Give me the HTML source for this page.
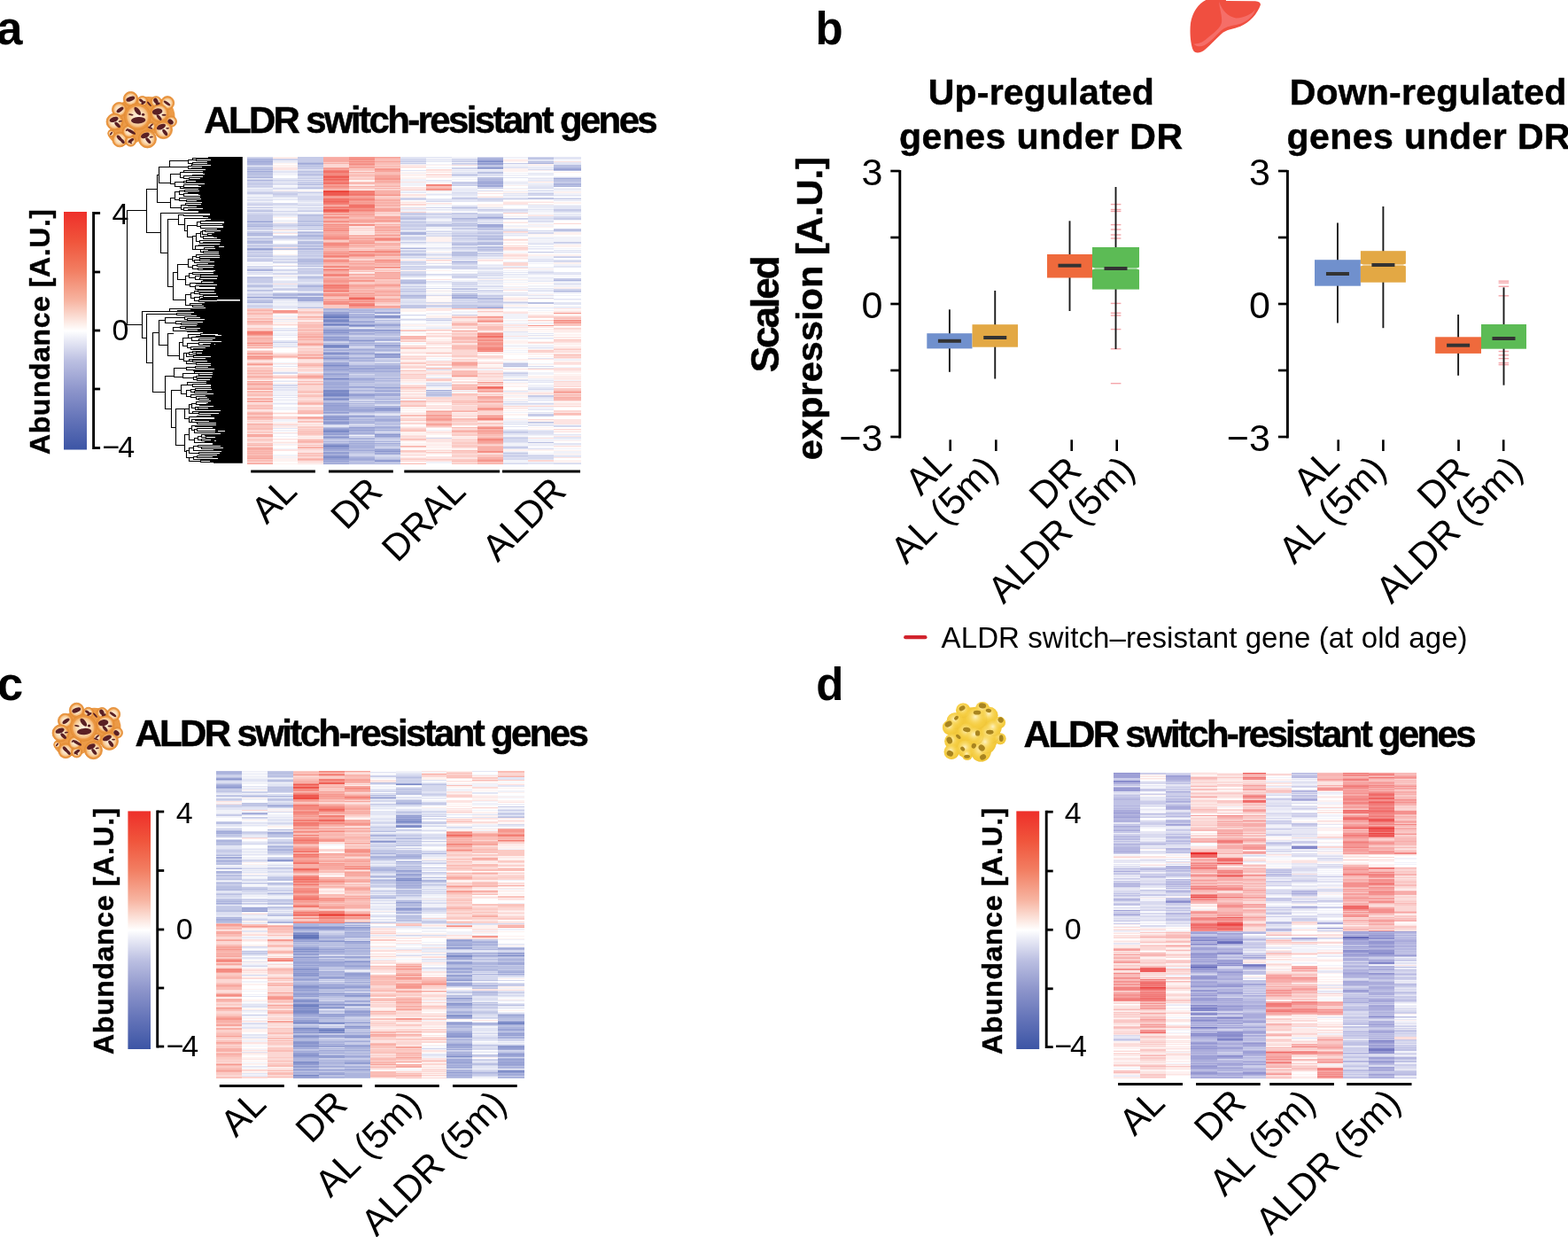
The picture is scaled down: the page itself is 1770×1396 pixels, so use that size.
<!DOCTYPE html>
<html lang="en">
<head>
<meta charset="utf-8">
<title>ALDR switch-resistant genes</title>
<style>
html,body{margin:0;padding:0;background:#fff;}
body{width:1770px;height:1396px;overflow:hidden;}
main,figure{display:block;margin:0;padding:0;width:1770px;height:1396px;}
svg{display:block;font-family:"Liberation Sans",sans-serif;fill:#000;}
</style>
</head>
<body>
<main>
<figure aria-label="ALDR switch-resistant genes across tissues">
<svg width="1770" height="1396" viewBox="0 0 1770 1396" role="img">
<defs>
<linearGradient id="cbg" x1="0" y1="0" x2="0" y2="1">
<stop offset="0" stop-color="#ee2f2a"/>
<stop offset="0.125" stop-color="#f0553c"/>
<stop offset="0.25" stop-color="#f27f63"/>
<stop offset="0.375" stop-color="#f7b5a2"/>
<stop offset="0.47" stop-color="#fdeee9"/>
<stop offset="0.5" stop-color="#ffffff"/>
<stop offset="0.53" stop-color="#eeeff8"/>
<stop offset="0.625" stop-color="#bcc0e2"/>
<stop offset="0.75" stop-color="#8d95cb"/>
<stop offset="0.875" stop-color="#6373b8"/>
<stop offset="1" stop-color="#3c55a5"/>
</linearGradient>
<radialGradient id="bg" cx="0.5" cy="0.5" r="0.5">
<stop offset="0" stop-color="#fdf1e0"/>
<stop offset="0.55" stop-color="#fbe0bc"/>
<stop offset="0.85" stop-color="#f6c48a"/>
<stop offset="1" stop-color="#f0a85e"/>
</radialGradient>
<radialGradient id="wg" cx="0.45" cy="0.4" r="0.6">
<stop offset="0" stop-color="#fff6d0" stop-opacity="0.9"/>
<stop offset="0.4" stop-color="#fbe07a" stop-opacity="0.6"/>
<stop offset="0.8" stop-color="#f6cf42" stop-opacity="0.15"/>
<stop offset="1" stop-color="#e9bd35" stop-opacity="0.55"/>
</radialGradient>
</defs>
<g id="panel-a" aria-label="Panel a: brown adipose tissue heatmap with dendrogram">
<g class="heatmap">
<g shape-rendering="crispEdges">
<path fill="#d4d8ee" d="M279.1 177h28.8v1h-28.8zM279.1 202h28.8v1h-28.8zM279.1 205h28.8v1h-28.8zM279.1 209h28.8v1h-28.8zM279.1 211h28.8v1h-28.8zM279.1 216h28.8v1h-28.8zM279.1 225h28.8v1h-28.8zM279.1 229h28.8v2h-28.8zM279.1 236h28.8v1h-28.8zM279.1 240h28.8v2h-28.8zM279.1 251h28.8v1h-28.8zM279.1 257h28.8v1h-28.8zM279.1 266h28.8v1h-28.8zM279.1 268h28.8v1h-28.8zM279.1 270h28.8v1h-28.8zM279.1 279h28.8v1h-28.8zM279.1 283h28.8v1h-28.8zM279.1 286h28.8v1h-28.8zM279.1 291h28.8v1h-28.8zM279.1 300h28.8v2h-28.8zM279.1 307h28.8v1h-28.8zM279.1 319h28.8v1h-28.8zM279.1 324h28.8v1h-28.8zM279.1 331h28.8v1h-28.8zM279.1 333h28.8v2h-28.8zM279.1 337h28.8v1h-28.8zM279.1 344h28.8v1h-28.8zM279.1 346h28.8v2h-28.8zM307.9 179h28.2v1h-28.2zM307.9 203h28.2v2h-28.2zM307.9 206h28.2v1h-28.2zM307.9 208h28.2v1h-28.2zM307.9 212h28.2v1h-28.2zM307.9 216h28.2v2h-28.2zM307.9 220h28.2v2h-28.2zM307.9 229h28.2v3h-28.2zM307.9 238h28.2v1h-28.2zM307.9 241h28.2v1h-28.2zM307.9 252h28.2v2h-28.2zM307.9 255h28.2v2h-28.2zM307.9 258h28.2v1h-28.2zM307.9 269h28.2v1h-28.2zM307.9 276h28.2v1h-28.2zM307.9 278h28.2v1h-28.2zM307.9 289h28.2v1h-28.2zM307.9 292h28.2v2h-28.2zM307.9 296h28.2v1h-28.2zM307.9 300h28.2v1h-28.2zM307.9 304h28.2v2h-28.2zM307.9 308h28.2v2h-28.2zM307.9 325h28.2v1h-28.2zM307.9 327h28.2v1h-28.2zM307.9 330h28.2v1h-28.2zM307.9 334h28.2v1h-28.2zM307.9 339h28.2v1h-28.2zM307.9 420h28.2v2h-28.2zM307.9 434h28.2v2h-28.2zM307.9 437h28.2v1h-28.2zM336.1 192h28.9v1h-28.9zM336.1 198h28.9v3h-28.9zM336.1 204h28.9v2h-28.9zM336.1 207h28.9v1h-28.9zM336.1 210h28.9v1h-28.9zM336.1 221h28.9v5h-28.9zM336.1 231h28.9v1h-28.9zM336.1 234h28.9v1h-28.9zM336.1 237h28.9v1h-28.9zM336.1 251h28.9v1h-28.9zM336.1 255h28.9v1h-28.9zM336.1 270h28.9v1h-28.9zM336.1 279h28.9v1h-28.9zM336.1 282h28.9v1h-28.9zM336.1 284h28.9v1h-28.9zM336.1 286h28.9v1h-28.9zM336.1 290h28.9v1h-28.9zM336.1 299h28.9v1h-28.9zM336.1 304h28.9v1h-28.9zM336.1 309h28.9v1h-28.9zM336.1 311h28.9v1h-28.9zM336.1 315h28.9v3h-28.9zM336.1 320h28.9v1h-28.9zM336.1 328h28.9v1h-28.9zM336.1 330h28.9v1h-28.9zM336.1 340h28.9v2h-28.9zM336.1 346h28.9v1h-28.9zM365 386h29v1h-29zM365 467h29v1h-29zM365 479h29v1h-29zM394 353h29.2v1h-29.2zM394 369h29.2v1h-29.2zM394 379h29.2v1h-29.2zM394 391h29.2v2h-29.2zM394 409h29.2v1h-29.2zM394 422h29.2v1h-29.2zM394 454h29.2v1h-29.2zM394 493h29.2v1h-29.2zM394 512h29.2v1h-29.2zM394 514h29.2v1h-29.2zM423.2 355h28.9v1h-28.9zM423.2 363h28.9v1h-28.9zM423.2 379h28.9v1h-28.9zM423.2 404h28.9v1h-28.9zM423.2 406h28.9v1h-28.9zM423.2 409h28.9v1h-28.9zM423.2 451h28.9v1h-28.9zM423.2 456h28.9v1h-28.9zM423.2 466h28.9v1h-28.9zM423.2 496h28.9v1h-28.9zM423.2 499h28.9v1h-28.9zM423.2 504h28.9v1h-28.9zM423.2 513h28.9v3h-28.9zM423.2 522h28.9v1h-28.9zM452.1 179h28.5v3h-28.5zM452.1 223h28.5v1h-28.5zM452.1 225h28.5v1h-28.5zM452.1 249h28.5v1h-28.5zM452.1 252h28.5v1h-28.5zM452.1 256h28.5v2h-28.5zM452.1 259h28.5v1h-28.5zM452.1 261h28.5v1h-28.5zM452.1 268h28.5v1h-28.5zM452.1 270h28.5v1h-28.5zM452.1 279h28.5v1h-28.5zM452.1 282h28.5v1h-28.5zM452.1 284h28.5v1h-28.5zM452.1 290h28.5v1h-28.5zM452.1 296h28.5v3h-28.5zM452.1 300h28.5v1h-28.5zM452.1 306h28.5v3h-28.5zM452.1 311h28.5v1h-28.5zM452.1 315h28.5v1h-28.5zM452.1 320h28.5v1h-28.5zM452.1 325h28.5v1h-28.5zM452.1 327h28.5v1h-28.5zM452.1 331h28.5v2h-28.5zM452.1 337h28.5v1h-28.5zM452.1 339h28.5v1h-28.5zM452.1 341h28.5v1h-28.5zM452.1 355h28.5v1h-28.5zM452.1 360h28.5v1h-28.5zM480.6 227h29.4v1h-29.4zM480.6 234h29.4v1h-29.4zM480.6 242h29.4v1h-29.4zM480.6 244h29.4v2h-29.4zM480.6 250h29.4v1h-29.4zM480.6 252h29.4v1h-29.4zM480.6 261h29.4v1h-29.4zM480.6 263h29.4v1h-29.4zM480.6 266h29.4v1h-29.4zM480.6 287h29.4v1h-29.4zM480.6 291h29.4v1h-29.4zM480.6 300h29.4v3h-29.4zM480.6 309h29.4v1h-29.4zM480.6 325h29.4v1h-29.4zM480.6 333h29.4v1h-29.4zM480.6 341h29.4v1h-29.4zM480.6 345h29.4v1h-29.4zM480.6 359h29.4v1h-29.4zM480.6 417h29.4v1h-29.4zM480.6 432h29.4v1h-29.4zM480.6 434h29.4v2h-29.4zM480.6 441h29.4v1h-29.4zM480.6 447h29.4v1h-29.4zM480.6 494h29.4v1h-29.4zM510 179h29.2v3h-29.2zM510 185h29.2v1h-29.2zM510 190h29.2v1h-29.2zM510 196h29.2v1h-29.2zM510 198h29.2v1h-29.2zM510 208h29.2v1h-29.2zM510 217h29.2v1h-29.2zM510 233h29.2v1h-29.2zM510 235h29.2v1h-29.2zM510 242h29.2v4h-29.2zM510 250h29.2v2h-29.2zM510 261h29.2v2h-29.2zM510 264h29.2v1h-29.2zM510 267h29.2v2h-29.2zM510 270h29.2v2h-29.2zM510 277h29.2v1h-29.2zM510 280h29.2v2h-29.2zM510 289h29.2v2h-29.2zM510 292h29.2v1h-29.2zM510 294h29.2v1h-29.2zM510 298h29.2v1h-29.2zM510 300h29.2v1h-29.2zM510 302h29.2v1h-29.2zM510 309h29.2v3h-29.2zM510 313h29.2v1h-29.2zM510 318h29.2v4h-29.2zM510 323h29.2v1h-29.2zM510 328h29.2v2h-29.2zM510 342h29.2v2h-29.2zM539.2 177h28.9v1h-28.9zM539.2 197h28.9v1h-28.9zM539.2 211h28.9v1h-28.9zM539.2 225h28.9v2h-28.9zM539.2 237h28.9v2h-28.9zM539.2 243h28.9v1h-28.9zM539.2 247h28.9v2h-28.9zM539.2 250h28.9v1h-28.9zM539.2 264h28.9v1h-28.9zM539.2 271h28.9v2h-28.9zM539.2 283h28.9v2h-28.9zM539.2 303h28.9v1h-28.9zM539.2 308h28.9v1h-28.9zM539.2 310h28.9v1h-28.9zM539.2 323h28.9v1h-28.9zM539.2 327h28.9v2h-28.9zM539.2 335h28.9v1h-28.9zM539.2 338h28.9v1h-28.9zM539.2 342h28.9v2h-28.9zM568.1 236h28.2v2h-28.2zM568.1 247h28.2v1h-28.2zM568.1 260h28.2v1h-28.2zM568.1 420h28.2v1h-28.2zM568.1 423h28.2v1h-28.2zM568.1 429h28.2v1h-28.2zM568.1 455h28.2v1h-28.2zM568.1 486h28.2v1h-28.2zM568.1 493h28.2v1h-28.2zM568.1 495h28.2v4h-28.2zM568.1 514h28.2v1h-28.2zM568.1 517h28.2v2h-28.2zM568.1 523h28.2v1h-28.2zM596.3 177h28.5v1h-28.5zM596.3 191h28.5v1h-28.5zM596.3 212h28.5v1h-28.5zM596.3 219h28.5v2h-28.5zM596.3 246h28.5v1h-28.5zM596.3 250h28.5v1h-28.5zM596.3 260h28.5v1h-28.5zM596.3 262h28.5v2h-28.5zM596.3 307h28.5v1h-28.5zM596.3 336h28.5v1h-28.5zM596.3 413h28.5v1h-28.5zM596.3 439h28.5v1h-28.5zM596.3 455h28.5v1h-28.5zM596.3 477h28.5v1h-28.5zM596.3 486h28.5v1h-28.5zM596.3 488h28.5v1h-28.5zM596.3 506h28.5v1h-28.5zM596.3 513h28.5v5h-28.5zM624.8 200h31v1h-31zM624.8 238h31v1h-31zM624.8 244h31v2h-31zM624.8 274h31v1h-31zM624.8 289h31v1h-31zM624.8 294h31v2h-31zM624.8 320h31v1h-31zM624.8 480h31v2h-31zM624.8 523h31v1h-31z"/>
<path fill="#c6cbe8" d="M279.1 178h28.8v1h-28.8zM279.1 186h28.8v1h-28.8zM279.1 188h28.8v1h-28.8zM279.1 192h28.8v1h-28.8zM279.1 198h28.8v1h-28.8zM279.1 204h28.8v1h-28.8zM279.1 206h28.8v3h-28.8zM279.1 210h28.8v1h-28.8zM279.1 217h28.8v2h-28.8zM279.1 231h28.8v1h-28.8zM279.1 234h28.8v1h-28.8zM279.1 237h28.8v1h-28.8zM279.1 242h28.8v7h-28.8zM279.1 256h28.8v1h-28.8zM279.1 261h28.8v2h-28.8zM279.1 271h28.8v1h-28.8zM279.1 276h28.8v3h-28.8zM279.1 284h28.8v2h-28.8zM279.1 287h28.8v2h-28.8zM279.1 292h28.8v3h-28.8zM279.1 303h28.8v1h-28.8zM279.1 312h28.8v1h-28.8zM279.1 314h28.8v5h-28.8zM279.1 321h28.8v1h-28.8zM279.1 328h28.8v1h-28.8zM279.1 332h28.8v1h-28.8zM279.1 336h28.8v1h-28.8zM279.1 338h28.8v1h-28.8zM279.1 345h28.8v1h-28.8zM307.9 180h28.2v1h-28.2zM307.9 218h28.2v2h-28.2zM307.9 254h28.2v1h-28.2zM307.9 266h28.2v3h-28.2zM307.9 277h28.2v1h-28.2zM307.9 280h28.2v1h-28.2zM307.9 295h28.2v1h-28.2zM307.9 326h28.2v1h-28.2zM307.9 386h28.2v1h-28.2zM336.1 177h28.9v6h-28.9zM336.1 186h28.9v1h-28.9zM336.1 188h28.9v3h-28.9zM336.1 194h28.9v3h-28.9zM336.1 201h28.9v1h-28.9zM336.1 203h28.9v1h-28.9zM336.1 211h28.9v1h-28.9zM336.1 217h28.9v1h-28.9zM336.1 238h28.9v1h-28.9zM336.1 244h28.9v5h-28.9zM336.1 253h28.9v1h-28.9zM336.1 256h28.9v1h-28.9zM336.1 261h28.9v1h-28.9zM336.1 263h28.9v2h-28.9zM336.1 268h28.9v1h-28.9zM336.1 275h28.9v2h-28.9zM336.1 287h28.9v3h-28.9zM336.1 291h28.9v1h-28.9zM336.1 296h28.9v1h-28.9zM336.1 298h28.9v1h-28.9zM336.1 305h28.9v4h-28.9zM336.1 314h28.9v1h-28.9zM336.1 321h28.9v1h-28.9zM336.1 324h28.9v4h-28.9zM365 368h29v1h-29zM365 385h29v1h-29zM365 393h29v1h-29zM365 396h29v1h-29zM365 408h29v1h-29zM365 496h29v2h-29zM365 499h29v1h-29zM394 348h29.2v1h-29.2zM394 361h29.2v1h-29.2zM394 378h29.2v1h-29.2zM394 390h29.2v1h-29.2zM394 401h29.2v2h-29.2zM394 408h29.2v1h-29.2zM394 410h29.2v2h-29.2zM394 423h29.2v1h-29.2zM394 425h29.2v1h-29.2zM394 432h29.2v1h-29.2zM394 434h29.2v1h-29.2zM394 438h29.2v2h-29.2zM394 442h29.2v2h-29.2zM394 452h29.2v1h-29.2zM394 456h29.2v1h-29.2zM394 466h29.2v1h-29.2zM394 471h29.2v1h-29.2zM394 478h29.2v1h-29.2zM394 480h29.2v2h-29.2zM394 490h29.2v1h-29.2zM394 492h29.2v1h-29.2zM394 496h29.2v1h-29.2zM394 513h29.2v1h-29.2zM394 520h29.2v1h-29.2zM394 522h29.2v1h-29.2zM423.2 350h28.9v2h-28.9zM423.2 359h28.9v1h-28.9zM423.2 362h28.9v1h-28.9zM423.2 370h28.9v2h-28.9zM423.2 386h28.9v1h-28.9zM423.2 393h28.9v1h-28.9zM423.2 398h28.9v1h-28.9zM423.2 405h28.9v1h-28.9zM423.2 425h28.9v1h-28.9zM423.2 428h28.9v1h-28.9zM423.2 431h28.9v2h-28.9zM423.2 442h28.9v1h-28.9zM423.2 447h28.9v1h-28.9zM423.2 449h28.9v1h-28.9zM423.2 477h28.9v1h-28.9zM423.2 479h28.9v2h-28.9zM423.2 488h28.9v1h-28.9zM423.2 494h28.9v2h-28.9zM423.2 497h28.9v1h-28.9zM423.2 505h28.9v1h-28.9zM423.2 516h28.9v2h-28.9zM452.1 182h28.5v1h-28.5zM452.1 184h28.5v1h-28.5zM452.1 224h28.5v1h-28.5zM452.1 240h28.5v3h-28.5zM452.1 244h28.5v2h-28.5zM452.1 250h28.5v2h-28.5zM452.1 253h28.5v3h-28.5zM452.1 258h28.5v1h-28.5zM452.1 267h28.5v1h-28.5zM452.1 269h28.5v1h-28.5zM452.1 273h28.5v1h-28.5zM452.1 283h28.5v1h-28.5zM452.1 288h28.5v1h-28.5zM452.1 295h28.5v1h-28.5zM452.1 301h28.5v1h-28.5zM452.1 303h28.5v1h-28.5zM452.1 309h28.5v2h-28.5zM452.1 323h28.5v1h-28.5zM452.1 326h28.5v1h-28.5zM452.1 328h28.5v2h-28.5zM452.1 336h28.5v1h-28.5zM452.1 344h28.5v1h-28.5zM452.1 346h28.5v1h-28.5zM480.6 241h29.4v1h-29.4zM480.6 255h29.4v1h-29.4zM480.6 344h29.4v1h-29.4zM480.6 346h29.4v1h-29.4zM480.6 361h29.4v1h-29.4zM480.6 443h29.4v1h-29.4zM510 182h29.2v1h-29.2zM510 184h29.2v1h-29.2zM510 189h29.2v1h-29.2zM510 205h29.2v3h-29.2zM510 209h29.2v1h-29.2zM510 223h29.2v2h-29.2zM510 240h29.2v2h-29.2zM510 248h29.2v2h-29.2zM510 253h29.2v1h-29.2zM510 255h29.2v1h-29.2zM510 257h29.2v2h-29.2zM510 263h29.2v1h-29.2zM510 265h29.2v1h-29.2zM510 269h29.2v1h-29.2zM510 273h29.2v2h-29.2zM510 276h29.2v1h-29.2zM510 296h29.2v2h-29.2zM510 301h29.2v1h-29.2zM510 303h29.2v1h-29.2zM510 312h29.2v1h-29.2zM510 325h29.2v1h-29.2zM510 332h29.2v1h-29.2zM510 337h29.2v1h-29.2zM510 339h29.2v1h-29.2zM510 341h29.2v1h-29.2zM510 345h29.2v1h-29.2zM510 347h29.2v1h-29.2zM510 355h29.2v1h-29.2zM539.2 186h28.9v1h-28.9zM539.2 212h28.9v1h-28.9zM539.2 224h28.9v1h-28.9zM539.2 236h28.9v1h-28.9zM539.2 257h28.9v1h-28.9zM539.2 259h28.9v1h-28.9zM539.2 261h28.9v2h-28.9zM539.2 265h28.9v1h-28.9zM539.2 268h28.9v1h-28.9zM539.2 280h28.9v1h-28.9zM539.2 288h28.9v1h-28.9zM539.2 333h28.9v2h-28.9zM539.2 339h28.9v3h-28.9zM539.2 344h28.9v2h-28.9zM568.1 184h28.2v1h-28.2zM568.1 224h28.2v1h-28.2zM568.1 246h28.2v1h-28.2zM568.1 341h28.2v1h-28.2zM568.1 411h28.2v2h-28.2zM568.1 421h28.2v1h-28.2zM568.1 487h28.2v2h-28.2zM568.1 494h28.2v1h-28.2zM568.1 504h28.2v2h-28.2zM568.1 513h28.2v1h-28.2zM568.1 515h28.2v1h-28.2zM596.3 179h28.5v1h-28.5zM596.3 183h28.5v1h-28.5zM596.3 218h28.5v1h-28.5zM596.3 224h28.5v1h-28.5zM596.3 284h28.5v1h-28.5zM596.3 446h28.5v2h-28.5zM596.3 467h28.5v3h-28.5zM624.8 205h31v2h-31zM624.8 224h31v1h-31zM624.8 236h31v2h-31zM624.8 246h31v2h-31zM624.8 258h31v1h-31zM624.8 273h31v1h-31zM624.8 290h31v1h-31zM624.8 314h31v2h-31zM624.8 326h31v1h-31z"/>
<path fill="#acb4dd" d="M279.1 179h28.8v3h-28.8zM279.1 183h28.8v3h-28.8zM279.1 191h28.8v1h-28.8zM279.1 200h28.8v1h-28.8zM279.1 203h28.8v1h-28.8zM279.1 255h28.8v1h-28.8zM279.1 263h28.8v1h-28.8zM279.1 265h28.8v1h-28.8zM279.1 272h28.8v1h-28.8zM279.1 274h28.8v1h-28.8zM279.1 304h28.8v2h-28.8zM279.1 341h28.8v1h-28.8zM307.9 332h28.2v2h-28.2zM336.1 185h28.9v1h-28.9zM336.1 197h28.9v1h-28.9zM336.1 208h28.9v1h-28.9zM336.1 254h28.9v1h-28.9zM336.1 262h28.9v1h-28.9zM336.1 265h28.9v2h-28.9zM336.1 274h28.9v1h-28.9zM336.1 280h28.9v2h-28.9zM336.1 293h28.9v1h-28.9zM336.1 295h28.9v1h-28.9zM336.1 322h28.9v2h-28.9zM336.1 331h28.9v1h-28.9zM336.1 333h28.9v1h-28.9zM365 348h29v2h-29zM365 370h29v2h-29zM365 379h29v1h-29zM365 387h29v1h-29zM365 394h29v1h-29zM365 400h29v1h-29zM365 418h29v2h-29zM365 423h29v1h-29zM365 429h29v2h-29zM365 435h29v1h-29zM365 438h29v2h-29zM365 448h29v1h-29zM365 454h29v1h-29zM365 464h29v1h-29zM365 474h29v1h-29zM365 498h29v1h-29zM365 500h29v1h-29zM365 513h29v1h-29zM394 349h29.2v2h-29.2zM394 354h29.2v3h-29.2zM394 364h29.2v1h-29.2zM394 371h29.2v1h-29.2zM394 374h29.2v1h-29.2zM394 377h29.2v1h-29.2zM394 383h29.2v1h-29.2zM394 385h29.2v1h-29.2zM394 389h29.2v1h-29.2zM394 395h29.2v1h-29.2zM394 403h29.2v1h-29.2zM394 406h29.2v2h-29.2zM394 412h29.2v1h-29.2zM394 418h29.2v1h-29.2zM394 426h29.2v1h-29.2zM394 429h29.2v1h-29.2zM394 431h29.2v1h-29.2zM394 440h29.2v1h-29.2zM394 447h29.2v2h-29.2zM394 455h29.2v1h-29.2zM394 459h29.2v1h-29.2zM394 461h29.2v1h-29.2zM394 473h29.2v1h-29.2zM394 475h29.2v3h-29.2zM394 484h29.2v1h-29.2zM394 486h29.2v3h-29.2zM394 494h29.2v2h-29.2zM394 501h29.2v2h-29.2zM394 504h29.2v1h-29.2zM394 507h29.2v1h-29.2zM394 515h29.2v2h-29.2zM394 521h29.2v1h-29.2zM394 523h29.2v1h-29.2zM423.2 382h28.9v1h-28.9zM423.2 384h28.9v1h-28.9zM423.2 387h28.9v1h-28.9zM423.2 394h28.9v2h-28.9zM423.2 407h28.9v1h-28.9zM423.2 412h28.9v1h-28.9zM423.2 414h28.9v1h-28.9zM423.2 416h28.9v3h-28.9zM423.2 427h28.9v1h-28.9zM423.2 429h28.9v1h-28.9zM423.2 438h28.9v1h-28.9zM423.2 440h28.9v1h-28.9zM423.2 453h28.9v1h-28.9zM423.2 458h28.9v2h-28.9zM423.2 470h28.9v1h-28.9zM423.2 472h28.9v1h-28.9zM423.2 475h28.9v1h-28.9zM423.2 478h28.9v1h-28.9zM423.2 481h28.9v1h-28.9zM423.2 483h28.9v1h-28.9zM423.2 485h28.9v1h-28.9zM423.2 493h28.9v1h-28.9zM423.2 498h28.9v1h-28.9zM423.2 510h28.9v1h-28.9zM423.2 521h28.9v1h-28.9zM423.2 523h28.9v1h-28.9zM452.1 262h28.5v3h-28.5zM452.1 280h28.5v1h-28.5zM452.1 319h28.5v1h-28.5zM452.1 333h28.5v1h-28.5zM510 246h29.2v1h-29.2zM510 275h29.2v1h-29.2zM510 295h29.2v1h-29.2zM510 336h29.2v1h-29.2zM539.2 178h28.9v2h-28.9zM539.2 183h28.9v1h-28.9zM539.2 190h28.9v1h-28.9zM539.2 202h28.9v1h-28.9zM539.2 205h28.9v1h-28.9zM539.2 207h28.9v2h-28.9zM539.2 246h28.9v1h-28.9zM539.2 256h28.9v1h-28.9zM539.2 269h28.9v1h-28.9zM539.2 274h28.9v1h-28.9zM539.2 278h28.9v1h-28.9zM539.2 286h28.9v1h-28.9zM539.2 337h28.9v1h-28.9zM539.2 346h28.9v1h-28.9zM596.3 184h28.5v1h-28.5zM624.8 189h31v1h-31zM624.8 207h31v2h-31zM624.8 210h31v1h-31zM624.8 316h31v1h-31z"/>
<path fill="#a0a9d8" d="M279.1 182h28.8v1h-28.8zM279.1 193h28.8v1h-28.8zM279.1 280h28.8v1h-28.8zM336.1 184h28.9v1h-28.9zM336.1 332h28.9v1h-28.9zM336.1 335h28.9v5h-28.9zM365 353h29v1h-29zM365 359h29v1h-29zM365 364h29v1h-29zM365 376h29v2h-29zM365 382h29v1h-29zM365 384h29v1h-29zM365 395h29v1h-29zM365 397h29v1h-29zM365 402h29v2h-29zM365 405h29v1h-29zM365 410h29v1h-29zM365 414h29v3h-29zM365 421h29v1h-29zM365 424h29v1h-29zM365 426h29v1h-29zM365 431h29v4h-29zM365 436h29v2h-29zM365 456h29v1h-29zM365 459h29v1h-29zM365 461h29v1h-29zM365 463h29v1h-29zM365 466h29v1h-29zM365 469h29v1h-29zM365 475h29v1h-29zM365 483h29v1h-29zM365 488h29v1h-29zM365 492h29v1h-29zM365 494h29v1h-29zM365 507h29v2h-29zM365 512h29v1h-29zM365 519h29v3h-29zM394 352h29.2v1h-29.2zM394 357h29.2v2h-29.2zM394 362h29.2v2h-29.2zM394 368h29.2v1h-29.2zM394 376h29.2v1h-29.2zM394 387h29.2v1h-29.2zM394 394h29.2v1h-29.2zM394 398h29.2v2h-29.2zM394 404h29.2v1h-29.2zM394 413h29.2v1h-29.2zM394 416h29.2v2h-29.2zM394 419h29.2v1h-29.2zM394 427h29.2v2h-29.2zM394 436h29.2v2h-29.2zM394 444h29.2v1h-29.2zM394 460h29.2v1h-29.2zM394 463h29.2v2h-29.2zM394 469h29.2v1h-29.2zM394 483h29.2v1h-29.2zM394 489h29.2v1h-29.2zM394 498h29.2v1h-29.2zM394 500h29.2v1h-29.2zM394 503h29.2v1h-29.2zM394 505h29.2v1h-29.2zM394 508h29.2v1h-29.2zM394 517h29.2v3h-29.2zM423.2 352h28.9v1h-28.9zM423.2 367h28.9v1h-28.9zM423.2 375h28.9v1h-28.9zM423.2 383h28.9v1h-28.9zM423.2 389h28.9v1h-28.9zM423.2 392h28.9v1h-28.9zM423.2 401h28.9v1h-28.9zM423.2 413h28.9v1h-28.9zM423.2 419h28.9v1h-28.9zM423.2 444h28.9v3h-28.9zM423.2 450h28.9v1h-28.9zM423.2 473h28.9v2h-28.9zM423.2 482h28.9v1h-28.9zM423.2 491h28.9v1h-28.9zM423.2 500h28.9v1h-28.9zM423.2 508h28.9v1h-28.9zM423.2 511h28.9v2h-28.9zM480.6 440h29.4v1h-29.4zM510 333h29.2v1h-29.2zM510 335h29.2v1h-29.2zM539.2 180h28.9v1h-28.9zM539.2 204h28.9v1h-28.9zM539.2 209h28.9v2h-28.9zM539.2 245h28.9v1h-28.9zM539.2 253h28.9v3h-28.9zM539.2 347h28.9v1h-28.9zM624.8 190h31v1h-31zM624.8 201h31v1h-31zM624.8 328h31v1h-31z"/>
<path fill="#e2e5f4" d="M279.1 187h28.8v1h-28.8zM279.1 201h28.8v1h-28.8zM279.1 213h28.8v3h-28.8zM279.1 219h28.8v1h-28.8zM279.1 222h28.8v2h-28.8zM279.1 226h28.8v1h-28.8zM279.1 228h28.8v1h-28.8zM279.1 233h28.8v1h-28.8zM279.1 239h28.8v1h-28.8zM279.1 259h28.8v2h-28.8zM279.1 267h28.8v1h-28.8zM279.1 275h28.8v1h-28.8zM279.1 290h28.8v1h-28.8zM279.1 295h28.8v1h-28.8zM279.1 302h28.8v1h-28.8zM279.1 308h28.8v2h-28.8zM279.1 320h28.8v1h-28.8zM279.1 325h28.8v2h-28.8zM279.1 329h28.8v2h-28.8zM279.1 342h28.8v2h-28.8zM307.9 182h28.2v1h-28.2zM307.9 193h28.2v2h-28.2zM307.9 201h28.2v2h-28.2zM307.9 207h28.2v1h-28.2zM307.9 213h28.2v1h-28.2zM307.9 222h28.2v1h-28.2zM307.9 225h28.2v1h-28.2zM307.9 233h28.2v2h-28.2zM307.9 239h28.2v1h-28.2zM307.9 242h28.2v2h-28.2zM307.9 262h28.2v1h-28.2zM307.9 270h28.2v1h-28.2zM307.9 275h28.2v1h-28.2zM307.9 288h28.2v1h-28.2zM307.9 290h28.2v2h-28.2zM307.9 312h28.2v1h-28.2zM307.9 317h28.2v3h-28.2zM307.9 321h28.2v3h-28.2zM307.9 341h28.2v1h-28.2zM307.9 345h28.2v3h-28.2zM307.9 360h28.2v1h-28.2zM307.9 370h28.2v1h-28.2zM307.9 372h28.2v2h-28.2zM307.9 378h28.2v1h-28.2zM307.9 384h28.2v2h-28.2zM307.9 388h28.2v1h-28.2zM307.9 390h28.2v2h-28.2zM307.9 413h28.2v1h-28.2zM307.9 430h28.2v1h-28.2zM307.9 439h28.2v2h-28.2zM307.9 446h28.2v1h-28.2zM307.9 448h28.2v1h-28.2zM307.9 455h28.2v1h-28.2zM307.9 483h28.2v1h-28.2zM336.1 191h28.9v1h-28.9zM336.1 202h28.9v1h-28.9zM336.1 209h28.9v1h-28.9zM336.1 213h28.9v1h-28.9zM336.1 216h28.9v1h-28.9zM336.1 218h28.9v3h-28.9zM336.1 226h28.9v2h-28.9zM336.1 229h28.9v2h-28.9zM336.1 232h28.9v1h-28.9zM336.1 235h28.9v2h-28.9zM336.1 241h28.9v1h-28.9zM336.1 257h28.9v1h-28.9zM336.1 259h28.9v1h-28.9zM336.1 271h28.9v1h-28.9zM336.1 301h28.9v2h-28.9zM336.1 318h28.9v2h-28.9zM336.1 334h28.9v1h-28.9zM336.1 342h28.9v4h-28.9zM365 480h29v2h-29zM394 451h29.2v1h-29.2zM394 467h29.2v1h-29.2zM394 479h29.2v1h-29.2zM423.2 354h28.9v1h-28.9zM423.2 360h28.9v1h-28.9zM423.2 397h28.9v1h-28.9zM423.2 408h28.9v1h-28.9zM423.2 457h28.9v1h-28.9zM423.2 467h28.9v2h-28.9zM423.2 487h28.9v1h-28.9zM452.1 177h28.5v2h-28.5zM452.1 183h28.5v1h-28.5zM452.1 192h28.5v1h-28.5zM452.1 217h28.5v1h-28.5zM452.1 234h28.5v1h-28.5zM452.1 236h28.5v1h-28.5zM452.1 243h28.5v1h-28.5zM452.1 248h28.5v1h-28.5zM452.1 265h28.5v1h-28.5zM452.1 271h28.5v1h-28.5zM452.1 274h28.5v2h-28.5zM452.1 285h28.5v1h-28.5zM452.1 289h28.5v1h-28.5zM452.1 291h28.5v1h-28.5zM452.1 302h28.5v1h-28.5zM452.1 304h28.5v1h-28.5zM452.1 312h28.5v1h-28.5zM452.1 321h28.5v2h-28.5zM452.1 324h28.5v1h-28.5zM452.1 330h28.5v1h-28.5zM452.1 340h28.5v1h-28.5zM452.1 342h28.5v2h-28.5zM452.1 361h28.5v1h-28.5zM480.6 177h29.4v1h-29.4zM480.6 180h29.4v1h-29.4zM480.6 182h29.4v1h-29.4zM480.6 203h29.4v1h-29.4zM480.6 219h29.4v1h-29.4zM480.6 224h29.4v3h-29.4zM480.6 236h29.4v1h-29.4zM480.6 240h29.4v1h-29.4zM480.6 243h29.4v1h-29.4zM480.6 246h29.4v1h-29.4zM480.6 251h29.4v1h-29.4zM480.6 260h29.4v1h-29.4zM480.6 264h29.4v2h-29.4zM480.6 273h29.4v1h-29.4zM480.6 279h29.4v2h-29.4zM480.6 286h29.4v1h-29.4zM480.6 288h29.4v1h-29.4zM480.6 297h29.4v1h-29.4zM480.6 310h29.4v1h-29.4zM480.6 317h29.4v2h-29.4zM480.6 342h29.4v1h-29.4zM480.6 360h29.4v1h-29.4zM480.6 370h29.4v1h-29.4zM480.6 426h29.4v1h-29.4zM480.6 433h29.4v1h-29.4zM510 192h29.2v1h-29.2zM510 194h29.2v2h-29.2zM510 213h29.2v1h-29.2zM510 215h29.2v1h-29.2zM510 218h29.2v3h-29.2zM510 222h29.2v1h-29.2zM510 225h29.2v3h-29.2zM510 232h29.2v1h-29.2zM510 236h29.2v2h-29.2zM510 256h29.2v1h-29.2zM510 259h29.2v2h-29.2zM510 272h29.2v1h-29.2zM510 278h29.2v1h-29.2zM510 282h29.2v2h-29.2zM510 291h29.2v1h-29.2zM510 299h29.2v1h-29.2zM510 322h29.2v1h-29.2zM510 327h29.2v1h-29.2zM510 338h29.2v1h-29.2zM510 340h29.2v1h-29.2zM539.2 192h28.9v2h-28.9zM539.2 196h28.9v1h-28.9zM539.2 198h28.9v1h-28.9zM539.2 215h28.9v1h-28.9zM539.2 223h28.9v1h-28.9zM539.2 227h28.9v1h-28.9zM539.2 234h28.9v1h-28.9zM539.2 240h28.9v2h-28.9zM539.2 251h28.9v2h-28.9zM539.2 260h28.9v1h-28.9zM539.2 289h28.9v1h-28.9zM539.2 291h28.9v1h-28.9zM539.2 299h28.9v1h-28.9zM539.2 301h28.9v2h-28.9zM539.2 306h28.9v2h-28.9zM539.2 309h28.9v1h-28.9zM539.2 311h28.9v1h-28.9zM539.2 313h28.9v2h-28.9zM539.2 316h28.9v2h-28.9zM539.2 319h28.9v1h-28.9zM539.2 322h28.9v1h-28.9zM539.2 325h28.9v1h-28.9zM539.2 329h28.9v2h-28.9zM539.2 332h28.9v1h-28.9zM568.1 188h28.2v2h-28.2zM568.1 200h28.2v1h-28.2zM568.1 206h28.2v1h-28.2zM568.1 218h28.2v1h-28.2zM568.1 220h28.2v1h-28.2zM568.1 223h28.2v1h-28.2zM568.1 238h28.2v2h-28.2zM568.1 258h28.2v2h-28.2zM568.1 263h28.2v1h-28.2zM568.1 265h28.2v1h-28.2zM568.1 301h28.2v1h-28.2zM568.1 307h28.2v1h-28.2zM568.1 309h28.2v1h-28.2zM568.1 330h28.2v1h-28.2zM568.1 332h28.2v2h-28.2zM568.1 340h28.2v1h-28.2zM568.1 342h28.2v1h-28.2zM568.1 347h28.2v1h-28.2zM568.1 374h28.2v1h-28.2zM568.1 409h28.2v1h-28.2zM568.1 422h28.2v1h-28.2zM568.1 425h28.2v1h-28.2zM568.1 428h28.2v1h-28.2zM568.1 441h28.2v1h-28.2zM568.1 453h28.2v1h-28.2zM568.1 456h28.2v1h-28.2zM568.1 476h28.2v1h-28.2zM568.1 478h28.2v1h-28.2zM568.1 481h28.2v1h-28.2zM568.1 485h28.2v1h-28.2zM568.1 489h28.2v2h-28.2zM568.1 499h28.2v1h-28.2zM568.1 503h28.2v1h-28.2zM568.1 506h28.2v1h-28.2zM568.1 510h28.2v1h-28.2zM568.1 512h28.2v1h-28.2zM568.1 516h28.2v1h-28.2zM568.1 522h28.2v1h-28.2zM596.3 180h28.5v2h-28.5zM596.3 189h28.5v1h-28.5zM596.3 195h28.5v1h-28.5zM596.3 197h28.5v1h-28.5zM596.3 201h28.5v1h-28.5zM596.3 203h28.5v1h-28.5zM596.3 207h28.5v1h-28.5zM596.3 209h28.5v3h-28.5zM596.3 214h28.5v2h-28.5zM596.3 217h28.5v1h-28.5zM596.3 231h28.5v1h-28.5zM596.3 233h28.5v1h-28.5zM596.3 236h28.5v1h-28.5zM596.3 244h28.5v2h-28.5zM596.3 247h28.5v3h-28.5zM596.3 268h28.5v1h-28.5zM596.3 274h28.5v2h-28.5zM596.3 278h28.5v1h-28.5zM596.3 280h28.5v1h-28.5zM596.3 292h28.5v4h-28.5zM596.3 306h28.5v1h-28.5zM596.3 308h28.5v2h-28.5zM596.3 313h28.5v1h-28.5zM596.3 317h28.5v1h-28.5zM596.3 325h28.5v1h-28.5zM596.3 327h28.5v2h-28.5zM596.3 333h28.5v1h-28.5zM596.3 347h28.5v1h-28.5zM596.3 376h28.5v1h-28.5zM596.3 378h28.5v1h-28.5zM596.3 381h28.5v1h-28.5zM596.3 392h28.5v1h-28.5zM596.3 404h28.5v1h-28.5zM596.3 415h28.5v1h-28.5zM596.3 429h28.5v1h-28.5zM596.3 431h28.5v1h-28.5zM596.3 437h28.5v2h-28.5zM596.3 448h28.5v2h-28.5zM596.3 451h28.5v1h-28.5zM596.3 456h28.5v1h-28.5zM596.3 462h28.5v1h-28.5zM596.3 465h28.5v1h-28.5zM596.3 479h28.5v2h-28.5zM596.3 487h28.5v1h-28.5zM596.3 489h28.5v2h-28.5zM596.3 502h28.5v1h-28.5zM596.3 518h28.5v1h-28.5zM596.3 522h28.5v2h-28.5zM624.8 177h31v3h-31zM624.8 183h31v3h-31zM624.8 213h31v1h-31zM624.8 220h31v1h-31zM624.8 223h31v1h-31zM624.8 226h31v1h-31zM624.8 232h31v4h-31zM624.8 239h31v1h-31zM624.8 242h31v1h-31zM624.8 261h31v1h-31zM624.8 282h31v1h-31zM624.8 284h31v1h-31zM624.8 293h31v1h-31zM624.8 300h31v2h-31zM624.8 307h31v3h-31zM624.8 317h31v1h-31zM624.8 327h31v1h-31zM624.8 329h31v2h-31zM624.8 337h31v1h-31zM624.8 341h31v3h-31zM624.8 346h31v1h-31zM624.8 490h31v1h-31zM624.8 493h31v2h-31zM624.8 500h31v2h-31zM624.8 514h31v2h-31zM624.8 522h31v1h-31z"/>
<path fill="#b9c0e2" d="M279.1 189h28.8v2h-28.8zM279.1 194h28.8v4h-28.8zM279.1 199h28.8v1h-28.8zM279.1 238h28.8v1h-28.8zM279.1 249h28.8v1h-28.8zM279.1 252h28.8v3h-28.8zM279.1 258h28.8v1h-28.8zM279.1 264h28.8v1h-28.8zM279.1 269h28.8v1h-28.8zM279.1 273h28.8v1h-28.8zM279.1 282h28.8v1h-28.8zM279.1 289h28.8v1h-28.8zM279.1 313h28.8v1h-28.8zM279.1 322h28.8v2h-28.8zM279.1 327h28.8v1h-28.8zM279.1 339h28.8v2h-28.8zM307.9 281h28.2v1h-28.2zM307.9 331h28.2v1h-28.2zM307.9 336h28.2v2h-28.2zM336.1 183h28.9v1h-28.9zM336.1 187h28.9v1h-28.9zM336.1 193h28.9v1h-28.9zM336.1 206h28.9v1h-28.9zM336.1 212h28.9v1h-28.9zM336.1 242h28.9v2h-28.9zM336.1 249h28.9v2h-28.9zM336.1 252h28.9v1h-28.9zM336.1 258h28.9v1h-28.9zM336.1 267h28.9v1h-28.9zM336.1 269h28.9v1h-28.9zM336.1 272h28.9v2h-28.9zM336.1 277h28.9v2h-28.9zM336.1 283h28.9v1h-28.9zM336.1 285h28.9v1h-28.9zM336.1 292h28.9v1h-28.9zM336.1 294h28.9v1h-28.9zM336.1 297h28.9v1h-28.9zM336.1 300h28.9v1h-28.9zM336.1 303h28.9v1h-28.9zM336.1 312h28.9v2h-28.9zM336.1 347h28.9v1h-28.9zM365 350h29v2h-29zM365 369h29v1h-29zM365 378h29v1h-29zM365 388h29v1h-29zM365 401h29v1h-29zM365 406h29v2h-29zM365 420h29v1h-29zM365 425h29v1h-29zM365 452h29v2h-29zM365 468h29v1h-29zM365 482h29v1h-29zM365 491h29v1h-29zM365 495h29v1h-29zM365 509h29v1h-29zM365 522h29v1h-29zM394 351h29.2v1h-29.2zM394 359h29.2v2h-29.2zM394 365h29.2v1h-29.2zM394 375h29.2v1h-29.2zM394 380h29.2v3h-29.2zM394 386h29.2v1h-29.2zM394 388h29.2v1h-29.2zM394 393h29.2v1h-29.2zM394 396h29.2v2h-29.2zM394 400h29.2v1h-29.2zM394 405h29.2v1h-29.2zM394 414h29.2v1h-29.2zM394 420h29.2v2h-29.2zM394 424h29.2v1h-29.2zM394 430h29.2v1h-29.2zM394 433h29.2v1h-29.2zM394 435h29.2v1h-29.2zM394 441h29.2v1h-29.2zM394 449h29.2v2h-29.2zM394 453h29.2v1h-29.2zM394 457h29.2v2h-29.2zM394 465h29.2v1h-29.2zM394 468h29.2v1h-29.2zM394 472h29.2v1h-29.2zM394 474h29.2v1h-29.2zM394 497h29.2v1h-29.2zM394 499h29.2v1h-29.2zM394 506h29.2v1h-29.2zM394 509h29.2v3h-29.2zM423.2 348h28.9v2h-28.9zM423.2 361h28.9v1h-28.9zM423.2 364h28.9v2h-28.9zM423.2 368h28.9v2h-28.9zM423.2 374h28.9v1h-28.9zM423.2 376h28.9v3h-28.9zM423.2 380h28.9v2h-28.9zM423.2 388h28.9v1h-28.9zM423.2 391h28.9v1h-28.9zM423.2 396h28.9v1h-28.9zM423.2 410h28.9v2h-28.9zM423.2 420h28.9v5h-28.9zM423.2 426h28.9v1h-28.9zM423.2 430h28.9v1h-28.9zM423.2 433h28.9v4h-28.9zM423.2 439h28.9v1h-28.9zM423.2 443h28.9v1h-28.9zM423.2 448h28.9v1h-28.9zM423.2 452h28.9v1h-28.9zM423.2 454h28.9v2h-28.9zM423.2 464h28.9v2h-28.9zM423.2 469h28.9v1h-28.9zM423.2 471h28.9v1h-28.9zM423.2 476h28.9v1h-28.9zM423.2 484h28.9v1h-28.9zM423.2 486h28.9v1h-28.9zM423.2 489h28.9v1h-28.9zM423.2 501h28.9v3h-28.9zM423.2 506h28.9v1h-28.9zM423.2 518h28.9v1h-28.9zM452.1 246h28.5v2h-28.5zM452.1 286h28.5v2h-28.5zM452.1 316h28.5v3h-28.5zM452.1 334h28.5v2h-28.5zM452.1 345h28.5v1h-28.5zM452.1 347h28.5v1h-28.5zM480.6 253h29.4v2h-29.4zM480.6 442h29.4v1h-29.4zM480.6 444h29.4v3h-29.4zM510 197h29.2v1h-29.2zM510 234h29.2v1h-29.2zM510 247h29.2v1h-29.2zM510 252h29.2v1h-29.2zM510 254h29.2v1h-29.2zM510 266h29.2v1h-29.2zM510 279h29.2v1h-29.2zM510 284h29.2v5h-29.2zM510 326h29.2v1h-29.2zM510 331h29.2v1h-29.2zM510 334h29.2v1h-29.2zM510 344h29.2v1h-29.2zM510 346h29.2v1h-29.2zM539.2 187h28.9v2h-28.9zM539.2 194h28.9v2h-28.9zM539.2 200h28.9v2h-28.9zM539.2 203h28.9v1h-28.9zM539.2 242h28.9v1h-28.9zM539.2 244h28.9v1h-28.9zM539.2 258h28.9v1h-28.9zM539.2 263h28.9v1h-28.9zM539.2 266h28.9v2h-28.9zM539.2 270h28.9v1h-28.9zM539.2 273h28.9v1h-28.9zM539.2 275h28.9v2h-28.9zM539.2 279h28.9v1h-28.9zM539.2 281h28.9v2h-28.9zM539.2 336h28.9v1h-28.9zM568.1 410h28.2v1h-28.2zM568.1 413h28.2v1h-28.2zM568.1 511h28.2v1h-28.2zM596.3 178h28.5v1h-28.5zM596.3 182h28.5v1h-28.5zM596.3 223h28.5v1h-28.5zM596.3 341h28.5v2h-28.5zM596.3 476h28.5v1h-28.5zM596.3 499h28.5v1h-28.5zM624.8 186h31v3h-31zM624.8 192h31v1h-31zM624.8 202h31v3h-31zM624.8 209h31v1h-31zM624.8 259h31v2h-31z"/>
<path fill="#f1f2f9" d="M279.1 212h28.8v1h-28.8zM279.1 220h28.8v2h-28.8zM279.1 224h28.8v1h-28.8zM279.1 227h28.8v1h-28.8zM279.1 232h28.8v1h-28.8zM279.1 235h28.8v1h-28.8zM279.1 297h28.8v2h-28.8zM279.1 306h28.8v1h-28.8zM279.1 310h28.8v1h-28.8zM307.9 181h28.2v1h-28.2zM307.9 183h28.2v1h-28.2zM307.9 192h28.2v1h-28.2zM307.9 195h28.2v3h-28.2zM307.9 205h28.2v1h-28.2zM307.9 210h28.2v2h-28.2zM307.9 214h28.2v1h-28.2zM307.9 223h28.2v2h-28.2zM307.9 232h28.2v1h-28.2zM307.9 235h28.2v3h-28.2zM307.9 240h28.2v1h-28.2zM307.9 244h28.2v1h-28.2zM307.9 248h28.2v3h-28.2zM307.9 257h28.2v1h-28.2zM307.9 261h28.2v1h-28.2zM307.9 265h28.2v1h-28.2zM307.9 271h28.2v1h-28.2zM307.9 294h28.2v1h-28.2zM307.9 297h28.2v1h-28.2zM307.9 303h28.2v1h-28.2zM307.9 306h28.2v2h-28.2zM307.9 310h28.2v1h-28.2zM307.9 313h28.2v2h-28.2zM307.9 316h28.2v1h-28.2zM307.9 324h28.2v1h-28.2zM307.9 328h28.2v1h-28.2zM307.9 342h28.2v3h-28.2zM307.9 348h28.2v1h-28.2zM307.9 356h28.2v2h-28.2zM307.9 362h28.2v1h-28.2zM307.9 371h28.2v1h-28.2zM307.9 375h28.2v3h-28.2zM307.9 380h28.2v1h-28.2zM307.9 387h28.2v1h-28.2zM307.9 389h28.2v1h-28.2zM307.9 409h28.2v1h-28.2zM307.9 411h28.2v1h-28.2zM307.9 419h28.2v1h-28.2zM307.9 429h28.2v1h-28.2zM307.9 433h28.2v1h-28.2zM307.9 436h28.2v1h-28.2zM307.9 438h28.2v1h-28.2zM307.9 441h28.2v5h-28.2zM307.9 450h28.2v3h-28.2zM307.9 454h28.2v1h-28.2zM307.9 456h28.2v1h-28.2zM307.9 459h28.2v4h-28.2zM307.9 473h28.2v3h-28.2zM307.9 480h28.2v1h-28.2zM307.9 485h28.2v2h-28.2zM307.9 489h28.2v1h-28.2zM307.9 492h28.2v1h-28.2zM307.9 501h28.2v1h-28.2zM307.9 506h28.2v1h-28.2zM307.9 513h28.2v2h-28.2zM307.9 516h28.2v1h-28.2zM336.1 228h28.9v1h-28.9zM336.1 233h28.9v1h-28.9zM336.1 239h28.9v2h-28.9zM336.1 260h28.9v1h-28.9zM336.1 310h28.9v1h-28.9zM336.1 329h28.9v1h-28.9zM336.1 420h28.9v1h-28.9zM394 370h29.2v1h-29.2zM394 491h29.2v1h-29.2zM423.2 385h28.9v1h-28.9zM452.1 185h28.5v1h-28.5zM452.1 195h28.5v1h-28.5zM452.1 202h28.5v3h-28.5zM452.1 206h28.5v4h-28.5zM452.1 215h28.5v2h-28.5zM452.1 237h28.5v2h-28.5zM452.1 260h28.5v1h-28.5zM452.1 266h28.5v1h-28.5zM452.1 272h28.5v1h-28.5zM452.1 277h28.5v1h-28.5zM452.1 281h28.5v1h-28.5zM452.1 294h28.5v1h-28.5zM452.1 299h28.5v1h-28.5zM452.1 313h28.5v1h-28.5zM452.1 338h28.5v1h-28.5zM452.1 356h28.5v1h-28.5zM452.1 359h28.5v1h-28.5zM452.1 365h28.5v1h-28.5zM452.1 368h28.5v1h-28.5zM452.1 370h28.5v1h-28.5zM452.1 374h28.5v1h-28.5zM452.1 387h28.5v1h-28.5zM452.1 432h28.5v1h-28.5zM452.1 451h28.5v1h-28.5zM480.6 178h29.4v2h-29.4zM480.6 181h29.4v1h-29.4zM480.6 185h29.4v1h-29.4zM480.6 189h29.4v1h-29.4zM480.6 204h29.4v2h-29.4zM480.6 215h29.4v1h-29.4zM480.6 218h29.4v1h-29.4zM480.6 220h29.4v1h-29.4zM480.6 231h29.4v1h-29.4zM480.6 233h29.4v1h-29.4zM480.6 237h29.4v1h-29.4zM480.6 247h29.4v3h-29.4zM480.6 256h29.4v3h-29.4zM480.6 262h29.4v1h-29.4zM480.6 274h29.4v2h-29.4zM480.6 277h29.4v1h-29.4zM480.6 281h29.4v2h-29.4zM480.6 285h29.4v1h-29.4zM480.6 289h29.4v1h-29.4zM480.6 292h29.4v1h-29.4zM480.6 299h29.4v1h-29.4zM480.6 303h29.4v1h-29.4zM480.6 311h29.4v1h-29.4zM480.6 319h29.4v2h-29.4zM480.6 323h29.4v1h-29.4zM480.6 328h29.4v1h-29.4zM480.6 331h29.4v2h-29.4zM480.6 353h29.4v2h-29.4zM480.6 362h29.4v4h-29.4zM480.6 368h29.4v2h-29.4zM480.6 404h29.4v1h-29.4zM480.6 406h29.4v1h-29.4zM480.6 414h29.4v1h-29.4zM480.6 423h29.4v1h-29.4zM480.6 431h29.4v1h-29.4zM480.6 436h29.4v2h-29.4zM480.6 485h29.4v1h-29.4zM480.6 521h29.4v2h-29.4zM510 177h29.2v2h-29.2zM510 183h29.2v1h-29.2zM510 187h29.2v1h-29.2zM510 191h29.2v1h-29.2zM510 193h29.2v1h-29.2zM510 199h29.2v2h-29.2zM510 202h29.2v1h-29.2zM510 211h29.2v2h-29.2zM510 214h29.2v1h-29.2zM510 216h29.2v1h-29.2zM510 221h29.2v1h-29.2zM510 231h29.2v1h-29.2zM510 238h29.2v1h-29.2zM510 293h29.2v1h-29.2zM510 306h29.2v1h-29.2zM510 308h29.2v1h-29.2zM510 314h29.2v1h-29.2zM510 316h29.2v2h-29.2zM510 324h29.2v1h-29.2zM510 330h29.2v1h-29.2zM510 351h29.2v3h-29.2zM510 440h29.2v1h-29.2zM510 442h29.2v1h-29.2zM539.2 191h28.9v1h-28.9zM539.2 199h28.9v1h-28.9zM539.2 214h28.9v1h-28.9zM539.2 235h28.9v1h-28.9zM539.2 249h28.9v1h-28.9zM539.2 285h28.9v1h-28.9zM539.2 287h28.9v1h-28.9zM539.2 290h28.9v1h-28.9zM539.2 298h28.9v1h-28.9zM539.2 300h28.9v1h-28.9zM539.2 304h28.9v2h-28.9zM539.2 312h28.9v1h-28.9zM539.2 318h28.9v1h-28.9zM539.2 320h28.9v2h-28.9zM539.2 324h28.9v1h-28.9zM539.2 331h28.9v1h-28.9zM539.2 416h28.9v2h-28.9zM568.1 177h28.2v2h-28.2zM568.1 185h28.2v3h-28.2zM568.1 195h28.2v1h-28.2zM568.1 197h28.2v2h-28.2zM568.1 204h28.2v2h-28.2zM568.1 207h28.2v2h-28.2zM568.1 212h28.2v1h-28.2zM568.1 215h28.2v1h-28.2zM568.1 219h28.2v1h-28.2zM568.1 221h28.2v2h-28.2zM568.1 225h28.2v1h-28.2zM568.1 231h28.2v1h-28.2zM568.1 235h28.2v1h-28.2zM568.1 244h28.2v1h-28.2zM568.1 254h28.2v2h-28.2zM568.1 264h28.2v1h-28.2zM568.1 266h28.2v1h-28.2zM568.1 284h28.2v1h-28.2zM568.1 295h28.2v1h-28.2zM568.1 300h28.2v1h-28.2zM568.1 305h28.2v1h-28.2zM568.1 310h28.2v4h-28.2zM568.1 316h28.2v1h-28.2zM568.1 318h28.2v1h-28.2zM568.1 323h28.2v1h-28.2zM568.1 325h28.2v2h-28.2zM568.1 331h28.2v1h-28.2zM568.1 343h28.2v1h-28.2zM568.1 346h28.2v1h-28.2zM568.1 354h28.2v6h-28.2zM568.1 362h28.2v1h-28.2zM568.1 364h28.2v2h-28.2zM568.1 368h28.2v1h-28.2zM568.1 375h28.2v4h-28.2zM568.1 380h28.2v3h-28.2zM568.1 389h28.2v3h-28.2zM568.1 395h28.2v1h-28.2zM568.1 397h28.2v1h-28.2zM568.1 408h28.2v1h-28.2zM568.1 414h28.2v1h-28.2zM568.1 419h28.2v1h-28.2zM568.1 424h28.2v1h-28.2zM568.1 431h28.2v1h-28.2zM568.1 442h28.2v1h-28.2zM568.1 446h28.2v1h-28.2zM568.1 450h28.2v1h-28.2zM568.1 452h28.2v1h-28.2zM568.1 454h28.2v1h-28.2zM568.1 457h28.2v1h-28.2zM568.1 465h28.2v1h-28.2zM568.1 472h28.2v1h-28.2zM568.1 474h28.2v2h-28.2zM568.1 477h28.2v1h-28.2zM568.1 479h28.2v1h-28.2zM568.1 484h28.2v1h-28.2zM568.1 491h28.2v2h-28.2zM568.1 500h28.2v3h-28.2zM568.1 509h28.2v1h-28.2zM568.1 519h28.2v3h-28.2zM596.3 187h28.5v2h-28.5zM596.3 190h28.5v1h-28.5zM596.3 196h28.5v1h-28.5zM596.3 200h28.5v1h-28.5zM596.3 202h28.5v1h-28.5zM596.3 204h28.5v1h-28.5zM596.3 208h28.5v1h-28.5zM596.3 216h28.5v1h-28.5zM596.3 221h28.5v1h-28.5zM596.3 225h28.5v1h-28.5zM596.3 232h28.5v1h-28.5zM596.3 234h28.5v2h-28.5zM596.3 237h28.5v3h-28.5zM596.3 241h28.5v1h-28.5zM596.3 252h28.5v1h-28.5zM596.3 254h28.5v2h-28.5zM596.3 261h28.5v1h-28.5zM596.3 269h28.5v5h-28.5zM596.3 276h28.5v1h-28.5zM596.3 281h28.5v1h-28.5zM596.3 285h28.5v1h-28.5zM596.3 289h28.5v3h-28.5zM596.3 297h28.5v1h-28.5zM596.3 301h28.5v2h-28.5zM596.3 304h28.5v2h-28.5zM596.3 311h28.5v1h-28.5zM596.3 314h28.5v3h-28.5zM596.3 322h28.5v2h-28.5zM596.3 326h28.5v1h-28.5zM596.3 329h28.5v1h-28.5zM596.3 331h28.5v1h-28.5zM596.3 334h28.5v1h-28.5zM596.3 350h28.5v1h-28.5zM596.3 364h28.5v2h-28.5zM596.3 382h28.5v1h-28.5zM596.3 389h28.5v3h-28.5zM596.3 393h28.5v1h-28.5zM596.3 410h28.5v1h-28.5zM596.3 420h28.5v3h-28.5zM596.3 427h28.5v2h-28.5zM596.3 430h28.5v1h-28.5zM596.3 434h28.5v3h-28.5zM596.3 440h28.5v2h-28.5zM596.3 450h28.5v1h-28.5zM596.3 452h28.5v1h-28.5zM596.3 454h28.5v1h-28.5zM596.3 459h28.5v3h-28.5zM596.3 466h28.5v1h-28.5zM596.3 478h28.5v1h-28.5zM596.3 485h28.5v1h-28.5zM596.3 491h28.5v1h-28.5zM596.3 493h28.5v1h-28.5zM596.3 495h28.5v4h-28.5zM596.3 500h28.5v2h-28.5zM596.3 504h28.5v1h-28.5zM596.3 511h28.5v1h-28.5zM596.3 521h28.5v1h-28.5zM624.8 181h31v1h-31zM624.8 199h31v1h-31zM624.8 212h31v1h-31zM624.8 214h31v2h-31zM624.8 218h31v2h-31zM624.8 221h31v1h-31zM624.8 225h31v1h-31zM624.8 231h31v1h-31zM624.8 240h31v2h-31zM624.8 243h31v1h-31zM624.8 248h31v1h-31zM624.8 267h31v6h-31zM624.8 275h31v1h-31zM624.8 280h31v1h-31zM624.8 283h31v1h-31zM624.8 285h31v1h-31zM624.8 298h31v2h-31zM624.8 310h31v1h-31zM624.8 312h31v1h-31zM624.8 318h31v2h-31zM624.8 321h31v3h-31zM624.8 333h31v1h-31zM624.8 338h31v1h-31zM624.8 347h31v1h-31zM624.8 405h31v2h-31zM624.8 414h31v1h-31zM624.8 429h31v1h-31zM624.8 479h31v1h-31zM624.8 491h31v1h-31zM624.8 495h31v2h-31zM624.8 502h31v1h-31zM624.8 506h31v1h-31zM624.8 509h31v3h-31zM624.8 513h31v1h-31z"/>
<path fill="#939ed2" d="M279.1 250h28.8v1h-28.8zM279.1 281h28.8v1h-28.8zM279.1 335h28.8v1h-28.8zM307.9 335h28.2v1h-28.2zM365 352h29v1h-29zM365 363h29v1h-29zM365 365h29v1h-29zM365 367h29v1h-29zM365 373h29v2h-29zM365 380h29v2h-29zM365 392h29v1h-29zM365 409h29v1h-29zM365 411h29v1h-29zM365 413h29v1h-29zM365 417h29v1h-29zM365 422h29v1h-29zM365 428h29v1h-29zM365 447h29v1h-29zM365 449h29v1h-29zM365 451h29v1h-29zM365 455h29v1h-29zM365 457h29v2h-29zM365 460h29v1h-29zM365 462h29v1h-29zM365 465h29v1h-29zM365 471h29v2h-29zM365 477h29v2h-29zM365 484h29v1h-29zM365 489h29v2h-29zM365 501h29v1h-29zM365 505h29v2h-29zM365 510h29v2h-29zM365 517h29v2h-29zM365 523h29v1h-29zM394 366h29.2v1h-29.2zM394 372h29.2v2h-29.2zM394 415h29.2v1h-29.2zM394 445h29.2v2h-29.2zM394 462h29.2v1h-29.2zM394 470h29.2v1h-29.2zM394 482h29.2v1h-29.2zM394 485h29.2v1h-29.2zM423.2 353h28.9v1h-28.9zM423.2 366h28.9v1h-28.9zM423.2 372h28.9v2h-28.9zM423.2 399h28.9v1h-28.9zM423.2 402h28.9v2h-28.9zM423.2 415h28.9v1h-28.9zM423.2 437h28.9v1h-28.9zM423.2 441h28.9v1h-28.9zM423.2 460h28.9v1h-28.9zM423.2 462h28.9v2h-28.9zM423.2 492h28.9v1h-28.9zM423.2 507h28.9v1h-28.9zM423.2 519h28.9v2h-28.9zM539.2 181h28.9v1h-28.9zM539.2 184h28.9v2h-28.9zM539.2 206h28.9v1h-28.9zM624.8 191h31v1h-31z"/>
<path fill="#fbcac4" d="M279.1 348h28.8v1h-28.8zM279.1 351h28.8v2h-28.8zM279.1 356h28.8v1h-28.8zM279.1 366h28.8v1h-28.8zM279.1 370h28.8v2h-28.8zM279.1 380h28.8v1h-28.8zM279.1 391h28.8v1h-28.8zM279.1 397h28.8v1h-28.8zM279.1 409h28.8v1h-28.8zM279.1 412h28.8v1h-28.8zM279.1 420h28.8v1h-28.8zM279.1 422h28.8v2h-28.8zM279.1 426h28.8v2h-28.8zM279.1 436h28.8v1h-28.8zM279.1 443h28.8v2h-28.8zM279.1 459h28.8v1h-28.8zM279.1 468h28.8v2h-28.8zM279.1 475h28.8v1h-28.8zM279.1 477h28.8v2h-28.8zM279.1 482h28.8v1h-28.8zM279.1 487h28.8v2h-28.8zM279.1 501h28.8v1h-28.8zM279.1 504h28.8v1h-28.8zM279.1 518h28.8v1h-28.8zM307.9 400h28.2v2h-28.2zM307.9 403h28.2v1h-28.2zM307.9 425h28.2v2h-28.2zM307.9 479h28.2v1h-28.2zM336.1 351h28.9v1h-28.9zM336.1 353h28.9v1h-28.9zM336.1 360h28.9v1h-28.9zM336.1 363h28.9v3h-28.9zM336.1 370h28.9v2h-28.9zM336.1 373h28.9v2h-28.9zM336.1 384h28.9v3h-28.9zM336.1 393h28.9v1h-28.9zM336.1 396h28.9v4h-28.9zM336.1 402h28.9v1h-28.9zM336.1 413h28.9v2h-28.9zM336.1 422h28.9v1h-28.9zM336.1 427h28.9v1h-28.9zM336.1 434h28.9v1h-28.9zM336.1 442h28.9v1h-28.9zM336.1 446h28.9v1h-28.9zM336.1 453h28.9v1h-28.9zM336.1 476h28.9v1h-28.9zM336.1 481h28.9v2h-28.9zM336.1 484h28.9v3h-28.9zM336.1 488h28.9v1h-28.9zM336.1 490h28.9v1h-28.9zM336.1 512h28.9v2h-28.9zM365 183h29v1h-29zM365 243h29v1h-29zM365 271h29v2h-29zM365 291h29v1h-29zM365 336h29v1h-29zM365 344h29v4h-29zM394 190h29.2v1h-29.2zM394 192h29.2v1h-29.2zM394 195h29.2v2h-29.2zM394 199h29.2v1h-29.2zM394 201h29.2v2h-29.2zM394 205h29.2v1h-29.2zM394 211h29.2v2h-29.2zM394 318h29.2v3h-29.2zM394 329h29.2v1h-29.2zM423.2 186h28.9v1h-28.9zM423.2 189h28.9v1h-28.9zM423.2 208h28.9v1h-28.9zM423.2 214h28.9v1h-28.9zM423.2 221h28.9v1h-28.9zM423.2 224h28.9v1h-28.9zM423.2 233h28.9v1h-28.9zM423.2 240h28.9v1h-28.9zM423.2 254h28.9v1h-28.9zM423.2 261h28.9v1h-28.9zM423.2 263h28.9v1h-28.9zM423.2 272h28.9v1h-28.9zM423.2 278h28.9v1h-28.9zM423.2 280h28.9v1h-28.9zM423.2 289h28.9v1h-28.9zM423.2 291h28.9v1h-28.9zM423.2 300h28.9v1h-28.9zM423.2 304h28.9v2h-28.9zM423.2 315h28.9v2h-28.9zM423.2 318h28.9v1h-28.9zM423.2 325h28.9v1h-28.9zM423.2 334h28.9v3h-28.9zM423.2 341h28.9v2h-28.9zM452.1 372h28.5v2h-28.5zM452.1 385h28.5v1h-28.5zM452.1 393h28.5v1h-28.5zM452.1 409h28.5v2h-28.5zM452.1 418h28.5v1h-28.5zM452.1 422h28.5v1h-28.5zM452.1 449h28.5v1h-28.5zM452.1 457h28.5v1h-28.5zM452.1 474h28.5v1h-28.5zM452.1 484h28.5v2h-28.5zM452.1 495h28.5v1h-28.5zM452.1 508h28.5v2h-28.5zM452.1 518h28.5v1h-28.5zM480.6 372h29.4v1h-29.4zM480.6 398h29.4v1h-29.4zM480.6 411h29.4v1h-29.4zM480.6 428h29.4v2h-29.4zM480.6 463h29.4v1h-29.4zM480.6 476h29.4v1h-29.4zM480.6 481h29.4v1h-29.4zM480.6 510h29.4v1h-29.4zM480.6 518h29.4v1h-29.4zM510 357h29.2v1h-29.2zM510 367h29.2v1h-29.2zM510 376h29.2v2h-29.2zM510 379h29.2v1h-29.2zM510 389h29.2v1h-29.2zM510 394h29.2v1h-29.2zM510 401h29.2v2h-29.2zM510 413h29.2v2h-29.2zM510 425h29.2v1h-29.2zM510 435h29.2v1h-29.2zM510 445h29.2v2h-29.2zM510 453h29.2v1h-29.2zM510 456h29.2v1h-29.2zM510 474h29.2v2h-29.2zM510 478h29.2v1h-29.2zM510 485h29.2v1h-29.2zM510 488h29.2v1h-29.2zM510 490h29.2v2h-29.2zM510 499h29.2v2h-29.2zM510 502h29.2v3h-29.2zM510 509h29.2v3h-29.2zM510 513h29.2v1h-29.2zM510 515h29.2v1h-29.2zM510 518h29.2v2h-29.2zM510 523h29.2v1h-29.2zM539.2 348h28.9v1h-28.9zM539.2 351h28.9v1h-28.9zM539.2 359h28.9v1h-28.9zM539.2 366h28.9v1h-28.9zM539.2 372h28.9v1h-28.9zM539.2 421h28.9v1h-28.9zM539.2 432h28.9v1h-28.9zM539.2 445h28.9v1h-28.9zM539.2 451h28.9v1h-28.9zM539.2 456h28.9v2h-28.9zM539.2 459h28.9v1h-28.9zM539.2 463h28.9v1h-28.9zM539.2 468h28.9v1h-28.9zM539.2 492h28.9v1h-28.9zM539.2 501h28.9v1h-28.9zM539.2 514h28.9v1h-28.9zM568.1 279h28.2v1h-28.2zM596.3 361h28.5v1h-28.5zM596.3 395h28.5v1h-28.5zM596.3 397h28.5v1h-28.5zM624.8 357h31v2h-31zM624.8 365h31v1h-31zM624.8 367h31v1h-31zM624.8 383h31v1h-31zM624.8 394h31v1h-31zM624.8 400h31v2h-31zM624.8 403h31v1h-31zM624.8 438h31v3h-31zM624.8 446h31v2h-31zM624.8 468h31v1h-31z"/>
<path fill="#fabdb6" d="M279.1 349h28.8v1h-28.8zM279.1 353h28.8v1h-28.8zM279.1 359h28.8v2h-28.8zM279.1 364h28.8v2h-28.8zM279.1 379h28.8v1h-28.8zM279.1 382h28.8v1h-28.8zM279.1 384h28.8v2h-28.8zM279.1 388h28.8v1h-28.8zM279.1 390h28.8v1h-28.8zM279.1 396h28.8v1h-28.8zM279.1 400h28.8v2h-28.8zM279.1 415h28.8v1h-28.8zM279.1 417h28.8v3h-28.8zM279.1 424h28.8v1h-28.8zM279.1 431h28.8v2h-28.8zM279.1 434h28.8v2h-28.8zM279.1 437h28.8v1h-28.8zM279.1 442h28.8v1h-28.8zM279.1 445h28.8v2h-28.8zM279.1 449h28.8v1h-28.8zM279.1 457h28.8v2h-28.8zM279.1 460h28.8v2h-28.8zM279.1 465h28.8v1h-28.8zM279.1 472h28.8v2h-28.8zM279.1 481h28.8v1h-28.8zM279.1 483h28.8v2h-28.8zM279.1 496h28.8v1h-28.8zM279.1 500h28.8v1h-28.8zM279.1 508h28.8v1h-28.8zM279.1 510h28.8v1h-28.8zM279.1 512h28.8v2h-28.8zM279.1 519h28.8v2h-28.8zM279.1 522h28.8v1h-28.8zM307.9 353h28.2v1h-28.2zM336.1 352h28.9v1h-28.9zM336.1 358h28.9v1h-28.9zM336.1 366h28.9v4h-28.9zM336.1 375h28.9v2h-28.9zM336.1 378h28.9v1h-28.9zM336.1 381h28.9v2h-28.9zM336.1 401h28.9v1h-28.9zM336.1 410h28.9v2h-28.9zM336.1 423h28.9v1h-28.9zM336.1 430h28.9v1h-28.9zM336.1 441h28.9v1h-28.9zM336.1 443h28.9v1h-28.9zM336.1 445h28.9v1h-28.9zM336.1 447h28.9v1h-28.9zM336.1 454h28.9v1h-28.9zM336.1 456h28.9v1h-28.9zM336.1 463h28.9v3h-28.9zM336.1 475h28.9v1h-28.9zM336.1 487h28.9v1h-28.9zM336.1 489h28.9v1h-28.9zM336.1 496h28.9v2h-28.9zM336.1 499h28.9v1h-28.9zM336.1 502h28.9v1h-28.9zM336.1 511h28.9v1h-28.9zM336.1 514h28.9v1h-28.9zM336.1 517h28.9v1h-28.9zM336.1 519h28.9v1h-28.9zM365 214h29v1h-29zM365 248h29v1h-29zM365 252h29v1h-29zM365 280h29v1h-29zM365 282h29v1h-29zM365 298h29v2h-29zM365 302h29v1h-29zM365 312h29v1h-29zM365 330h29v1h-29zM365 335h29v1h-29zM394 191h29.2v1h-29.2zM394 197h29.2v2h-29.2zM394 207h29.2v1h-29.2zM394 245h29.2v2h-29.2zM394 251h29.2v1h-29.2zM394 267h29.2v1h-29.2zM394 270h29.2v1h-29.2zM394 276h29.2v1h-29.2zM394 278h29.2v2h-29.2zM394 281h29.2v1h-29.2zM394 290h29.2v2h-29.2zM394 296h29.2v1h-29.2zM394 299h29.2v1h-29.2zM394 306h29.2v1h-29.2zM394 315h29.2v1h-29.2zM394 326h29.2v2h-29.2zM423.2 179h28.9v3h-28.9zM423.2 183h28.9v3h-28.9zM423.2 187h28.9v2h-28.9zM423.2 194h28.9v3h-28.9zM423.2 206h28.9v2h-28.9zM423.2 209h28.9v1h-28.9zM423.2 223h28.9v1h-28.9zM423.2 227h28.9v1h-28.9zM423.2 230h28.9v1h-28.9zM423.2 234h28.9v1h-28.9zM423.2 264h28.9v1h-28.9zM423.2 266h28.9v2h-28.9zM423.2 277h28.9v1h-28.9zM423.2 279h28.9v1h-28.9zM423.2 290h28.9v1h-28.9zM423.2 292h28.9v1h-28.9zM423.2 297h28.9v1h-28.9zM423.2 317h28.9v1h-28.9zM423.2 319h28.9v2h-28.9zM423.2 324h28.9v1h-28.9zM423.2 326h28.9v2h-28.9zM423.2 331h28.9v1h-28.9zM452.1 380h28.5v1h-28.5zM452.1 382h28.5v1h-28.5zM452.1 392h28.5v1h-28.5zM452.1 437h28.5v1h-28.5zM452.1 452h28.5v2h-28.5zM452.1 458h28.5v1h-28.5zM452.1 468h28.5v2h-28.5zM452.1 486h28.5v1h-28.5zM452.1 496h28.5v1h-28.5zM452.1 503h28.5v2h-28.5zM452.1 523h28.5v1h-28.5zM480.6 210h29.4v2h-29.4zM480.6 415h29.4v1h-29.4zM480.6 465h29.4v3h-29.4zM480.6 470h29.4v1h-29.4zM480.6 475h29.4v1h-29.4zM480.6 477h29.4v1h-29.4zM480.6 480h29.4v1h-29.4zM510 348h29.2v1h-29.2zM510 358h29.2v1h-29.2zM510 364h29.2v2h-29.2zM510 380h29.2v1h-29.2zM510 382h29.2v2h-29.2zM510 385h29.2v2h-29.2zM510 390h29.2v4h-29.2zM510 408h29.2v1h-29.2zM510 418h29.2v5h-29.2zM510 436h29.2v3h-29.2zM510 444h29.2v1h-29.2zM510 452h29.2v1h-29.2zM510 454h29.2v1h-29.2zM510 463h29.2v1h-29.2zM510 472h29.2v2h-29.2zM510 482h29.2v1h-29.2zM510 487h29.2v1h-29.2zM510 508h29.2v1h-29.2zM510 520h29.2v1h-29.2zM539.2 360h28.9v1h-28.9zM539.2 368h28.9v4h-28.9zM539.2 433h28.9v1h-28.9zM539.2 440h28.9v1h-28.9zM539.2 442h28.9v1h-28.9zM539.2 454h28.9v1h-28.9zM539.2 458h28.9v1h-28.9zM539.2 470h28.9v1h-28.9zM539.2 474h28.9v1h-28.9zM539.2 477h28.9v1h-28.9zM539.2 490h28.9v2h-28.9zM539.2 493h28.9v1h-28.9zM539.2 503h28.9v1h-28.9zM539.2 513h28.9v1h-28.9zM539.2 515h28.9v1h-28.9zM539.2 521h28.9v2h-28.9zM624.8 359h31v1h-31zM624.8 366h31v1h-31zM624.8 450h31v1h-31zM624.8 466h31v2h-31z"/>
<path fill="#f8b0a8" d="M279.1 350h28.8v1h-28.8zM279.1 354h28.8v1h-28.8zM279.1 362h28.8v2h-28.8zM279.1 373h28.8v1h-28.8zM279.1 383h28.8v1h-28.8zM279.1 386h28.8v1h-28.8zM279.1 392h28.8v1h-28.8zM279.1 405h28.8v1h-28.8zM279.1 410h28.8v1h-28.8zM279.1 421h28.8v1h-28.8zM279.1 438h28.8v1h-28.8zM279.1 441h28.8v1h-28.8zM279.1 452h28.8v1h-28.8zM279.1 466h28.8v2h-28.8zM279.1 470h28.8v2h-28.8zM279.1 491h28.8v1h-28.8zM279.1 502h28.8v1h-28.8zM279.1 505h28.8v1h-28.8zM279.1 507h28.8v1h-28.8zM279.1 509h28.8v1h-28.8zM279.1 511h28.8v1h-28.8zM279.1 514h28.8v3h-28.8zM307.9 402h28.2v1h-28.2zM336.1 357h28.9v1h-28.9zM336.1 372h28.9v1h-28.9zM336.1 377h28.9v1h-28.9zM336.1 379h28.9v1h-28.9zM336.1 383h28.9v1h-28.9zM336.1 387h28.9v1h-28.9zM336.1 412h28.9v1h-28.9zM336.1 426h28.9v1h-28.9zM336.1 433h28.9v1h-28.9zM336.1 455h28.9v1h-28.9zM336.1 466h28.9v1h-28.9zM336.1 470h28.9v1h-28.9zM336.1 472h28.9v1h-28.9zM336.1 498h28.9v1h-28.9zM336.1 504h28.9v2h-28.9zM336.1 518h28.9v1h-28.9zM365 177h29v2h-29zM365 180h29v1h-29zM365 182h29v1h-29zM365 184h29v1h-29zM365 213h29v1h-29zM365 231h29v1h-29zM365 240h29v1h-29zM365 247h29v1h-29zM365 251h29v1h-29zM365 261h29v1h-29zM365 263h29v1h-29zM365 273h29v1h-29zM365 281h29v1h-29zM365 292h29v1h-29zM365 296h29v2h-29zM365 303h29v1h-29zM365 307h29v2h-29zM365 313h29v1h-29zM365 319h29v1h-29zM365 334h29v1h-29zM365 337h29v1h-29zM365 339h29v1h-29zM394 187h29.2v1h-29.2zM394 194h29.2v1h-29.2zM394 206h29.2v1h-29.2zM394 210h29.2v1h-29.2zM394 240h29.2v1h-29.2zM394 243h29.2v2h-29.2zM394 247h29.2v1h-29.2zM394 265h29.2v2h-29.2zM394 268h29.2v1h-29.2zM394 275h29.2v1h-29.2zM394 294h29.2v2h-29.2zM394 298h29.2v1h-29.2zM394 300h29.2v1h-29.2zM394 304h29.2v1h-29.2zM394 309h29.2v2h-29.2zM394 312h29.2v3h-29.2zM394 324h29.2v2h-29.2zM394 332h29.2v1h-29.2zM394 334h29.2v1h-29.2zM394 341h29.2v1h-29.2zM394 346h29.2v1h-29.2zM423.2 178h28.9v1h-28.9zM423.2 197h28.9v1h-28.9zM423.2 203h28.9v2h-28.9zM423.2 210h28.9v1h-28.9zM423.2 212h28.9v1h-28.9zM423.2 215h28.9v4h-28.9zM423.2 226h28.9v1h-28.9zM423.2 228h28.9v2h-28.9zM423.2 231h28.9v2h-28.9zM423.2 247h28.9v1h-28.9zM423.2 250h28.9v1h-28.9zM423.2 253h28.9v1h-28.9zM423.2 255h28.9v1h-28.9zM423.2 257h28.9v3h-28.9zM423.2 262h28.9v1h-28.9zM423.2 274h28.9v3h-28.9zM423.2 281h28.9v2h-28.9zM423.2 286h28.9v1h-28.9zM423.2 298h28.9v2h-28.9zM423.2 308h28.9v6h-28.9zM423.2 323h28.9v1h-28.9zM423.2 329h28.9v2h-28.9zM423.2 332h28.9v1h-28.9zM423.2 338h28.9v3h-28.9zM423.2 347h28.9v1h-28.9zM452.1 379h28.5v1h-28.5zM452.1 381h28.5v1h-28.5zM480.6 212h29.4v1h-29.4zM510 366h29.2v1h-29.2zM510 381h29.2v1h-29.2zM510 412h29.2v1h-29.2zM510 423h29.2v1h-29.2zM510 434h29.2v1h-29.2zM510 439h29.2v1h-29.2zM510 464h29.2v1h-29.2zM539.2 361h28.9v1h-28.9zM539.2 363h28.9v1h-28.9zM539.2 375h28.9v1h-28.9zM539.2 385h28.9v1h-28.9zM539.2 439h28.9v1h-28.9zM539.2 449h28.9v2h-28.9zM539.2 452h28.9v1h-28.9zM539.2 481h28.9v1h-28.9zM539.2 484h28.9v2h-28.9zM539.2 487h28.9v1h-28.9zM539.2 489h28.9v1h-28.9zM539.2 494h28.9v1h-28.9zM539.2 500h28.9v1h-28.9zM539.2 504h28.9v5h-28.9zM539.2 516h28.9v2h-28.9zM539.2 523h28.9v1h-28.9zM624.8 441h31v1h-31zM624.8 445h31v1h-31zM624.8 448h31v2h-31zM624.8 451h31v1h-31z"/>
<path fill="#fcd7d3" d="M279.1 355h28.8v1h-28.8zM279.1 357h28.8v2h-28.8zM279.1 361h28.8v1h-28.8zM279.1 372h28.8v1h-28.8zM279.1 406h28.8v1h-28.8zM279.1 414h28.8v1h-28.8zM279.1 416h28.8v1h-28.8zM279.1 428h28.8v1h-28.8zM279.1 447h28.8v1h-28.8zM279.1 451h28.8v1h-28.8zM279.1 455h28.8v2h-28.8zM279.1 464h28.8v1h-28.8zM279.1 480h28.8v1h-28.8zM279.1 485h28.8v2h-28.8zM279.1 493h28.8v3h-28.8zM279.1 497h28.8v2h-28.8zM279.1 503h28.8v1h-28.8zM279.1 521h28.8v1h-28.8zM307.9 366h28.2v1h-28.2zM307.9 424h28.2v1h-28.2zM307.9 466h28.2v1h-28.2zM307.9 470h28.2v3h-28.2zM336.1 349h28.9v1h-28.9zM336.1 354h28.9v1h-28.9zM336.1 356h28.9v1h-28.9zM336.1 359h28.9v1h-28.9zM336.1 390h28.9v2h-28.9zM336.1 394h28.9v2h-28.9zM336.1 405h28.9v1h-28.9zM336.1 409h28.9v1h-28.9zM336.1 416h28.9v3h-28.9zM336.1 421h28.9v1h-28.9zM336.1 431h28.9v2h-28.9zM336.1 435h28.9v6h-28.9zM336.1 448h28.9v2h-28.9zM336.1 451h28.9v2h-28.9zM336.1 459h28.9v4h-28.9zM336.1 473h28.9v1h-28.9zM336.1 479h28.9v1h-28.9zM336.1 483h28.9v1h-28.9zM336.1 491h28.9v1h-28.9zM336.1 495h28.9v1h-28.9zM336.1 500h28.9v1h-28.9zM336.1 506h28.9v2h-28.9zM336.1 515h28.9v2h-28.9zM336.1 521h28.9v1h-28.9zM365 185h29v4h-29zM394 200h29.2v1h-29.2zM394 213h29.2v1h-29.2zM394 252h29.2v1h-29.2zM394 257h29.2v2h-29.2zM394 260h29.2v1h-29.2zM394 280h29.2v1h-29.2zM394 282h29.2v1h-29.2zM394 292h29.2v2h-29.2zM394 305h29.2v1h-29.2zM394 311h29.2v1h-29.2zM423.2 211h28.9v1h-28.9zM423.2 213h28.9v1h-28.9zM423.2 222h28.9v1h-28.9zM423.2 239h28.9v1h-28.9zM423.2 241h28.9v3h-28.9zM423.2 251h28.9v2h-28.9zM423.2 273h28.9v1h-28.9zM423.2 306h28.9v1h-28.9zM423.2 343h28.9v2h-28.9zM452.1 188h28.5v1h-28.5zM452.1 214h28.5v1h-28.5zM452.1 230h28.5v2h-28.5zM452.1 239h28.5v1h-28.5zM452.1 383h28.5v2h-28.5zM452.1 390h28.5v1h-28.5zM452.1 402h28.5v1h-28.5zM452.1 404h28.5v2h-28.5zM452.1 413h28.5v3h-28.5zM452.1 423h28.5v5h-28.5zM452.1 435h28.5v2h-28.5zM452.1 438h28.5v2h-28.5zM452.1 441h28.5v1h-28.5zM452.1 454h28.5v3h-28.5zM452.1 472h28.5v2h-28.5zM452.1 477h28.5v2h-28.5zM452.1 483h28.5v1h-28.5zM452.1 492h28.5v1h-28.5zM452.1 494h28.5v1h-28.5zM452.1 510h28.5v1h-28.5zM452.1 517h28.5v1h-28.5zM452.1 520h28.5v1h-28.5zM480.6 191h29.4v1h-29.4zM480.6 197h29.4v1h-29.4zM480.6 293h29.4v1h-29.4zM480.6 348h29.4v1h-29.4zM480.6 376h29.4v1h-29.4zM480.6 379h29.4v1h-29.4zM480.6 387h29.4v1h-29.4zM480.6 392h29.4v1h-29.4zM480.6 408h29.4v1h-29.4zM480.6 412h29.4v1h-29.4zM480.6 416h29.4v1h-29.4zM480.6 421h29.4v1h-29.4zM480.6 427h29.4v1h-29.4zM480.6 448h29.4v3h-29.4zM480.6 452h29.4v2h-29.4zM480.6 508h29.4v1h-29.4zM480.6 519h29.4v1h-29.4zM510 362h29.2v1h-29.2zM510 369h29.2v2h-29.2zM510 374h29.2v2h-29.2zM510 378h29.2v1h-29.2zM510 384h29.2v1h-29.2zM510 395h29.2v6h-29.2zM510 405h29.2v2h-29.2zM510 415h29.2v1h-29.2zM510 431h29.2v1h-29.2zM510 447h29.2v5h-29.2zM510 455h29.2v1h-29.2zM510 458h29.2v5h-29.2zM510 469h29.2v1h-29.2zM510 476h29.2v2h-29.2zM510 479h29.2v1h-29.2zM510 483h29.2v2h-29.2zM510 489h29.2v1h-29.2zM510 495h29.2v4h-29.2zM510 501h29.2v1h-29.2zM510 514h29.2v1h-29.2zM510 521h29.2v2h-29.2zM539.2 367h28.9v1h-28.9zM539.2 401h28.9v3h-28.9zM539.2 410h28.9v1h-28.9zM539.2 415h28.9v1h-28.9zM539.2 422h28.9v1h-28.9zM539.2 424h28.9v2h-28.9zM539.2 429h28.9v1h-28.9zM539.2 434h28.9v2h-28.9zM539.2 455h28.9v1h-28.9zM539.2 464h28.9v4h-28.9zM539.2 478h28.9v2h-28.9zM539.2 502h28.9v1h-28.9zM539.2 511h28.9v1h-28.9zM568.1 240h28.2v1h-28.2zM568.1 261h28.2v1h-28.2zM568.1 270h28.2v1h-28.2zM568.1 277h28.2v1h-28.2zM568.1 280h28.2v2h-28.2zM568.1 288h28.2v1h-28.2zM568.1 296h28.2v4h-28.2zM568.1 302h28.2v1h-28.2zM568.1 458h28.2v1h-28.2zM596.3 356h28.5v3h-28.5zM596.3 386h28.5v1h-28.5zM596.3 396h28.5v1h-28.5zM596.3 416h28.5v1h-28.5zM596.3 458h28.5v1h-28.5zM596.3 473h28.5v1h-28.5zM596.3 519h28.5v2h-28.5zM624.8 252h31v1h-31zM624.8 360h31v1h-31zM624.8 370h31v2h-31zM624.8 384h31v2h-31zM624.8 393h31v1h-31zM624.8 397h31v1h-31zM624.8 399h31v1h-31zM624.8 402h31v1h-31zM624.8 409h31v1h-31zM624.8 416h31v1h-31zM624.8 430h31v1h-31zM624.8 436h31v1h-31zM624.8 458h31v1h-31zM624.8 463h31v2h-31zM624.8 484h31v1h-31z"/>
<path fill="#fde4e2" d="M279.1 367h28.8v3h-28.8zM279.1 393h28.8v1h-28.8zM279.1 395h28.8v1h-28.8zM279.1 407h28.8v2h-28.8zM279.1 413h28.8v1h-28.8zM279.1 448h28.8v1h-28.8zM279.1 454h28.8v1h-28.8zM279.1 462h28.8v2h-28.8zM279.1 474h28.8v1h-28.8zM279.1 489h28.8v1h-28.8zM279.1 499h28.8v1h-28.8zM307.9 178h28.2v1h-28.2zM307.9 189h28.2v3h-28.2zM307.9 259h28.2v1h-28.2zM307.9 263h28.2v1h-28.2zM307.9 279h28.2v1h-28.2zM307.9 320h28.2v1h-28.2zM307.9 398h28.2v2h-28.2zM307.9 410h28.2v1h-28.2zM307.9 423h28.2v1h-28.2zM307.9 477h28.2v1h-28.2zM307.9 481h28.2v1h-28.2zM307.9 488h28.2v1h-28.2zM307.9 495h28.2v1h-28.2zM307.9 499h28.2v1h-28.2zM307.9 507h28.2v2h-28.2zM336.1 348h28.9v1h-28.9zM336.1 350h28.9v1h-28.9zM336.1 355h28.9v1h-28.9zM336.1 361h28.9v1h-28.9zM336.1 392h28.9v1h-28.9zM336.1 406h28.9v3h-28.9zM336.1 415h28.9v1h-28.9zM336.1 419h28.9v1h-28.9zM336.1 428h28.9v2h-28.9zM336.1 450h28.9v1h-28.9zM336.1 457h28.9v1h-28.9zM336.1 467h28.9v1h-28.9zM336.1 474h28.9v1h-28.9zM336.1 477h28.9v1h-28.9zM336.1 493h28.9v1h-28.9zM336.1 501h28.9v1h-28.9zM336.1 503h28.9v1h-28.9zM336.1 508h28.9v3h-28.9zM336.1 520h28.9v1h-28.9zM336.1 523h28.9v1h-28.9zM394 193h29.2v1h-29.2zM394 208h29.2v2h-29.2zM394 255h29.2v2h-29.2zM394 259h29.2v1h-29.2zM394 262h29.2v2h-29.2zM394 308h29.2v1h-29.2zM423.2 303h28.9v1h-28.9zM452.1 186h28.5v1h-28.5zM452.1 205h28.5v1h-28.5zM452.1 211h28.5v3h-28.5zM452.1 219h28.5v2h-28.5zM452.1 228h28.5v1h-28.5zM452.1 235h28.5v1h-28.5zM452.1 293h28.5v1h-28.5zM452.1 391h28.5v1h-28.5zM452.1 397h28.5v2h-28.5zM452.1 401h28.5v1h-28.5zM452.1 403h28.5v1h-28.5zM452.1 408h28.5v1h-28.5zM452.1 412h28.5v1h-28.5zM452.1 417h28.5v1h-28.5zM452.1 419h28.5v3h-28.5zM452.1 429h28.5v1h-28.5zM452.1 434h28.5v1h-28.5zM452.1 444h28.5v2h-28.5zM452.1 447h28.5v2h-28.5zM452.1 466h28.5v1h-28.5zM452.1 471h28.5v1h-28.5zM452.1 482h28.5v1h-28.5zM452.1 491h28.5v1h-28.5zM452.1 493h28.5v1h-28.5zM452.1 512h28.5v3h-28.5zM452.1 516h28.5v1h-28.5zM452.1 519h28.5v1h-28.5zM480.6 192h29.4v1h-29.4zM480.6 194h29.4v1h-29.4zM480.6 196h29.4v1h-29.4zM480.6 199h29.4v1h-29.4zM480.6 229h29.4v1h-29.4zM480.6 294h29.4v1h-29.4zM480.6 315h29.4v1h-29.4zM480.6 350h29.4v1h-29.4zM480.6 373h29.4v1h-29.4zM480.6 378h29.4v1h-29.4zM480.6 380h29.4v1h-29.4zM480.6 385h29.4v2h-29.4zM480.6 388h29.4v1h-29.4zM480.6 397h29.4v1h-29.4zM480.6 399h29.4v1h-29.4zM480.6 401h29.4v2h-29.4zM480.6 407h29.4v1h-29.4zM480.6 409h29.4v2h-29.4zM480.6 419h29.4v2h-29.4zM480.6 422h29.4v1h-29.4zM480.6 451h29.4v1h-29.4zM480.6 457h29.4v5h-29.4zM480.6 482h29.4v1h-29.4zM480.6 487h29.4v2h-29.4zM480.6 495h29.4v4h-29.4zM480.6 502h29.4v1h-29.4zM480.6 504h29.4v1h-29.4zM480.6 511h29.4v1h-29.4zM480.6 515h29.4v3h-29.4zM480.6 520h29.4v1h-29.4zM510 186h29.2v1h-29.2zM510 356h29.2v1h-29.2zM510 359h29.2v2h-29.2zM510 363h29.2v1h-29.2zM510 368h29.2v1h-29.2zM510 387h29.2v2h-29.2zM510 403h29.2v1h-29.2zM510 407h29.2v1h-29.2zM510 416h29.2v1h-29.2zM510 427h29.2v1h-29.2zM510 430h29.2v1h-29.2zM510 433h29.2v1h-29.2zM510 441h29.2v1h-29.2zM510 457h29.2v1h-29.2zM510 466h29.2v3h-29.2zM510 470h29.2v1h-29.2zM510 493h29.2v1h-29.2zM510 505h29.2v1h-29.2zM510 512h29.2v1h-29.2zM510 516h29.2v2h-29.2zM539.2 218h28.9v1h-28.9zM539.2 222h28.9v1h-28.9zM539.2 293h28.9v2h-28.9zM539.2 352h28.9v1h-28.9zM539.2 356h28.9v1h-28.9zM539.2 364h28.9v2h-28.9zM539.2 373h28.9v1h-28.9zM539.2 397h28.9v2h-28.9zM539.2 404h28.9v1h-28.9zM539.2 408h28.9v2h-28.9zM539.2 418h28.9v3h-28.9zM539.2 423h28.9v1h-28.9zM539.2 426h28.9v3h-28.9zM539.2 443h28.9v2h-28.9zM539.2 446h28.9v1h-28.9zM539.2 475h28.9v1h-28.9zM539.2 480h28.9v1h-28.9zM539.2 512h28.9v1h-28.9zM568.1 180h28.2v1h-28.2zM568.1 228h28.2v3h-28.2zM568.1 251h28.2v1h-28.2zM568.1 262h28.2v1h-28.2zM568.1 271h28.2v1h-28.2zM568.1 282h28.2v1h-28.2zM568.1 286h28.2v2h-28.2zM568.1 289h28.2v1h-28.2zM568.1 291h28.2v1h-28.2zM568.1 327h28.2v1h-28.2zM568.1 337h28.2v1h-28.2zM568.1 352h28.2v2h-28.2zM568.1 366h28.2v2h-28.2zM568.1 369h28.2v1h-28.2zM568.1 379h28.2v1h-28.2zM568.1 416h28.2v1h-28.2zM568.1 443h28.2v1h-28.2zM568.1 460h28.2v1h-28.2zM596.3 205h28.5v1h-28.5zM596.3 228h28.5v1h-28.5zM596.3 243h28.5v1h-28.5zM596.3 369h28.5v1h-28.5zM596.3 387h28.5v1h-28.5zM596.3 399h28.5v1h-28.5zM596.3 405h28.5v1h-28.5zM596.3 443h28.5v2h-28.5zM596.3 494h28.5v1h-28.5zM624.8 182h31v1h-31zM624.8 348h31v1h-31zM624.8 351h31v2h-31zM624.8 373h31v1h-31zM624.8 380h31v1h-31zM624.8 386h31v1h-31zM624.8 391h31v1h-31zM624.8 395h31v2h-31zM624.8 404h31v1h-31zM624.8 410h31v2h-31zM624.8 415h31v1h-31zM624.8 417h31v2h-31zM624.8 425h31v1h-31zM624.8 427h31v1h-31zM624.8 431h31v5h-31zM624.8 444h31v1h-31zM624.8 452h31v1h-31zM624.8 455h31v2h-31zM624.8 465h31v1h-31zM624.8 473h31v6h-31zM624.8 487h31v1h-31zM624.8 492h31v1h-31zM624.8 503h31v1h-31zM624.8 516h31v1h-31z"/>
<path fill="#f37e74" d="M279.1 374h28.8v3h-28.8zM365 192h29v1h-29zM365 201h29v1h-29zM365 205h29v1h-29zM365 229h29v2h-29zM365 239h29v1h-29zM365 289h29v1h-29zM365 310h29v1h-29zM365 324h29v1h-29zM394 215h29.2v4h-29.2zM394 220h29.2v1h-29.2zM394 225h29.2v1h-29.2zM394 231h29.2v1h-29.2zM394 233h29.2v1h-29.2zM394 237h29.2v1h-29.2zM394 343h29.2v3h-29.2zM423.2 269h28.9v1h-28.9zM480.6 208h29.4v1h-29.4zM539.2 392h28.9v1h-28.9zM539.2 394h28.9v1h-28.9zM539.2 396h28.9v1h-28.9zM539.2 436h28.9v1h-28.9zM539.2 438h28.9v1h-28.9zM539.2 473h28.9v1h-28.9z"/>
<path fill="#f48a80" d="M279.1 377h28.8v1h-28.8zM279.1 387h28.8v1h-28.8zM279.1 402h28.8v1h-28.8zM365 195h29v3h-29zM365 204h29v1h-29zM365 210h29v1h-29zM365 233h29v1h-29zM365 245h29v1h-29zM365 249h29v1h-29zM365 253h29v1h-29zM365 260h29v1h-29zM365 268h29v2h-29zM365 274h29v3h-29zM365 288h29v1h-29zM365 294h29v1h-29zM365 300h29v2h-29zM365 309h29v1h-29zM365 311h29v1h-29zM365 321h29v1h-29zM365 323h29v1h-29zM365 325h29v1h-29zM365 333h29v1h-29zM365 340h29v1h-29zM365 342h29v1h-29zM394 179h29.2v1h-29.2zM394 182h29.2v1h-29.2zM394 185h29.2v1h-29.2zM394 224h29.2v1h-29.2zM394 230h29.2v1h-29.2zM394 236h29.2v1h-29.2zM394 253h29.2v1h-29.2zM394 283h29.2v1h-29.2zM394 287h29.2v2h-29.2zM394 335h29.2v1h-29.2zM394 342h29.2v1h-29.2zM423.2 270h28.9v1h-28.9zM423.2 283h28.9v2h-28.9zM423.2 301h28.9v1h-28.9zM480.6 209h29.4v1h-29.4zM539.2 362h28.9v1h-28.9zM539.2 376h28.9v2h-28.9zM539.2 384h28.9v1h-28.9zM539.2 388h28.9v1h-28.9zM539.2 393h28.9v1h-28.9zM539.2 469h28.9v1h-28.9zM539.2 471h28.9v2h-28.9zM539.2 483h28.9v1h-28.9zM539.2 495h28.9v2h-28.9zM539.2 509h28.9v1h-28.9zM624.8 361h31v1h-31z"/>
<path fill="#f7a49b" d="M279.1 378h28.8v1h-28.8zM279.1 381h28.8v1h-28.8zM279.1 389h28.8v1h-28.8zM279.1 398h28.8v2h-28.8zM279.1 403h28.8v1h-28.8zM279.1 425h28.8v1h-28.8zM279.1 430h28.8v1h-28.8zM279.1 439h28.8v1h-28.8zM279.1 450h28.8v1h-28.8zM279.1 453h28.8v1h-28.8zM279.1 479h28.8v1h-28.8zM279.1 490h28.8v1h-28.8zM279.1 492h28.8v1h-28.8zM279.1 506h28.8v1h-28.8zM279.1 517h28.8v1h-28.8zM279.1 523h28.8v1h-28.8zM336.1 380h28.9v1h-28.9zM336.1 388h28.9v2h-28.9zM336.1 400h28.9v1h-28.9zM336.1 403h28.9v2h-28.9zM336.1 424h28.9v2h-28.9zM336.1 471h28.9v1h-28.9zM365 179h29v1h-29zM365 181h29v1h-29zM365 189h29v1h-29zM365 191h29v1h-29zM365 208h29v1h-29zM365 212h29v1h-29zM365 222h29v1h-29zM365 232h29v1h-29zM365 241h29v1h-29zM365 246h29v1h-29zM365 254h29v1h-29zM365 256h29v1h-29zM365 262h29v1h-29zM365 264h29v2h-29zM365 270h29v1h-29zM365 278h29v2h-29zM365 283h29v2h-29zM365 287h29v1h-29zM365 305h29v2h-29zM365 314h29v2h-29zM365 320h29v1h-29zM365 329h29v1h-29zM365 338h29v1h-29zM394 181h29.2v1h-29.2zM394 183h29.2v1h-29.2zM394 186h29.2v1h-29.2zM394 188h29.2v2h-29.2zM394 221h29.2v2h-29.2zM394 227h29.2v1h-29.2zM394 229h29.2v1h-29.2zM394 239h29.2v1h-29.2zM394 241h29.2v2h-29.2zM394 248h29.2v3h-29.2zM394 269h29.2v1h-29.2zM394 271h29.2v3h-29.2zM394 277h29.2v1h-29.2zM394 285h29.2v2h-29.2zM394 289h29.2v1h-29.2zM394 297h29.2v1h-29.2zM394 301h29.2v3h-29.2zM394 321h29.2v3h-29.2zM394 328h29.2v1h-29.2zM394 330h29.2v2h-29.2zM394 333h29.2v1h-29.2zM394 338h29.2v1h-29.2zM423.2 177h28.9v1h-28.9zM423.2 182h28.9v1h-28.9zM423.2 192h28.9v2h-28.9zM423.2 198h28.9v3h-28.9zM423.2 205h28.9v1h-28.9zM423.2 219h28.9v1h-28.9zM423.2 225h28.9v1h-28.9zM423.2 235h28.9v4h-28.9zM423.2 244h28.9v3h-28.9zM423.2 248h28.9v1h-28.9zM423.2 256h28.9v1h-28.9zM423.2 260h28.9v1h-28.9zM423.2 268h28.9v1h-28.9zM423.2 285h28.9v1h-28.9zM423.2 288h28.9v1h-28.9zM423.2 295h28.9v2h-28.9zM423.2 302h28.9v1h-28.9zM423.2 307h28.9v1h-28.9zM423.2 314h28.9v1h-28.9zM423.2 322h28.9v1h-28.9zM423.2 328h28.9v1h-28.9zM423.2 333h28.9v1h-28.9zM423.2 337h28.9v1h-28.9zM423.2 345h28.9v2h-28.9zM480.6 464h29.4v1h-29.4zM480.6 468h29.4v1h-29.4zM480.6 471h29.4v2h-29.4zM480.6 474h29.4v1h-29.4zM480.6 478h29.4v2h-29.4zM510 373h29.2v1h-29.2zM510 409h29.2v3h-29.2zM510 424h29.2v1h-29.2zM510 486h29.2v1h-29.2zM539.2 358h28.9v1h-28.9zM539.2 381h28.9v2h-28.9zM539.2 389h28.9v1h-28.9zM539.2 391h28.9v1h-28.9zM539.2 447h28.9v2h-28.9zM539.2 453h28.9v1h-28.9zM539.2 488h28.9v1h-28.9zM539.2 498h28.9v2h-28.9zM539.2 518h28.9v1h-28.9zM624.8 362h31v2h-31zM624.8 442h31v2h-31z"/>
<path fill="#f6978d" d="M279.1 404h28.8v1h-28.8zM279.1 411h28.8v1h-28.8zM279.1 433h28.8v1h-28.8zM307.9 350h28.2v3h-28.2zM365 190h29v1h-29zM365 209h29v1h-29zM365 211h29v1h-29zM365 221h29v1h-29zM365 223h29v1h-29zM365 235h29v1h-29zM365 242h29v1h-29zM365 244h29v1h-29zM365 250h29v1h-29zM365 255h29v1h-29zM365 257h29v3h-29zM365 266h29v2h-29zM365 277h29v1h-29zM365 285h29v2h-29zM365 290h29v1h-29zM365 293h29v1h-29zM365 295h29v1h-29zM365 316h29v3h-29zM365 326h29v2h-29zM365 331h29v2h-29zM365 341h29v1h-29zM365 343h29v1h-29zM394 177h29.2v2h-29.2zM394 180h29.2v1h-29.2zM394 184h29.2v1h-29.2zM394 223h29.2v1h-29.2zM394 226h29.2v1h-29.2zM394 228h29.2v1h-29.2zM394 235h29.2v1h-29.2zM394 238h29.2v1h-29.2zM394 254h29.2v1h-29.2zM394 274h29.2v1h-29.2zM394 284h29.2v1h-29.2zM394 316h29.2v2h-29.2zM394 339h29.2v2h-29.2zM394 347h29.2v1h-29.2zM423.2 190h28.9v2h-28.9zM423.2 201h28.9v2h-28.9zM423.2 220h28.9v1h-28.9zM423.2 249h28.9v1h-28.9zM423.2 265h28.9v1h-28.9zM423.2 271h28.9v1h-28.9zM423.2 287h28.9v1h-28.9zM423.2 293h28.9v2h-28.9zM423.2 321h28.9v1h-28.9zM480.6 213h29.4v2h-29.4zM480.6 469h29.4v1h-29.4zM480.6 473h29.4v1h-29.4zM539.2 357h28.9v1h-28.9zM539.2 378h28.9v1h-28.9zM539.2 383h28.9v1h-28.9zM539.2 386h28.9v2h-28.9zM539.2 390h28.9v1h-28.9zM539.2 395h28.9v1h-28.9zM539.2 431h28.9v1h-28.9zM539.2 441h28.9v1h-28.9zM539.2 460h28.9v3h-28.9zM539.2 482h28.9v1h-28.9zM539.2 486h28.9v1h-28.9zM539.2 497h28.9v1h-28.9zM539.2 510h28.9v1h-28.9zM539.2 519h28.9v2h-28.9zM596.3 367h28.5v1h-28.5zM624.8 353h31v1h-31zM624.8 364h31v1h-31z"/>
<path fill="#fef2f0" d="M279.1 429h28.8v1h-28.8zM279.1 440h28.8v1h-28.8zM279.1 476h28.8v1h-28.8zM307.9 177h28.2v1h-28.2zM307.9 184h28.2v1h-28.2zM307.9 186h28.2v3h-28.2zM307.9 215h28.2v1h-28.2zM307.9 245h28.2v1h-28.2zM307.9 251h28.2v1h-28.2zM307.9 260h28.2v1h-28.2zM307.9 282h28.2v1h-28.2zM307.9 287h28.2v1h-28.2zM307.9 299h28.2v1h-28.2zM307.9 311h28.2v1h-28.2zM307.9 358h28.2v2h-28.2zM307.9 361h28.2v1h-28.2zM307.9 363h28.2v3h-28.2zM307.9 367h28.2v1h-28.2zM307.9 392h28.2v1h-28.2zM307.9 404h28.2v1h-28.2zM307.9 415h28.2v4h-28.2zM307.9 427h28.2v1h-28.2zM307.9 432h28.2v1h-28.2zM307.9 465h28.2v1h-28.2zM307.9 467h28.2v1h-28.2zM307.9 469h28.2v1h-28.2zM307.9 478h28.2v1h-28.2zM307.9 482h28.2v1h-28.2zM307.9 496h28.2v1h-28.2zM307.9 498h28.2v1h-28.2zM307.9 500h28.2v1h-28.2zM307.9 502h28.2v1h-28.2zM307.9 515h28.2v1h-28.2zM307.9 517h28.2v4h-28.2zM307.9 523h28.2v1h-28.2zM336.1 215h28.9v1h-28.9zM336.1 362h28.9v1h-28.9zM336.1 444h28.9v1h-28.9zM336.1 458h28.9v1h-28.9zM336.1 468h28.9v1h-28.9zM336.1 478h28.9v1h-28.9zM336.1 480h28.9v1h-28.9zM336.1 492h28.9v1h-28.9zM336.1 494h28.9v1h-28.9zM336.1 522h28.9v1h-28.9zM394 203h29.2v2h-29.2zM394 214h29.2v1h-29.2zM394 261h29.2v1h-29.2zM394 264h29.2v1h-29.2zM394 307h29.2v1h-29.2zM452.1 187h28.5v1h-28.5zM452.1 189h28.5v1h-28.5zM452.1 194h28.5v1h-28.5zM452.1 196h28.5v3h-28.5zM452.1 200h28.5v2h-28.5zM452.1 221h28.5v2h-28.5zM452.1 227h28.5v1h-28.5zM452.1 229h28.5v1h-28.5zM452.1 233h28.5v1h-28.5zM452.1 305h28.5v1h-28.5zM452.1 348h28.5v4h-28.5zM452.1 366h28.5v2h-28.5zM452.1 376h28.5v1h-28.5zM452.1 389h28.5v1h-28.5zM452.1 394h28.5v3h-28.5zM452.1 399h28.5v1h-28.5zM452.1 406h28.5v2h-28.5zM452.1 411h28.5v1h-28.5zM452.1 428h28.5v1h-28.5zM452.1 430h28.5v2h-28.5zM452.1 440h28.5v1h-28.5zM452.1 442h28.5v2h-28.5zM452.1 446h28.5v1h-28.5zM452.1 450h28.5v1h-28.5zM452.1 459h28.5v3h-28.5zM452.1 463h28.5v1h-28.5zM452.1 465h28.5v1h-28.5zM452.1 467h28.5v1h-28.5zM452.1 470h28.5v1h-28.5zM452.1 475h28.5v2h-28.5zM452.1 481h28.5v1h-28.5zM452.1 487h28.5v4h-28.5zM452.1 497h28.5v2h-28.5zM452.1 500h28.5v3h-28.5zM452.1 506h28.5v1h-28.5zM452.1 511h28.5v1h-28.5zM452.1 522h28.5v1h-28.5zM480.6 186h29.4v1h-29.4zM480.6 193h29.4v1h-29.4zM480.6 198h29.4v1h-29.4zM480.6 200h29.4v1h-29.4zM480.6 216h29.4v1h-29.4zM480.6 230h29.4v1h-29.4zM480.6 239h29.4v1h-29.4zM480.6 267h29.4v6h-29.4zM480.6 284h29.4v1h-29.4zM480.6 290h29.4v1h-29.4zM480.6 296h29.4v1h-29.4zM480.6 305h29.4v1h-29.4zM480.6 327h29.4v1h-29.4zM480.6 329h29.4v1h-29.4zM480.6 334h29.4v1h-29.4zM480.6 336h29.4v1h-29.4zM480.6 338h29.4v1h-29.4zM480.6 340h29.4v1h-29.4zM480.6 343h29.4v1h-29.4zM480.6 349h29.4v1h-29.4zM480.6 356h29.4v3h-29.4zM480.6 367h29.4v1h-29.4zM480.6 371h29.4v1h-29.4zM480.6 375h29.4v1h-29.4zM480.6 377h29.4v1h-29.4zM480.6 382h29.4v3h-29.4zM480.6 389h29.4v2h-29.4zM480.6 393h29.4v4h-29.4zM480.6 418h29.4v1h-29.4zM480.6 424h29.4v1h-29.4zM480.6 430h29.4v1h-29.4zM480.6 438h29.4v1h-29.4zM480.6 454h29.4v2h-29.4zM480.6 486h29.4v1h-29.4zM480.6 489h29.4v2h-29.4zM480.6 493h29.4v1h-29.4zM480.6 499h29.4v3h-29.4zM480.6 506h29.4v2h-29.4zM480.6 509h29.4v1h-29.4zM480.6 512h29.4v1h-29.4zM510 349h29.2v1h-29.2zM510 361h29.2v1h-29.2zM510 371h29.2v2h-29.2zM510 404h29.2v1h-29.2zM510 417h29.2v1h-29.2zM510 428h29.2v1h-29.2zM510 432h29.2v1h-29.2zM510 465h29.2v1h-29.2zM510 471h29.2v1h-29.2zM510 480h29.2v1h-29.2zM510 492h29.2v1h-29.2zM510 494h29.2v1h-29.2zM510 506h29.2v2h-29.2zM539.2 216h28.9v1h-28.9zM539.2 221h28.9v1h-28.9zM539.2 230h28.9v4h-28.9zM539.2 292h28.9v1h-28.9zM539.2 315h28.9v1h-28.9zM539.2 349h28.9v2h-28.9zM539.2 353h28.9v3h-28.9zM539.2 374h28.9v1h-28.9zM539.2 399h28.9v1h-28.9zM539.2 405h28.9v1h-28.9zM539.2 412h28.9v3h-28.9zM539.2 430h28.9v1h-28.9zM539.2 476h28.9v1h-28.9zM568.1 181h28.2v2h-28.2zM568.1 190h28.2v4h-28.2zM568.1 209h28.2v1h-28.2zM568.1 213h28.2v1h-28.2zM568.1 216h28.2v2h-28.2zM568.1 227h28.2v1h-28.2zM568.1 241h28.2v1h-28.2zM568.1 243h28.2v1h-28.2zM568.1 250h28.2v1h-28.2zM568.1 256h28.2v1h-28.2zM568.1 269h28.2v1h-28.2zM568.1 273h28.2v2h-28.2zM568.1 278h28.2v1h-28.2zM568.1 290h28.2v1h-28.2zM568.1 292h28.2v1h-28.2zM568.1 315h28.2v1h-28.2zM568.1 320h28.2v1h-28.2zM568.1 324h28.2v1h-28.2zM568.1 335h28.2v2h-28.2zM568.1 338h28.2v2h-28.2zM568.1 344h28.2v2h-28.2zM568.1 351h28.2v1h-28.2zM568.1 361h28.2v1h-28.2zM568.1 370h28.2v4h-28.2zM568.1 384h28.2v4h-28.2zM568.1 393h28.2v1h-28.2zM568.1 399h28.2v1h-28.2zM568.1 405h28.2v2h-28.2zM568.1 427h28.2v1h-28.2zM568.1 432h28.2v2h-28.2zM568.1 435h28.2v2h-28.2zM568.1 440h28.2v1h-28.2zM568.1 444h28.2v2h-28.2zM568.1 447h28.2v2h-28.2zM568.1 451h28.2v1h-28.2zM568.1 459h28.2v1h-28.2zM568.1 461h28.2v1h-28.2zM568.1 463h28.2v1h-28.2zM568.1 467h28.2v2h-28.2zM568.1 473h28.2v1h-28.2zM568.1 507h28.2v2h-28.2zM596.3 185h28.5v2h-28.5zM596.3 192h28.5v1h-28.5zM596.3 227h28.5v1h-28.5zM596.3 230h28.5v1h-28.5zM596.3 242h28.5v1h-28.5zM596.3 253h28.5v1h-28.5zM596.3 256h28.5v1h-28.5zM596.3 264h28.5v1h-28.5zM596.3 266h28.5v1h-28.5zM596.3 287h28.5v2h-28.5zM596.3 303h28.5v1h-28.5zM596.3 319h28.5v1h-28.5zM596.3 332h28.5v1h-28.5zM596.3 337h28.5v1h-28.5zM596.3 345h28.5v1h-28.5zM596.3 352h28.5v1h-28.5zM596.3 354h28.5v2h-28.5zM596.3 362h28.5v2h-28.5zM596.3 368h28.5v1h-28.5zM596.3 371h28.5v2h-28.5zM596.3 374h28.5v1h-28.5zM596.3 379h28.5v1h-28.5zM596.3 385h28.5v1h-28.5zM596.3 394h28.5v1h-28.5zM596.3 402h28.5v1h-28.5zM596.3 411h28.5v1h-28.5zM596.3 417h28.5v1h-28.5zM596.3 424h28.5v3h-28.5zM596.3 442h28.5v1h-28.5zM596.3 445h28.5v1h-28.5zM596.3 457h28.5v1h-28.5zM596.3 474h28.5v2h-28.5zM596.3 482h28.5v1h-28.5zM596.3 484h28.5v1h-28.5zM596.3 507h28.5v2h-28.5zM624.8 194h31v1h-31zM624.8 216h31v2h-31zM624.8 228h31v2h-31zM624.8 262h31v3h-31zM624.8 276h31v3h-31zM624.8 287h31v2h-31zM624.8 296h31v2h-31zM624.8 324h31v2h-31zM624.8 350h31v1h-31zM624.8 354h31v3h-31zM624.8 369h31v1h-31zM624.8 372h31v1h-31zM624.8 374h31v2h-31zM624.8 377h31v2h-31zM624.8 381h31v2h-31zM624.8 387h31v3h-31zM624.8 392h31v1h-31zM624.8 407h31v2h-31zM624.8 419h31v2h-31zM624.8 422h31v3h-31zM624.8 426h31v1h-31zM624.8 428h31v1h-31zM624.8 453h31v2h-31zM624.8 457h31v1h-31zM624.8 459h31v1h-31zM624.8 485h31v2h-31zM624.8 497h31v1h-31zM624.8 504h31v1h-31zM624.8 508h31v1h-31zM624.8 512h31v1h-31zM624.8 519h31v3h-31z"/>
<path fill="#f27268" d="M365 193h29v2h-29zM365 198h29v1h-29zM365 203h29v1h-29zM365 206h29v2h-29zM365 224h29v3h-29zM365 228h29v1h-29zM365 234h29v1h-29zM365 304h29v1h-29zM365 322h29v1h-29zM365 328h29v1h-29zM394 219h29.2v1h-29.2zM394 234h29.2v1h-29.2zM394 336h29.2v1h-29.2zM539.2 379h28.9v2h-28.9z"/>
<path fill="#ee5950" d="M365 199h29v1h-29zM365 217h29v3h-29zM365 237h29v1h-29zM394 337h29.2v1h-29.2z"/>
<path fill="#f0655b" d="M365 200h29v1h-29zM365 202h29v1h-29zM365 220h29v1h-29zM365 227h29v1h-29zM365 236h29v1h-29zM365 238h29v1h-29zM394 232h29.2v1h-29.2zM539.2 437h28.9v1h-28.9z"/>
<path fill="#ed4e44" d="M365 215h29v1h-29z"/>
<path fill="#ec4238" d="M365 216h29v1h-29z"/>
<path fill="#8894cc" d="M365 354h29v2h-29zM365 360h29v1h-29zM365 372h29v1h-29zM365 375h29v1h-29zM365 383h29v1h-29zM365 398h29v1h-29zM365 404h29v1h-29zM365 443h29v1h-29zM365 470h29v1h-29zM365 473h29v1h-29zM365 476h29v1h-29zM365 485h29v1h-29zM365 493h29v1h-29zM365 502h29v1h-29zM365 504h29v1h-29zM365 514h29v2h-29zM394 384h29.2v1h-29.2zM423.2 356h28.9v3h-28.9zM423.2 390h28.9v1h-28.9zM423.2 400h28.9v1h-28.9zM423.2 461h28.9v1h-28.9zM423.2 490h28.9v1h-28.9zM423.2 509h28.9v1h-28.9z"/>
<path fill="#7182c2" d="M365 356h29v2h-29zM365 362h29v1h-29zM365 391h29v1h-29zM365 444h29v1h-29zM365 446h29v1h-29zM365 503h29v1h-29z"/>
<path fill="#6678bc" d="M365 358h29v1h-29zM365 366h29v1h-29z"/>
<path fill="#7c8bc7" d="M365 361h29v1h-29zM365 389h29v2h-29zM365 399h29v1h-29zM365 412h29v1h-29zM365 427h29v1h-29zM365 440h29v3h-29zM365 445h29v1h-29zM365 450h29v1h-29zM365 486h29v2h-29zM365 516h29v1h-29zM394 367h29.2v1h-29.2zM539.2 182h28.9v1h-28.9zM539.2 189h28.9v1h-28.9z"/>
</g>
</g>
<g class="dendrogram">
<path d="M143.5 237.5V366.5M143.5 237.5H165.5M165.5 213.5V262.5M165.5 213.5H177.5M177.5 197.5V228.5M177.5 197.5H179.5M179.5 188.5V206.5M179.5 188.5H191.5M191.5 181.5V188.5M191.5 181.5H212.5M212.5 180.5V184.5M212.5 180.5H217.5M217.5 178.5V180.5M217.5 178.5H238.5M217.5 180.5H221.5M221.5 179.5V181.5M221.5 179.5H238.5M221.5 181.5H241.5M212.5 184.5H217.5M217.5 183.5V185.5M217.5 183.5H237.5M217.5 185.5H237.5M191.5 188.5H212.5M212.5 187.5V190.5M212.5 187.5H216.5M216.5 185.5V187.5M216.5 185.5H241.5M216.5 187.5H236.5M212.5 190.5H216.5M216.5 189.5V190.5M216.5 189.5H239.5M216.5 190.5H239.5M179.5 206.5H192.5M192.5 196.5V207.5M192.5 196.5H203.5M203.5 194.5V200.5M203.5 194.5H207.5M207.5 192.5V194.5M207.5 192.5H235.5M207.5 194.5H232.5M203.5 200.5H207.5M207.5 198.5V201.5M207.5 198.5H217.5M217.5 197.5V198.5M217.5 197.5H239.5M217.5 198.5H232.5M207.5 201.5H213.5M213.5 200.5V202.5M213.5 200.5H226.5M213.5 202.5H229.5M192.5 207.5H197.5M197.5 205.5V210.5M197.5 205.5H207.5M207.5 204.5V206.5M207.5 204.5H210.5M210.5 203.5V205.5M210.5 203.5H229.5M210.5 205.5H226.5M207.5 206.5H235.5M197.5 210.5H203.5M203.5 210.5V212.5M203.5 210.5H207.5M207.5 208.5V211.5M207.5 208.5H227.5M207.5 211.5H230.5M203.5 212.5H235.5M177.5 228.5H192.5M192.5 223.5V234.5M192.5 223.5H197.5M197.5 216.5V225.5M197.5 216.5H202.5M202.5 215.5V219.5M202.5 215.5H208.5M208.5 214.5V216.5M208.5 214.5H227.5M208.5 216.5H228.5M202.5 219.5H207.5M207.5 218.5V221.5M207.5 218.5H212.5M212.5 217.5V218.5M212.5 217.5H226.5M212.5 218.5H227.5M207.5 221.5H229.5M197.5 225.5H202.5M202.5 223.5V226.5M202.5 223.5H230.5M202.5 226.5H210.5M210.5 225.5V227.5M210.5 225.5H230.5M210.5 227.5H225.5M192.5 234.5H204.5M204.5 231.5V236.5M204.5 231.5H209.5M209.5 229.5V231.5M209.5 229.5H231.5M209.5 231.5H212.5M212.5 231.5V232.5M212.5 231.5H230.5M212.5 232.5H228.5M204.5 236.5H207.5M207.5 234.5V237.5M207.5 234.5H233.5M207.5 237.5H212.5M212.5 236.5V237.5M212.5 236.5H232.5M212.5 237.5H229.5M165.5 262.5H181.5M181.5 240.5V285.5M181.5 240.5H206.5M206.5 240.5H240.5M181.5 285.5H189.5M189.5 247.5V323.5M189.5 247.5H201.5M201.5 242.5V253.5M201.5 242.5H207.5M207.5 243.5H232.5M201.5 253.5H208.5M208.5 246.5V260.5M208.5 246.5H237.5M237.5 246.5H239.5M208.5 260.5H211.5M211.5 254.5V267.5M211.5 254.5H222.5M222.5 250.5V255.5M222.5 250.5H226.5M226.5 249.5V252.5M226.5 249.5H235.5M226.5 252.5H254.5M222.5 255.5H226.5M226.5 254.5V257.5M226.5 254.5H252.5M226.5 257.5H255.5M211.5 267.5H217.5M217.5 266.5V281.5M217.5 266.5H221.5M221.5 263.5V272.5M221.5 263.5H226.5M226.5 261.5V267.5M226.5 261.5H228.5M228.5 260.5V264.5M228.5 260.5H231.5M231.5 259.5V261.5M231.5 259.5H252.5M231.5 261.5H252.5M228.5 264.5H234.5M234.5 263.5V265.5M234.5 263.5H242.5M234.5 265.5H242.5M226.5 267.5H229.5M229.5 266.5V269.5M229.5 266.5H244.5M229.5 269.5H252.5M221.5 272.5H225.5M225.5 271.5V274.5M225.5 271.5H249.5M225.5 274.5H229.5M229.5 273.5V274.5M229.5 273.5H251.5M229.5 274.5H251.5M217.5 281.5H220.5M220.5 277.5V281.5M220.5 277.5H224.5M224.5 276.5V277.5M224.5 276.5H251.5M224.5 277.5H245.5M220.5 281.5H226.5M226.5 281.5V284.5M226.5 281.5H230.5M230.5 279.5V281.5M230.5 279.5H245.5M230.5 281.5H235.5M235.5 281.5V282.5M235.5 281.5H246.5M235.5 282.5H243.5M226.5 284.5H229.5M229.5 283.5V285.5M229.5 283.5H243.5M229.5 285.5H250.5M189.5 323.5H195.5M195.5 307.5V338.5M195.5 307.5H200.5M200.5 298.5V315.5M200.5 298.5H212.5M212.5 292.5V301.5M212.5 292.5H217.5M217.5 289.5V294.5M217.5 289.5H221.5M221.5 287.5V290.5M221.5 287.5H252.5M221.5 290.5H225.5M225.5 289.5V291.5M225.5 289.5H251.5M225.5 291.5H238.5M217.5 294.5H219.5M219.5 293.5V296.5M219.5 293.5H225.5M225.5 292.5V294.5M225.5 292.5H238.5M225.5 294.5H240.5M219.5 296.5H238.5M212.5 301.5H217.5M217.5 299.5V303.5M217.5 299.5H222.5M222.5 298.5V300.5M222.5 298.5H245.5M222.5 300.5H245.5M217.5 303.5H223.5M223.5 302.5V304.5M223.5 302.5H244.5M223.5 304.5H229.5M229.5 303.5V304.5M229.5 303.5H244.5M229.5 304.5H246.5M200.5 315.5H209.5M209.5 311.5V321.5M209.5 311.5H213.5M213.5 308.5V313.5M213.5 308.5H217.5M217.5 307.5V309.5M217.5 307.5H244.5M217.5 309.5H244.5M213.5 313.5H220.5M220.5 311.5V315.5M220.5 311.5H226.5M226.5 310.5V312.5M226.5 310.5H240.5M226.5 312.5H249.5M220.5 315.5H225.5M225.5 313.5V315.5M225.5 313.5H249.5M225.5 315.5H229.5M229.5 315.5V316.5M229.5 315.5H248.5M229.5 316.5H240.5M209.5 321.5H214.5M214.5 319.5V323.5M214.5 319.5H221.5M221.5 319.5V320.5M221.5 319.5H227.5M227.5 317.5V319.5M227.5 317.5H244.5M227.5 319.5H248.5M221.5 320.5H248.5M214.5 323.5H220.5M220.5 322.5V326.5M220.5 322.5H225.5M225.5 322.5V323.5M225.5 322.5H248.5M225.5 323.5H240.5M220.5 326.5H246.5M195.5 338.5H209.5M209.5 332.5V344.5M209.5 332.5H215.5M215.5 330.5V336.5M215.5 330.5H219.5M219.5 328.5V331.5M219.5 328.5H223.5M223.5 327.5V329.5M223.5 327.5H245.5M223.5 329.5H247.5M219.5 331.5H225.5M225.5 330.5V332.5M225.5 330.5H247.5M225.5 332.5H247.5M215.5 336.5H219.5M219.5 335.5V339.5M219.5 335.5H225.5M225.5 334.5V337.5M225.5 334.5H229.5M229.5 333.5V335.5M229.5 333.5H249.5M229.5 335.5H245.5M225.5 337.5H227.5M227.5 336.5V337.5M227.5 336.5H245.5M227.5 337.5H248.5M219.5 339.5H224.5M224.5 338.5V340.5M224.5 338.5H248.5M224.5 340.5H234.5M209.5 344.5H214.5M214.5 342.5V344.5M214.5 342.5H231.5M214.5 344.5H217.5M217.5 344.5V346.5M217.5 344.5H233.5M217.5 346.5H235.5M143.5 366.5H160.5M160.5 351.5V381.5M160.5 351.5H191.5M191.5 348.5V351.5M191.5 348.5H235.5M191.5 351.5H200.5M200.5 350.5V351.5M200.5 350.5H218.5M200.5 351.5H222.5M160.5 381.5H165.5M165.5 354.5V409.5M165.5 354.5H199.5M199.5 353.5V355.5M199.5 353.5H219.5M199.5 355.5H224.5M165.5 409.5H172.5M172.5 375.5V442.5M172.5 375.5H179.5M179.5 361.5V389.5M179.5 361.5H186.5M186.5 358.5V364.5M186.5 358.5H208.5M208.5 357.5V360.5M208.5 357.5H225.5M208.5 360.5H211.5M211.5 359.5V361.5M211.5 359.5H229.5M211.5 361.5H234.5M186.5 364.5H198.5M198.5 362.5V365.5M198.5 362.5H234.5M198.5 365.5H204.5M204.5 364.5V366.5M204.5 364.5H226.5M204.5 366.5H231.5M179.5 389.5H189.5M189.5 376.5V401.5M189.5 376.5H195.5M195.5 369.5V373.5M195.5 369.5H203.5M203.5 368.5V370.5M203.5 368.5H225.5M203.5 370.5H209.5M209.5 369.5V371.5M209.5 369.5H229.5M209.5 371.5H229.5M195.5 373.5H211.5M211.5 373.5V374.5M211.5 373.5H226.5M211.5 374.5H232.5M189.5 401.5H202.5M202.5 386.5V405.5M202.5 386.5H206.5M206.5 381.5V390.5M206.5 381.5H212.5M212.5 377.5V381.5M212.5 377.5H226.5M226.5 376.5V378.5M226.5 376.5H232.5M226.5 378.5H249.5M212.5 381.5H216.5M216.5 380.5V384.5M216.5 380.5H221.5M221.5 379.5V380.5M221.5 379.5H243.5M221.5 380.5H246.5M216.5 384.5H224.5M224.5 382.5V384.5M224.5 382.5H246.5M224.5 384.5H248.5M206.5 390.5H211.5M211.5 387.5V392.5M211.5 387.5H224.5M224.5 386.5V389.5M224.5 386.5H242.5M224.5 389.5H229.5M229.5 388.5V389.5M229.5 388.5H241.5M229.5 389.5H240.5M211.5 392.5H215.5M215.5 391.5V394.5M215.5 391.5H240.5M215.5 394.5H218.5M218.5 393.5V394.5M218.5 393.5H235.5M218.5 394.5H232.5M202.5 405.5H207.5M207.5 398.5V407.5M207.5 398.5H210.5M210.5 398.5V402.5M210.5 398.5H213.5M213.5 397.5V400.5M213.5 397.5H217.5M217.5 396.5V398.5M217.5 396.5H232.5M217.5 398.5H221.5M221.5 397.5V399.5M221.5 397.5H234.5M221.5 399.5H231.5M213.5 400.5H241.5M210.5 402.5H218.5M218.5 401.5V403.5M218.5 401.5H241.5M218.5 403.5H241.5M207.5 407.5H210.5M210.5 407.5V410.5M210.5 407.5H213.5M213.5 405.5V407.5M213.5 405.5H235.5M213.5 407.5H217.5M217.5 406.5V408.5M217.5 406.5H235.5M217.5 408.5H232.5M210.5 410.5H221.5M221.5 409.5V411.5M221.5 409.5H232.5M221.5 411.5H241.5M172.5 442.5H186.5M186.5 424.5V461.5M186.5 424.5H196.5M196.5 415.5V425.5M196.5 415.5H210.5M210.5 414.5V417.5M210.5 414.5H220.5M220.5 413.5V415.5M220.5 413.5H238.5M220.5 415.5H238.5M210.5 417.5H218.5M218.5 417.5V418.5M218.5 417.5H245.5M218.5 418.5H240.5M196.5 425.5H206.5M206.5 421.5V426.5M206.5 421.5H219.5M219.5 419.5V421.5M219.5 419.5H240.5M219.5 421.5H224.5M224.5 421.5V423.5M224.5 421.5H243.5M224.5 423.5H241.5M206.5 426.5H218.5M218.5 425.5V428.5M218.5 425.5H221.5M221.5 424.5V426.5M221.5 424.5H241.5M221.5 426.5H240.5M218.5 428.5H222.5M222.5 427.5V429.5M222.5 427.5H240.5M222.5 429.5H246.5M186.5 461.5H193.5M193.5 440.5V482.5M193.5 440.5H204.5M204.5 434.5V444.5M204.5 434.5H211.5M211.5 431.5V434.5M211.5 431.5H236.5M211.5 434.5H217.5M217.5 433.5V436.5M217.5 433.5H239.5M217.5 436.5H241.5M204.5 444.5H210.5M210.5 440.5V447.5M210.5 440.5H215.5M215.5 439.5V442.5M215.5 439.5H220.5M220.5 438.5V440.5M220.5 438.5H241.5M220.5 440.5H242.5M215.5 442.5H219.5M219.5 441.5V443.5M219.5 441.5H237.5M219.5 443.5H237.5M210.5 447.5H215.5M215.5 445.5V448.5M215.5 445.5H244.5M215.5 448.5H221.5M221.5 447.5V450.5M221.5 447.5H235.5M221.5 450.5H224.5M224.5 449.5V451.5M224.5 449.5H237.5M224.5 451.5H241.5M193.5 482.5H198.5M198.5 461.5V502.5M198.5 461.5H208.5M208.5 461.5V472.5M208.5 461.5H213.5M213.5 456.5V466.5M213.5 456.5H216.5M216.5 455.5V460.5M216.5 455.5H221.5M221.5 453.5V456.5M221.5 453.5H238.5M221.5 456.5H225.5M225.5 456.5V457.5M225.5 456.5H236.5M225.5 457.5H244.5M216.5 460.5H220.5M220.5 459.5V462.5M220.5 459.5H223.5M223.5 459.5V461.5M223.5 459.5H238.5M223.5 461.5H238.5M220.5 462.5H252.5M213.5 466.5H217.5M217.5 464.5V466.5M217.5 464.5H252.5M217.5 466.5H224.5M224.5 465.5V467.5M224.5 465.5H241.5M224.5 467.5H244.5M208.5 472.5H213.5M213.5 470.5V476.5M213.5 470.5H222.5M222.5 469.5V470.5M222.5 469.5H241.5M222.5 470.5H241.5M213.5 476.5H216.5M216.5 473.5V476.5M216.5 473.5H220.5M220.5 473.5V474.5M220.5 473.5H241.5M220.5 474.5H244.5M216.5 476.5H222.5M222.5 476.5V478.5M222.5 476.5H239.5M222.5 478.5H247.5M198.5 502.5H208.5M208.5 490.5V509.5M208.5 490.5H213.5M213.5 483.5V496.5M213.5 483.5H216.5M216.5 480.5V485.5M216.5 480.5H220.5M220.5 480.5V481.5M220.5 480.5H243.5M220.5 481.5H243.5M216.5 485.5H219.5M219.5 484.5V488.5M219.5 484.5H222.5M222.5 483.5V486.5M222.5 483.5H246.5M222.5 486.5H241.5M219.5 488.5H252.5M213.5 496.5H219.5M219.5 494.5V499.5M219.5 494.5H223.5M223.5 492.5V496.5M223.5 492.5H227.5M227.5 490.5V493.5M227.5 490.5H231.5M231.5 490.5V491.5M231.5 490.5H252.5M231.5 491.5H246.5M227.5 493.5H232.5M232.5 492.5V494.5M232.5 492.5H246.5M232.5 494.5H241.5M223.5 496.5H227.5M227.5 495.5V497.5M227.5 495.5H241.5M227.5 497.5H241.5M219.5 499.5H231.5M231.5 498.5V499.5M231.5 498.5H247.5M231.5 499.5H243.5M208.5 509.5H210.5M210.5 508.5V516.5M210.5 508.5H213.5M213.5 505.5V511.5M213.5 505.5H218.5M218.5 503.5V508.5M218.5 503.5H223.5M223.5 502.5V504.5M223.5 502.5H245.5M223.5 504.5H227.5M227.5 504.5V506.5M227.5 504.5H252.5M227.5 506.5H255.5M218.5 508.5H244.5M213.5 511.5H224.5M224.5 510.5V512.5M224.5 510.5H253.5M224.5 512.5H251.5M210.5 516.5H213.5M213.5 516.5V520.5M213.5 516.5H218.5M218.5 515.5V518.5M218.5 515.5H222.5M222.5 514.5V516.5M222.5 514.5H248.5M222.5 516.5H243.5M218.5 518.5H248.5M213.5 520.5H226.5M226.5 519.5V521.5M226.5 519.5H248.5M226.5 521.5H246.5" fill="none" stroke="#000" stroke-width="1.1" stroke-linecap="square"/>
<path d="M273.8 177.1H235V178.1H235V179.1H235V180.1H238V181.1H238V182.1H234V183.1H234V184.1H234V185.1H238V186.1H238V187.1H233V188.1H228V189.1H236V190.1H236V191.1H232V192.1H232V193.1H229V194.1H229V195.1H229V196.1H231V197.1H236V198.1H229V199.1H229V200.1H223V201.1H226V202.1H226V203.1H226V204.1H221V205.1H223V206.1H232V207.1H231V208.1H224V209.1H224V210.1H227V211.1H223V212.1H232V213.1H224V214.1H224V215.1H225V216.1H225V217.1H223V218.1H224V219.1H224V220.1H226V221.1H226V222.1H226V223.1H227V224.1H227V225.1H227V226.1H222V227.1H222V228.1H228V229.1H228V230.1H227V231.1H227V232.1H225V233.1H222V234.1H230V235.1H229V236.1H229V237.1H226V238.1H224V239.1H224V240.1H237V241.1H237V242.1H237V243.1H229V244.1H229V245.1H235V246.1H230V247.1H238V248.1H232V249.1H232V250.1H253V251.1H253V252.1H251V253.1H251V254.1H249V255.1H252V256.1H252V257.1H247V258.1H245V259.1H249V260.1H249V261.1H249V262.1H242V263.1H239V264.1H239V265.1H239V266.1H241V267.1H241V268.1H245V269.1H249V270.1H249V271.1H246V272.1H249V273.1H248V274.1H248V275.1H248V276.1H241V277.1H242V278.1H242V279.1H242V280.1H243V281.1H243V282.1H240V283.1H240V284.1H247V285.1H247V286.1H247V287.1H249V288.1H248V289.1H248V290.1H248V291.1H235V292.1H235V293.1H237V294.1H237V295.1H242V296.1H235V297.1H235V298.1H242V299.1H242V300.1H242V301.1H241V302.1H241V303.1H241V304.1H243V305.1H243V306.1H241V307.1H241V308.1H241V309.1H241V310.1H237V311.1H246V312.1H246V313.1H246V314.1H245V315.1H245V316.1H237V317.1H241V318.1H241V319.1H245V320.1H245V321.1H245V322.1H237V323.1H237V324.1H243V325.1H243V326.1H244V327.1H242V328.1H242V329.1H244V330.1H244V331.1H244V332.1H244V333.1H246V334.1H246V335.1H242V336.1H242V337.1H245V338.1H245V339.1H245V340.1H231V341.1H231V342.1H228V343.1H228V344.1H230V345.1H230V346.1H232V347.1H232V348.1H232V349.1H215V350.1H215V351.1H219V352.1H219V353.1H216V354.1H216V355.1H221V356.1H222V357.1H222V358.1H226V359.1H226V360.1H231V361.1H231V362.1H231V363.1H229V364.1H223V365.1H223V366.1H228V367.1H222V368.1H222V369.1H226V370.1H226V371.1H226V372.1H223V373.1H223V374.1H229V375.1H229V376.1H229V377.1H246V378.1H246V379.1H240V380.1H243V381.1H243V382.1H243V383.1H240V384.1H245V385.1H250V386.1H239V387.1H238V388.1H243V389.1H237V390.1H237V391.1H237V392.1H232V393.1H232V394.1H229V395.1H229V396.1H229V397.1H231V398.1H228V399.1H228V400.1H238V401.1H238V402.1H238V403.1H238V404.1H232V405.1H232V406.1H232V407.1H234V408.1H229V409.1H229V410.1H238V411.1H238V412.1H238V413.1H235V414.1H235V415.1H235V416.1H242V417.1H242V418.1H237V419.1H237V420.1H240V421.1H240V422.1H240V423.1H238V424.1H238V425.1H239V426.1H237V427.1H237V428.1H237V429.1H243V430.1H233V431.1H233V432.1H233V433.1H236V434.1H238V435.1H238V436.1H238V437.1H238V438.1H238V439.1H239V440.1H239V441.1H234V442.1H234V443.1H234V444.1H241V445.1H241V446.1H232V447.1H232V448.1H234V449.1H234V450.1H236V451.1H238V452.1H238V453.1H235V454.1H235V455.1H233V456.1H233V457.1H241V458.1H241V459.1H235V460.1H235V461.1H235V462.1H249V463.1H249V464.1H249V465.1H238V466.1H247V467.1H241V468.1H238V469.1H238V470.1H238V471.1H242V472.1H242V473.1H238V474.1H241V475.1H236V476.1H236V477.1H244V478.1H244V479.1H244V480.1H240V481.1H240V482.1H240V483.1H243V484.1H243V485.1H243V486.1H238V487.1H243V488.1H249V489.1H249V490.1H249V491.1H243V492.1H243V493.1H243V494.1H238V495.1H238V496.1H238V497.1H244V498.1H244V499.1H240V500.1H240V501.1H240V502.1H242V503.1H249V504.1H249V505.1H252V506.1H241V507.1H241V508.1H241V509.1H250V510.1H250V511.1H248V512.1H248V513.1H245V514.1H245V515.1H240V516.1H240V517.1H246V518.1H245V519.1H245V520.1H237V521.1H243V522.1H241V522.8H273.8Z" fill="#000"/>
<rect x="245" y="338" width="26" height="1.6" fill="#fff"/>
<rect x="247" y="278" width="6" height="1" fill="#fff"/>
<rect x="243" y="378" width="7" height="1" fill="#fff"/>
<rect x="246" y="486" width="8" height="1" fill="#fff"/>
</g>
<g class="icon">
<g>
<ellipse cx="153.55" cy="135.11" rx="27" ry="24" fill="#ec9a46"/>
<ellipse cx="180.49" cy="131.68" rx="17" ry="20" fill="#ec9a46"/>
<ellipse cx="142.09" cy="151.16" rx="20" ry="12" fill="#ec9a46"/>
<ellipse cx="167.31" cy="119.07" rx="18" ry="10" fill="#ec9a46"/>
<circle cx="134.64" cy="123.65" r="8.2" fill="#eb9640" stroke="#e08a34" stroke-width="0.8"/>
<circle cx="134.64" cy="123.65" r="6.6" fill="url(#bg)"/>
<circle cx="147.54" cy="111.62" r="8.2" fill="#eb9640" stroke="#e08a34" stroke-width="0.8"/>
<circle cx="147.54" cy="111.62" r="6.6" fill="url(#bg)"/>
<circle cx="189.08" cy="116.2" r="7.6" fill="#eb9640" stroke="#e08a34" stroke-width="0.8"/>
<circle cx="189.08" cy="116.2" r="6" fill="url(#bg)"/>
<circle cx="129.48" cy="137.41" r="9.4" fill="#eb9640" stroke="#e08a34" stroke-width="0.8"/>
<circle cx="129.48" cy="137.41" r="7.8" fill="url(#bg)"/>
<circle cx="125.47" cy="150.59" r="3.8" fill="#eb9640" stroke="#e08a34" stroke-width="0.8"/>
<circle cx="125.47" cy="150.59" r="2.8" fill="url(#bg)"/>
<circle cx="135.21" cy="157.46" r="8.4" fill="#eb9640" stroke="#e08a34" stroke-width="0.8"/>
<circle cx="135.21" cy="157.46" r="6.8" fill="url(#bg)"/>
<circle cx="147.54" cy="159.18" r="6" fill="#eb9640" stroke="#e08a34" stroke-width="0.8"/>
<circle cx="147.54" cy="159.18" r="4.6" fill="url(#bg)"/>
<circle cx="145.53" cy="148.3" r="7.2" fill="#eb9640" stroke="#e08a34" stroke-width="0.8"/>
<circle cx="145.53" cy="148.3" r="5.8" fill="url(#bg)"/>
<circle cx="170.74" cy="142.56" r="4.8" fill="#eb9640" stroke="#e08a34" stroke-width="0.8"/>
<circle cx="170.74" cy="142.56" r="3.6" fill="url(#bg)"/>
<circle cx="160.72" cy="114.48" r="6" fill="#eb9640" stroke="#e08a34" stroke-width="0.8"/>
<circle cx="160.72" cy="114.48" r="4.7" fill="url(#bg)"/>
<circle cx="176.19" cy="114.77" r="6.1" fill="#eb9640" stroke="#e08a34" stroke-width="0.8"/>
<circle cx="176.19" cy="114.77" r="4.8" fill="url(#bg)"/>
<circle cx="193.38" cy="137.12" r="6.1" fill="#eb9640" stroke="#e08a34" stroke-width="0.8"/>
<circle cx="193.38" cy="137.12" r="4.8" fill="url(#bg)"/>
<circle cx="179.91" cy="127.66" r="10.1" fill="#eb9640" stroke="#e08a34" stroke-width="0.8"/>
<circle cx="179.91" cy="127.66" r="8.3" fill="url(#bg)"/>
<circle cx="184.5" cy="146.58" r="10" fill="#eb9640" stroke="#e08a34" stroke-width="0.8"/>
<circle cx="184.5" cy="146.58" r="8.2" fill="url(#bg)"/>
<circle cx="166.45" cy="156.89" r="10" fill="#eb9640" stroke="#e08a34" stroke-width="0.8"/>
<circle cx="166.45" cy="156.89" r="8.2" fill="url(#bg)"/>
<circle cx="155.27" cy="131.68" r="14.9" fill="#eb9640" stroke="#e08a34" stroke-width="0.8"/>
<circle cx="155.27" cy="131.68" r="12.3" fill="url(#bg)"/>
<ellipse cx="156.13" cy="135.8" rx="8.2" ry="3.7" fill="#5a2024" transform="rotate(-4 156.13 135.8)"/>
<ellipse cx="155.27" cy="125.37" rx="5.4" ry="2.5" fill="#5a2024" transform="rotate(52 155.27 125.37)"/>
<ellipse cx="147.82" cy="129.38" rx="2.8" ry="0.9" fill="#5a2024" transform="rotate(10 147.82 129.38)"/>
<ellipse cx="161.58" cy="129.27" rx="1.7" ry="1.5" fill="#5a2024" transform="rotate(0 161.58 129.27)"/>
<ellipse cx="147.25" cy="111.62" rx="5.2" ry="2.5" fill="#5a2024" transform="rotate(-22 147.25 111.62)"/>
<ellipse cx="135.5" cy="123.94" rx="4.6" ry="2.1" fill="#5a2024" transform="rotate(-35 135.5 123.94)"/>
<ellipse cx="159.86" cy="113.91" rx="3.2" ry="1.5" fill="#5a2024" transform="rotate(35 159.86 113.91)"/>
<ellipse cx="161.86" cy="116.09" rx="3" ry="1.3" fill="#5a2024" transform="rotate(-30 161.86 116.09)"/>
<ellipse cx="175.9" cy="113.91" rx="3.4" ry="2.4" fill="#5a2024" transform="rotate(60 175.9 113.91)"/>
<ellipse cx="178.19" cy="117.06" rx="2.6" ry="1.3" fill="#5a2024" transform="rotate(-20 178.19 117.06)"/>
<ellipse cx="188.51" cy="116.49" rx="4.4" ry="1.5" fill="#5a2024" transform="rotate(35 188.51 116.49)"/>
<ellipse cx="177.62" cy="125.95" rx="5.8" ry="3.6" fill="#5a2024" transform="rotate(-10 177.62 125.95)"/>
<ellipse cx="179.63" cy="132.54" rx="4" ry="1.7" fill="#5a2024" transform="rotate(50 179.63 132.54)"/>
<ellipse cx="185.07" cy="129.67" rx="2.6" ry="1" fill="#5a2024" transform="rotate(0 185.07 129.67)"/>
<ellipse cx="128.62" cy="134.83" rx="5.2" ry="2.8" fill="#5a2024" transform="rotate(-20 128.62 134.83)"/>
<ellipse cx="132.64" cy="140.85" rx="4.2" ry="1.9" fill="#5a2024" transform="rotate(45 132.64 140.85)"/>
<ellipse cx="135.79" cy="136.83" rx="2.2" ry="0.8" fill="#5a2024" transform="rotate(-10 135.79 136.83)"/>
<ellipse cx="181.92" cy="143.14" rx="5.4" ry="2.8" fill="#5a2024" transform="rotate(-25 181.92 143.14)"/>
<ellipse cx="186.22" cy="149.44" rx="4.2" ry="2" fill="#5a2024" transform="rotate(55 186.22 149.44)"/>
<ellipse cx="189.08" cy="144.86" rx="2" ry="0.8" fill="#5a2024" transform="rotate(0 189.08 144.86)"/>
<ellipse cx="163.87" cy="152.88" rx="5.2" ry="2.9" fill="#5a2024" transform="rotate(-25 163.87 152.88)"/>
<ellipse cx="167.31" cy="158.61" rx="4" ry="1.9" fill="#5a2024" transform="rotate(50 167.31 158.61)"/>
<ellipse cx="170.74" cy="154.6" rx="2.2" ry="0.8" fill="#5a2024" transform="rotate(-10 170.74 154.6)"/>
<ellipse cx="134.64" cy="155.74" rx="3.8" ry="1.9" fill="#5a2024" transform="rotate(50 134.64 155.74)"/>
<ellipse cx="138.08" cy="159.18" rx="3.4" ry="1.7" fill="#5a2024" transform="rotate(50 138.08 159.18)"/>
<ellipse cx="147.82" cy="158.61" rx="3.8" ry="1.7" fill="#5a2024" transform="rotate(-35 147.82 158.61)"/>
<ellipse cx="147.25" cy="160.33" rx="2.4" ry="1.1" fill="#5a2024" transform="rotate(55 147.25 160.33)"/>
<ellipse cx="148.11" cy="148.58" rx="5.6" ry="1.7" fill="#5a2024" transform="rotate(30 148.11 148.58)"/>
<ellipse cx="143.24" cy="146.58" rx="1.8" ry="0.9" fill="#5a2024" transform="rotate(-45 143.24 146.58)"/>
<ellipse cx="192.52" cy="137.41" rx="3.5" ry="2.6" fill="#5a2024" transform="rotate(40 192.52 137.41)"/>
<ellipse cx="170.74" cy="141.42" rx="2.8" ry="1" fill="#5a2024" transform="rotate(-40 170.74 141.42)"/>
<ellipse cx="169.6" cy="144.28" rx="2.8" ry="1" fill="#5a2024" transform="rotate(20 169.6 144.28)"/>
<ellipse cx="168.45" cy="117.35" rx="3.4" ry="1" fill="#5a2024" transform="rotate(50 168.45 117.35)"/>
<ellipse cx="125.47" cy="150.59" rx="2.2" ry="0.9" fill="#5a2024" transform="rotate(-50 125.47 150.59)"/>
</g>
</g>
<g class="colorbar">
<rect x="72" y="239" width="26" height="268.5" fill="url(#cbg)"/>
<line x1="105.6" y1="239.1" x2="105.6" y2="506.9" stroke="#000" stroke-width="2.9"/>
<line x1="105.6" y1="240.5" x2="113.1" y2="240.5" stroke="#000" stroke-width="2.8"/>
<line x1="105.6" y1="307" x2="113.1" y2="307" stroke="#000" stroke-width="2.8"/>
<line x1="105.6" y1="373" x2="113.1" y2="373" stroke="#000" stroke-width="2.8"/>
<line x1="105.6" y1="439" x2="113.1" y2="439" stroke="#000" stroke-width="2.8"/>
<line x1="105.6" y1="505.5" x2="113.1" y2="505.5" stroke="#000" stroke-width="2.8"/>
<text x="126.6" y="253.1" font-size="34">4</text>
<text x="126.6" y="384" font-size="34">0</text>
<text x="115.6" y="516.1" font-size="34" textLength="36.5" lengthAdjust="spacing">−4</text>
<text x="56.2" y="513" font-size="32" font-weight="bold" transform="rotate(-90 56.2 513)" textLength="277" lengthAdjust="spacing" stroke="#000" stroke-width="0.4">Abundance [A.U.]</text>
</g>
<g class="groups">
<line x1="283.2" y1="532" x2="355.9" y2="532" stroke="#000" stroke-width="3"/>
<line x1="371" y1="532" x2="443.8" y2="532" stroke="#000" stroke-width="3"/>
<line x1="456.3" y1="532" x2="564" y2="532" stroke="#000" stroke-width="3"/>
<line x1="567" y1="532" x2="655" y2="532" stroke="#000" stroke-width="3"/>
<text x="337.3" y="556.5" font-size="42" text-anchor="end" transform="rotate(-45 337.3 556.5)">AL</text>
<text x="433.8" y="556.5" font-size="42" text-anchor="end" transform="rotate(-45 433.8 556.5)">DR</text>
<text x="527.7" y="556.8" font-size="42" text-anchor="end" transform="rotate(-45 527.7 556.8)">DRAL</text>
<text x="641.1" y="556.3" font-size="42" text-anchor="end" transform="rotate(-45 641.1 556.3)">ALDR</text>
</g>
<g class="title">
<text x="230.2" y="150" font-size="42" font-weight="bold" textLength="512.5" lengthAdjust="spacing" stroke="#000" stroke-width="0.5">ALDR switch-resistant genes</text>
</g>
<g class="panel-label">
<text x="-4" y="50.3" font-size="53" font-weight="bold">a</text>
</g>
</g>
<g id="panel-b" aria-label="Panel b: liver boxplots">
<g class="icon">
<path d="M1364.8 -1.24C1354.86 1.24 1346.16 12.43 1343.98 26.1C1342.74 37.29 1343.98 49.72 1346.78 56.56C1348.65 60.6 1354.86 60.91 1361.08 55.31C1367.29 49.72 1373.51 42.88 1378.48 38.53C1384.69 32.94 1392.15 32.94 1400.23 29.83C1410.8 25.48 1419.5 15.54 1422.91 5.59C1423.23 3.11 1421.36 1.86 1417.01 1.24L1384.07 0.93L1383.45 -1.24Z" fill="#f04f40"/>
<path d="M1375.99 1.86C1379.72 12.43 1385.94 18.65 1395.26 20.51C1404.58 20.51 1413.9 15.54 1417.01 10.57C1415.77 17.4 1407.69 24.86 1398.37 27.35C1390.91 29.21 1384.69 29.83 1379.72 33.56C1373.51 38.53 1367.29 47.23 1359.83 50.96C1354.86 53.45 1349.89 52.21 1347.4 49.72C1351.75 49.72 1357.97 47.86 1362.32 43.51C1370.4 37.29 1378.48 31.08 1379.1 24.86C1379.72 17.4 1376.61 9.32 1375.99 1.86Z" fill="#f56e68"/>
</g>
<g class="boxplots">
<g id="plot-up"><line x1="1015.8" y1="192.1" x2="1015.8" y2="494.4" stroke="#000" stroke-width="2.9"/>
<line x1="1005.3" y1="193" x2="1015.8" y2="193" stroke="#000" stroke-width="2.7"/>
<line x1="1005.3" y1="268" x2="1015.8" y2="268" stroke="#000" stroke-width="2.7"/>
<line x1="1005.3" y1="343" x2="1015.8" y2="343" stroke="#000" stroke-width="2.7"/>
<line x1="1005.3" y1="418" x2="1015.8" y2="418" stroke="#000" stroke-width="2.7"/>
<line x1="1005.3" y1="493" x2="1015.8" y2="493" stroke="#000" stroke-width="2.7"/>
<text x="996.3" y="209.1" font-size="43" text-anchor="end">3</text>
<text x="996.3" y="358.6" font-size="43" text-anchor="end">0</text>
<text x="996.3" y="508.6" font-size="43" text-anchor="end">−3</text>
<line x1="1072.7" y1="496.3" x2="1072.7" y2="509" stroke="#000" stroke-width="2.6"/>
<line x1="1124.3" y1="496.3" x2="1124.3" y2="509" stroke="#000" stroke-width="2.6"/>
<line x1="1209.7" y1="496.3" x2="1209.7" y2="509" stroke="#000" stroke-width="2.6"/>
<line x1="1260.7" y1="496.3" x2="1260.7" y2="509" stroke="#000" stroke-width="2.6"/>
<line x1="1253.8" y1="230.6" x2="1265.4" y2="230.6" stroke="#f4a6ab" stroke-width="1.4"/>
<line x1="1253.8" y1="236.5" x2="1265.4" y2="236.5" stroke="#f4a6ab" stroke-width="1.4"/>
<line x1="1253.8" y1="238.5" x2="1265.4" y2="238.5" stroke="#f4a6ab" stroke-width="1.4"/>
<line x1="1253.8" y1="253.6" x2="1265.4" y2="253.6" stroke="#f4a6ab" stroke-width="1.4"/>
<line x1="1253.8" y1="259" x2="1265.4" y2="259" stroke="#f4a6ab" stroke-width="1.4"/>
<line x1="1253.8" y1="265" x2="1265.4" y2="265" stroke="#f4a6ab" stroke-width="1.4"/>
<line x1="1253.8" y1="269" x2="1265.4" y2="269" stroke="#f4a6ab" stroke-width="1.4"/>
<line x1="1253.8" y1="342.4" x2="1265.4" y2="342.4" stroke="#f4a6ab" stroke-width="1.4"/>
<line x1="1253.8" y1="353.3" x2="1265.4" y2="353.3" stroke="#f4a6ab" stroke-width="1.4"/>
<line x1="1253.8" y1="356" x2="1265.4" y2="356" stroke="#f4a6ab" stroke-width="1.4"/>
<line x1="1253.8" y1="371.6" x2="1265.4" y2="371.6" stroke="#f4a6ab" stroke-width="1.4"/>
<line x1="1253.8" y1="393.7" x2="1265.4" y2="393.7" stroke="#f4a6ab" stroke-width="1.4"/>
<line x1="1253.8" y1="432.7" x2="1265.4" y2="432.7" stroke="#f4a6ab" stroke-width="1.4"/>
<line x1="1071.9" y1="349.3" x2="1071.9" y2="419.8" stroke="#1a1a1a" stroke-width="1.9"/>
<rect x="1046.3" y="376.2" width="51.2" height="17.2" fill="#7090cd"/>
<line x1="1058.9" y1="384.8" x2="1084.9" y2="384.8" stroke="#333333" stroke-width="4"/>
<line x1="1123.25" y1="328" x2="1123.25" y2="427.5" stroke="#1a1a1a" stroke-width="1.9"/>
<rect x="1097.5" y="366.2" width="51.5" height="25.5" fill="#e3a844"/>
<line x1="1110.25" y1="381" x2="1136.25" y2="381" stroke="#333333" stroke-width="4"/>
<line x1="1207.5" y1="249.3" x2="1207.5" y2="351" stroke="#1a1a1a" stroke-width="1.9"/>
<rect x="1182" y="287" width="51" height="26.5" fill="#ef6a3c"/>
<line x1="1194.5" y1="299.7" x2="1220.5" y2="299.7" stroke="#333333" stroke-width="4"/>
<line x1="1259.5" y1="211" x2="1259.5" y2="394" stroke="#1a1a1a" stroke-width="1.9"/>
<rect x="1233" y="279" width="53" height="47.6" fill="#5cbb55"/>
<line x1="1233" y1="303" x2="1286" y2="303" stroke="#ffffff" stroke-width="0.9" stroke-opacity="0.9"/>
<path d="M1233 301.5L1236.2 303L1233 304.5Z" fill="#fff"/>
<path d="M1286 301.5L1282.8 303L1286 304.5Z" fill="#fff"/>
<line x1="1246.5" y1="303" x2="1272.5" y2="303" stroke="#333333" stroke-width="4"/>
<text x="1076.2" y="524" font-size="42.5" text-anchor="end" transform="rotate(-45 1076.2 524)">AL</text>
<text x="1128.8" y="532.2" font-size="42.5" text-anchor="end" transform="rotate(-45 1128.8 532.2)">AL (5m)</text>
<text x="1223" y="533.3" font-size="42.5" text-anchor="end" transform="rotate(-45 1223 533.3)">DR</text>
<text x="1283" y="532.4" font-size="42.5" text-anchor="end" transform="rotate(-45 1283 532.4)">ALDR (5m)</text></g>
<g id="plot-down"><line x1="1453.4" y1="192.1" x2="1453.4" y2="494.4" stroke="#000" stroke-width="2.9"/>
<line x1="1442.9" y1="193" x2="1453.4" y2="193" stroke="#000" stroke-width="2.7"/>
<line x1="1442.9" y1="268" x2="1453.4" y2="268" stroke="#000" stroke-width="2.7"/>
<line x1="1442.9" y1="343" x2="1453.4" y2="343" stroke="#000" stroke-width="2.7"/>
<line x1="1442.9" y1="418" x2="1453.4" y2="418" stroke="#000" stroke-width="2.7"/>
<line x1="1442.9" y1="493" x2="1453.4" y2="493" stroke="#000" stroke-width="2.7"/>
<text x="1433.9" y="209.1" font-size="43" text-anchor="end">3</text>
<text x="1433.9" y="358.6" font-size="43" text-anchor="end">0</text>
<text x="1433.9" y="508.6" font-size="43" text-anchor="end">−3</text>
<line x1="1510.7" y1="496.3" x2="1510.7" y2="509" stroke="#000" stroke-width="2.6"/>
<line x1="1561.4" y1="496.3" x2="1561.4" y2="509" stroke="#000" stroke-width="2.6"/>
<line x1="1646.5" y1="496.3" x2="1646.5" y2="509" stroke="#000" stroke-width="2.6"/>
<line x1="1697.2" y1="496.3" x2="1697.2" y2="509" stroke="#000" stroke-width="2.6"/>
<line x1="1691.6" y1="317.2" x2="1703.2" y2="317.2" stroke="#f4a6ab" stroke-width="1.4"/>
<line x1="1691.6" y1="319.2" x2="1703.2" y2="319.2" stroke="#f4a6ab" stroke-width="1.4"/>
<line x1="1691.6" y1="323.3" x2="1703.2" y2="323.3" stroke="#f4a6ab" stroke-width="1.4"/>
<line x1="1691.6" y1="333.8" x2="1703.2" y2="333.8" stroke="#f4a6ab" stroke-width="1.4"/>
<line x1="1691.6" y1="396.5" x2="1703.2" y2="396.5" stroke="#f4a6ab" stroke-width="1.4"/>
<line x1="1691.6" y1="400.8" x2="1703.2" y2="400.8" stroke="#f4a6ab" stroke-width="1.4"/>
<line x1="1691.6" y1="404.6" x2="1703.2" y2="404.6" stroke="#f4a6ab" stroke-width="1.4"/>
<line x1="1691.6" y1="409.6" x2="1703.2" y2="409.6" stroke="#f4a6ab" stroke-width="1.4"/>
<line x1="1691.6" y1="411.6" x2="1703.2" y2="411.6" stroke="#f4a6ab" stroke-width="1.4"/>
<line x1="1509.95" y1="251.4" x2="1509.95" y2="364.5" stroke="#1a1a1a" stroke-width="1.9"/>
<rect x="1484" y="293.2" width="51.9" height="29.5" fill="#7090cd"/>
<line x1="1496.95" y1="309" x2="1522.95" y2="309" stroke="#333333" stroke-width="4"/>
<line x1="1561.4" y1="233" x2="1561.4" y2="370.2" stroke="#1a1a1a" stroke-width="1.9"/>
<rect x="1535.9" y="283.2" width="51" height="35.5" fill="#e3a844"/>
<line x1="1535.9" y1="299" x2="1586.9" y2="299" stroke="#ffffff" stroke-width="0.9" stroke-opacity="0.9"/>
<path d="M1535.9 297.5L1539.1 299L1535.9 300.5Z" fill="#fff"/>
<path d="M1586.9 297.5L1583.7 299L1586.9 300.5Z" fill="#fff"/>
<line x1="1548.4" y1="299" x2="1574.4" y2="299" stroke="#333333" stroke-width="4"/>
<line x1="1646.1" y1="355" x2="1646.1" y2="423.8" stroke="#1a1a1a" stroke-width="1.9"/>
<rect x="1620.2" y="380.3" width="51.8" height="18.6" fill="#ef6a3c"/>
<line x1="1633.1" y1="389.7" x2="1659.1" y2="389.7" stroke="#333333" stroke-width="4"/>
<line x1="1697.5" y1="324.4" x2="1697.5" y2="434.7" stroke="#1a1a1a" stroke-width="1.9"/>
<rect x="1672" y="366" width="51" height="27.7" fill="#5cbb55"/>
<line x1="1684.5" y1="382" x2="1710.5" y2="382" stroke="#333333" stroke-width="4"/>
<text x="1514.2" y="524" font-size="42.5" text-anchor="end" transform="rotate(-45 1514.2 524)">AL</text>
<text x="1566.8" y="532.2" font-size="42.5" text-anchor="end" transform="rotate(-45 1566.8 532.2)">AL (5m)</text>
<text x="1661" y="533.3" font-size="42.5" text-anchor="end" transform="rotate(-45 1661 533.3)">DR</text>
<text x="1721" y="532.4" font-size="42.5" text-anchor="end" transform="rotate(-45 1721 532.4)">ALDR (5m)</text></g>
</g>
<g class="title">
<text x="1047.7" y="117.8" font-size="41" font-weight="bold" textLength="255.2" lengthAdjust="spacing" stroke="#000" stroke-width="0.5">Up-regulated</text>
<text x="1015" y="167.6" font-size="41" font-weight="bold" textLength="320" lengthAdjust="spacing" stroke="#000" stroke-width="0.5">genes under DR</text>
<text x="1455.7" y="117.8" font-size="41" font-weight="bold" textLength="312.5" lengthAdjust="spacing" stroke="#000" stroke-width="0.5">Down-regulated</text>
<text x="1452.6" y="167.6" font-size="41" font-weight="bold" textLength="320" lengthAdjust="spacing" stroke="#000" stroke-width="0.5">genes under DR</text>
</g>
<g class="y-label">
<text x="879" y="420.3" font-size="44" font-weight="bold" transform="rotate(-90 879 420.3)" textLength="132" lengthAdjust="spacing" stroke="#000" stroke-width="0.5">Scaled</text>
<text x="928.4" y="519.2" font-size="41.5" font-weight="bold" transform="rotate(-90 928.4 519.2)" textLength="342" lengthAdjust="spacing" stroke="#000" stroke-width="0.5">expression [A.U.]</text>
</g>
<g class="legend">
<line x1="1022.2" y1="719.2" x2="1044.4" y2="719.2" stroke="#d1232d" stroke-width="4.2" stroke-linecap="round"/>
<text x="1062.6" y="731" font-size="33" textLength="594" lengthAdjust="spacing">ALDR switch–resistant gene (at old age)</text>
</g>
<g class="panel-label">
<text x="920.4" y="50.2" font-size="51" font-weight="bold">b</text>
</g>
</g>
<g id="panel-c" aria-label="Panel c: brown adipose tissue heatmap">
<g class="heatmap">
<g shape-rendering="crispEdges">
<path fill="#b9c0e2" d="M244 870h29v1h-29zM244 872h29v1h-29zM244 877h29v1h-29zM244 880h29v1h-29zM244 890h29v1h-29zM244 892h29v1h-29zM244 898h29v1h-29zM244 928h29v2h-29zM244 937h29v1h-29zM244 942h29v1h-29zM244 950h29v4h-29zM244 970h29v1h-29zM244 974h29v2h-29zM244 985h29v1h-29zM244 992h29v1h-29zM244 1000h29v4h-29zM244 1009h29v1h-29zM244 1015h29v2h-29zM244 1025h29v1h-29zM244 1027h29v2h-29zM244 1036h29v1h-29zM244 1040h29v2h-29zM273 906h29.3v1h-29.3zM273 908h29.3v1h-29.3zM273 1003h29.3v1h-29.3zM273 1076h29.3v1h-29.3zM302.3 871h28.9v3h-28.9zM302.3 875h28.9v2h-28.9zM302.3 880h28.9v2h-28.9zM302.3 888h28.9v1h-28.9zM302.3 890h28.9v1h-28.9zM302.3 892h28.9v1h-28.9zM302.3 902h28.9v1h-28.9zM302.3 936h28.9v1h-28.9zM302.3 941h28.9v2h-28.9zM302.3 944h28.9v1h-28.9zM302.3 950h28.9v1h-28.9zM302.3 954h28.9v1h-28.9zM302.3 956h28.9v1h-28.9zM302.3 960h28.9v1h-28.9zM302.3 962h28.9v1h-28.9zM302.3 990h28.9v1h-28.9zM302.3 992h28.9v2h-28.9zM302.3 996h28.9v2h-28.9zM302.3 1015h28.9v1h-28.9zM302.3 1019h28.9v2h-28.9zM302.3 1024h28.9v1h-28.9zM302.3 1032h28.9v2h-28.9zM331.2 1050h28.8v2h-28.8zM331.2 1063h28.8v1h-28.8zM331.2 1065h28.8v2h-28.8zM331.2 1078h28.8v1h-28.8zM331.2 1109h28.8v1h-28.8zM331.2 1125h28.8v1h-28.8zM331.2 1148h28.8v1h-28.8zM331.2 1157h28.8v2h-28.8zM331.2 1166h28.8v2h-28.8zM331.2 1173h28.8v1h-28.8zM331.2 1185h28.8v1h-28.8zM331.2 1205h28.8v1h-28.8zM331.2 1209h28.8v1h-28.8zM360 1043h29.1v2h-29.1zM360 1055h29.1v1h-29.1zM360 1059h29.1v2h-29.1zM360 1063h29.1v5h-29.1zM360 1083h29.1v1h-29.1zM360 1092h29.1v1h-29.1zM360 1094h29.1v1h-29.1zM360 1101h29.1v1h-29.1zM360 1106h29.1v1h-29.1zM360 1108h29.1v1h-29.1zM360 1116h29.1v5h-29.1zM360 1124h29.1v2h-29.1zM360 1141h29.1v1h-29.1zM360 1148h29.1v1h-29.1zM360 1150h29.1v3h-29.1zM360 1174h29.1v1h-29.1zM360 1177h29.1v1h-29.1zM360 1187h29.1v1h-29.1zM360 1190h29.1v1h-29.1zM360 1197h29.1v1h-29.1zM360 1201h29.1v2h-29.1zM360 1206h29.1v1h-29.1zM360 1213h29.1v2h-29.1zM389.1 1050h29v2h-29zM389.1 1066h29v1h-29zM389.1 1068h29v1h-29zM389.1 1071h29v1h-29zM389.1 1075h29v1h-29zM389.1 1077h29v1h-29zM389.1 1081h29v2h-29zM389.1 1093h29v1h-29zM389.1 1097h29v1h-29zM389.1 1105h29v1h-29zM389.1 1109h29v2h-29zM389.1 1118h29v1h-29zM389.1 1125h29v1h-29zM389.1 1147h29v1h-29zM389.1 1151h29v1h-29zM389.1 1156h29v2h-29zM389.1 1162h29v1h-29zM389.1 1164h29v1h-29zM389.1 1166h29v2h-29zM389.1 1174h29v1h-29zM389.1 1184h29v1h-29zM389.1 1186h29v3h-29zM389.1 1209h29v2h-29zM389.1 1216h29v1h-29zM418.1 883h28.9v1h-28.9zM418.1 897h28.9v1h-28.9zM418.1 933h28.9v1h-28.9zM418.1 938h28.9v1h-28.9zM418.1 960h28.9v1h-28.9zM418.1 962h28.9v1h-28.9zM418.1 970h28.9v1h-28.9zM418.1 978h28.9v2h-28.9zM418.1 988h28.9v1h-28.9zM418.1 994h28.9v1h-28.9zM418.1 996h28.9v1h-28.9zM418.1 1012h28.9v2h-28.9zM447 877h29v1h-29zM447 891h29v1h-29zM447 893h29v1h-29zM447 895h29v2h-29zM447 903h29v3h-29zM447 907h29v1h-29zM447 916h29v1h-29zM447 949h29v1h-29zM447 954h29v1h-29zM447 961h29v1h-29zM447 974h29v1h-29zM447 977h29v2h-29zM447 980h29v1h-29zM447 989h29v1h-29zM447 1004h29v5h-29zM447 1010h29v1h-29zM447 1016h29v2h-29zM447 1020h29v1h-29zM447 1022h29v1h-29zM447 1029h29v1h-29zM447 1033h29v4h-29zM447 1038h29v2h-29zM476 885h28v1h-28zM476 963h28v1h-28zM476 990h28v1h-28zM476 998h28v1h-28zM504 1068h29.3v1h-29.3zM504 1089h29.3v3h-29.3zM504 1095h29.3v1h-29.3zM504 1102h29.3v1h-29.3zM504 1120h29.3v1h-29.3zM504 1123h29.3v2h-29.3zM504 1128h29.3v1h-29.3zM504 1131h29.3v1h-29.3zM504 1157h29.3v1h-29.3zM504 1161h29.3v1h-29.3zM504 1171h29.3v1h-29.3zM504 1175h29.3v2h-29.3zM504 1183h29.3v1h-29.3zM504 1193h29.3v1h-29.3zM504 1216h29.3v1h-29.3zM533.3 1064h29v1h-29zM533.3 1067h29v1h-29zM533.3 1069h29v1h-29zM533.3 1076h29v2h-29zM533.3 1082h29v1h-29zM533.3 1091h29v3h-29zM533.3 1095h29v1h-29zM533.3 1106h29v1h-29zM533.3 1115h29v1h-29zM533.3 1119h29v1h-29zM533.3 1122h29v1h-29zM533.3 1131h29v1h-29zM533.3 1133h29v2h-29zM533.3 1143h29v1h-29zM533.3 1190h29v1h-29zM533.3 1200h29v2h-29zM533.3 1211h29v1h-29zM562.3 918h29.5v1h-29.5zM562.3 922h29.5v1h-29.5zM562.3 1069h29.5v1h-29.5zM562.3 1081h29.5v1h-29.5zM562.3 1084h29.5v2h-29.5zM562.3 1090h29.5v4h-29.5zM562.3 1134h29.5v1h-29.5zM562.3 1146h29.5v1h-29.5zM562.3 1148h29.5v3h-29.5zM562.3 1157h29.5v2h-29.5zM562.3 1163h29.5v2h-29.5zM562.3 1169h29.5v1h-29.5zM562.3 1203h29.5v1h-29.5zM562.3 1207h29.5v1h-29.5z"/>
<path fill="#a0a9d8" d="M244 871h29v1h-29zM244 873h29v1h-29zM244 878h29v1h-29zM244 886h29v2h-29zM244 938h29v1h-29zM244 940h29v1h-29zM244 967h29v2h-29zM244 980h29v1h-29zM244 1019h29v1h-29zM244 1037h29v1h-29zM273 918h29.3v1h-29.3zM273 1024h29.3v3h-29.3zM302.3 908h28.9v1h-28.9zM302.3 939h28.9v2h-28.9zM331.2 1045h28.8v1h-28.8zM331.2 1048h28.8v2h-28.8zM331.2 1061h28.8v1h-28.8zM331.2 1072h28.8v1h-28.8zM331.2 1082h28.8v1h-28.8zM331.2 1084h28.8v2h-28.8zM331.2 1087h28.8v1h-28.8zM331.2 1091h28.8v2h-28.8zM331.2 1095h28.8v1h-28.8zM331.2 1097h28.8v1h-28.8zM331.2 1104h28.8v1h-28.8zM331.2 1106h28.8v1h-28.8zM331.2 1110h28.8v1h-28.8zM331.2 1116h28.8v1h-28.8zM331.2 1118h28.8v1h-28.8zM331.2 1120h28.8v1h-28.8zM331.2 1123h28.8v1h-28.8zM331.2 1127h28.8v1h-28.8zM331.2 1131h28.8v2h-28.8zM331.2 1145h28.8v2h-28.8zM331.2 1149h28.8v1h-28.8zM331.2 1155h28.8v1h-28.8zM331.2 1164h28.8v1h-28.8zM331.2 1183h28.8v1h-28.8zM331.2 1186h28.8v1h-28.8zM331.2 1193h28.8v1h-28.8zM331.2 1206h28.8v1h-28.8zM331.2 1210h28.8v1h-28.8zM331.2 1215h28.8v1h-28.8zM360 1045h29.1v1h-29.1zM360 1049h29.1v1h-29.1zM360 1058h29.1v1h-29.1zM360 1061h29.1v1h-29.1zM360 1073h29.1v2h-29.1zM360 1079h29.1v2h-29.1zM360 1085h29.1v1h-29.1zM360 1087h29.1v4h-29.1zM360 1096h29.1v1h-29.1zM360 1104h29.1v1h-29.1zM360 1111h29.1v3h-29.1zM360 1123h29.1v1h-29.1zM360 1134h29.1v1h-29.1zM360 1136h29.1v1h-29.1zM360 1145h29.1v1h-29.1zM360 1147h29.1v1h-29.1zM360 1169h29.1v1h-29.1zM360 1178h29.1v1h-29.1zM360 1181h29.1v1h-29.1zM360 1185h29.1v1h-29.1zM360 1188h29.1v1h-29.1zM360 1203h29.1v1h-29.1zM360 1207h29.1v1h-29.1zM360 1210h29.1v2h-29.1zM389.1 1044h29v1h-29zM389.1 1049h29v1h-29zM389.1 1052h29v1h-29zM389.1 1057h29v1h-29zM389.1 1063h29v2h-29zM389.1 1070h29v1h-29zM389.1 1079h29v1h-29zM389.1 1086h29v1h-29zM389.1 1089h29v1h-29zM389.1 1101h29v2h-29zM389.1 1104h29v1h-29zM389.1 1108h29v1h-29zM389.1 1112h29v1h-29zM389.1 1129h29v2h-29zM389.1 1140h29v1h-29zM389.1 1143h29v2h-29zM389.1 1159h29v1h-29zM389.1 1175h29v1h-29zM389.1 1179h29v1h-29zM389.1 1181h29v1h-29zM389.1 1185h29v1h-29zM389.1 1191h29v2h-29zM389.1 1198h29v1h-29zM389.1 1204h29v1h-29zM389.1 1206h29v2h-29zM418.1 950h28.9v1h-28.9zM447 906h29v1h-29zM447 921h29v1h-29zM447 923h29v1h-29zM447 966h29v1h-29zM447 972h29v1h-29zM447 983h29v1h-29zM447 987h29v2h-29zM447 994h29v1h-29zM447 996h29v1h-29zM447 999h29v1h-29zM447 1027h29v1h-29zM447 1030h29v1h-29zM504 1060h29.3v1h-29.3zM504 1062h29.3v1h-29.3zM504 1064h29.3v1h-29.3zM504 1076h29.3v1h-29.3zM504 1080h29.3v3h-29.3zM504 1085h29.3v1h-29.3zM504 1092h29.3v1h-29.3zM504 1096h29.3v2h-29.3zM504 1100h29.3v1h-29.3zM504 1105h29.3v1h-29.3zM504 1109h29.3v1h-29.3zM504 1111h29.3v2h-29.3zM504 1127h29.3v1h-29.3zM504 1143h29.3v1h-29.3zM504 1148h29.3v1h-29.3zM504 1156h29.3v1h-29.3zM504 1165h29.3v1h-29.3zM504 1173h29.3v1h-29.3zM504 1178h29.3v1h-29.3zM504 1184h29.3v1h-29.3zM504 1190h29.3v2h-29.3zM504 1195h29.3v4h-29.3zM504 1202h29.3v1h-29.3zM504 1204h29.3v1h-29.3zM504 1213h29.3v1h-29.3zM533.3 1063h29v1h-29zM533.3 1075h29v1h-29zM533.3 1078h29v1h-29zM533.3 1112h29v1h-29zM562.3 1070h29.5v1h-29.5zM562.3 1076h29.5v1h-29.5zM562.3 1086h29.5v3h-29.5zM562.3 1097h29.5v1h-29.5zM562.3 1099h29.5v1h-29.5zM562.3 1147h29.5v1h-29.5zM562.3 1152h29.5v1h-29.5zM562.3 1156h29.5v1h-29.5zM562.3 1161h29.5v1h-29.5zM562.3 1167h29.5v1h-29.5zM562.3 1171h29.5v1h-29.5zM562.3 1184h29.5v1h-29.5zM562.3 1188h29.5v2h-29.5zM562.3 1191h29.5v2h-29.5zM562.3 1196h29.5v3h-29.5zM562.3 1200h29.5v1h-29.5zM562.3 1202h29.5v1h-29.5zM562.3 1212h29.5v2h-29.5z"/>
<path fill="#d4d8ee" d="M244 874h29v1h-29zM244 876h29v1h-29zM244 881h29v1h-29zM244 883h29v1h-29zM244 891h29v1h-29zM244 894h29v1h-29zM244 903h29v1h-29zM244 909h29v1h-29zM244 935h29v2h-29zM244 947h29v1h-29zM244 958h29v1h-29zM244 962h29v2h-29zM244 969h29v1h-29zM244 979h29v1h-29zM244 986h29v1h-29zM244 989h29v1h-29zM244 995h29v1h-29zM244 1010h29v3h-29zM244 1021h29v1h-29zM244 1024h29v1h-29zM244 1029h29v1h-29zM244 1031h29v1h-29zM273 893h29.3v1h-29.3zM273 897h29.3v1h-29.3zM273 899h29.3v1h-29.3zM273 910h29.3v1h-29.3zM273 919h29.3v1h-29.3zM273 923h29.3v1h-29.3zM273 938h29.3v1h-29.3zM273 942h29.3v1h-29.3zM273 944h29.3v1h-29.3zM273 952h29.3v1h-29.3zM273 970h29.3v2h-29.3zM273 980h29.3v1h-29.3zM273 988h29.3v1h-29.3zM273 992h29.3v2h-29.3zM273 997h29.3v1h-29.3zM273 1005h29.3v2h-29.3zM273 1008h29.3v1h-29.3zM273 1014h29.3v1h-29.3zM273 1016h29.3v1h-29.3zM273 1020h29.3v1h-29.3zM273 1037h29.3v2h-29.3zM273 1068h29.3v1h-29.3zM273 1075h29.3v1h-29.3zM273 1090h29.3v1h-29.3zM273 1100h29.3v1h-29.3zM273 1136h29.3v1h-29.3zM273 1145h29.3v1h-29.3zM273 1155h29.3v1h-29.3zM302.3 877h28.9v1h-28.9zM302.3 879h28.9v1h-28.9zM302.3 882h28.9v1h-28.9zM302.3 887h28.9v1h-28.9zM302.3 894h28.9v1h-28.9zM302.3 896h28.9v1h-28.9zM302.3 899h28.9v1h-28.9zM302.3 911h28.9v1h-28.9zM302.3 916h28.9v1h-28.9zM302.3 928h28.9v2h-28.9zM302.3 938h28.9v1h-28.9zM302.3 947h28.9v3h-28.9zM302.3 963h28.9v2h-28.9zM302.3 967h28.9v1h-28.9zM302.3 972h28.9v1h-28.9zM302.3 976h28.9v1h-28.9zM302.3 983h28.9v2h-28.9zM302.3 988h28.9v2h-28.9zM302.3 1002h28.9v1h-28.9zM302.3 1005h28.9v1h-28.9zM302.3 1007h28.9v1h-28.9zM302.3 1009h28.9v1h-28.9zM302.3 1018h28.9v1h-28.9zM302.3 1025h28.9v2h-28.9zM302.3 1028h28.9v1h-28.9zM302.3 1030h28.9v2h-28.9zM302.3 1038h28.9v2h-28.9zM331.2 1156h28.8v1h-28.8zM360 1051h29.1v2h-29.1zM360 1081h29.1v1h-29.1zM360 1095h29.1v1h-29.1zM360 1105h29.1v1h-29.1zM360 1129h29.1v1h-29.1zM360 1143h29.1v1h-29.1zM360 1157h29.1v1h-29.1zM360 1159h29.1v1h-29.1zM360 1171h29.1v1h-29.1zM360 1182h29.1v1h-29.1zM360 1205h29.1v1h-29.1zM389.1 1042h29v1h-29zM389.1 1059h29v1h-29zM389.1 1061h29v1h-29zM389.1 1078h29v1h-29zM389.1 1083h29v1h-29zM389.1 1094h29v1h-29zM389.1 1119h29v1h-29zM389.1 1136h29v2h-29zM389.1 1148h29v1h-29zM389.1 1172h29v1h-29zM418.1 875h28.9v1h-28.9zM418.1 892h28.9v2h-28.9zM418.1 895h28.9v1h-28.9zM418.1 901h28.9v1h-28.9zM418.1 903h28.9v2h-28.9zM418.1 908h28.9v1h-28.9zM418.1 927h28.9v3h-28.9zM418.1 941h28.9v1h-28.9zM418.1 944h28.9v2h-28.9zM418.1 951h28.9v1h-28.9zM418.1 954h28.9v1h-28.9zM418.1 957h28.9v2h-28.9zM418.1 964h28.9v2h-28.9zM418.1 974h28.9v1h-28.9zM418.1 985h28.9v1h-28.9zM418.1 997h28.9v2h-28.9zM418.1 1001h28.9v1h-28.9zM418.1 1006h28.9v1h-28.9zM418.1 1008h28.9v1h-28.9zM418.1 1014h28.9v1h-28.9zM418.1 1016h28.9v1h-28.9zM418.1 1019h28.9v1h-28.9zM418.1 1034h28.9v1h-28.9zM418.1 1040h28.9v1h-28.9zM447 874h29v2h-29zM447 879h29v1h-29zM447 881h29v1h-29zM447 883h29v1h-29zM447 892h29v1h-29zM447 902h29v1h-29zM447 915h29v1h-29zM447 918h29v1h-29zM447 930h29v1h-29zM447 936h29v1h-29zM447 941h29v1h-29zM447 944h29v1h-29zM447 947h29v2h-29zM447 950h29v1h-29zM447 952h29v1h-29zM447 976h29v1h-29zM447 1009h29v1h-29zM447 1013h29v1h-29zM447 1015h29v1h-29zM447 1032h29v1h-29zM447 1041h29v1h-29zM447 1055h29v1h-29zM447 1078h29v1h-29zM476 884h28v1h-28zM476 886h28v7h-28zM476 895h28v1h-28zM476 897h28v2h-28zM476 905h28v1h-28zM476 908h28v1h-28zM476 915h28v2h-28zM476 919h28v1h-28zM476 924h28v1h-28zM476 927h28v1h-28zM476 932h28v1h-28zM476 937h28v1h-28zM476 942h28v1h-28zM476 944h28v3h-28zM476 953h28v1h-28zM476 971h28v1h-28zM476 973h28v1h-28zM476 985h28v2h-28zM476 996h28v1h-28zM476 999h28v1h-28zM476 1003h28v1h-28zM476 1006h28v1h-28zM476 1008h28v1h-28zM476 1019h28v1h-28zM476 1024h28v1h-28zM476 1027h28v2h-28zM476 1055h28v1h-28zM476 1077h28v1h-28zM476 1082h28v1h-28zM476 1092h28v1h-28zM476 1183h28v1h-28zM504 933h29.3v1h-29.3zM504 1042h29.3v1h-29.3zM504 1084h29.3v1h-29.3zM504 1107h29.3v1h-29.3zM504 1113h29.3v1h-29.3zM504 1118h29.3v2h-29.3zM504 1144h29.3v1h-29.3zM504 1185h29.3v1h-29.3zM533.3 1042h29v1h-29zM533.3 1081h29v1h-29zM533.3 1084h29v1h-29zM533.3 1096h29v1h-29zM533.3 1100h29v6h-29zM533.3 1127h29v1h-29zM533.3 1132h29v1h-29zM533.3 1135h29v1h-29zM533.3 1138h29v1h-29zM533.3 1140h29v1h-29zM533.3 1147h29v3h-29zM533.3 1157h29v1h-29zM533.3 1166h29v1h-29zM533.3 1170h29v3h-29zM533.3 1182h29v3h-29zM533.3 1195h29v1h-29zM533.3 1199h29v1h-29zM533.3 1202h29v1h-29zM533.3 1207h29v2h-29zM533.3 1214h29v1h-29zM562.3 917h29.5v1h-29.5zM562.3 919h29.5v1h-29.5zM562.3 930h29.5v1h-29.5zM562.3 1042h29.5v1h-29.5zM562.3 1072h29.5v3h-29.5zM562.3 1101h29.5v1h-29.5zM562.3 1106h29.5v1h-29.5zM562.3 1119h29.5v1h-29.5zM562.3 1123h29.5v1h-29.5zM562.3 1133h29.5v1h-29.5zM562.3 1143h29.5v2h-29.5zM562.3 1172h29.5v1h-29.5zM562.3 1174h29.5v1h-29.5zM562.3 1185h29.5v1h-29.5zM562.3 1193h29.5v1h-29.5z"/>
<path fill="#c6cbe8" d="M244 875h29v1h-29zM244 884h29v1h-29zM244 893h29v1h-29zM244 897h29v1h-29zM244 901h29v2h-29zM244 908h29v1h-29zM244 910h29v1h-29zM244 919h29v2h-29zM244 927h29v1h-29zM244 941h29v1h-29zM244 943h29v2h-29zM244 959h29v3h-29zM244 964h29v1h-29zM244 973h29v1h-29zM244 987h29v1h-29zM244 990h29v2h-29zM244 997h29v3h-29zM244 1008h29v1h-29zM244 1014h29v1h-29zM244 1018h29v1h-29zM244 1020h29v1h-29zM244 1026h29v1h-29zM273 894h29.3v1h-29.3zM273 907h29.3v1h-29.3zM273 909h29.3v1h-29.3zM273 922h29.3v1h-29.3zM273 939h29.3v2h-29.3zM273 996h29.3v1h-29.3zM273 1001h29.3v2h-29.3zM273 1004h29.3v1h-29.3zM273 1015h29.3v1h-29.3zM273 1017h29.3v1h-29.3zM273 1019h29.3v1h-29.3zM273 1073h29.3v2h-29.3zM302.3 870h28.9v1h-28.9zM302.3 874h28.9v1h-28.9zM302.3 889h28.9v1h-28.9zM302.3 891h28.9v1h-28.9zM302.3 893h28.9v1h-28.9zM302.3 901h28.9v1h-28.9zM302.3 903h28.9v1h-28.9zM302.3 906h28.9v1h-28.9zM302.3 943h28.9v1h-28.9zM302.3 951h28.9v2h-28.9zM302.3 957h28.9v1h-28.9zM302.3 961h28.9v1h-28.9zM302.3 968h28.9v2h-28.9zM302.3 979h28.9v2h-28.9zM302.3 991h28.9v1h-28.9zM302.3 998h28.9v1h-28.9zM302.3 1004h28.9v1h-28.9zM302.3 1016h28.9v2h-28.9zM302.3 1023h28.9v1h-28.9zM331.2 1107h28.8v1h-28.8zM331.2 1126h28.8v1h-28.8zM331.2 1184h28.8v1h-28.8zM360 1050h29.1v1h-29.1zM360 1053h29.1v2h-29.1zM360 1068h29.1v1h-29.1zM360 1077h29.1v1h-29.1zM360 1091h29.1v1h-29.1zM360 1093h29.1v1h-29.1zM360 1109h29.1v1h-29.1zM360 1126h29.1v3h-29.1zM360 1138h29.1v1h-29.1zM360 1140h29.1v1h-29.1zM360 1142h29.1v1h-29.1zM360 1158h29.1v1h-29.1zM360 1166h29.1v2h-29.1zM360 1172h29.1v2h-29.1zM360 1184h29.1v1h-29.1zM360 1189h29.1v1h-29.1zM360 1194h29.1v2h-29.1zM360 1209h29.1v1h-29.1zM389.1 1043h29v1h-29zM389.1 1045h29v1h-29zM389.1 1058h29v1h-29zM389.1 1060h29v1h-29zM389.1 1107h29v1h-29zM389.1 1116h29v1h-29zM389.1 1120h29v1h-29zM389.1 1126h29v3h-29zM389.1 1131h29v2h-29zM389.1 1135h29v1h-29zM389.1 1139h29v1h-29zM389.1 1149h29v2h-29zM389.1 1152h29v1h-29zM389.1 1155h29v1h-29zM389.1 1161h29v1h-29zM389.1 1163h29v1h-29zM389.1 1173h29v1h-29zM389.1 1176h29v3h-29zM389.1 1190h29v1h-29zM389.1 1194h29v2h-29zM389.1 1201h29v2h-29zM389.1 1205h29v1h-29zM418.1 876h28.9v1h-28.9zM418.1 884h28.9v1h-28.9zM418.1 898h28.9v2h-28.9zM418.1 907h28.9v1h-28.9zM418.1 935h28.9v1h-28.9zM418.1 937h28.9v1h-28.9zM418.1 946h28.9v1h-28.9zM418.1 948h28.9v1h-28.9zM418.1 953h28.9v1h-28.9zM418.1 955h28.9v1h-28.9zM418.1 959h28.9v1h-28.9zM418.1 961h28.9v1h-28.9zM418.1 969h28.9v1h-28.9zM418.1 983h28.9v2h-28.9zM418.1 990h28.9v1h-28.9zM418.1 992h28.9v1h-28.9zM418.1 995h28.9v1h-28.9zM418.1 999h28.9v2h-28.9zM418.1 1005h28.9v1h-28.9zM418.1 1010h28.9v2h-28.9zM418.1 1041h28.9v1h-28.9zM447 876h29v1h-29zM447 878h29v1h-29zM447 880h29v1h-29zM447 882h29v1h-29zM447 889h29v2h-29zM447 894h29v1h-29zM447 908h29v1h-29zM447 917h29v1h-29zM447 919h29v1h-29zM447 937h29v1h-29zM447 942h29v2h-29zM447 945h29v1h-29zM447 951h29v1h-29zM447 953h29v1h-29zM447 957h29v1h-29zM447 959h29v2h-29zM447 962h29v2h-29zM447 969h29v1h-29zM447 973h29v1h-29zM447 975h29v1h-29zM447 979h29v1h-29zM447 981h29v1h-29zM447 985h29v1h-29zM447 1011h29v1h-29zM447 1023h29v1h-29zM447 1028h29v1h-29zM447 1037h29v1h-29zM476 896h28v1h-28zM476 906h28v2h-28zM476 921h28v1h-28zM476 928h28v2h-28zM476 949h28v1h-28zM476 960h28v1h-28zM476 962h28v1h-28zM476 974h28v1h-28zM476 979h28v1h-28zM476 984h28v1h-28zM476 995h28v1h-28zM476 1025h28v2h-28zM476 1039h28v3h-28zM504 1071h29.3v1h-29.3zM504 1083h29.3v1h-29.3zM504 1098h29.3v2h-29.3zM504 1108h29.3v1h-29.3zM504 1125h29.3v1h-29.3zM504 1130h29.3v1h-29.3zM504 1138h29.3v3h-29.3zM504 1160h29.3v1h-29.3zM504 1162h29.3v1h-29.3zM504 1172h29.3v1h-29.3zM504 1174h29.3v1h-29.3zM504 1186h29.3v1h-29.3zM504 1194h29.3v1h-29.3zM533.3 1060h29v2h-29zM533.3 1068h29v1h-29zM533.3 1070h29v1h-29zM533.3 1080h29v1h-29zM533.3 1083h29v1h-29zM533.3 1085h29v1h-29zM533.3 1089h29v1h-29zM533.3 1097h29v1h-29zM533.3 1109h29v3h-29zM533.3 1113h29v2h-29zM533.3 1118h29v1h-29zM533.3 1121h29v1h-29zM533.3 1123h29v1h-29zM533.3 1136h29v2h-29zM533.3 1141h29v2h-29zM533.3 1145h29v1h-29zM533.3 1179h29v2h-29zM533.3 1191h29v2h-29zM533.3 1196h29v1h-29zM533.3 1209h29v1h-29zM533.3 1212h29v2h-29zM562.3 910h29.5v1h-29.5zM562.3 914h29.5v1h-29.5zM562.3 921h29.5v1h-29.5zM562.3 1080h29.5v1h-29.5zM562.3 1089h29.5v1h-29.5zM562.3 1094h29.5v1h-29.5zM562.3 1098h29.5v1h-29.5zM562.3 1100h29.5v1h-29.5zM562.3 1110h29.5v3h-29.5zM562.3 1120h29.5v1h-29.5zM562.3 1151h29.5v1h-29.5zM562.3 1173h29.5v1h-29.5zM562.3 1179h29.5v1h-29.5zM562.3 1186h29.5v2h-29.5zM562.3 1214h29.5v1h-29.5z"/>
<path fill="#8894cc" d="M244 879h29v1h-29zM244 888h29v1h-29zM273 1028h29.3v1h-29.3zM302.3 971h28.9v1h-28.9zM331.2 1046h28.8v1h-28.8zM331.2 1054h28.8v1h-28.8zM331.2 1073h28.8v1h-28.8zM331.2 1080h28.8v1h-28.8zM331.2 1093h28.8v2h-28.8zM331.2 1098h28.8v1h-28.8zM331.2 1100h28.8v1h-28.8zM331.2 1112h28.8v3h-28.8zM331.2 1130h28.8v1h-28.8zM331.2 1143h28.8v1h-28.8zM331.2 1153h28.8v1h-28.8zM331.2 1161h28.8v1h-28.8zM331.2 1165h28.8v1h-28.8zM331.2 1169h28.8v2h-28.8zM331.2 1176h28.8v2h-28.8zM331.2 1180h28.8v1h-28.8zM331.2 1190h28.8v2h-28.8zM331.2 1199h28.8v2h-28.8zM331.2 1214h28.8v1h-28.8zM360 1046h29.1v2h-29.1zM360 1062h29.1v1h-29.1zM360 1121h29.1v1h-29.1zM360 1133h29.1v1h-29.1zM389.1 1041h29v1h-29zM389.1 1062h29v1h-29zM389.1 1123h29v1h-29zM389.1 1158h29v1h-29zM389.1 1170h29v1h-29zM418.1 900h28.9v1h-28.9zM418.1 949h28.9v1h-28.9zM447 925h29v1h-29zM447 931h29v2h-29zM447 991h29v1h-29zM447 1025h29v1h-29zM504 1101h29.3v1h-29.3zM504 1106h29.3v1h-29.3zM504 1132h29.3v1h-29.3zM504 1147h29.3v1h-29.3zM504 1169h29.3v1h-29.3zM504 1179h29.3v1h-29.3zM562.3 1145h29.5v1h-29.5zM562.3 1153h29.5v1h-29.5zM562.3 1181h29.5v1h-29.5zM562.3 1190h29.5v1h-29.5zM562.3 1208h29.5v1h-29.5z"/>
<path fill="#e2e5f4" d="M244 882h29v1h-29zM244 895h29v1h-29zM244 899h29v1h-29zM244 911h29v3h-29zM244 918h29v1h-29zM244 930h29v3h-29zM244 934h29v1h-29zM244 954h29v4h-29zM244 966h29v1h-29zM244 978h29v1h-29zM244 993h29v1h-29zM244 1005h29v3h-29zM244 1013h29v1h-29zM244 1022h29v1h-29zM244 1030h29v1h-29zM244 1032h29v3h-29zM273 873h29.3v1h-29.3zM273 879h29.3v3h-29.3zM273 887h29.3v1h-29.3zM273 890h29.3v1h-29.3zM273 896h29.3v1h-29.3zM273 911h29.3v3h-29.3zM273 928h29.3v2h-29.3zM273 931h29.3v1h-29.3zM273 941h29.3v1h-29.3zM273 950h29.3v2h-29.3zM273 958h29.3v1h-29.3zM273 961h29.3v1h-29.3zM273 964h29.3v1h-29.3zM273 972h29.3v1h-29.3zM273 979h29.3v1h-29.3zM273 982h29.3v1h-29.3zM273 984h29.3v1h-29.3zM273 994h29.3v1h-29.3zM273 1007h29.3v1h-29.3zM273 1009h29.3v1h-29.3zM273 1023h29.3v1h-29.3zM273 1032h29.3v1h-29.3zM273 1036h29.3v1h-29.3zM273 1041h29.3v1h-29.3zM273 1050h29.3v2h-29.3zM273 1057h29.3v1h-29.3zM273 1069h29.3v1h-29.3zM273 1077h29.3v2h-29.3zM273 1080h29.3v2h-29.3zM273 1085h29.3v1h-29.3zM273 1089h29.3v1h-29.3zM273 1124h29.3v1h-29.3zM273 1133h29.3v3h-29.3zM273 1140h29.3v1h-29.3zM273 1146h29.3v1h-29.3zM273 1154h29.3v1h-29.3zM273 1159h29.3v2h-29.3zM273 1167h29.3v2h-29.3zM273 1170h29.3v2h-29.3zM273 1187h29.3v1h-29.3zM273 1203h29.3v1h-29.3zM273 1211h29.3v1h-29.3zM273 1214h29.3v1h-29.3zM302.3 884h28.9v3h-28.9zM302.3 897h28.9v1h-28.9zM302.3 900h28.9v1h-28.9zM302.3 904h28.9v2h-28.9zM302.3 907h28.9v1h-28.9zM302.3 922h28.9v1h-28.9zM302.3 924h28.9v3h-28.9zM302.3 930h28.9v1h-28.9zM302.3 937h28.9v1h-28.9zM302.3 978h28.9v1h-28.9zM302.3 981h28.9v2h-28.9zM302.3 986h28.9v1h-28.9zM302.3 999h28.9v1h-28.9zM302.3 1001h28.9v1h-28.9zM302.3 1003h28.9v1h-28.9zM302.3 1006h28.9v1h-28.9zM302.3 1010h28.9v1h-28.9zM302.3 1014h28.9v1h-28.9zM302.3 1037h28.9v1h-28.9zM360 1078h29.1v1h-29.1zM360 1107h29.1v1h-29.1zM360 1139h29.1v1h-29.1zM360 1156h29.1v1h-29.1zM389.1 1096h29v1h-29zM418.1 871h28.9v1h-28.9zM418.1 885h28.9v1h-28.9zM418.1 890h28.9v2h-28.9zM418.1 896h28.9v1h-28.9zM418.1 902h28.9v1h-28.9zM418.1 909h28.9v2h-28.9zM418.1 912h28.9v1h-28.9zM418.1 915h28.9v5h-28.9zM418.1 923h28.9v3h-28.9zM418.1 931h28.9v2h-28.9zM418.1 934h28.9v1h-28.9zM418.1 936h28.9v1h-28.9zM418.1 940h28.9v1h-28.9zM418.1 947h28.9v1h-28.9zM418.1 952h28.9v1h-28.9zM418.1 956h28.9v1h-28.9zM418.1 971h28.9v3h-28.9zM418.1 976h28.9v2h-28.9zM418.1 986h28.9v2h-28.9zM418.1 1004h28.9v1h-28.9zM418.1 1007h28.9v1h-28.9zM418.1 1023h28.9v1h-28.9zM418.1 1025h28.9v2h-28.9zM418.1 1029h28.9v1h-28.9zM418.1 1032h28.9v2h-28.9zM418.1 1037h28.9v1h-28.9zM418.1 1045h28.9v2h-28.9zM418.1 1055h28.9v1h-28.9zM447 872h29v2h-29zM447 888h29v1h-29zM447 899h29v2h-29zM447 909h29v2h-29zM447 913h29v2h-29zM447 935h29v1h-29zM447 940h29v1h-29zM447 971h29v1h-29zM447 1003h29v1h-29zM447 1012h29v1h-29zM447 1031h29v1h-29zM447 1040h29v1h-29zM447 1045h29v2h-29zM447 1056h29v1h-29zM447 1071h29v1h-29zM476 880h28v1h-28zM476 883h28v1h-28zM476 893h28v2h-28zM476 900h28v1h-28zM476 917h28v2h-28zM476 920h28v1h-28zM476 923h28v1h-28zM476 931h28v1h-28zM476 941h28v1h-28zM476 943h28v1h-28zM476 947h28v1h-28zM476 954h28v1h-28zM476 961h28v1h-28zM476 964h28v3h-28zM476 981h28v2h-28zM476 992h28v1h-28zM476 997h28v1h-28zM476 1000h28v2h-28zM476 1004h28v2h-28zM476 1007h28v1h-28zM476 1013h28v1h-28zM476 1015h28v2h-28zM476 1018h28v1h-28zM476 1029h28v2h-28zM476 1037h28v2h-28zM476 1042h28v1h-28zM476 1047h28v1h-28zM476 1066h28v1h-28zM476 1070h28v2h-28zM476 1073h28v1h-28zM476 1084h28v1h-28zM476 1093h28v1h-28zM476 1189h28v3h-28zM504 919h29.3v1h-29.3zM504 922h29.3v1h-29.3zM504 934h29.3v1h-29.3zM504 1043h29.3v1h-29.3zM504 1072h29.3v3h-29.3zM504 1114h29.3v1h-29.3zM504 1122h29.3v1h-29.3zM504 1206h29.3v1h-29.3zM533.3 870h29v1h-29zM533.3 894h29v2h-29zM533.3 919h29v1h-29zM533.3 922h29v1h-29zM533.3 932h29v1h-29zM533.3 1043h29v1h-29zM533.3 1072h29v3h-29zM533.3 1098h29v1h-29zM533.3 1124h29v3h-29zM533.3 1128h29v2h-29zM533.3 1139h29v1h-29zM533.3 1144h29v1h-29zM533.3 1160h29v4h-29zM533.3 1165h29v1h-29zM533.3 1168h29v2h-29zM533.3 1173h29v2h-29zM533.3 1178h29v1h-29zM533.3 1181h29v1h-29zM533.3 1187h29v1h-29zM533.3 1197h29v2h-29zM533.3 1203h29v3h-29zM562.3 877h29.5v3h-29.5zM562.3 886h29.5v2h-29.5zM562.3 913h29.5v1h-29.5zM562.3 915h29.5v2h-29.5zM562.3 920h29.5v1h-29.5zM562.3 931h29.5v2h-29.5zM562.3 1065h29.5v1h-29.5zM562.3 1102h29.5v1h-29.5zM562.3 1109h29.5v1h-29.5zM562.3 1118h29.5v1h-29.5zM562.3 1121h29.5v2h-29.5zM562.3 1124h29.5v1h-29.5zM562.3 1129h29.5v1h-29.5zM562.3 1132h29.5v1h-29.5zM562.3 1135h29.5v1h-29.5zM562.3 1137h29.5v1h-29.5zM562.3 1176h29.5v1h-29.5zM562.3 1178h29.5v1h-29.5z"/>
<path fill="#acb4dd" d="M244 885h29v1h-29zM244 889h29v1h-29zM244 939h29v1h-29zM244 948h29v2h-29zM244 965h29v1h-29zM244 971h29v2h-29zM244 983h29v2h-29zM244 988h29v1h-29zM244 996h29v1h-29zM244 1004h29v1h-29zM244 1017h29v1h-29zM244 1023h29v1h-29zM244 1035h29v1h-29zM244 1038h29v2h-29zM273 898h29.3v1h-29.3zM273 917h29.3v1h-29.3zM273 1027h29.3v1h-29.3zM302.3 898h28.9v1h-28.9zM302.3 909h28.9v2h-28.9zM302.3 955h28.9v1h-28.9zM302.3 958h28.9v2h-28.9zM302.3 1008h28.9v1h-28.9zM302.3 1040h28.9v2h-28.9zM331.2 1042h28.8v3h-28.8zM331.2 1064h28.8v1h-28.8zM331.2 1067h28.8v2h-28.8zM331.2 1075h28.8v1h-28.8zM331.2 1079h28.8v1h-28.8zM331.2 1081h28.8v1h-28.8zM331.2 1083h28.8v1h-28.8zM331.2 1088h28.8v1h-28.8zM331.2 1090h28.8v1h-28.8zM331.2 1102h28.8v2h-28.8zM331.2 1108h28.8v1h-28.8zM331.2 1111h28.8v1h-28.8zM331.2 1119h28.8v1h-28.8zM331.2 1147h28.8v1h-28.8zM331.2 1150h28.8v1h-28.8zM331.2 1159h28.8v1h-28.8zM331.2 1171h28.8v2h-28.8zM331.2 1174h28.8v1h-28.8zM331.2 1182h28.8v1h-28.8zM331.2 1187h28.8v1h-28.8zM331.2 1194h28.8v4h-28.8zM331.2 1202h28.8v1h-28.8zM331.2 1208h28.8v1h-28.8zM331.2 1211h28.8v2h-28.8zM360 1042h29.1v1h-29.1zM360 1056h29.1v2h-29.1zM360 1069h29.1v2h-29.1zM360 1072h29.1v1h-29.1zM360 1075h29.1v2h-29.1zM360 1082h29.1v1h-29.1zM360 1084h29.1v1h-29.1zM360 1097h29.1v4h-29.1zM360 1110h29.1v1h-29.1zM360 1122h29.1v1h-29.1zM360 1130h29.1v3h-29.1zM360 1135h29.1v1h-29.1zM360 1149h29.1v1h-29.1zM360 1153h29.1v1h-29.1zM360 1175h29.1v2h-29.1zM360 1179h29.1v1h-29.1zM360 1183h29.1v1h-29.1zM360 1186h29.1v1h-29.1zM360 1196h29.1v1h-29.1zM360 1198h29.1v3h-29.1zM360 1204h29.1v1h-29.1zM360 1208h29.1v1h-29.1zM360 1215h29.1v2h-29.1zM389.1 1048h29v1h-29zM389.1 1053h29v4h-29zM389.1 1065h29v1h-29zM389.1 1067h29v1h-29zM389.1 1069h29v1h-29zM389.1 1072h29v3h-29zM389.1 1076h29v1h-29zM389.1 1087h29v2h-29zM389.1 1091h29v2h-29zM389.1 1103h29v1h-29zM389.1 1106h29v1h-29zM389.1 1111h29v1h-29zM389.1 1115h29v1h-29zM389.1 1117h29v1h-29zM389.1 1122h29v1h-29zM389.1 1138h29v1h-29zM389.1 1146h29v1h-29zM389.1 1153h29v1h-29zM389.1 1165h29v1h-29zM389.1 1171h29v1h-29zM389.1 1182h29v2h-29zM389.1 1189h29v1h-29zM389.1 1193h29v1h-29zM389.1 1196h29v2h-29zM389.1 1203h29v1h-29zM389.1 1208h29v1h-29zM389.1 1211h29v5h-29zM418.1 942h28.9v2h-28.9zM418.1 963h28.9v1h-28.9zM418.1 966h28.9v3h-28.9zM418.1 980h28.9v3h-28.9zM418.1 989h28.9v1h-28.9zM418.1 993h28.9v1h-28.9zM447 929h29v1h-29zM447 946h29v1h-29zM447 964h29v2h-29zM447 967h29v2h-29zM447 984h29v1h-29zM447 990h29v1h-29zM447 995h29v1h-29zM447 997h29v2h-29zM447 1000h29v3h-29zM447 1019h29v1h-29zM447 1021h29v1h-29zM447 1024h29v1h-29zM476 993h28v2h-28zM504 1063h29.3v1h-29.3zM504 1065h29.3v1h-29.3zM504 1067h29.3v1h-29.3zM504 1075h29.3v1h-29.3zM504 1077h29.3v1h-29.3zM504 1088h29.3v1h-29.3zM504 1094h29.3v1h-29.3zM504 1103h29.3v2h-29.3zM504 1129h29.3v1h-29.3zM504 1135h29.3v3h-29.3zM504 1141h29.3v2h-29.3zM504 1149h29.3v1h-29.3zM504 1153h29.3v1h-29.3zM504 1158h29.3v2h-29.3zM504 1163h29.3v2h-29.3zM504 1177h29.3v1h-29.3zM504 1180h29.3v1h-29.3zM504 1182h29.3v1h-29.3zM504 1187h29.3v3h-29.3zM504 1200h29.3v2h-29.3zM504 1203h29.3v1h-29.3zM504 1205h29.3v1h-29.3zM504 1207h29.3v3h-29.3zM504 1211h29.3v2h-29.3zM504 1214h29.3v2h-29.3zM533.3 1062h29v1h-29zM533.3 1065h29v2h-29zM533.3 1071h29v1h-29zM533.3 1079h29v1h-29zM533.3 1086h29v3h-29zM533.3 1090h29v1h-29zM533.3 1094h29v1h-29zM533.3 1099h29v1h-29zM533.3 1120h29v1h-29zM533.3 1154h29v3h-29zM533.3 1210h29v1h-29zM562.3 1071h29.5v1h-29.5zM562.3 1077h29.5v1h-29.5zM562.3 1079h29.5v1h-29.5zM562.3 1082h29.5v2h-29.5zM562.3 1095h29.5v2h-29.5zM562.3 1159h29.5v2h-29.5zM562.3 1165h29.5v1h-29.5zM562.3 1170h29.5v1h-29.5zM562.3 1194h29.5v1h-29.5zM562.3 1204h29.5v2h-29.5zM562.3 1211h29.5v1h-29.5zM562.3 1215h29.5v2h-29.5z"/>
<path fill="#f1f2f9" d="M244 896h29v1h-29zM244 900h29v1h-29zM244 906h29v1h-29zM244 914h29v4h-29zM244 921h29v2h-29zM244 945h29v1h-29zM244 976h29v2h-29zM244 982h29v1h-29zM244 994h29v1h-29zM273 870h29.3v2h-29.3zM273 875h29.3v4h-29.3zM273 882h29.3v3h-29.3zM273 888h29.3v2h-29.3zM273 892h29.3v1h-29.3zM273 895h29.3v1h-29.3zM273 901h29.3v2h-29.3zM273 915h29.3v2h-29.3zM273 920h29.3v1h-29.3zM273 924h29.3v1h-29.3zM273 927h29.3v1h-29.3zM273 930h29.3v1h-29.3zM273 932h29.3v1h-29.3zM273 949h29.3v1h-29.3zM273 953h29.3v1h-29.3zM273 957h29.3v1h-29.3zM273 959h29.3v2h-29.3zM273 962h29.3v2h-29.3zM273 965h29.3v1h-29.3zM273 967h29.3v3h-29.3zM273 976h29.3v3h-29.3zM273 981h29.3v1h-29.3zM273 983h29.3v1h-29.3zM273 985h29.3v1h-29.3zM273 987h29.3v1h-29.3zM273 990h29.3v2h-29.3zM273 995h29.3v1h-29.3zM273 999h29.3v2h-29.3zM273 1010h29.3v3h-29.3zM273 1018h29.3v1h-29.3zM273 1021h29.3v1h-29.3zM273 1033h29.3v3h-29.3zM273 1042h29.3v1h-29.3zM273 1058h29.3v2h-29.3zM273 1070h29.3v1h-29.3zM273 1072h29.3v1h-29.3zM273 1082h29.3v1h-29.3zM273 1087h29.3v2h-29.3zM273 1091h29.3v1h-29.3zM273 1101h29.3v1h-29.3zM273 1107h29.3v2h-29.3zM273 1118h29.3v1h-29.3zM273 1122h29.3v1h-29.3zM273 1130h29.3v1h-29.3zM273 1132h29.3v1h-29.3zM273 1141h29.3v2h-29.3zM273 1144h29.3v1h-29.3zM273 1148h29.3v1h-29.3zM273 1151h29.3v1h-29.3zM273 1156h29.3v3h-29.3zM273 1169h29.3v1h-29.3zM273 1174h29.3v2h-29.3zM273 1180h29.3v1h-29.3zM273 1184h29.3v1h-29.3zM273 1199h29.3v1h-29.3zM273 1204h29.3v2h-29.3zM273 1212h29.3v2h-29.3zM302.3 878h28.9v1h-28.9zM302.3 883h28.9v1h-28.9zM302.3 912h28.9v1h-28.9zM302.3 914h28.9v1h-28.9zM302.3 919h28.9v3h-28.9zM302.3 923h28.9v1h-28.9zM302.3 927h28.9v1h-28.9zM302.3 931h28.9v1h-28.9zM302.3 935h28.9v1h-28.9zM302.3 945h28.9v2h-28.9zM302.3 953h28.9v1h-28.9zM302.3 965h28.9v1h-28.9zM302.3 974h28.9v2h-28.9zM302.3 977h28.9v1h-28.9zM302.3 985h28.9v1h-28.9zM302.3 987h28.9v1h-28.9zM302.3 995h28.9v1h-28.9zM302.3 1000h28.9v1h-28.9zM302.3 1011h28.9v3h-28.9zM302.3 1021h28.9v2h-28.9zM302.3 1027h28.9v1h-28.9zM302.3 1029h28.9v1h-28.9zM302.3 1034h28.9v3h-28.9zM302.3 1058h28.9v1h-28.9zM302.3 1087h28.9v1h-28.9zM360 953h29.1v1h-29.1zM389.1 1095h29v1h-29zM418.1 872h28.9v1h-28.9zM418.1 874h28.9v1h-28.9zM418.1 877h28.9v2h-28.9zM418.1 887h28.9v2h-28.9zM418.1 905h28.9v2h-28.9zM418.1 911h28.9v1h-28.9zM418.1 913h28.9v1h-28.9zM418.1 920h28.9v3h-28.9zM418.1 926h28.9v1h-28.9zM418.1 930h28.9v1h-28.9zM418.1 939h28.9v1h-28.9zM418.1 975h28.9v1h-28.9zM418.1 991h28.9v1h-28.9zM418.1 1002h28.9v2h-28.9zM418.1 1009h28.9v1h-28.9zM418.1 1015h28.9v1h-28.9zM418.1 1017h28.9v2h-28.9zM418.1 1020h28.9v3h-28.9zM418.1 1024h28.9v1h-28.9zM418.1 1027h28.9v1h-28.9zM418.1 1035h28.9v1h-28.9zM418.1 1038h28.9v2h-28.9zM418.1 1056h28.9v1h-28.9zM418.1 1069h28.9v2h-28.9zM418.1 1082h28.9v2h-28.9zM447 870h29v2h-29zM447 886h29v1h-29zM447 897h29v1h-29zM447 901h29v1h-29zM447 912h29v1h-29zM447 938h29v2h-29zM447 955h29v2h-29zM447 958h29v1h-29zM447 970h29v1h-29zM447 1014h29v1h-29zM447 1047h29v2h-29zM447 1052h29v1h-29zM447 1065h29v2h-29zM447 1069h29v2h-29zM447 1076h29v2h-29zM447 1082h29v1h-29zM447 1207h29v1h-29zM476 871h28v1h-28zM476 881h28v1h-28zM476 901h28v1h-28zM476 903h28v2h-28zM476 912h28v3h-28zM476 926h28v1h-28zM476 930h28v1h-28zM476 933h28v1h-28zM476 935h28v2h-28zM476 938h28v1h-28zM476 940h28v1h-28zM476 950h28v3h-28zM476 955h28v1h-28zM476 958h28v1h-28zM476 967h28v2h-28zM476 972h28v1h-28zM476 975h28v2h-28zM476 978h28v1h-28zM476 980h28v1h-28zM476 987h28v3h-28zM476 991h28v1h-28zM476 1002h28v1h-28zM476 1009h28v3h-28zM476 1017h28v1h-28zM476 1020h28v4h-28zM476 1031h28v1h-28zM476 1033h28v1h-28zM476 1035h28v1h-28zM476 1046h28v1h-28zM476 1048h28v1h-28zM476 1050h28v2h-28zM476 1056h28v1h-28zM476 1063h28v1h-28zM476 1067h28v2h-28zM476 1072h28v1h-28zM476 1074h28v1h-28zM476 1083h28v1h-28zM476 1085h28v1h-28zM476 1089h28v1h-28zM476 1091h28v1h-28zM476 1094h28v2h-28zM476 1129h28v1h-28zM476 1151h28v1h-28zM476 1180h28v1h-28zM476 1182h28v1h-28zM476 1184h28v1h-28zM476 1192h28v2h-28zM504 885h29.3v1h-29.3zM504 890h29.3v3h-29.3zM504 932h29.3v1h-29.3zM504 935h29.3v1h-29.3zM504 1051h29.3v4h-29.3zM504 1117h29.3v1h-29.3zM504 1121h29.3v1h-29.3zM533.3 874h29v1h-29zM533.3 884h29v4h-29zM533.3 904h29v1h-29zM533.3 906h29v3h-29zM533.3 914h29v1h-29zM533.3 918h29v1h-29zM533.3 930h29v2h-29zM533.3 934h29v1h-29zM533.3 937h29v1h-29zM533.3 1050h29v1h-29zM533.3 1053h29v1h-29zM533.3 1055h29v1h-29zM533.3 1107h29v2h-29zM533.3 1130h29v1h-29zM533.3 1146h29v1h-29zM533.3 1153h29v1h-29zM533.3 1158h29v2h-29zM533.3 1164h29v1h-29zM533.3 1167h29v1h-29zM533.3 1176h29v2h-29zM533.3 1186h29v1h-29zM533.3 1206h29v1h-29zM533.3 1215h29v2h-29zM562.3 882h29.5v1h-29.5zM562.3 892h29.5v2h-29.5zM562.3 898h29.5v1h-29.5zM562.3 900h29.5v1h-29.5zM562.3 907h29.5v2h-29.5zM562.3 911h29.5v2h-29.5zM562.3 934h29.5v1h-29.5zM562.3 958h29.5v1h-29.5zM562.3 993h29.5v1h-29.5zM562.3 1003h29.5v1h-29.5zM562.3 1019h29.5v1h-29.5zM562.3 1048h29.5v2h-29.5zM562.3 1060h29.5v1h-29.5zM562.3 1066h29.5v1h-29.5zM562.3 1068h29.5v1h-29.5zM562.3 1103h29.5v1h-29.5zM562.3 1115h29.5v1h-29.5zM562.3 1125h29.5v1h-29.5zM562.3 1127h29.5v1h-29.5zM562.3 1136h29.5v1h-29.5zM562.3 1138h29.5v1h-29.5zM562.3 1142h29.5v1h-29.5zM562.3 1175h29.5v1h-29.5zM562.3 1177h29.5v1h-29.5zM562.3 1206h29.5v1h-29.5z"/>
<path fill="#fde4e2" d="M244 904h29v1h-29zM244 907h29v1h-29zM244 1050h29v1h-29zM244 1090h29v1h-29zM244 1118h29v1h-29zM244 1125h29v1h-29zM244 1135h29v1h-29zM244 1159h29v1h-29zM244 1173h29v1h-29zM273 945h29.3v2h-29.3zM273 1031h29.3v1h-29.3zM273 1047h29.3v1h-29.3zM273 1054h29.3v1h-29.3zM273 1060h29.3v2h-29.3zM273 1093h29.3v2h-29.3zM273 1097h29.3v1h-29.3zM273 1103h29.3v1h-29.3zM273 1152h29.3v1h-29.3zM273 1176h29.3v2h-29.3zM273 1185h29.3v1h-29.3zM273 1188h29.3v1h-29.3zM273 1195h29.3v1h-29.3zM273 1208h29.3v1h-29.3zM302.3 1054h28.9v1h-28.9zM302.3 1056h28.9v2h-28.9zM302.3 1059h28.9v1h-28.9zM302.3 1065h28.9v1h-28.9zM302.3 1069h28.9v3h-28.9zM302.3 1091h28.9v1h-28.9zM302.3 1102h28.9v1h-28.9zM302.3 1107h28.9v2h-28.9zM302.3 1113h28.9v1h-28.9zM302.3 1132h28.9v1h-28.9zM302.3 1139h28.9v1h-28.9zM302.3 1146h28.9v2h-28.9zM302.3 1156h28.9v1h-28.9zM302.3 1158h28.9v2h-28.9zM302.3 1168h28.9v1h-28.9zM302.3 1170h28.9v1h-28.9zM302.3 1180h28.9v2h-28.9zM302.3 1205h28.9v2h-28.9zM302.3 1209h28.9v1h-28.9zM302.3 1216h28.9v1h-28.9zM360 950h29.1v1h-29.1zM360 985h29.1v3h-29.1zM360 989h29.1v1h-29.1zM360 1005h29.1v2h-29.1zM389.1 872h29v1h-29zM389.1 884h29v1h-29zM389.1 906h29v1h-29zM389.1 922h29v1h-29zM389.1 933h29v1h-29zM389.1 953h29v1h-29zM389.1 982h29v1h-29zM389.1 1026h29v2h-29zM418.1 880h28.9v3h-28.9zM418.1 1042h28.9v1h-28.9zM418.1 1047h28.9v3h-28.9zM418.1 1052h28.9v1h-28.9zM418.1 1057h28.9v1h-28.9zM418.1 1068h28.9v1h-28.9zM418.1 1072h28.9v1h-28.9zM418.1 1076h28.9v1h-28.9zM418.1 1087h28.9v1h-28.9zM418.1 1095h28.9v3h-28.9zM418.1 1120h28.9v1h-28.9zM418.1 1130h28.9v1h-28.9zM418.1 1132h28.9v1h-28.9zM418.1 1140h28.9v1h-28.9zM418.1 1145h28.9v1h-28.9zM418.1 1153h28.9v1h-28.9zM418.1 1158h28.9v2h-28.9zM418.1 1161h28.9v2h-28.9zM418.1 1174h28.9v3h-28.9zM418.1 1190h28.9v1h-28.9zM418.1 1192h28.9v1h-28.9zM418.1 1206h28.9v1h-28.9zM418.1 1216h28.9v1h-28.9zM447 1058h29v1h-29zM447 1061h29v1h-29zM447 1064h29v1h-29zM447 1074h29v1h-29zM447 1086h29v1h-29zM447 1124h29v1h-29zM447 1141h29v1h-29zM447 1145h29v1h-29zM447 1147h29v1h-29zM447 1153h29v1h-29zM447 1155h29v1h-29zM447 1158h29v2h-29zM447 1166h29v1h-29zM447 1170h29v2h-29zM447 1174h29v1h-29zM447 1179h29v2h-29zM447 1199h29v1h-29zM447 1210h29v1h-29zM447 1215h29v1h-29zM476 870h28v1h-28zM476 1044h28v1h-28zM476 1069h28v1h-28zM476 1075h28v1h-28zM476 1079h28v1h-28zM476 1086h28v1h-28zM476 1096h28v2h-28zM476 1100h28v1h-28zM476 1102h28v1h-28zM476 1116h28v1h-28zM476 1121h28v2h-28zM476 1125h28v1h-28zM476 1127h28v2h-28zM476 1134h28v1h-28zM476 1147h28v1h-28zM476 1153h28v4h-28zM476 1159h28v1h-28zM476 1163h28v1h-28zM476 1165h28v1h-28zM476 1168h28v1h-28zM476 1185h28v2h-28zM476 1194h28v2h-28zM476 1198h28v1h-28zM476 1204h28v1h-28zM476 1206h28v1h-28zM476 1208h28v1h-28zM476 1214h28v1h-28zM504 878h29.3v1h-29.3zM504 881h29.3v1h-29.3zM504 893h29.3v2h-29.3zM504 896h29.3v1h-29.3zM504 903h29.3v3h-29.3zM504 912h29.3v1h-29.3zM504 914h29.3v2h-29.3zM504 917h29.3v1h-29.3zM504 928h29.3v2h-29.3zM504 967h29.3v1h-29.3zM504 971h29.3v1h-29.3zM504 984h29.3v1h-29.3zM504 1012h29.3v1h-29.3zM504 1032h29.3v1h-29.3zM504 1046h29.3v2h-29.3zM504 1055h29.3v2h-29.3zM504 1058h29.3v2h-29.3zM533.3 875h29v1h-29zM533.3 879h29v1h-29zM533.3 889h29v1h-29zM533.3 899h29v1h-29zM533.3 903h29v1h-29zM533.3 923h29v2h-29zM533.3 927h29v1h-29zM533.3 966h29v1h-29zM533.3 973h29v1h-29zM533.3 987h29v1h-29zM533.3 994h29v1h-29zM533.3 1001h29v2h-29zM533.3 1004h29v1h-29zM533.3 1012h29v2h-29zM533.3 1022h29v1h-29zM533.3 1031h29v1h-29zM533.3 1038h29v2h-29zM533.3 1048h29v2h-29zM533.3 1051h29v1h-29zM533.3 1059h29v1h-29zM533.3 1116h29v2h-29zM533.3 1151h29v1h-29zM562.3 885h29.5v1h-29.5zM562.3 905h29.5v1h-29.5zM562.3 923h29.5v1h-29.5zM562.3 925h29.5v3h-29.5zM562.3 953h29.5v1h-29.5zM562.3 967h29.5v1h-29.5zM562.3 975h29.5v1h-29.5zM562.3 984h29.5v1h-29.5zM562.3 986h29.5v2h-29.5zM562.3 997h29.5v2h-29.5zM562.3 1000h29.5v1h-29.5zM562.3 1002h29.5v1h-29.5zM562.3 1013h29.5v3h-29.5zM562.3 1027h29.5v1h-29.5zM562.3 1029h29.5v1h-29.5zM562.3 1031h29.5v1h-29.5zM562.3 1033h29.5v1h-29.5zM562.3 1040h29.5v2h-29.5zM562.3 1117h29.5v1h-29.5z"/>
<path fill="#fef2f0" d="M244 905h29v1h-29zM244 1126h29v1h-29zM273 891h29.3v1h-29.3zM273 900h29.3v1h-29.3zM273 925h29.3v1h-29.3zM273 973h29.3v1h-29.3zM273 975h29.3v1h-29.3zM273 986h29.3v1h-29.3zM273 1030h29.3v1h-29.3zM273 1039h29.3v2h-29.3zM273 1048h29.3v2h-29.3zM273 1052h29.3v2h-29.3zM273 1062h29.3v1h-29.3zM273 1066h29.3v2h-29.3zM273 1084h29.3v1h-29.3zM273 1086h29.3v1h-29.3zM273 1096h29.3v1h-29.3zM273 1098h29.3v2h-29.3zM273 1102h29.3v1h-29.3zM273 1110h29.3v2h-29.3zM273 1116h29.3v1h-29.3zM273 1128h29.3v2h-29.3zM273 1138h29.3v2h-29.3zM273 1149h29.3v1h-29.3zM273 1153h29.3v1h-29.3zM273 1161h29.3v4h-29.3zM273 1172h29.3v2h-29.3zM273 1178h29.3v1h-29.3zM273 1183h29.3v1h-29.3zM273 1186h29.3v1h-29.3zM273 1189h29.3v2h-29.3zM273 1193h29.3v2h-29.3zM273 1197h29.3v1h-29.3zM273 1200h29.3v2h-29.3zM273 1209h29.3v2h-29.3zM302.3 913h28.9v1h-28.9zM302.3 915h28.9v1h-28.9zM302.3 932h28.9v2h-28.9zM302.3 1043h28.9v1h-28.9zM302.3 1077h28.9v2h-28.9zM302.3 1080h28.9v1h-28.9zM302.3 1085h28.9v2h-28.9zM302.3 1089h28.9v2h-28.9zM302.3 1100h28.9v1h-28.9zM302.3 1151h28.9v1h-28.9zM302.3 1204h28.9v1h-28.9zM360 952h29.1v1h-29.1zM360 962h29.1v1h-29.1zM360 1003h29.1v2h-29.1zM360 1007h29.1v2h-29.1zM389.1 886h29v1h-29zM389.1 923h29v2h-29zM418.1 1028h28.9v1h-28.9zM418.1 1050h28.9v1h-28.9zM418.1 1054h28.9v1h-28.9zM418.1 1058h28.9v2h-28.9zM418.1 1063h28.9v2h-28.9zM418.1 1067h28.9v1h-28.9zM418.1 1071h28.9v1h-28.9zM418.1 1077h28.9v2h-28.9zM418.1 1080h28.9v2h-28.9zM418.1 1085h28.9v1h-28.9zM418.1 1089h28.9v1h-28.9zM418.1 1099h28.9v1h-28.9zM418.1 1137h28.9v3h-28.9zM418.1 1147h28.9v2h-28.9zM418.1 1151h28.9v1h-28.9zM418.1 1160h28.9v1h-28.9zM418.1 1207h28.9v1h-28.9zM447 1053h29v2h-29zM447 1059h29v1h-29zM447 1062h29v1h-29zM447 1073h29v1h-29zM447 1079h29v2h-29zM447 1084h29v1h-29zM447 1148h29v1h-29zM447 1154h29v1h-29zM447 1160h29v1h-29zM447 1208h29v1h-29zM476 872h28v1h-28zM476 877h28v3h-28zM476 911h28v1h-28zM476 969h28v2h-28zM476 1014h28v1h-28zM476 1043h28v1h-28zM476 1045h28v1h-28zM476 1053h28v2h-28zM476 1065h28v1h-28zM476 1087h28v2h-28zM476 1098h28v1h-28zM476 1117h28v1h-28zM476 1126h28v1h-28zM476 1130h28v1h-28zM476 1132h28v2h-28zM476 1139h28v3h-28zM476 1143h28v1h-28zM476 1145h28v1h-28zM476 1148h28v1h-28zM476 1152h28v1h-28zM476 1157h28v2h-28zM476 1174h28v1h-28zM476 1179h28v1h-28zM476 1187h28v1h-28zM476 1199h28v1h-28zM476 1202h28v2h-28zM476 1205h28v1h-28zM476 1210h28v1h-28zM476 1212h28v1h-28zM504 870h29.3v1h-29.3zM504 882h29.3v1h-29.3zM504 884h29.3v1h-29.3zM504 887h29.3v2h-29.3zM504 895h29.3v1h-29.3zM504 907h29.3v1h-29.3zM504 909h29.3v2h-29.3zM504 913h29.3v1h-29.3zM504 923h29.3v1h-29.3zM504 931h29.3v1h-29.3zM504 936h29.3v2h-29.3zM504 993h29.3v3h-29.3zM504 1116h29.3v1h-29.3zM504 1150h29.3v1h-29.3zM533.3 876h29v1h-29zM533.3 883h29v1h-29zM533.3 890h29v1h-29zM533.3 892h29v1h-29zM533.3 897h29v2h-29zM533.3 900h29v3h-29zM533.3 912h29v1h-29zM533.3 916h29v2h-29zM533.3 920h29v2h-29zM533.3 926h29v1h-29zM533.3 929h29v1h-29zM533.3 935h29v2h-29zM533.3 963h29v1h-29zM533.3 972h29v1h-29zM533.3 974h29v1h-29zM533.3 993h29v1h-29zM533.3 1003h29v1h-29zM533.3 1011h29v1h-29zM533.3 1044h29v4h-29zM533.3 1052h29v1h-29zM533.3 1193h29v1h-29zM562.3 884h29.5v1h-29.5zM562.3 889h29.5v1h-29.5zM562.3 894h29.5v1h-29.5zM562.3 899h29.5v1h-29.5zM562.3 903h29.5v2h-29.5zM562.3 929h29.5v1h-29.5zM562.3 952h29.5v1h-29.5zM562.3 954h29.5v4h-29.5zM562.3 966h29.5v1h-29.5zM562.3 968h29.5v3h-29.5zM562.3 974h29.5v1h-29.5zM562.3 1004h29.5v3h-29.5zM562.3 1008h29.5v2h-29.5zM562.3 1028h29.5v1h-29.5zM562.3 1032h29.5v1h-29.5zM562.3 1039h29.5v1h-29.5zM562.3 1047h29.5v1h-29.5zM562.3 1051h29.5v1h-29.5zM562.3 1056h29.5v1h-29.5zM562.3 1059h29.5v1h-29.5zM562.3 1067h29.5v1h-29.5zM562.3 1104h29.5v1h-29.5zM562.3 1113h29.5v2h-29.5zM562.3 1116h29.5v1h-29.5zM562.3 1128h29.5v1h-29.5zM562.3 1140h29.5v1h-29.5z"/>
<path fill="#fabdb6" d="M244 1042h29v1h-29zM244 1054h29v3h-29zM244 1066h29v2h-29zM244 1074h29v1h-29zM244 1101h29v2h-29zM244 1104h29v1h-29zM244 1110h29v1h-29zM244 1114h29v3h-29zM244 1130h29v1h-29zM244 1139h29v2h-29zM244 1146h29v1h-29zM244 1154h29v2h-29zM244 1166h29v3h-29zM244 1170h29v1h-29zM244 1174h29v1h-29zM244 1178h29v1h-29zM244 1188h29v1h-29zM244 1191h29v2h-29zM244 1200h29v1h-29zM244 1202h29v1h-29zM244 1205h29v2h-29zM244 1216h29v1h-29zM273 1043h29.3v2h-29.3zM302.3 1044h28.9v1h-28.9zM302.3 1046h28.9v4h-28.9zM302.3 1051h28.9v1h-28.9zM302.3 1055h28.9v1h-28.9zM302.3 1066h28.9v3h-28.9zM302.3 1073h28.9v1h-28.9zM302.3 1075h28.9v1h-28.9zM302.3 1094h28.9v2h-28.9zM302.3 1103h28.9v2h-28.9zM302.3 1109h28.9v3h-28.9zM302.3 1128h28.9v1h-28.9zM302.3 1130h28.9v1h-28.9zM302.3 1135h28.9v1h-28.9zM302.3 1137h28.9v1h-28.9zM302.3 1140h28.9v2h-28.9zM302.3 1165h28.9v2h-28.9zM302.3 1174h28.9v1h-28.9zM302.3 1185h28.9v2h-28.9zM302.3 1197h28.9v1h-28.9zM302.3 1202h28.9v2h-28.9zM302.3 1208h28.9v1h-28.9zM302.3 1210h28.9v3h-28.9zM302.3 1215h28.9v1h-28.9zM331.2 871h28.8v3h-28.8zM331.2 879h28.8v2h-28.8zM331.2 906h28.8v1h-28.8zM331.2 936h28.8v1h-28.8zM331.2 940h28.8v2h-28.8zM331.2 944h28.8v1h-28.8zM331.2 954h28.8v1h-28.8zM331.2 962h28.8v1h-28.8zM331.2 985h28.8v1h-28.8zM331.2 1024h28.8v1h-28.8zM331.2 1039h28.8v1h-28.8zM360 872h29.1v1h-29.1zM360 885h29.1v3h-29.1zM360 902h29.1v2h-29.1zM360 907h29.1v1h-29.1zM360 936h29.1v1h-29.1zM360 939h29.1v2h-29.1zM360 942h29.1v1h-29.1zM360 966h29.1v1h-29.1zM360 968h29.1v1h-29.1zM360 983h29.1v2h-29.1zM360 991h29.1v1h-29.1zM360 998h29.1v1h-29.1zM360 1001h29.1v1h-29.1zM360 1009h29.1v3h-29.1zM360 1021h29.1v1h-29.1zM389.1 874h29v1h-29zM389.1 876h29v3h-29zM389.1 896h29v1h-29zM389.1 908h29v2h-29zM389.1 914h29v1h-29zM389.1 941h29v1h-29zM389.1 943h29v2h-29zM389.1 946h29v2h-29zM389.1 949h29v1h-29zM389.1 954h29v1h-29zM389.1 963h29v1h-29zM389.1 966h29v1h-29zM389.1 973h29v1h-29zM389.1 976h29v1h-29zM389.1 981h29v1h-29zM389.1 983h29v1h-29zM389.1 989h29v1h-29zM389.1 998h29v1h-29zM389.1 1000h29v1h-29zM389.1 1005h29v1h-29zM389.1 1007h29v1h-29zM389.1 1013h29v1h-29zM389.1 1018h29v3h-29zM389.1 1030h29v1h-29zM389.1 1037h29v1h-29zM389.1 1040h29v1h-29zM418.1 1090h28.9v1h-28.9zM418.1 1101h28.9v1h-28.9zM418.1 1103h28.9v3h-28.9zM418.1 1107h28.9v5h-28.9zM418.1 1117h28.9v2h-28.9zM418.1 1123h28.9v2h-28.9zM418.1 1144h28.9v1h-28.9zM418.1 1150h28.9v1h-28.9zM418.1 1164h28.9v1h-28.9zM418.1 1177h28.9v1h-28.9zM418.1 1181h28.9v1h-28.9zM418.1 1187h28.9v1h-28.9zM418.1 1194h28.9v3h-28.9zM418.1 1199h28.9v2h-28.9zM418.1 1204h28.9v1h-28.9zM418.1 1209h28.9v5h-28.9zM447 1044h29v1h-29zM447 1091h29v1h-29zM447 1096h29v1h-29zM447 1107h29v1h-29zM447 1126h29v1h-29zM447 1129h29v1h-29zM447 1132h29v2h-29zM447 1168h29v1h-29zM447 1184h29v1h-29zM447 1189h29v3h-29zM447 1194h29v2h-29zM447 1202h29v1h-29zM447 1211h29v1h-29zM447 1213h29v1h-29zM447 1216h29v1h-29zM476 1103h28v1h-28zM476 1105h28v2h-28zM476 1197h28v1h-28zM504 875h29.3v1h-29.3zM504 877h29.3v1h-29.3zM504 886h29.3v1h-29.3zM504 927h29.3v1h-29.3zM504 946h29.3v1h-29.3zM504 948h29.3v1h-29.3zM504 956h29.3v2h-29.3zM504 972h29.3v1h-29.3zM504 976h29.3v2h-29.3zM504 979h29.3v1h-29.3zM504 985h29.3v1h-29.3zM504 988h29.3v2h-29.3zM504 992h29.3v1h-29.3zM504 999h29.3v1h-29.3zM504 1001h29.3v1h-29.3zM504 1007h29.3v2h-29.3zM504 1015h29.3v1h-29.3zM504 1023h29.3v2h-29.3zM504 1041h29.3v1h-29.3zM533.3 880h29v1h-29zM533.3 940h29v1h-29zM533.3 944h29v4h-29zM533.3 949h29v1h-29zM533.3 958h29v2h-29zM533.3 961h29v1h-29zM533.3 970h29v1h-29zM533.3 975h29v3h-29zM533.3 981h29v2h-29zM533.3 986h29v1h-29zM533.3 998h29v2h-29zM533.3 1009h29v1h-29zM533.3 1021h29v1h-29zM533.3 1032h29v2h-29zM562.3 870h29.5v2h-29.5zM562.3 947h29.5v1h-29.5zM562.3 980h29.5v3h-29.5zM562.3 1012h29.5v1h-29.5zM562.3 1021h29.5v1h-29.5zM562.3 1045h29.5v1h-29.5z"/>
<path fill="#f6978d" d="M244 1043h29v1h-29zM244 1071h29v1h-29zM244 1082h29v2h-29zM244 1122h29v1h-29zM244 1149h29v2h-29zM244 1201h29v1h-29zM273 1045h29.3v1h-29.3zM302.3 1061h28.9v1h-28.9zM302.3 1082h28.9v2h-28.9zM302.3 1125h28.9v3h-28.9zM331.2 874h28.8v1h-28.8zM331.2 902h28.8v2h-28.8zM331.2 915h28.8v1h-28.8zM331.2 919h28.8v1h-28.8zM331.2 921h28.8v1h-28.8zM331.2 932h28.8v1h-28.8zM331.2 934h28.8v2h-28.8zM331.2 939h28.8v1h-28.8zM331.2 943h28.8v1h-28.8zM331.2 946h28.8v1h-28.8zM331.2 957h28.8v1h-28.8zM331.2 959h28.8v1h-28.8zM331.2 963h28.8v1h-28.8zM331.2 971h28.8v2h-28.8zM331.2 983h28.8v1h-28.8zM331.2 996h28.8v2h-28.8zM331.2 1002h28.8v1h-28.8zM331.2 1004h28.8v1h-28.8zM331.2 1010h28.8v1h-28.8zM331.2 1017h28.8v1h-28.8zM331.2 1021h28.8v1h-28.8zM360 871h29.1v1h-29.1zM360 873h29.1v1h-29.1zM360 882h29.1v1h-29.1zM360 896h29.1v1h-29.1zM360 898h29.1v1h-29.1zM360 922h29.1v1h-29.1zM360 947h29.1v3h-29.1zM360 974h29.1v1h-29.1zM360 995h29.1v1h-29.1zM360 1013h29.1v4h-29.1zM360 1024h29.1v1h-29.1zM360 1034h29.1v1h-29.1zM360 1038h29.1v1h-29.1zM389.1 890h29v1h-29zM389.1 898h29v1h-29zM389.1 929h29v2h-29zM389.1 958h29v2h-29zM389.1 961h29v1h-29zM389.1 977h29v2h-29zM389.1 1014h29v1h-29zM389.1 1035h29v2h-29zM447 1090h29v1h-29zM447 1100h29v1h-29zM447 1110h29v1h-29zM447 1112h29v3h-29zM447 1149h29v2h-29zM476 1110h28v1h-28zM504 940h29.3v2h-29.3zM504 944h29.3v1h-29.3zM504 1000h29.3v1h-29.3zM504 1006h29.3v1h-29.3zM533.3 1056h29v2h-29zM562.3 936h29.5v3h-29.5zM562.3 941h29.5v1h-29.5z"/>
<path fill="#f7a49b" d="M244 1044h29v1h-29zM244 1051h29v1h-29zM244 1053h29v1h-29zM244 1061h29v1h-29zM244 1068h29v2h-29zM244 1079h29v1h-29zM244 1085h29v1h-29zM244 1088h29v1h-29zM244 1097h29v1h-29zM244 1112h29v1h-29zM244 1124h29v1h-29zM244 1137h29v2h-29zM244 1148h29v1h-29zM244 1156h29v2h-29zM244 1169h29v1h-29zM244 1176h29v1h-29zM244 1208h29v1h-29zM302.3 1045h28.9v1h-28.9zM302.3 1060h28.9v1h-28.9zM302.3 1081h28.9v1h-28.9zM302.3 1120h28.9v1h-28.9zM302.3 1124h28.9v1h-28.9zM302.3 1134h28.9v1h-28.9zM302.3 1152h28.9v2h-28.9zM331.2 890h28.8v1h-28.8zM331.2 892h28.8v1h-28.8zM331.2 894h28.8v1h-28.8zM331.2 904h28.8v1h-28.8zM331.2 914h28.8v1h-28.8zM331.2 920h28.8v1h-28.8zM331.2 923h28.8v2h-28.8zM331.2 927h28.8v1h-28.8zM331.2 952h28.8v1h-28.8zM331.2 956h28.8v1h-28.8zM331.2 968h28.8v3h-28.8zM331.2 979h28.8v1h-28.8zM331.2 984h28.8v1h-28.8zM331.2 999h28.8v2h-28.8zM331.2 1008h28.8v1h-28.8zM331.2 1016h28.8v1h-28.8zM331.2 1018h28.8v1h-28.8zM331.2 1020h28.8v1h-28.8zM331.2 1028h28.8v1h-28.8zM360 893h29.1v1h-29.1zM360 897h29.1v1h-29.1zM360 899h29.1v3h-29.1zM360 908h29.1v2h-29.1zM360 916h29.1v2h-29.1zM360 923h29.1v1h-29.1zM360 927h29.1v1h-29.1zM360 930h29.1v1h-29.1zM360 937h29.1v1h-29.1zM360 963h29.1v1h-29.1zM360 972h29.1v1h-29.1zM360 975h29.1v3h-29.1zM360 979h29.1v1h-29.1zM360 992h29.1v2h-29.1zM360 1022h29.1v2h-29.1zM360 1037h29.1v1h-29.1zM360 1039h29.1v1h-29.1zM389.1 870h29v1h-29zM389.1 879h29v3h-29zM389.1 887h29v2h-29zM389.1 891h29v2h-29zM389.1 901h29v1h-29zM389.1 904h29v1h-29zM389.1 912h29v2h-29zM389.1 926h29v1h-29zM389.1 928h29v1h-29zM389.1 931h29v1h-29zM389.1 962h29v1h-29zM389.1 964h29v2h-29zM389.1 971h29v2h-29zM389.1 979h29v1h-29zM389.1 984h29v2h-29zM389.1 987h29v1h-29zM389.1 994h29v1h-29zM389.1 1002h29v2h-29zM418.1 1167h28.9v1h-28.9zM418.1 1201h28.9v1h-28.9zM447 1093h29v2h-29zM447 1104h29v2h-29zM447 1111h29v1h-29zM447 1115h29v1h-29zM447 1118h29v1h-29zM447 1131h29v1h-29zM447 1139h29v1h-29zM447 1181h29v2h-29zM447 1193h29v1h-29zM447 1201h29v1h-29zM447 1203h29v1h-29zM476 1109h28v1h-28zM476 1111h28v1h-28zM504 955h29.3v1h-29.3zM504 990h29.3v1h-29.3zM504 1005h29.3v1h-29.3zM533.3 941h29v3h-29zM533.3 952h29v2h-29zM533.3 969h29v1h-29zM533.3 1034h29v1h-29zM562.3 939h29.5v1h-29.5zM562.3 949h29.5v1h-29.5zM562.3 1046h29.5v1h-29.5z"/>
<path fill="#f8b0a8" d="M244 1045h29v1h-29zM244 1047h29v1h-29zM244 1052h29v1h-29zM244 1060h29v1h-29zM244 1070h29v1h-29zM244 1072h29v2h-29zM244 1075h29v4h-29zM244 1087h29v1h-29zM244 1103h29v1h-29zM244 1111h29v1h-29zM244 1113h29v1h-29zM244 1121h29v1h-29zM244 1127h29v3h-29zM244 1147h29v1h-29zM244 1151h29v3h-29zM244 1160h29v2h-29zM244 1177h29v1h-29zM244 1183h29v4h-29zM244 1189h29v2h-29zM244 1207h29v1h-29zM244 1209h29v1h-29zM273 1046h29.3v1h-29.3zM302.3 1074h28.9v1h-28.9zM302.3 1093h28.9v1h-28.9zM302.3 1112h28.9v1h-28.9zM302.3 1142h28.9v2h-28.9zM302.3 1171h28.9v1h-28.9zM331.2 881h28.8v3h-28.8zM331.2 893h28.8v1h-28.8zM331.2 907h28.8v1h-28.8zM331.2 922h28.8v1h-28.8zM331.2 933h28.8v1h-28.8zM331.2 937h28.8v1h-28.8zM331.2 955h28.8v1h-28.8zM331.2 975h28.8v4h-28.8zM331.2 1001h28.8v1h-28.8zM331.2 1009h28.8v1h-28.8zM331.2 1019h28.8v1h-28.8zM331.2 1027h28.8v1h-28.8zM331.2 1035h28.8v1h-28.8zM360 875h29.1v1h-29.1zM360 888h29.1v1h-29.1zM360 894h29.1v2h-29.1zM360 904h29.1v1h-29.1zM360 918h29.1v1h-29.1zM360 931h29.1v2h-29.1zM360 934h29.1v2h-29.1zM360 941h29.1v1h-29.1zM360 943h29.1v1h-29.1zM360 945h29.1v2h-29.1zM360 964h29.1v2h-29.1zM360 967h29.1v1h-29.1zM360 970h29.1v2h-29.1zM360 978h29.1v1h-29.1zM360 980h29.1v2h-29.1zM360 990h29.1v1h-29.1zM360 996h29.1v2h-29.1zM360 1000h29.1v1h-29.1zM360 1017h29.1v2h-29.1zM360 1020h29.1v1h-29.1zM360 1025h29.1v1h-29.1zM389.1 875h29v1h-29zM389.1 882h29v2h-29zM389.1 893h29v1h-29zM389.1 897h29v1h-29zM389.1 902h29v1h-29zM389.1 910h29v2h-29zM389.1 915h29v4h-29zM389.1 925h29v1h-29zM389.1 927h29v1h-29zM389.1 934h29v2h-29zM389.1 937h29v2h-29zM389.1 945h29v1h-29zM389.1 951h29v2h-29zM389.1 969h29v2h-29zM389.1 974h29v2h-29zM389.1 986h29v1h-29zM389.1 988h29v1h-29zM389.1 992h29v2h-29zM389.1 995h29v1h-29zM389.1 1001h29v1h-29zM389.1 1004h29v1h-29zM389.1 1011h29v2h-29zM389.1 1016h29v1h-29zM389.1 1021h29v4h-29zM389.1 1029h29v1h-29zM389.1 1034h29v1h-29zM418.1 1102h28.9v1h-28.9zM418.1 1128h28.9v1h-28.9zM418.1 1141h28.9v1h-28.9zM418.1 1165h28.9v1h-28.9zM418.1 1168h28.9v2h-28.9zM418.1 1178h28.9v2h-28.9zM418.1 1198h28.9v1h-28.9zM418.1 1214h28.9v1h-28.9zM447 1088h29v1h-29zM447 1092h29v1h-29zM447 1098h29v2h-29zM447 1101h29v1h-29zM447 1119h29v1h-29zM447 1127h29v2h-29zM447 1130h29v1h-29zM447 1135h29v2h-29zM447 1138h29v1h-29zM447 1164h29v1h-29zM447 1167h29v1h-29zM447 1188h29v1h-29zM447 1198h29v1h-29zM447 1204h29v1h-29zM447 1214h29v1h-29zM476 873h28v1h-28zM476 1107h28v2h-28zM476 1118h28v1h-28zM504 938h29.3v1h-29.3zM504 945h29.3v1h-29.3zM504 947h29.3v1h-29.3zM504 949h29.3v3h-29.3zM504 954h29.3v1h-29.3zM504 958h29.3v1h-29.3zM504 960h29.3v1h-29.3zM504 991h29.3v1h-29.3zM504 1025h29.3v1h-29.3zM504 1044h29.3v1h-29.3zM533.3 950h29v2h-29zM533.3 968h29v1h-29zM533.3 985h29v1h-29zM533.3 996h29v1h-29zM533.3 1000h29v1h-29zM533.3 1005h29v2h-29zM562.3 876h29.5v1h-29.5zM562.3 935h29.5v1h-29.5zM562.3 940h29.5v1h-29.5zM562.3 944h29.5v3h-29.5zM562.3 999h29.5v1h-29.5zM562.3 1044h29.5v1h-29.5z"/>
<path fill="#fbcac4" d="M244 1046h29v1h-29zM244 1048h29v1h-29zM244 1080h29v2h-29zM244 1086h29v1h-29zM244 1089h29v1h-29zM244 1098h29v3h-29zM244 1109h29v1h-29zM244 1133h29v2h-29zM244 1136h29v1h-29zM244 1144h29v2h-29zM244 1162h29v1h-29zM244 1164h29v2h-29zM244 1172h29v1h-29zM244 1175h29v1h-29zM244 1180h29v3h-29zM244 1193h29v3h-29zM244 1197h29v1h-29zM244 1203h29v2h-29zM244 1210h29v3h-29zM244 1215h29v1h-29zM273 1207h29.3v1h-29.3zM302.3 1050h28.9v1h-28.9zM302.3 1052h28.9v1h-28.9zM302.3 1062h28.9v1h-28.9zM302.3 1096h28.9v3h-28.9zM302.3 1106h28.9v1h-28.9zM302.3 1121h28.9v3h-28.9zM302.3 1129h28.9v1h-28.9zM302.3 1131h28.9v1h-28.9zM302.3 1136h28.9v1h-28.9zM302.3 1150h28.9v1h-28.9zM302.3 1160h28.9v2h-28.9zM302.3 1163h28.9v1h-28.9zM302.3 1169h28.9v1h-28.9zM302.3 1172h28.9v1h-28.9zM302.3 1176h28.9v3h-28.9zM302.3 1182h28.9v3h-28.9zM302.3 1193h28.9v1h-28.9zM302.3 1200h28.9v2h-28.9zM331.2 870h28.8v1h-28.8zM331.2 875h28.8v1h-28.8zM331.2 877h28.8v2h-28.8zM331.2 905h28.8v1h-28.8zM331.2 953h28.8v1h-28.8zM331.2 986h28.8v2h-28.8zM331.2 1025h28.8v2h-28.8zM331.2 1034h28.8v1h-28.8zM331.2 1037h28.8v2h-28.8zM360 876h29.1v3h-29.1zM360 889h29.1v4h-29.1zM360 919h29.1v1h-29.1zM360 944h29.1v1h-29.1zM360 969h29.1v1h-29.1zM360 973h29.1v1h-29.1zM360 982h29.1v1h-29.1zM360 999h29.1v1h-29.1zM360 1012h29.1v1h-29.1zM360 1019h29.1v1h-29.1zM360 1027h29.1v1h-29.1zM389.1 871h29v1h-29zM389.1 885h29v1h-29zM389.1 895h29v1h-29zM389.1 919h29v2h-29zM389.1 936h29v1h-29zM389.1 939h29v1h-29zM389.1 942h29v1h-29zM389.1 948h29v1h-29zM389.1 950h29v1h-29zM389.1 955h29v3h-29zM389.1 990h29v2h-29zM389.1 1006h29v1h-29zM389.1 1008h29v1h-29zM389.1 1010h29v1h-29zM389.1 1015h29v1h-29zM389.1 1017h29v1h-29zM389.1 1025h29v1h-29zM389.1 1028h29v1h-29zM418.1 1053h28.9v1h-28.9zM418.1 1060h28.9v2h-28.9zM418.1 1092h28.9v1h-28.9zM418.1 1100h28.9v1h-28.9zM418.1 1106h28.9v1h-28.9zM418.1 1115h28.9v2h-28.9zM418.1 1121h28.9v2h-28.9zM418.1 1126h28.9v2h-28.9zM418.1 1129h28.9v1h-28.9zM418.1 1131h28.9v1h-28.9zM418.1 1142h28.9v2h-28.9zM418.1 1149h28.9v1h-28.9zM418.1 1154h28.9v1h-28.9zM418.1 1170h28.9v1h-28.9zM418.1 1172h28.9v1h-28.9zM418.1 1180h28.9v1h-28.9zM418.1 1182h28.9v1h-28.9zM418.1 1184h28.9v3h-28.9zM418.1 1188h28.9v1h-28.9zM418.1 1191h28.9v1h-28.9zM418.1 1193h28.9v1h-28.9zM418.1 1203h28.9v1h-28.9zM418.1 1215h28.9v1h-28.9zM447 1042h29v2h-29zM447 1089h29v1h-29zM447 1095h29v1h-29zM447 1097h29v1h-29zM447 1102h29v1h-29zM447 1106h29v1h-29zM447 1108h29v2h-29zM447 1120h29v1h-29zM447 1122h29v2h-29zM447 1125h29v1h-29zM447 1134h29v1h-29zM447 1137h29v1h-29zM447 1140h29v1h-29zM447 1152h29v1h-29zM447 1156h29v2h-29zM447 1169h29v1h-29zM447 1172h29v2h-29zM447 1185h29v3h-29zM447 1192h29v1h-29zM447 1197h29v1h-29zM447 1212h29v1h-29zM476 874h28v1h-28zM476 1104h28v1h-28zM476 1113h28v1h-28zM476 1119h28v1h-28zM476 1135h28v2h-28zM476 1146h28v1h-28zM476 1150h28v1h-28zM476 1164h28v1h-28zM476 1172h28v2h-28zM504 872h29.3v2h-29.3zM504 876h29.3v1h-29.3zM504 897h29.3v1h-29.3zM504 899h29.3v1h-29.3zM504 961h29.3v1h-29.3zM504 964h29.3v2h-29.3zM504 969h29.3v2h-29.3zM504 980h29.3v2h-29.3zM504 986h29.3v1h-29.3zM504 996h29.3v1h-29.3zM504 1002h29.3v1h-29.3zM504 1009h29.3v1h-29.3zM504 1011h29.3v1h-29.3zM504 1013h29.3v1h-29.3zM504 1016h29.3v1h-29.3zM504 1018h29.3v2h-29.3zM504 1026h29.3v2h-29.3zM504 1030h29.3v2h-29.3zM504 1035h29.3v3h-29.3zM504 1040h29.3v1h-29.3zM533.3 877h29v2h-29zM533.3 956h29v2h-29zM533.3 960h29v1h-29zM533.3 962h29v1h-29zM533.3 964h29v2h-29zM533.3 990h29v3h-29zM533.3 997h29v1h-29zM533.3 1020h29v1h-29zM533.3 1025h29v2h-29zM533.3 1029h29v2h-29zM533.3 1036h29v1h-29zM533.3 1040h29v1h-29zM562.3 875h29.5v1h-29.5zM562.3 880h29.5v1h-29.5zM562.3 951h29.5v1h-29.5zM562.3 959h29.5v7h-29.5zM562.3 971h29.5v2h-29.5zM562.3 977h29.5v1h-29.5zM562.3 988h29.5v1h-29.5zM562.3 990h29.5v1h-29.5zM562.3 1011h29.5v1h-29.5zM562.3 1020h29.5v1h-29.5zM562.3 1022h29.5v2h-29.5zM562.3 1036h29.5v2h-29.5z"/>
<path fill="#fcd7d3" d="M244 1049h29v1h-29zM244 1057h29v3h-29zM244 1062h29v4h-29zM244 1091h29v2h-29zM244 1105h29v4h-29zM244 1117h29v1h-29zM244 1119h29v2h-29zM244 1131h29v2h-29zM244 1141h29v3h-29zM244 1158h29v1h-29zM244 1163h29v1h-29zM244 1171h29v1h-29zM244 1179h29v1h-29zM244 1187h29v1h-29zM244 1196h29v1h-29zM244 1198h29v2h-29zM244 1213h29v2h-29zM273 914h29.3v1h-29.3zM273 1055h29.3v1h-29.3zM273 1095h29.3v1h-29.3zM273 1104h29.3v1h-29.3zM273 1215h29.3v2h-29.3zM302.3 1053h28.9v1h-28.9zM302.3 1063h28.9v2h-28.9zM302.3 1072h28.9v1h-28.9zM302.3 1076h28.9v1h-28.9zM302.3 1079h28.9v1h-28.9zM302.3 1088h28.9v1h-28.9zM302.3 1092h28.9v1h-28.9zM302.3 1099h28.9v1h-28.9zM302.3 1101h28.9v1h-28.9zM302.3 1105h28.9v1h-28.9zM302.3 1114h28.9v6h-28.9zM302.3 1133h28.9v1h-28.9zM302.3 1138h28.9v1h-28.9zM302.3 1144h28.9v2h-28.9zM302.3 1148h28.9v2h-28.9zM302.3 1154h28.9v2h-28.9zM302.3 1157h28.9v1h-28.9zM302.3 1162h28.9v1h-28.9zM302.3 1164h28.9v1h-28.9zM302.3 1167h28.9v1h-28.9zM302.3 1173h28.9v1h-28.9zM302.3 1175h28.9v1h-28.9zM302.3 1179h28.9v1h-28.9zM302.3 1187h28.9v6h-28.9zM302.3 1194h28.9v3h-28.9zM302.3 1198h28.9v2h-28.9zM302.3 1207h28.9v1h-28.9zM302.3 1213h28.9v2h-28.9zM331.2 876h28.8v1h-28.8zM360 905h29.1v2h-29.1zM360 933h29.1v1h-29.1zM360 951h29.1v1h-29.1zM360 958h29.1v3h-29.1zM360 1002h29.1v1h-29.1zM360 1026h29.1v1h-29.1zM389.1 873h29v1h-29zM389.1 894h29v1h-29zM389.1 903h29v1h-29zM389.1 905h29v1h-29zM389.1 907h29v1h-29zM389.1 921h29v1h-29zM389.1 932h29v1h-29zM389.1 940h29v1h-29zM389.1 967h29v2h-29zM389.1 996h29v2h-29zM389.1 999h29v1h-29zM389.1 1009h29v1h-29zM389.1 1038h29v2h-29zM418.1 1051h28.9v1h-28.9zM418.1 1073h28.9v1h-28.9zM418.1 1079h28.9v1h-28.9zM418.1 1084h28.9v1h-28.9zM418.1 1086h28.9v1h-28.9zM418.1 1091h28.9v1h-28.9zM418.1 1093h28.9v2h-28.9zM418.1 1112h28.9v3h-28.9zM418.1 1119h28.9v1h-28.9zM418.1 1133h28.9v4h-28.9zM418.1 1146h28.9v1h-28.9zM418.1 1152h28.9v1h-28.9zM418.1 1155h28.9v3h-28.9zM418.1 1163h28.9v1h-28.9zM418.1 1166h28.9v1h-28.9zM418.1 1171h28.9v1h-28.9zM418.1 1173h28.9v1h-28.9zM418.1 1183h28.9v1h-28.9zM418.1 1189h28.9v1h-28.9zM418.1 1197h28.9v1h-28.9zM418.1 1202h28.9v1h-28.9zM418.1 1205h28.9v1h-28.9zM447 1072h29v1h-29zM447 1087h29v1h-29zM447 1116h29v2h-29zM447 1121h29v1h-29zM447 1142h29v3h-29zM447 1146h29v1h-29zM447 1151h29v1h-29zM447 1161h29v3h-29zM447 1165h29v1h-29zM447 1175h29v4h-29zM447 1183h29v1h-29zM447 1196h29v1h-29zM447 1209h29v1h-29zM476 875h28v2h-28zM476 1036h28v1h-28zM476 1057h28v1h-28zM476 1080h28v1h-28zM476 1112h28v1h-28zM476 1114h28v2h-28zM476 1123h28v2h-28zM476 1131h28v1h-28zM476 1137h28v2h-28zM476 1144h28v1h-28zM476 1149h28v1h-28zM476 1161h28v2h-28zM476 1170h28v2h-28zM476 1175h28v2h-28zM476 1196h28v1h-28zM476 1200h28v2h-28zM476 1207h28v1h-28zM476 1209h28v1h-28zM476 1211h28v1h-28zM476 1213h28v1h-28zM476 1216h28v1h-28zM504 871h29.3v1h-29.3zM504 874h29.3v1h-29.3zM504 898h29.3v1h-29.3zM504 916h29.3v1h-29.3zM504 924h29.3v3h-29.3zM504 962h29.3v2h-29.3zM504 966h29.3v1h-29.3zM504 968h29.3v1h-29.3zM504 973h29.3v3h-29.3zM504 978h29.3v1h-29.3zM504 982h29.3v1h-29.3zM504 987h29.3v1h-29.3zM504 997h29.3v2h-29.3zM504 1003h29.3v2h-29.3zM504 1010h29.3v1h-29.3zM504 1014h29.3v1h-29.3zM504 1017h29.3v1h-29.3zM504 1020h29.3v3h-29.3zM504 1028h29.3v2h-29.3zM504 1033h29.3v2h-29.3zM504 1039h29.3v1h-29.3zM533.3 881h29v1h-29zM533.3 888h29v1h-29zM533.3 911h29v1h-29zM533.3 928h29v1h-29zM533.3 938h29v2h-29zM533.3 948h29v1h-29zM533.3 954h29v2h-29zM533.3 967h29v1h-29zM533.3 971h29v1h-29zM533.3 978h29v3h-29zM533.3 984h29v1h-29zM533.3 988h29v2h-29zM533.3 995h29v1h-29zM533.3 1007h29v2h-29zM533.3 1023h29v2h-29zM533.3 1027h29v2h-29zM533.3 1035h29v1h-29zM533.3 1037h29v1h-29zM533.3 1041h29v1h-29zM533.3 1058h29v1h-29zM562.3 872h29.5v3h-29.5zM562.3 950h29.5v1h-29.5zM562.3 973h29.5v1h-29.5zM562.3 976h29.5v1h-29.5zM562.3 979h29.5v1h-29.5zM562.3 985h29.5v1h-29.5zM562.3 989h29.5v1h-29.5zM562.3 991h29.5v2h-29.5zM562.3 996h29.5v1h-29.5zM562.3 1024h29.5v3h-29.5zM562.3 1030h29.5v1h-29.5zM562.3 1034h29.5v2h-29.5zM562.3 1043h29.5v1h-29.5z"/>
<path fill="#f27268" d="M244 1084h29v1h-29zM302.3 1084h28.9v1h-28.9zM331.2 891h28.8v1h-28.8zM331.2 928h28.8v1h-28.8zM331.2 948h28.8v1h-28.8zM331.2 961h28.8v1h-28.8zM331.2 964h28.8v1h-28.8zM331.2 974h28.8v1h-28.8zM331.2 980h28.8v1h-28.8zM331.2 990h28.8v1h-28.8zM331.2 998h28.8v1h-28.8zM331.2 1014h28.8v1h-28.8zM331.2 1022h28.8v1h-28.8zM360 874h29.1v1h-29.1zM360 914h29.1v1h-29.1zM360 925h29.1v1h-29.1z"/>
<path fill="#f48a80" d="M244 1093h29v4h-29zM244 1123h29v1h-29zM331.2 884h28.8v1h-28.8zM331.2 895h28.8v1h-28.8zM331.2 910h28.8v4h-28.8zM331.2 917h28.8v2h-28.8zM331.2 938h28.8v1h-28.8zM331.2 942h28.8v1h-28.8zM331.2 949h28.8v3h-28.8zM331.2 958h28.8v1h-28.8zM331.2 965h28.8v1h-28.8zM331.2 967h28.8v1h-28.8zM331.2 982h28.8v1h-28.8zM331.2 988h28.8v2h-28.8zM331.2 993h28.8v1h-28.8zM331.2 1003h28.8v1h-28.8zM331.2 1006h28.8v2h-28.8zM331.2 1011h28.8v1h-28.8zM331.2 1031h28.8v1h-28.8zM331.2 1036h28.8v1h-28.8zM331.2 1040h28.8v2h-28.8zM360 870h29.1v1h-29.1zM360 881h29.1v1h-29.1zM360 910h29.1v2h-29.1zM360 924h29.1v1h-29.1zM360 928h29.1v2h-29.1zM360 938h29.1v1h-29.1zM360 994h29.1v1h-29.1zM360 1028h29.1v1h-29.1zM360 1040h29.1v2h-29.1zM389.1 889h29v1h-29zM389.1 899h29v1h-29zM389.1 960h29v1h-29zM389.1 1031h29v1h-29zM447 1103h29v1h-29zM504 939h29.3v1h-29.3zM504 952h29.3v2h-29.3zM504 959h29.3v1h-29.3zM504 1045h29.3v1h-29.3z"/>
<path fill="#939ed2" d="M302.3 970h28.9v1h-28.9zM331.2 1052h28.8v1h-28.8zM331.2 1060h28.8v1h-28.8zM331.2 1062h28.8v1h-28.8zM331.2 1069h28.8v2h-28.8zM331.2 1074h28.8v1h-28.8zM331.2 1076h28.8v2h-28.8zM331.2 1086h28.8v1h-28.8zM331.2 1089h28.8v1h-28.8zM331.2 1096h28.8v1h-28.8zM331.2 1099h28.8v1h-28.8zM331.2 1101h28.8v1h-28.8zM331.2 1105h28.8v1h-28.8zM331.2 1115h28.8v1h-28.8zM331.2 1117h28.8v1h-28.8zM331.2 1121h28.8v2h-28.8zM331.2 1124h28.8v1h-28.8zM331.2 1128h28.8v1h-28.8zM331.2 1137h28.8v1h-28.8zM331.2 1139h28.8v1h-28.8zM331.2 1144h28.8v1h-28.8zM331.2 1151h28.8v2h-28.8zM331.2 1162h28.8v2h-28.8zM331.2 1168h28.8v1h-28.8zM331.2 1175h28.8v1h-28.8zM331.2 1178h28.8v2h-28.8zM331.2 1181h28.8v1h-28.8zM331.2 1188h28.8v2h-28.8zM331.2 1192h28.8v1h-28.8zM331.2 1201h28.8v1h-28.8zM331.2 1203h28.8v2h-28.8zM331.2 1207h28.8v1h-28.8zM331.2 1216h28.8v1h-28.8zM360 1048h29.1v1h-29.1zM360 1071h29.1v1h-29.1zM360 1086h29.1v1h-29.1zM360 1102h29.1v2h-29.1zM360 1114h29.1v2h-29.1zM360 1144h29.1v1h-29.1zM360 1146h29.1v1h-29.1zM360 1155h29.1v1h-29.1zM360 1160h29.1v1h-29.1zM360 1164h29.1v1h-29.1zM360 1168h29.1v1h-29.1zM360 1170h29.1v1h-29.1zM360 1180h29.1v1h-29.1zM360 1191h29.1v3h-29.1zM360 1212h29.1v1h-29.1zM389.1 1046h29v2h-29zM389.1 1080h29v1h-29zM389.1 1084h29v2h-29zM389.1 1090h29v1h-29zM389.1 1098h29v3h-29zM389.1 1113h29v2h-29zM389.1 1121h29v1h-29zM389.1 1124h29v1h-29zM389.1 1133h29v1h-29zM389.1 1141h29v2h-29zM389.1 1145h29v1h-29zM389.1 1154h29v1h-29zM389.1 1160h29v1h-29zM389.1 1168h29v2h-29zM389.1 1180h29v1h-29zM389.1 1199h29v2h-29zM447 884h29v1h-29zM447 920h29v1h-29zM447 922h29v1h-29zM447 924h29v1h-29zM447 926h29v1h-29zM447 928h29v1h-29zM447 982h29v1h-29zM447 986h29v1h-29zM447 992h29v1h-29zM447 1018h29v1h-29zM447 1026h29v1h-29zM504 1061h29.3v1h-29.3zM504 1066h29.3v1h-29.3zM504 1069h29.3v2h-29.3zM504 1086h29.3v2h-29.3zM504 1093h29.3v1h-29.3zM504 1110h29.3v1h-29.3zM504 1126h29.3v1h-29.3zM504 1133h29.3v2h-29.3zM504 1146h29.3v1h-29.3zM504 1154h29.3v2h-29.3zM504 1166h29.3v3h-29.3zM504 1170h29.3v1h-29.3zM504 1181h29.3v1h-29.3zM504 1199h29.3v1h-29.3zM504 1210h29.3v1h-29.3zM562.3 1075h29.5v1h-29.5zM562.3 1162h29.5v1h-29.5zM562.3 1166h29.5v1h-29.5zM562.3 1168h29.5v1h-29.5zM562.3 1180h29.5v1h-29.5zM562.3 1182h29.5v2h-29.5zM562.3 1195h29.5v1h-29.5zM562.3 1199h29.5v1h-29.5zM562.3 1201h29.5v1h-29.5zM562.3 1210h29.5v1h-29.5z"/>
<path fill="#ee5950" d="M331.2 885h28.8v1h-28.8zM331.2 888h28.8v1h-28.8zM331.2 897h28.8v3h-28.8zM360 883h29.1v1h-29.1zM360 926h29.1v1h-29.1zM360 1033h29.1v1h-29.1z"/>
<path fill="#f37e74" d="M331.2 886h28.8v2h-28.8zM331.2 896h28.8v1h-28.8zM331.2 908h28.8v2h-28.8zM331.2 916h28.8v1h-28.8zM331.2 925h28.8v2h-28.8zM331.2 929h28.8v3h-28.8zM331.2 945h28.8v1h-28.8zM331.2 947h28.8v1h-28.8zM331.2 960h28.8v1h-28.8zM331.2 966h28.8v1h-28.8zM331.2 973h28.8v1h-28.8zM331.2 991h28.8v1h-28.8zM331.2 994h28.8v2h-28.8zM331.2 1005h28.8v1h-28.8zM331.2 1012h28.8v2h-28.8zM331.2 1015h28.8v1h-28.8zM331.2 1023h28.8v1h-28.8zM331.2 1029h28.8v2h-28.8zM331.2 1033h28.8v1h-28.8zM360 879h29.1v2h-29.1zM360 912h29.1v1h-29.1zM360 915h29.1v1h-29.1zM360 920h29.1v2h-29.1zM360 1029h29.1v2h-29.1zM360 1035h29.1v2h-29.1zM389.1 900h29v1h-29zM389.1 980h29v1h-29zM504 943h29.3v1h-29.3zM562.3 942h29.5v2h-29.5zM562.3 948h29.5v1h-29.5z"/>
<path fill="#ed4e44" d="M331.2 889h28.8v1h-28.8zM331.2 900h28.8v2h-28.8z"/>
<path fill="#f0655b" d="M331.2 981h28.8v1h-28.8zM331.2 992h28.8v1h-28.8zM331.2 1032h28.8v1h-28.8zM360 884h29.1v1h-29.1zM360 913h29.1v1h-29.1zM360 1031h29.1v1h-29.1zM389.1 1032h29v2h-29zM504 942h29.3v1h-29.3z"/>
<path fill="#7c8bc7" d="M331.2 1047h28.8v1h-28.8zM331.2 1053h28.8v1h-28.8zM331.2 1059h28.8v1h-28.8zM331.2 1071h28.8v1h-28.8zM331.2 1129h28.8v1h-28.8zM331.2 1133h28.8v1h-28.8zM331.2 1136h28.8v1h-28.8zM331.2 1138h28.8v1h-28.8zM331.2 1140h28.8v3h-28.8zM331.2 1154h28.8v1h-28.8zM331.2 1160h28.8v1h-28.8zM331.2 1198h28.8v1h-28.8zM331.2 1213h28.8v1h-28.8zM360 1137h29.1v1h-29.1zM360 1161h29.1v1h-29.1zM389.1 1134h29v1h-29zM447 885h29v1h-29zM447 993h29v1h-29zM504 1078h29.3v2h-29.3zM504 1145h29.3v1h-29.3zM504 1192h29.3v1h-29.3zM562.3 1078h29.5v1h-29.5zM562.3 1155h29.5v1h-29.5zM562.3 1209h29.5v1h-29.5z"/>
<path fill="#6678bc" d="M331.2 1055h28.8v3h-28.8z"/>
<path fill="#5c6fb6" d="M331.2 1058h28.8v1h-28.8z"/>
<path fill="#7182c2" d="M331.2 1134h28.8v2h-28.8zM360 1154h29.1v1h-29.1zM360 1162h29.1v2h-29.1zM360 1165h29.1v1h-29.1zM447 927h29v1h-29zM447 933h29v1h-29zM562.3 1154h29.5v1h-29.5z"/>
<path fill="#ea362d" d="M360 1032h29.1v1h-29.1z"/>
</g>
</g>
<g class="icon">
<g transform="translate(-61 689.8)"><g>
<ellipse cx="153.55" cy="135.11" rx="27" ry="24" fill="#ec9a46"/>
<ellipse cx="180.49" cy="131.68" rx="17" ry="20" fill="#ec9a46"/>
<ellipse cx="142.09" cy="151.16" rx="20" ry="12" fill="#ec9a46"/>
<ellipse cx="167.31" cy="119.07" rx="18" ry="10" fill="#ec9a46"/>
<circle cx="134.64" cy="123.65" r="8.2" fill="#eb9640" stroke="#e08a34" stroke-width="0.8"/>
<circle cx="134.64" cy="123.65" r="6.6" fill="url(#bg)"/>
<circle cx="147.54" cy="111.62" r="8.2" fill="#eb9640" stroke="#e08a34" stroke-width="0.8"/>
<circle cx="147.54" cy="111.62" r="6.6" fill="url(#bg)"/>
<circle cx="189.08" cy="116.2" r="7.6" fill="#eb9640" stroke="#e08a34" stroke-width="0.8"/>
<circle cx="189.08" cy="116.2" r="6" fill="url(#bg)"/>
<circle cx="129.48" cy="137.41" r="9.4" fill="#eb9640" stroke="#e08a34" stroke-width="0.8"/>
<circle cx="129.48" cy="137.41" r="7.8" fill="url(#bg)"/>
<circle cx="125.47" cy="150.59" r="3.8" fill="#eb9640" stroke="#e08a34" stroke-width="0.8"/>
<circle cx="125.47" cy="150.59" r="2.8" fill="url(#bg)"/>
<circle cx="135.21" cy="157.46" r="8.4" fill="#eb9640" stroke="#e08a34" stroke-width="0.8"/>
<circle cx="135.21" cy="157.46" r="6.8" fill="url(#bg)"/>
<circle cx="147.54" cy="159.18" r="6" fill="#eb9640" stroke="#e08a34" stroke-width="0.8"/>
<circle cx="147.54" cy="159.18" r="4.6" fill="url(#bg)"/>
<circle cx="145.53" cy="148.3" r="7.2" fill="#eb9640" stroke="#e08a34" stroke-width="0.8"/>
<circle cx="145.53" cy="148.3" r="5.8" fill="url(#bg)"/>
<circle cx="170.74" cy="142.56" r="4.8" fill="#eb9640" stroke="#e08a34" stroke-width="0.8"/>
<circle cx="170.74" cy="142.56" r="3.6" fill="url(#bg)"/>
<circle cx="160.72" cy="114.48" r="6" fill="#eb9640" stroke="#e08a34" stroke-width="0.8"/>
<circle cx="160.72" cy="114.48" r="4.7" fill="url(#bg)"/>
<circle cx="176.19" cy="114.77" r="6.1" fill="#eb9640" stroke="#e08a34" stroke-width="0.8"/>
<circle cx="176.19" cy="114.77" r="4.8" fill="url(#bg)"/>
<circle cx="193.38" cy="137.12" r="6.1" fill="#eb9640" stroke="#e08a34" stroke-width="0.8"/>
<circle cx="193.38" cy="137.12" r="4.8" fill="url(#bg)"/>
<circle cx="179.91" cy="127.66" r="10.1" fill="#eb9640" stroke="#e08a34" stroke-width="0.8"/>
<circle cx="179.91" cy="127.66" r="8.3" fill="url(#bg)"/>
<circle cx="184.5" cy="146.58" r="10" fill="#eb9640" stroke="#e08a34" stroke-width="0.8"/>
<circle cx="184.5" cy="146.58" r="8.2" fill="url(#bg)"/>
<circle cx="166.45" cy="156.89" r="10" fill="#eb9640" stroke="#e08a34" stroke-width="0.8"/>
<circle cx="166.45" cy="156.89" r="8.2" fill="url(#bg)"/>
<circle cx="155.27" cy="131.68" r="14.9" fill="#eb9640" stroke="#e08a34" stroke-width="0.8"/>
<circle cx="155.27" cy="131.68" r="12.3" fill="url(#bg)"/>
<ellipse cx="156.13" cy="135.8" rx="8.2" ry="3.7" fill="#5a2024" transform="rotate(-4 156.13 135.8)"/>
<ellipse cx="155.27" cy="125.37" rx="5.4" ry="2.5" fill="#5a2024" transform="rotate(52 155.27 125.37)"/>
<ellipse cx="147.82" cy="129.38" rx="2.8" ry="0.9" fill="#5a2024" transform="rotate(10 147.82 129.38)"/>
<ellipse cx="161.58" cy="129.27" rx="1.7" ry="1.5" fill="#5a2024" transform="rotate(0 161.58 129.27)"/>
<ellipse cx="147.25" cy="111.62" rx="5.2" ry="2.5" fill="#5a2024" transform="rotate(-22 147.25 111.62)"/>
<ellipse cx="135.5" cy="123.94" rx="4.6" ry="2.1" fill="#5a2024" transform="rotate(-35 135.5 123.94)"/>
<ellipse cx="159.86" cy="113.91" rx="3.2" ry="1.5" fill="#5a2024" transform="rotate(35 159.86 113.91)"/>
<ellipse cx="161.86" cy="116.09" rx="3" ry="1.3" fill="#5a2024" transform="rotate(-30 161.86 116.09)"/>
<ellipse cx="175.9" cy="113.91" rx="3.4" ry="2.4" fill="#5a2024" transform="rotate(60 175.9 113.91)"/>
<ellipse cx="178.19" cy="117.06" rx="2.6" ry="1.3" fill="#5a2024" transform="rotate(-20 178.19 117.06)"/>
<ellipse cx="188.51" cy="116.49" rx="4.4" ry="1.5" fill="#5a2024" transform="rotate(35 188.51 116.49)"/>
<ellipse cx="177.62" cy="125.95" rx="5.8" ry="3.6" fill="#5a2024" transform="rotate(-10 177.62 125.95)"/>
<ellipse cx="179.63" cy="132.54" rx="4" ry="1.7" fill="#5a2024" transform="rotate(50 179.63 132.54)"/>
<ellipse cx="185.07" cy="129.67" rx="2.6" ry="1" fill="#5a2024" transform="rotate(0 185.07 129.67)"/>
<ellipse cx="128.62" cy="134.83" rx="5.2" ry="2.8" fill="#5a2024" transform="rotate(-20 128.62 134.83)"/>
<ellipse cx="132.64" cy="140.85" rx="4.2" ry="1.9" fill="#5a2024" transform="rotate(45 132.64 140.85)"/>
<ellipse cx="135.79" cy="136.83" rx="2.2" ry="0.8" fill="#5a2024" transform="rotate(-10 135.79 136.83)"/>
<ellipse cx="181.92" cy="143.14" rx="5.4" ry="2.8" fill="#5a2024" transform="rotate(-25 181.92 143.14)"/>
<ellipse cx="186.22" cy="149.44" rx="4.2" ry="2" fill="#5a2024" transform="rotate(55 186.22 149.44)"/>
<ellipse cx="189.08" cy="144.86" rx="2" ry="0.8" fill="#5a2024" transform="rotate(0 189.08 144.86)"/>
<ellipse cx="163.87" cy="152.88" rx="5.2" ry="2.9" fill="#5a2024" transform="rotate(-25 163.87 152.88)"/>
<ellipse cx="167.31" cy="158.61" rx="4" ry="1.9" fill="#5a2024" transform="rotate(50 167.31 158.61)"/>
<ellipse cx="170.74" cy="154.6" rx="2.2" ry="0.8" fill="#5a2024" transform="rotate(-10 170.74 154.6)"/>
<ellipse cx="134.64" cy="155.74" rx="3.8" ry="1.9" fill="#5a2024" transform="rotate(50 134.64 155.74)"/>
<ellipse cx="138.08" cy="159.18" rx="3.4" ry="1.7" fill="#5a2024" transform="rotate(50 138.08 159.18)"/>
<ellipse cx="147.82" cy="158.61" rx="3.8" ry="1.7" fill="#5a2024" transform="rotate(-35 147.82 158.61)"/>
<ellipse cx="147.25" cy="160.33" rx="2.4" ry="1.1" fill="#5a2024" transform="rotate(55 147.25 160.33)"/>
<ellipse cx="148.11" cy="148.58" rx="5.6" ry="1.7" fill="#5a2024" transform="rotate(30 148.11 148.58)"/>
<ellipse cx="143.24" cy="146.58" rx="1.8" ry="0.9" fill="#5a2024" transform="rotate(-45 143.24 146.58)"/>
<ellipse cx="192.52" cy="137.41" rx="3.5" ry="2.6" fill="#5a2024" transform="rotate(40 192.52 137.41)"/>
<ellipse cx="170.74" cy="141.42" rx="2.8" ry="1" fill="#5a2024" transform="rotate(-40 170.74 141.42)"/>
<ellipse cx="169.6" cy="144.28" rx="2.8" ry="1" fill="#5a2024" transform="rotate(20 169.6 144.28)"/>
<ellipse cx="168.45" cy="117.35" rx="3.4" ry="1" fill="#5a2024" transform="rotate(50 168.45 117.35)"/>
<ellipse cx="125.47" cy="150.59" rx="2.2" ry="0.9" fill="#5a2024" transform="rotate(-50 125.47 150.59)"/>
</g></g>
</g>
<g class="colorbar">
<rect x="144.4" y="915.4" width="25.6" height="268.6" fill="url(#cbg)"/>
<line x1="177.7" y1="914.6" x2="177.7" y2="1182.4" stroke="#000" stroke-width="2.9"/>
<line x1="177.7" y1="916" x2="185.2" y2="916" stroke="#000" stroke-width="2.8"/>
<line x1="177.7" y1="982.5" x2="185.2" y2="982.5" stroke="#000" stroke-width="2.8"/>
<line x1="177.7" y1="1049" x2="185.2" y2="1049" stroke="#000" stroke-width="2.8"/>
<line x1="177.7" y1="1115" x2="185.2" y2="1115" stroke="#000" stroke-width="2.8"/>
<line x1="177.7" y1="1181" x2="185.2" y2="1181" stroke="#000" stroke-width="2.8"/>
<text x="198.8" y="928.6" font-size="34">4</text>
<text x="198.8" y="1060" font-size="34">0</text>
<text x="187.7" y="1191.6" font-size="34" textLength="36.5" lengthAdjust="spacing">−4</text>
<text x="128.4" y="1190" font-size="32" font-weight="bold" transform="rotate(-90 128.4 1190)" textLength="278.5" lengthAdjust="spacing" stroke="#000" stroke-width="0.4">Abundance [A.U.]</text>
</g>
<g class="groups">
<line x1="247.8" y1="1225.5" x2="320.8" y2="1225.5" stroke="#000" stroke-width="3"/>
<line x1="336.3" y1="1225.5" x2="408.8" y2="1225.5" stroke="#000" stroke-width="3"/>
<line x1="423.2" y1="1225.5" x2="495.8" y2="1225.5" stroke="#000" stroke-width="3"/>
<line x1="511" y1="1225.5" x2="583.7" y2="1225.5" stroke="#000" stroke-width="3"/>
<text x="302.6" y="1248.3" font-size="42" text-anchor="end" transform="rotate(-45 302.6 1248.3)">AL</text>
<text x="394.2" y="1248.8" font-size="42" text-anchor="end" transform="rotate(-45 394.2 1248.8)">DR</text>
<text x="477.5" y="1248.3" font-size="42" text-anchor="end" transform="rotate(-45 477.5 1248.3)">AL (5m)</text>
<text x="573.6" y="1248.3" font-size="42" text-anchor="end" transform="rotate(-45 573.6 1248.3)">ALDR (5m)</text>
</g>
<g class="title">
<text x="152.4" y="841.7" font-size="42" font-weight="bold" textLength="512.5" lengthAdjust="spacing" stroke="#000" stroke-width="0.5">ALDR switch-resistant genes</text>
</g>
<g class="panel-label">
<text x="-3.2" y="789.7" font-size="53" font-weight="bold">c</text>
</g>
</g>
<g id="panel-d" aria-label="Panel d: white adipose tissue heatmap">
<g class="heatmap">
<g shape-rendering="crispEdges">
<path fill="#9496d1" d="M1257.12 872h29.68v1h-29.68zM1257.12 889h29.68v1h-29.68zM1257.12 891h29.68v1h-29.68zM1316.07 1018h28.01v1h-28.01zM1344.08 1057h29.89v2h-29.89zM1344.08 1060h29.89v1h-29.89zM1344.08 1065h29.89v2h-29.89zM1344.08 1076h29.89v2h-29.89zM1344.08 1080h29.89v1h-29.89zM1344.08 1093h29.89v2h-29.89zM1344.08 1102h29.89v3h-29.89zM1344.08 1113h29.89v1h-29.89zM1344.08 1123h29.89v1h-29.89zM1344.08 1127h29.89v1h-29.89zM1344.08 1135h29.89v1h-29.89zM1344.08 1145h29.89v1h-29.89zM1344.08 1148h29.89v1h-29.89zM1344.08 1152h29.89v1h-29.89zM1344.08 1160h29.89v1h-29.89zM1344.08 1167h29.89v1h-29.89zM1344.08 1177h29.89v1h-29.89zM1344.08 1183h29.89v1h-29.89zM1344.08 1203h29.89v1h-29.89zM1344.08 1210h29.89v2h-29.89zM1373.97 1060h29.06v1h-29.06zM1373.97 1075h29.06v1h-29.06zM1373.97 1097h29.06v1h-29.06zM1373.97 1112h29.06v2h-29.06zM1373.97 1135h29.06v1h-29.06zM1373.97 1149h29.06v1h-29.06zM1373.97 1154h29.06v1h-29.06zM1373.97 1166h29.06v1h-29.06zM1373.97 1192h29.06v1h-29.06zM1373.97 1205h29.06v1h-29.06zM1403.03 1153h26.13v1h-26.13zM1403.03 1177h26.13v1h-26.13zM1403.03 1210h26.13v2h-26.13zM1516.11 1060h28.85v1h-28.85zM1516.11 1073h28.85v1h-28.85zM1516.11 1118h28.85v1h-28.85zM1544.96 1051h29.26v1h-29.26zM1544.96 1055h29.26v1h-29.26zM1544.96 1058h29.26v1h-29.26zM1544.96 1062h29.26v3h-29.26zM1544.96 1068h29.26v1h-29.26zM1544.96 1072h29.26v3h-29.26zM1544.96 1098h29.26v2h-29.26zM1544.96 1147h29.26v1h-29.26zM1544.96 1175h29.26v2h-29.26zM1544.96 1186h29.26v3h-29.26zM1574.22 1078h25.08v1h-25.08z"/>
<path fill="#9ea0d6" d="M1257.12 873h29.68v5h-29.68zM1257.12 890h29.68v1h-29.68zM1257.12 892h29.68v1h-29.68zM1257.12 917h29.68v1h-29.68zM1257.12 922h29.68v1h-29.68zM1257.12 1027h29.68v1h-29.68zM1316.07 875h28.01v2h-28.01zM1316.07 930h28.01v1h-28.01zM1316.07 1016h28.01v1h-28.01zM1344.08 1052h29.89v2h-29.89zM1344.08 1059h29.89v1h-29.89zM1344.08 1070h29.89v2h-29.89zM1344.08 1075h29.89v1h-29.89zM1344.08 1078h29.89v2h-29.89zM1344.08 1085h29.89v1h-29.89zM1344.08 1088h29.89v1h-29.89zM1344.08 1096h29.89v1h-29.89zM1344.08 1101h29.89v1h-29.89zM1344.08 1108h29.89v1h-29.89zM1344.08 1112h29.89v1h-29.89zM1344.08 1117h29.89v1h-29.89zM1344.08 1126h29.89v1h-29.89zM1344.08 1128h29.89v2h-29.89zM1344.08 1136h29.89v1h-29.89zM1344.08 1150h29.89v1h-29.89zM1344.08 1169h29.89v1h-29.89zM1344.08 1176h29.89v1h-29.89zM1344.08 1178h29.89v1h-29.89zM1344.08 1180h29.89v3h-29.89zM1344.08 1191h29.89v5h-29.89zM1344.08 1197h29.89v1h-29.89zM1344.08 1202h29.89v1h-29.89zM1344.08 1204h29.89v2h-29.89zM1344.08 1212h29.89v1h-29.89zM1344.08 1216h29.89v1h-29.89zM1373.97 1053h29.06v1h-29.06zM1373.97 1059h29.06v1h-29.06zM1373.97 1061h29.06v1h-29.06zM1373.97 1083h29.06v4h-29.06zM1373.97 1096h29.06v1h-29.06zM1373.97 1110h29.06v2h-29.06zM1373.97 1119h29.06v3h-29.06zM1373.97 1136h29.06v1h-29.06zM1373.97 1138h29.06v2h-29.06zM1373.97 1152h29.06v1h-29.06zM1373.97 1159h29.06v1h-29.06zM1373.97 1164h29.06v1h-29.06zM1373.97 1170h29.06v2h-29.06zM1373.97 1174h29.06v1h-29.06zM1373.97 1182h29.06v2h-29.06zM1373.97 1193h29.06v1h-29.06zM1373.97 1197h29.06v1h-29.06zM1373.97 1199h29.06v1h-29.06zM1373.97 1201h29.06v1h-29.06zM1373.97 1207h29.06v1h-29.06zM1373.97 1211h29.06v1h-29.06zM1373.97 1216h29.06v1h-29.06zM1403.03 1080h26.13v1h-26.13zM1403.03 1092h26.13v1h-26.13zM1403.03 1110h26.13v1h-26.13zM1403.03 1159h26.13v1h-26.13zM1403.03 1164h26.13v2h-26.13zM1403.03 1178h26.13v1h-26.13zM1403.03 1180h26.13v1h-26.13zM1403.03 1186h26.13v3h-26.13zM1403.03 1201h26.13v1h-26.13zM1403.03 1212h26.13v1h-26.13zM1457.79 902h29.68v1h-29.68zM1516.11 1051h28.85v1h-28.85zM1516.11 1053h28.85v1h-28.85zM1516.11 1055h28.85v1h-28.85zM1516.11 1063h28.85v1h-28.85zM1516.11 1065h28.85v1h-28.85zM1516.11 1068h28.85v1h-28.85zM1516.11 1076h28.85v3h-28.85zM1516.11 1083h28.85v1h-28.85zM1516.11 1098h28.85v1h-28.85zM1516.11 1108h28.85v1h-28.85zM1516.11 1110h28.85v1h-28.85zM1516.11 1117h28.85v1h-28.85zM1544.96 1053h29.26v1h-29.26zM1544.96 1056h29.26v2h-29.26zM1544.96 1065h29.26v1h-29.26zM1544.96 1067h29.26v1h-29.26zM1544.96 1077h29.26v2h-29.26zM1544.96 1129h29.26v1h-29.26zM1544.96 1135h29.26v1h-29.26zM1544.96 1146h29.26v1h-29.26zM1544.96 1156h29.26v1h-29.26zM1544.96 1164h29.26v1h-29.26zM1544.96 1177h29.26v1h-29.26zM1544.96 1179h29.26v2h-29.26zM1544.96 1182h29.26v1h-29.26zM1544.96 1193h29.26v2h-29.26zM1544.96 1204h29.26v1h-29.26zM1544.96 1212h29.26v1h-29.26zM1574.22 1051h25.08v1h-25.08z"/>
<path fill="#cccdea" d="M1257.12 878h29.68v2h-29.68zM1257.12 885h29.68v1h-29.68zM1257.12 898h29.68v1h-29.68zM1257.12 931h29.68v1h-29.68zM1257.12 938h29.68v1h-29.68zM1257.12 941h29.68v1h-29.68zM1257.12 950h29.68v1h-29.68zM1257.12 963h29.68v1h-29.68zM1257.12 982h29.68v1h-29.68zM1257.12 985h29.68v1h-29.68zM1257.12 991h29.68v1h-29.68zM1257.12 994h29.68v3h-29.68zM1257.12 1011h29.68v1h-29.68zM1257.12 1019h29.68v1h-29.68zM1257.12 1039h29.68v1h-29.68zM1257.12 1042h29.68v1h-29.68zM1257.12 1172h29.68v1h-29.68zM1286.81 872h29.26v2h-29.26zM1286.81 890h29.26v1h-29.26zM1286.81 892h29.26v1h-29.26zM1286.81 896h29.26v1h-29.26zM1286.81 904h29.26v4h-29.26zM1286.81 919h29.26v1h-29.26zM1286.81 922h29.26v1h-29.26zM1286.81 928h29.26v3h-29.26zM1286.81 950h29.26v2h-29.26zM1286.81 953h29.26v1h-29.26zM1286.81 983h29.26v1h-29.26zM1286.81 986h29.26v3h-29.26zM1286.81 990h29.26v1h-29.26zM1286.81 995h29.26v1h-29.26zM1286.81 1009h29.26v1h-29.26zM1286.81 1027h29.26v1h-29.26zM1316.07 873h28.01v2h-28.01zM1316.07 882h28.01v2h-28.01zM1316.07 888h28.01v1h-28.01zM1316.07 890h28.01v2h-28.01zM1316.07 895h28.01v3h-28.01zM1316.07 907h28.01v1h-28.01zM1316.07 919h28.01v2h-28.01zM1316.07 929h28.01v1h-28.01zM1316.07 936h28.01v2h-28.01zM1316.07 942h28.01v1h-28.01zM1316.07 950h28.01v2h-28.01zM1316.07 960h28.01v1h-28.01zM1316.07 981h28.01v1h-28.01zM1316.07 985h28.01v1h-28.01zM1316.07 993h28.01v1h-28.01zM1316.07 999h28.01v1h-28.01zM1316.07 1004h28.01v1h-28.01zM1316.07 1007h28.01v1h-28.01zM1316.07 1010h28.01v1h-28.01zM1316.07 1013h28.01v1h-28.01zM1316.07 1019h28.01v3h-28.01zM1316.07 1025h28.01v1h-28.01zM1316.07 1032h28.01v3h-28.01zM1316.07 1036h28.01v1h-28.01zM1344.08 1054h29.89v1h-29.89zM1344.08 1162h29.89v1h-29.89zM1373.97 1052h29.06v1h-29.06zM1373.97 1067h29.06v1h-29.06zM1373.97 1078h29.06v1h-29.06zM1373.97 1081h29.06v2h-29.06zM1373.97 1090h29.06v1h-29.06zM1373.97 1141h29.06v1h-29.06zM1373.97 1145h29.06v2h-29.06zM1373.97 1161h29.06v1h-29.06zM1373.97 1187h29.06v2h-29.06zM1373.97 1195h29.06v2h-29.06zM1373.97 1198h29.06v1h-29.06zM1403.03 1051h26.13v1h-26.13zM1403.03 1061h26.13v1h-26.13zM1403.03 1063h26.13v2h-26.13zM1403.03 1066h26.13v3h-26.13zM1403.03 1076h26.13v2h-26.13zM1403.03 1079h26.13v1h-26.13zM1403.03 1082h26.13v1h-26.13zM1403.03 1109h26.13v1h-26.13zM1403.03 1114h26.13v1h-26.13zM1403.03 1116h26.13v2h-26.13zM1403.03 1119h26.13v2h-26.13zM1403.03 1125h26.13v1h-26.13zM1403.03 1141h26.13v1h-26.13zM1403.03 1155h26.13v2h-26.13zM1403.03 1167h26.13v1h-26.13zM1403.03 1170h26.13v1h-26.13zM1403.03 1175h26.13v1h-26.13zM1403.03 1184h26.13v1h-26.13zM1403.03 1192h26.13v1h-26.13zM1403.03 1196h26.13v1h-26.13zM1403.03 1202h26.13v3h-26.13zM1429.16 901h28.64v2h-28.64zM1429.16 917h28.64v1h-28.64zM1429.16 928h28.64v2h-28.64zM1429.16 935h28.64v1h-28.64zM1429.16 941h28.64v2h-28.64zM1429.16 950h28.64v1h-28.64zM1429.16 983h28.64v1h-28.64zM1429.16 988h28.64v2h-28.64zM1429.16 994h28.64v2h-28.64zM1429.16 999h28.64v1h-28.64zM1429.16 1008h28.64v1h-28.64zM1429.16 1014h28.64v1h-28.64zM1429.16 1016h28.64v1h-28.64zM1429.16 1024h28.64v1h-28.64zM1429.16 1026h28.64v1h-28.64zM1429.16 1031h28.64v1h-28.64zM1429.16 1034h28.64v1h-28.64zM1457.79 887h29.68v1h-29.68zM1457.79 899h29.68v2h-29.68zM1457.79 912h29.68v1h-29.68zM1457.79 918h29.68v1h-29.68zM1457.79 920h29.68v2h-29.68zM1457.79 931h29.68v2h-29.68zM1457.79 949h29.68v3h-29.68zM1457.79 954h29.68v1h-29.68zM1457.79 993h29.68v2h-29.68zM1457.79 1010h29.68v1h-29.68zM1457.79 1036h29.68v3h-29.68zM1457.79 1060h29.68v1h-29.68zM1487.47 989h28.64v1h-28.64zM1487.47 1016h28.64v2h-28.64zM1487.47 1023h28.64v2h-28.64zM1487.47 1048h28.64v1h-28.64zM1516.11 1080h28.85v1h-28.85zM1516.11 1084h28.85v2h-28.85zM1516.11 1088h28.85v1h-28.85zM1516.11 1093h28.85v1h-28.85zM1516.11 1106h28.85v1h-28.85zM1516.11 1114h28.85v1h-28.85zM1516.11 1123h28.85v1h-28.85zM1516.11 1125h28.85v1h-28.85zM1516.11 1132h28.85v2h-28.85zM1516.11 1135h28.85v1h-28.85zM1516.11 1144h28.85v1h-28.85zM1516.11 1147h28.85v1h-28.85zM1516.11 1149h28.85v1h-28.85zM1516.11 1151h28.85v3h-28.85zM1516.11 1163h28.85v1h-28.85zM1516.11 1165h28.85v1h-28.85zM1516.11 1167h28.85v1h-28.85zM1516.11 1174h28.85v2h-28.85zM1516.11 1182h28.85v5h-28.85zM1516.11 1191h28.85v2h-28.85zM1516.11 1202h28.85v1h-28.85zM1516.11 1209h28.85v2h-28.85zM1516.11 1214h28.85v2h-28.85zM1544.96 1080h29.26v2h-29.26zM1544.96 1097h29.26v1h-29.26zM1544.96 1106h29.26v1h-29.26zM1544.96 1123h29.26v1h-29.26zM1544.96 1125h29.26v1h-29.26zM1544.96 1133h29.26v1h-29.26zM1544.96 1145h29.26v1h-29.26zM1544.96 1160h29.26v2h-29.26zM1544.96 1189h29.26v1h-29.26zM1544.96 1192h29.26v1h-29.26zM1544.96 1209h29.26v1h-29.26zM1574.22 1054h25.08v1h-25.08zM1574.22 1056h25.08v1h-25.08zM1574.22 1075h25.08v1h-25.08zM1574.22 1083h25.08v2h-25.08zM1574.22 1091h25.08v1h-25.08zM1574.22 1096h25.08v1h-25.08zM1574.22 1098h25.08v1h-25.08zM1574.22 1100h25.08v1h-25.08zM1574.22 1104h25.08v2h-25.08zM1574.22 1113h25.08v1h-25.08zM1574.22 1121h25.08v1h-25.08zM1574.22 1124h25.08v1h-25.08zM1574.22 1128h25.08v1h-25.08zM1574.22 1142h25.08v2h-25.08zM1574.22 1158h25.08v1h-25.08zM1574.22 1160h25.08v1h-25.08zM1574.22 1162h25.08v1h-25.08zM1574.22 1164h25.08v1h-25.08zM1574.22 1166h25.08v1h-25.08zM1574.22 1173h25.08v2h-25.08zM1574.22 1177h25.08v1h-25.08zM1574.22 1179h25.08v3h-25.08zM1574.22 1183h25.08v1h-25.08zM1574.22 1189h25.08v1h-25.08zM1574.22 1201h25.08v2h-25.08zM1574.22 1208h25.08v1h-25.08zM1574.22 1213h25.08v1h-25.08z"/>
<path fill="#c0c2e5" d="M1257.12 880h29.68v1h-29.68zM1257.12 886h29.68v1h-29.68zM1257.12 897h29.68v1h-29.68zM1257.12 899h29.68v2h-29.68zM1257.12 903h29.68v6h-29.68zM1257.12 910h29.68v2h-29.68zM1257.12 913h29.68v1h-29.68zM1257.12 930h29.68v1h-29.68zM1257.12 934h29.68v2h-29.68zM1257.12 939h29.68v1h-29.68zM1257.12 944h29.68v3h-29.68zM1257.12 949h29.68v1h-29.68zM1257.12 953h29.68v3h-29.68zM1257.12 962h29.68v1h-29.68zM1257.12 986h29.68v1h-29.68zM1257.12 998h29.68v1h-29.68zM1257.12 1008h29.68v1h-29.68zM1257.12 1010h29.68v1h-29.68zM1257.12 1016h29.68v1h-29.68zM1257.12 1020h29.68v2h-29.68zM1257.12 1029h29.68v1h-29.68zM1257.12 1033h29.68v1h-29.68zM1257.12 1173h29.68v1h-29.68zM1286.81 891h29.26v1h-29.26zM1286.81 918h29.26v1h-29.26zM1286.81 979h29.26v2h-29.26zM1286.81 1004h29.26v1h-29.26zM1286.81 1010h29.26v1h-29.26zM1316.07 884h28.01v1h-28.01zM1316.07 894h28.01v1h-28.01zM1316.07 898h28.01v2h-28.01zM1316.07 902h28.01v2h-28.01zM1316.07 908h28.01v1h-28.01zM1316.07 917h28.01v2h-28.01zM1316.07 925h28.01v1h-28.01zM1316.07 928h28.01v1h-28.01zM1316.07 941h28.01v1h-28.01zM1316.07 945h28.01v2h-28.01zM1316.07 948h28.01v1h-28.01zM1316.07 952h28.01v1h-28.01zM1316.07 959h28.01v1h-28.01zM1316.07 961h28.01v2h-28.01zM1316.07 983h28.01v1h-28.01zM1316.07 986h28.01v3h-28.01zM1316.07 994h28.01v1h-28.01zM1316.07 996h28.01v1h-28.01zM1316.07 1015h28.01v1h-28.01zM1316.07 1024h28.01v1h-28.01zM1316.07 1027h28.01v1h-28.01zM1316.07 1037h28.01v2h-28.01zM1344.08 1055h29.89v2h-29.89zM1344.08 1074h29.89v1h-29.89zM1344.08 1098h29.89v1h-29.89zM1344.08 1100h29.89v1h-29.89zM1344.08 1106h29.89v1h-29.89zM1344.08 1115h29.89v2h-29.89zM1344.08 1119h29.89v1h-29.89zM1344.08 1133h29.89v1h-29.89zM1344.08 1142h29.89v1h-29.89zM1344.08 1147h29.89v1h-29.89zM1344.08 1158h29.89v1h-29.89zM1344.08 1173h29.89v2h-29.89zM1344.08 1198h29.89v1h-29.89zM1344.08 1207h29.89v1h-29.89zM1373.97 1066h29.06v1h-29.06zM1373.97 1069h29.06v1h-29.06zM1373.97 1077h29.06v1h-29.06zM1373.97 1079h29.06v1h-29.06zM1373.97 1093h29.06v1h-29.06zM1373.97 1106h29.06v2h-29.06zM1373.97 1114h29.06v2h-29.06zM1373.97 1118h29.06v1h-29.06zM1373.97 1122h29.06v3h-29.06zM1373.97 1153h29.06v1h-29.06zM1373.97 1156h29.06v1h-29.06zM1373.97 1158h29.06v1h-29.06zM1373.97 1175h29.06v1h-29.06zM1373.97 1180h29.06v1h-29.06zM1373.97 1189h29.06v2h-29.06zM1373.97 1203h29.06v1h-29.06zM1373.97 1206h29.06v1h-29.06zM1373.97 1208h29.06v2h-29.06zM1403.03 1059h26.13v1h-26.13zM1403.03 1065h26.13v1h-26.13zM1403.03 1069h26.13v1h-26.13zM1403.03 1093h26.13v2h-26.13zM1403.03 1097h26.13v3h-26.13zM1403.03 1106h26.13v3h-26.13zM1403.03 1112h26.13v2h-26.13zM1403.03 1115h26.13v1h-26.13zM1403.03 1118h26.13v1h-26.13zM1403.03 1126h26.13v2h-26.13zM1403.03 1129h26.13v1h-26.13zM1403.03 1133h26.13v1h-26.13zM1403.03 1139h26.13v2h-26.13zM1403.03 1142h26.13v1h-26.13zM1403.03 1150h26.13v1h-26.13zM1403.03 1154h26.13v1h-26.13zM1403.03 1157h26.13v1h-26.13zM1403.03 1160h26.13v3h-26.13zM1403.03 1172h26.13v1h-26.13zM1403.03 1174h26.13v1h-26.13zM1403.03 1181h26.13v3h-26.13zM1403.03 1194h26.13v2h-26.13zM1403.03 1208h26.13v1h-26.13zM1403.03 1214h26.13v1h-26.13zM1429.16 926h28.64v1h-28.64zM1429.16 951h28.64v2h-28.64zM1429.16 981h28.64v2h-28.64zM1429.16 986h28.64v1h-28.64zM1429.16 1013h28.64v1h-28.64zM1429.16 1015h28.64v1h-28.64zM1429.16 1030h28.64v1h-28.64zM1429.16 1040h28.64v1h-28.64zM1429.16 1042h28.64v1h-28.64zM1429.16 1049h28.64v1h-28.64zM1457.79 872h29.68v2h-29.68zM1457.79 876h29.68v1h-29.68zM1457.79 895h29.68v1h-29.68zM1457.79 897h29.68v2h-29.68zM1457.79 929h29.68v2h-29.68zM1457.79 1007h29.68v1h-29.68zM1457.79 1009h29.68v1h-29.68zM1457.79 1017h29.68v1h-29.68zM1487.47 1050h28.64v1h-28.64zM1516.11 1054h28.85v1h-28.85zM1516.11 1066h28.85v2h-28.85zM1516.11 1071h28.85v1h-28.85zM1516.11 1087h28.85v1h-28.85zM1516.11 1089h28.85v1h-28.85zM1516.11 1091h28.85v2h-28.85zM1516.11 1103h28.85v1h-28.85zM1516.11 1115h28.85v2h-28.85zM1516.11 1120h28.85v1h-28.85zM1516.11 1122h28.85v1h-28.85zM1516.11 1124h28.85v1h-28.85zM1516.11 1127h28.85v1h-28.85zM1516.11 1129h28.85v1h-28.85zM1516.11 1136h28.85v3h-28.85zM1516.11 1140h28.85v1h-28.85zM1516.11 1148h28.85v1h-28.85zM1516.11 1154h28.85v3h-28.85zM1516.11 1158h28.85v2h-28.85zM1516.11 1166h28.85v1h-28.85zM1516.11 1168h28.85v2h-28.85zM1516.11 1171h28.85v1h-28.85zM1516.11 1176h28.85v4h-28.85zM1516.11 1189h28.85v1h-28.85zM1516.11 1193h28.85v1h-28.85zM1516.11 1203h28.85v1h-28.85zM1516.11 1208h28.85v1h-28.85zM1516.11 1212h28.85v1h-28.85zM1544.96 1060h29.26v1h-29.26zM1544.96 1082h29.26v1h-29.26zM1544.96 1092h29.26v1h-29.26zM1544.96 1095h29.26v2h-29.26zM1544.96 1102h29.26v1h-29.26zM1544.96 1105h29.26v1h-29.26zM1544.96 1107h29.26v1h-29.26zM1544.96 1112h29.26v1h-29.26zM1544.96 1118h29.26v1h-29.26zM1544.96 1126h29.26v1h-29.26zM1544.96 1131h29.26v1h-29.26zM1544.96 1141h29.26v1h-29.26zM1544.96 1143h29.26v1h-29.26zM1544.96 1149h29.26v1h-29.26zM1544.96 1159h29.26v1h-29.26zM1544.96 1166h29.26v1h-29.26zM1544.96 1168h29.26v1h-29.26zM1544.96 1170h29.26v1h-29.26zM1544.96 1173h29.26v1h-29.26zM1544.96 1201h29.26v1h-29.26zM1544.96 1210h29.26v2h-29.26zM1574.22 1058h25.08v1h-25.08zM1574.22 1066h25.08v1h-25.08zM1574.22 1069h25.08v1h-25.08zM1574.22 1072h25.08v2h-25.08zM1574.22 1079h25.08v1h-25.08zM1574.22 1103h25.08v1h-25.08zM1574.22 1111h25.08v2h-25.08zM1574.22 1119h25.08v2h-25.08zM1574.22 1125h25.08v1h-25.08zM1574.22 1127h25.08v1h-25.08zM1574.22 1147h25.08v1h-25.08zM1574.22 1163h25.08v1h-25.08zM1574.22 1182h25.08v1h-25.08zM1574.22 1184h25.08v2h-25.08zM1574.22 1195h25.08v1h-25.08zM1574.22 1197h25.08v2h-25.08zM1574.22 1209h25.08v3h-25.08zM1574.22 1216h25.08v1h-25.08z"/>
<path fill="#898ccc" d="M1257.12 881h29.68v2h-29.68zM1316.07 1017h28.01v1h-28.01zM1344.08 1090h29.89v1h-29.89zM1344.08 1092h29.89v1h-29.89zM1344.08 1118h29.89v1h-29.89zM1344.08 1134h29.89v1h-29.89zM1344.08 1139h29.89v1h-29.89zM1344.08 1143h29.89v2h-29.89zM1344.08 1151h29.89v1h-29.89zM1344.08 1166h29.89v1h-29.89zM1344.08 1168h29.89v1h-29.89zM1373.97 1076h29.06v1h-29.06zM1373.97 1087h29.06v1h-29.06zM1373.97 1089h29.06v1h-29.06zM1373.97 1165h29.06v1h-29.06zM1373.97 1167h29.06v3h-29.06zM1373.97 1191h29.06v1h-29.06zM1403.03 1088h26.13v1h-26.13zM1457.79 956h29.68v1h-29.68zM1516.11 1059h28.85v1h-28.85zM1516.11 1072h28.85v1h-28.85zM1516.11 1074h28.85v1h-28.85zM1544.96 1059h29.26v1h-29.26zM1544.96 1075h29.26v2h-29.26zM1544.96 1087h29.26v1h-29.26zM1544.96 1198h29.26v1h-29.26z"/>
<path fill="#b5b6e0" d="M1257.12 883h29.68v1h-29.68zM1257.12 888h29.68v1h-29.68zM1257.12 901h29.68v2h-29.68zM1257.12 909h29.68v1h-29.68zM1257.12 912h29.68v1h-29.68zM1257.12 919h29.68v1h-29.68zM1257.12 923h29.68v3h-29.68zM1257.12 927h29.68v1h-29.68zM1257.12 933h29.68v1h-29.68zM1257.12 936h29.68v1h-29.68zM1257.12 943h29.68v1h-29.68zM1257.12 947h29.68v1h-29.68zM1257.12 956h29.68v5h-29.68zM1257.12 980h29.68v1h-29.68zM1257.12 999h29.68v2h-29.68zM1257.12 1014h29.68v2h-29.68zM1257.12 1032h29.68v1h-29.68zM1286.81 952h29.26v1h-29.26zM1286.81 981h29.26v1h-29.26zM1286.81 989h29.26v1h-29.26zM1286.81 997h29.26v1h-29.26zM1316.07 880h28.01v2h-28.01zM1316.07 901h28.01v1h-28.01zM1316.07 905h28.01v1h-28.01zM1316.07 909h28.01v1h-28.01zM1316.07 913h28.01v1h-28.01zM1316.07 921h28.01v1h-28.01zM1316.07 926h28.01v2h-28.01zM1316.07 949h28.01v1h-28.01zM1316.07 957h28.01v2h-28.01zM1316.07 977h28.01v4h-28.01zM1316.07 982h28.01v1h-28.01zM1316.07 992h28.01v1h-28.01zM1316.07 995h28.01v1h-28.01zM1316.07 997h28.01v2h-28.01zM1316.07 1000h28.01v1h-28.01zM1316.07 1002h28.01v1h-28.01zM1316.07 1005h28.01v2h-28.01zM1316.07 1014h28.01v1h-28.01zM1316.07 1030h28.01v2h-28.01zM1344.08 1051h29.89v1h-29.89zM1344.08 1062h29.89v1h-29.89zM1344.08 1068h29.89v1h-29.89zM1344.08 1072h29.89v2h-29.89zM1344.08 1081h29.89v1h-29.89zM1344.08 1086h29.89v2h-29.89zM1344.08 1097h29.89v1h-29.89zM1344.08 1114h29.89v1h-29.89zM1344.08 1124h29.89v2h-29.89zM1344.08 1130h29.89v1h-29.89zM1344.08 1132h29.89v1h-29.89zM1344.08 1153h29.89v1h-29.89zM1344.08 1155h29.89v2h-29.89zM1344.08 1163h29.89v3h-29.89zM1344.08 1171h29.89v2h-29.89zM1344.08 1175h29.89v1h-29.89zM1344.08 1179h29.89v1h-29.89zM1344.08 1187h29.89v1h-29.89zM1344.08 1189h29.89v2h-29.89zM1344.08 1196h29.89v1h-29.89zM1344.08 1201h29.89v1h-29.89zM1344.08 1208h29.89v1h-29.89zM1344.08 1213h29.89v3h-29.89zM1373.97 1051h29.06v1h-29.06zM1373.97 1055h29.06v2h-29.06zM1373.97 1070h29.06v1h-29.06zM1373.97 1072h29.06v2h-29.06zM1373.97 1080h29.06v1h-29.06zM1373.97 1094h29.06v2h-29.06zM1373.97 1101h29.06v3h-29.06zM1373.97 1108h29.06v2h-29.06zM1373.97 1116h29.06v1h-29.06zM1373.97 1130h29.06v1h-29.06zM1373.97 1132h29.06v2h-29.06zM1373.97 1147h29.06v1h-29.06zM1373.97 1150h29.06v1h-29.06zM1373.97 1155h29.06v1h-29.06zM1373.97 1160h29.06v1h-29.06zM1373.97 1163h29.06v1h-29.06zM1373.97 1176h29.06v1h-29.06zM1373.97 1179h29.06v1h-29.06zM1373.97 1184h29.06v3h-29.06zM1373.97 1204h29.06v1h-29.06zM1373.97 1210h29.06v1h-29.06zM1373.97 1214h29.06v2h-29.06zM1403.03 1052h26.13v2h-26.13zM1403.03 1060h26.13v1h-26.13zM1403.03 1081h26.13v1h-26.13zM1403.03 1096h26.13v1h-26.13zM1403.03 1121h26.13v1h-26.13zM1403.03 1124h26.13v1h-26.13zM1403.03 1128h26.13v1h-26.13zM1403.03 1131h26.13v2h-26.13zM1403.03 1137h26.13v1h-26.13zM1403.03 1143h26.13v1h-26.13zM1403.03 1149h26.13v1h-26.13zM1403.03 1158h26.13v1h-26.13zM1403.03 1171h26.13v1h-26.13zM1403.03 1173h26.13v1h-26.13zM1403.03 1185h26.13v1h-26.13zM1403.03 1191h26.13v1h-26.13zM1403.03 1193h26.13v1h-26.13zM1403.03 1199h26.13v2h-26.13zM1403.03 1205h26.13v2h-26.13zM1403.03 1213h26.13v1h-26.13zM1403.03 1216h26.13v1h-26.13zM1429.16 984h28.64v1h-28.64zM1429.16 987h28.64v1h-28.64zM1429.16 1041h28.64v1h-28.64zM1429.16 1050h28.64v1h-28.64zM1457.79 875h29.68v1h-29.68zM1457.79 877h29.68v1h-29.68zM1457.79 892h29.68v2h-29.68zM1457.79 901h29.68v1h-29.68zM1457.79 903h29.68v1h-29.68zM1457.79 1005h29.68v2h-29.68zM1457.79 1024h29.68v1h-29.68zM1516.11 1056h28.85v1h-28.85zM1516.11 1069h28.85v1h-28.85zM1516.11 1075h28.85v1h-28.85zM1516.11 1082h28.85v1h-28.85zM1516.11 1086h28.85v1h-28.85zM1516.11 1095h28.85v2h-28.85zM1516.11 1101h28.85v1h-28.85zM1516.11 1109h28.85v1h-28.85zM1516.11 1111h28.85v2h-28.85zM1516.11 1128h28.85v1h-28.85zM1516.11 1130h28.85v1h-28.85zM1516.11 1139h28.85v1h-28.85zM1516.11 1164h28.85v1h-28.85zM1516.11 1188h28.85v1h-28.85zM1516.11 1197h28.85v2h-28.85zM1516.11 1207h28.85v1h-28.85zM1516.11 1216h28.85v1h-28.85zM1544.96 1052h29.26v1h-29.26zM1544.96 1070h29.26v1h-29.26zM1544.96 1079h29.26v1h-29.26zM1544.96 1090h29.26v1h-29.26zM1544.96 1100h29.26v2h-29.26zM1544.96 1104h29.26v1h-29.26zM1544.96 1111h29.26v1h-29.26zM1544.96 1116h29.26v2h-29.26zM1544.96 1119h29.26v1h-29.26zM1544.96 1124h29.26v1h-29.26zM1544.96 1132h29.26v1h-29.26zM1544.96 1140h29.26v1h-29.26zM1544.96 1152h29.26v1h-29.26zM1544.96 1154h29.26v1h-29.26zM1544.96 1157h29.26v1h-29.26zM1544.96 1162h29.26v1h-29.26zM1544.96 1167h29.26v1h-29.26zM1544.96 1169h29.26v1h-29.26zM1544.96 1171h29.26v2h-29.26zM1544.96 1178h29.26v1h-29.26zM1544.96 1195h29.26v2h-29.26zM1544.96 1199h29.26v1h-29.26zM1544.96 1214h29.26v2h-29.26zM1574.22 1052h25.08v2h-25.08zM1574.22 1057h25.08v1h-25.08zM1574.22 1059h25.08v2h-25.08zM1574.22 1063h25.08v3h-25.08zM1574.22 1068h25.08v1h-25.08zM1574.22 1070h25.08v2h-25.08zM1574.22 1074h25.08v1h-25.08zM1574.22 1076h25.08v2h-25.08zM1574.22 1094h25.08v1h-25.08zM1574.22 1099h25.08v1h-25.08zM1574.22 1110h25.08v1h-25.08zM1574.22 1129h25.08v1h-25.08zM1574.22 1193h25.08v2h-25.08zM1574.22 1212h25.08v1h-25.08z"/>
<path fill="#aaabdb" d="M1257.12 884h29.68v1h-29.68zM1257.12 914h29.68v3h-29.68zM1257.12 918h29.68v1h-29.68zM1257.12 920h29.68v2h-29.68zM1257.12 926h29.68v1h-29.68zM1257.12 932h29.68v1h-29.68zM1257.12 937h29.68v1h-29.68zM1257.12 952h29.68v1h-29.68zM1257.12 961h29.68v1h-29.68zM1257.12 983h29.68v1h-29.68zM1257.12 997h29.68v1h-29.68zM1257.12 1031h29.68v1h-29.68zM1316.07 877h28.01v3h-28.01zM1316.07 893h28.01v1h-28.01zM1316.07 904h28.01v1h-28.01zM1316.07 910h28.01v3h-28.01zM1316.07 931h28.01v1h-28.01zM1316.07 944h28.01v1h-28.01zM1344.08 1063h29.89v2h-29.89zM1344.08 1069h29.89v1h-29.89zM1344.08 1082h29.89v3h-29.89zM1344.08 1095h29.89v1h-29.89zM1344.08 1105h29.89v1h-29.89zM1344.08 1107h29.89v1h-29.89zM1344.08 1109h29.89v3h-29.89zM1344.08 1120h29.89v3h-29.89zM1344.08 1131h29.89v1h-29.89zM1344.08 1149h29.89v1h-29.89zM1344.08 1154h29.89v1h-29.89zM1344.08 1157h29.89v1h-29.89zM1344.08 1161h29.89v1h-29.89zM1344.08 1170h29.89v1h-29.89zM1344.08 1184h29.89v3h-29.89zM1344.08 1188h29.89v1h-29.89zM1344.08 1199h29.89v2h-29.89zM1344.08 1206h29.89v1h-29.89zM1344.08 1209h29.89v1h-29.89zM1373.97 1054h29.06v1h-29.06zM1373.97 1057h29.06v2h-29.06zM1373.97 1065h29.06v1h-29.06zM1373.97 1071h29.06v1h-29.06zM1373.97 1074h29.06v1h-29.06zM1373.97 1088h29.06v1h-29.06zM1373.97 1098h29.06v3h-29.06zM1373.97 1104h29.06v2h-29.06zM1373.97 1117h29.06v1h-29.06zM1373.97 1126h29.06v4h-29.06zM1373.97 1131h29.06v1h-29.06zM1373.97 1134h29.06v1h-29.06zM1373.97 1137h29.06v1h-29.06zM1373.97 1140h29.06v1h-29.06zM1373.97 1143h29.06v2h-29.06zM1373.97 1151h29.06v1h-29.06zM1373.97 1157h29.06v1h-29.06zM1373.97 1177h29.06v2h-29.06zM1373.97 1181h29.06v1h-29.06zM1373.97 1194h29.06v1h-29.06zM1373.97 1200h29.06v1h-29.06zM1373.97 1202h29.06v1h-29.06zM1373.97 1212h29.06v2h-29.06zM1403.03 1078h26.13v1h-26.13zM1403.03 1091h26.13v1h-26.13zM1403.03 1111h26.13v1h-26.13zM1403.03 1123h26.13v1h-26.13zM1403.03 1130h26.13v1h-26.13zM1403.03 1134h26.13v3h-26.13zM1403.03 1138h26.13v1h-26.13zM1403.03 1144h26.13v5h-26.13zM1403.03 1151h26.13v2h-26.13zM1403.03 1163h26.13v1h-26.13zM1403.03 1166h26.13v1h-26.13zM1403.03 1168h26.13v2h-26.13zM1403.03 1176h26.13v1h-26.13zM1403.03 1179h26.13v1h-26.13zM1403.03 1189h26.13v2h-26.13zM1403.03 1197h26.13v2h-26.13zM1403.03 1207h26.13v1h-26.13zM1403.03 1209h26.13v1h-26.13zM1429.16 1048h28.64v1h-28.64zM1457.79 1008h29.68v1h-29.68zM1457.79 1023h29.68v1h-29.68zM1457.79 1058h29.68v2h-29.68zM1487.47 1041h28.64v2h-28.64zM1487.47 1047h28.64v1h-28.64zM1516.11 1052h28.85v1h-28.85zM1516.11 1061h28.85v2h-28.85zM1516.11 1064h28.85v1h-28.85zM1516.11 1070h28.85v1h-28.85zM1516.11 1079h28.85v1h-28.85zM1516.11 1081h28.85v1h-28.85zM1516.11 1090h28.85v1h-28.85zM1516.11 1094h28.85v1h-28.85zM1516.11 1097h28.85v1h-28.85zM1516.11 1099h28.85v2h-28.85zM1516.11 1102h28.85v1h-28.85zM1516.11 1107h28.85v1h-28.85zM1516.11 1119h28.85v1h-28.85zM1516.11 1126h28.85v1h-28.85zM1516.11 1131h28.85v1h-28.85zM1544.96 1054h29.26v1h-29.26zM1544.96 1061h29.26v1h-29.26zM1544.96 1066h29.26v1h-29.26zM1544.96 1069h29.26v1h-29.26zM1544.96 1071h29.26v1h-29.26zM1544.96 1083h29.26v3h-29.26zM1544.96 1091h29.26v1h-29.26zM1544.96 1093h29.26v2h-29.26zM1544.96 1103h29.26v1h-29.26zM1544.96 1108h29.26v3h-29.26zM1544.96 1113h29.26v3h-29.26zM1544.96 1120h29.26v3h-29.26zM1544.96 1127h29.26v2h-29.26zM1544.96 1130h29.26v1h-29.26zM1544.96 1134h29.26v1h-29.26zM1544.96 1136h29.26v4h-29.26zM1544.96 1142h29.26v1h-29.26zM1544.96 1144h29.26v1h-29.26zM1544.96 1148h29.26v1h-29.26zM1544.96 1153h29.26v1h-29.26zM1544.96 1155h29.26v1h-29.26zM1544.96 1158h29.26v1h-29.26zM1544.96 1163h29.26v1h-29.26zM1544.96 1165h29.26v1h-29.26zM1544.96 1181h29.26v1h-29.26zM1544.96 1197h29.26v1h-29.26zM1544.96 1200h29.26v1h-29.26zM1544.96 1205h29.26v4h-29.26zM1544.96 1213h29.26v1h-29.26zM1544.96 1216h29.26v1h-29.26zM1574.22 1055h25.08v1h-25.08zM1574.22 1061h25.08v2h-25.08zM1574.22 1067h25.08v1h-25.08z"/>
<path fill="#e6e6f4" d="M1257.12 887h29.68v1h-29.68zM1257.12 895h29.68v1h-29.68zM1257.12 928h29.68v2h-29.68zM1257.12 970h29.68v4h-29.68zM1257.12 975h29.68v1h-29.68zM1257.12 977h29.68v1h-29.68zM1257.12 979h29.68v1h-29.68zM1257.12 987h29.68v3h-29.68zM1257.12 1002h29.68v3h-29.68zM1257.12 1012h29.68v1h-29.68zM1257.12 1018h29.68v1h-29.68zM1257.12 1034h29.68v2h-29.68zM1257.12 1037h29.68v1h-29.68zM1257.12 1050h29.68v1h-29.68zM1257.12 1064h29.68v2h-29.68zM1257.12 1169h29.68v3h-29.68zM1257.12 1214h29.68v1h-29.68zM1286.81 886h29.26v1h-29.26zM1286.81 895h29.26v1h-29.26zM1286.81 899h29.26v4h-29.26zM1286.81 908h29.26v1h-29.26zM1286.81 910h29.26v1h-29.26zM1286.81 913h29.26v1h-29.26zM1286.81 917h29.26v1h-29.26zM1286.81 920h29.26v1h-29.26zM1286.81 931h29.26v1h-29.26zM1286.81 938h29.26v3h-29.26zM1286.81 945h29.26v1h-29.26zM1286.81 947h29.26v1h-29.26zM1286.81 949h29.26v1h-29.26zM1286.81 954h29.26v3h-29.26zM1286.81 960h29.26v1h-29.26zM1286.81 962h29.26v2h-29.26zM1286.81 971h29.26v1h-29.26zM1286.81 985h29.26v1h-29.26zM1286.81 991h29.26v2h-29.26zM1286.81 994h29.26v1h-29.26zM1286.81 1000h29.26v2h-29.26zM1286.81 1007h29.26v2h-29.26zM1286.81 1012h29.26v1h-29.26zM1286.81 1021h29.26v2h-29.26zM1286.81 1025h29.26v1h-29.26zM1286.81 1035h29.26v3h-29.26zM1286.81 1039h29.26v1h-29.26zM1316.07 885h28.01v2h-28.01zM1316.07 914h28.01v2h-28.01zM1316.07 932h28.01v2h-28.01zM1316.07 938h28.01v1h-28.01zM1316.07 953h28.01v1h-28.01zM1316.07 955h28.01v2h-28.01zM1316.07 969h28.01v1h-28.01zM1316.07 990h28.01v1h-28.01zM1316.07 1003h28.01v1h-28.01zM1316.07 1022h28.01v1h-28.01zM1316.07 1029h28.01v1h-28.01zM1316.07 1040h28.01v1h-28.01zM1316.07 1044h28.01v2h-28.01zM1316.07 1134h28.01v1h-28.01zM1344.08 1146h29.89v1h-29.89zM1403.03 966h26.13v1h-26.13zM1403.03 972h26.13v1h-26.13zM1403.03 1056h26.13v1h-26.13zM1403.03 1062h26.13v1h-26.13zM1403.03 1071h26.13v1h-26.13zM1403.03 1073h26.13v1h-26.13zM1403.03 1095h26.13v1h-26.13zM1403.03 1103h26.13v2h-26.13zM1429.16 882h28.64v1h-28.64zM1429.16 887h28.64v1h-28.64zM1429.16 895h28.64v2h-28.64zM1429.16 900h28.64v1h-28.64zM1429.16 903h28.64v3h-28.64zM1429.16 907h28.64v1h-28.64zM1429.16 912h28.64v2h-28.64zM1429.16 915h28.64v1h-28.64zM1429.16 918h28.64v1h-28.64zM1429.16 920h28.64v2h-28.64zM1429.16 924h28.64v1h-28.64zM1429.16 930h28.64v1h-28.64zM1429.16 934h28.64v1h-28.64zM1429.16 938h28.64v3h-28.64zM1429.16 943h28.64v1h-28.64zM1429.16 948h28.64v1h-28.64zM1429.16 959h28.64v1h-28.64zM1429.16 963h28.64v1h-28.64zM1429.16 992h28.64v1h-28.64zM1429.16 996h28.64v1h-28.64zM1429.16 998h28.64v1h-28.64zM1429.16 1003h28.64v1h-28.64zM1429.16 1009h28.64v1h-28.64zM1429.16 1017h28.64v2h-28.64zM1429.16 1025h28.64v1h-28.64zM1429.16 1028h28.64v1h-28.64zM1429.16 1032h28.64v1h-28.64zM1429.16 1043h28.64v1h-28.64zM1429.16 1045h28.64v3h-28.64zM1429.16 1069h28.64v2h-28.64zM1429.16 1074h28.64v1h-28.64zM1457.79 879h29.68v1h-29.68zM1457.79 883h29.68v2h-29.68zM1457.79 886h29.68v1h-29.68zM1457.79 891h29.68v1h-29.68zM1457.79 896h29.68v1h-29.68zM1457.79 909h29.68v1h-29.68zM1457.79 911h29.68v1h-29.68zM1457.79 922h29.68v1h-29.68zM1457.79 935h29.68v6h-29.68zM1457.79 942h29.68v3h-29.68zM1457.79 946h29.68v1h-29.68zM1457.79 958h29.68v1h-29.68zM1457.79 964h29.68v1h-29.68zM1457.79 974h29.68v2h-29.68zM1457.79 977h29.68v2h-29.68zM1457.79 983h29.68v1h-29.68zM1457.79 985h29.68v1h-29.68zM1457.79 990h29.68v1h-29.68zM1457.79 999h29.68v2h-29.68zM1457.79 1003h29.68v1h-29.68zM1457.79 1014h29.68v1h-29.68zM1457.79 1019h29.68v1h-29.68zM1457.79 1026h29.68v2h-29.68zM1457.79 1029h29.68v1h-29.68zM1457.79 1035h29.68v1h-29.68zM1457.79 1047h29.68v1h-29.68zM1457.79 1066h29.68v1h-29.68zM1457.79 1068h29.68v1h-29.68zM1487.47 894h28.64v1h-28.64zM1487.47 930h28.64v1h-28.64zM1487.47 946h28.64v1h-28.64zM1487.47 958h28.64v1h-28.64zM1487.47 960h28.64v1h-28.64zM1487.47 965h28.64v1h-28.64zM1487.47 970h28.64v2h-28.64zM1487.47 976h28.64v1h-28.64zM1487.47 979h28.64v1h-28.64zM1487.47 988h28.64v1h-28.64zM1487.47 992h28.64v1h-28.64zM1487.47 994h28.64v1h-28.64zM1487.47 999h28.64v1h-28.64zM1487.47 1006h28.64v1h-28.64zM1487.47 1018h28.64v1h-28.64zM1487.47 1032h28.64v3h-28.64zM1487.47 1039h28.64v1h-28.64zM1487.47 1046h28.64v1h-28.64zM1487.47 1079h28.64v1h-28.64zM1487.47 1095h28.64v3h-28.64zM1487.47 1111h28.64v2h-28.64zM1487.47 1114h28.64v1h-28.64zM1487.47 1120h28.64v1h-28.64zM1487.47 1148h28.64v1h-28.64zM1516.11 1172h28.85v2h-28.85zM1516.11 1180h28.85v2h-28.85zM1516.11 1190h28.85v1h-28.85zM1516.11 1199h28.85v1h-28.85zM1516.11 1206h28.85v1h-28.85zM1544.96 1088h29.26v1h-29.26zM1544.96 1190h29.26v1h-29.26zM1574.22 1087h25.08v1h-25.08zM1574.22 1090h25.08v1h-25.08zM1574.22 1107h25.08v3h-25.08zM1574.22 1115h25.08v1h-25.08zM1574.22 1118h25.08v1h-25.08zM1574.22 1123h25.08v1h-25.08zM1574.22 1131h25.08v1h-25.08zM1574.22 1135h25.08v1h-25.08zM1574.22 1137h25.08v1h-25.08zM1574.22 1139h25.08v1h-25.08zM1574.22 1150h25.08v1h-25.08zM1574.22 1154h25.08v2h-25.08zM1574.22 1161h25.08v1h-25.08zM1574.22 1178h25.08v1h-25.08zM1574.22 1190h25.08v1h-25.08zM1574.22 1200h25.08v1h-25.08zM1574.22 1206h25.08v2h-25.08zM1574.22 1214h25.08v1h-25.08z"/>
<path fill="#d9daef" d="M1257.12 893h29.68v2h-29.68zM1257.12 896h29.68v1h-29.68zM1257.12 942h29.68v1h-29.68zM1257.12 948h29.68v1h-29.68zM1257.12 951h29.68v1h-29.68zM1257.12 978h29.68v1h-29.68zM1257.12 981h29.68v1h-29.68zM1257.12 984h29.68v1h-29.68zM1257.12 992h29.68v1h-29.68zM1257.12 1001h29.68v1h-29.68zM1257.12 1005h29.68v3h-29.68zM1257.12 1009h29.68v1h-29.68zM1257.12 1013h29.68v1h-29.68zM1257.12 1017h29.68v1h-29.68zM1257.12 1024h29.68v1h-29.68zM1257.12 1028h29.68v1h-29.68zM1257.12 1030h29.68v1h-29.68zM1257.12 1036h29.68v1h-29.68zM1257.12 1038h29.68v1h-29.68zM1257.12 1168h29.68v1h-29.68zM1257.12 1174h29.68v1h-29.68zM1286.81 882h29.26v3h-29.26zM1286.81 903h29.26v1h-29.26zM1286.81 909h29.26v1h-29.26zM1286.81 921h29.26v1h-29.26zM1286.81 926h29.26v2h-29.26zM1286.81 932h29.26v1h-29.26zM1286.81 941h29.26v4h-29.26zM1286.81 957h29.26v1h-29.26zM1286.81 961h29.26v1h-29.26zM1286.81 970h29.26v1h-29.26zM1286.81 982h29.26v1h-29.26zM1286.81 993h29.26v1h-29.26zM1286.81 998h29.26v2h-29.26zM1286.81 1005h29.26v2h-29.26zM1286.81 1017h29.26v4h-29.26zM1286.81 1023h29.26v2h-29.26zM1286.81 1026h29.26v1h-29.26zM1286.81 1030h29.26v2h-29.26zM1286.81 1033h29.26v2h-29.26zM1286.81 1038h29.26v1h-29.26zM1286.81 1044h29.26v2h-29.26zM1316.07 872h28.01v1h-28.01zM1316.07 887h28.01v1h-28.01zM1316.07 889h28.01v1h-28.01zM1316.07 892h28.01v1h-28.01zM1316.07 900h28.01v1h-28.01zM1316.07 906h28.01v1h-28.01zM1316.07 916h28.01v1h-28.01zM1316.07 922h28.01v1h-28.01zM1316.07 935h28.01v1h-28.01zM1316.07 939h28.01v2h-28.01zM1316.07 943h28.01v1h-28.01zM1316.07 947h28.01v1h-28.01zM1316.07 954h28.01v1h-28.01zM1316.07 972h28.01v1h-28.01zM1316.07 975h28.01v1h-28.01zM1316.07 984h28.01v1h-28.01zM1316.07 989h28.01v1h-28.01zM1316.07 1001h28.01v1h-28.01zM1316.07 1008h28.01v2h-28.01zM1316.07 1023h28.01v1h-28.01zM1316.07 1026h28.01v1h-28.01zM1316.07 1028h28.01v1h-28.01zM1316.07 1035h28.01v1h-28.01zM1316.07 1039h28.01v1h-28.01zM1316.07 1041h28.01v2h-28.01zM1344.08 1067h29.89v1h-29.89zM1344.08 1099h29.89v1h-29.89zM1344.08 1141h29.89v1h-29.89zM1373.97 1068h29.06v1h-29.06zM1373.97 1091h29.06v2h-29.06zM1373.97 1125h29.06v1h-29.06zM1373.97 1142h29.06v1h-29.06zM1373.97 1162h29.06v1h-29.06zM1403.03 965h26.13v1h-26.13zM1403.03 1057h26.13v2h-26.13zM1403.03 1070h26.13v1h-26.13zM1403.03 1072h26.13v1h-26.13zM1403.03 1075h26.13v1h-26.13zM1403.03 1122h26.13v1h-26.13zM1403.03 1215h26.13v1h-26.13zM1429.16 897h28.64v1h-28.64zM1429.16 906h28.64v1h-28.64zM1429.16 908h28.64v3h-28.64zM1429.16 919h28.64v1h-28.64zM1429.16 923h28.64v1h-28.64zM1429.16 927h28.64v1h-28.64zM1429.16 936h28.64v1h-28.64zM1429.16 953h28.64v2h-28.64zM1429.16 958h28.64v1h-28.64zM1429.16 960h28.64v2h-28.64zM1429.16 980h28.64v1h-28.64zM1429.16 985h28.64v1h-28.64zM1429.16 991h28.64v1h-28.64zM1429.16 997h28.64v1h-28.64zM1429.16 1004h28.64v4h-28.64zM1429.16 1023h28.64v1h-28.64zM1429.16 1027h28.64v1h-28.64zM1429.16 1029h28.64v1h-28.64zM1429.16 1044h28.64v1h-28.64zM1429.16 1058h28.64v2h-28.64zM1457.79 874h29.68v1h-29.68zM1457.79 882h29.68v1h-29.68zM1457.79 888h29.68v1h-29.68zM1457.79 894h29.68v1h-29.68zM1457.79 906h29.68v1h-29.68zM1457.79 910h29.68v1h-29.68zM1457.79 913h29.68v1h-29.68zM1457.79 917h29.68v1h-29.68zM1457.79 919h29.68v1h-29.68zM1457.79 934h29.68v1h-29.68zM1457.79 941h29.68v1h-29.68zM1457.79 960h29.68v1h-29.68zM1457.79 963h29.68v1h-29.68zM1457.79 965h29.68v2h-29.68zM1457.79 979h29.68v4h-29.68zM1457.79 987h29.68v3h-29.68zM1457.79 991h29.68v2h-29.68zM1457.79 995h29.68v1h-29.68zM1457.79 1004h29.68v1h-29.68zM1457.79 1011h29.68v1h-29.68zM1457.79 1013h29.68v1h-29.68zM1457.79 1015h29.68v1h-29.68zM1457.79 1018h29.68v1h-29.68zM1457.79 1022h29.68v1h-29.68zM1457.79 1025h29.68v1h-29.68zM1457.79 1033h29.68v2h-29.68zM1457.79 1039h29.68v1h-29.68zM1457.79 1061h29.68v1h-29.68zM1457.79 1171h29.68v1h-29.68zM1487.47 966h28.64v1h-28.64zM1487.47 968h28.64v2h-28.64zM1487.47 975h28.64v1h-28.64zM1487.47 977h28.64v2h-28.64zM1487.47 995h28.64v1h-28.64zM1487.47 1003h28.64v3h-28.64zM1487.47 1013h28.64v1h-28.64zM1487.47 1015h28.64v1h-28.64zM1487.47 1031h28.64v1h-28.64zM1487.47 1040h28.64v1h-28.64zM1487.47 1058h28.64v2h-28.64zM1487.47 1118h28.64v1h-28.64zM1516.11 1104h28.85v2h-28.85zM1516.11 1113h28.85v1h-28.85zM1516.11 1121h28.85v1h-28.85zM1516.11 1134h28.85v1h-28.85zM1516.11 1141h28.85v3h-28.85zM1516.11 1145h28.85v2h-28.85zM1516.11 1150h28.85v1h-28.85zM1516.11 1160h28.85v3h-28.85zM1516.11 1170h28.85v1h-28.85zM1516.11 1187h28.85v1h-28.85zM1516.11 1194h28.85v3h-28.85zM1516.11 1200h28.85v2h-28.85zM1516.11 1204h28.85v2h-28.85zM1516.11 1211h28.85v1h-28.85zM1516.11 1213h28.85v1h-28.85zM1544.96 1150h29.26v2h-29.26zM1544.96 1191h29.26v1h-29.26zM1544.96 1202h29.26v2h-29.26zM1574.22 1081h25.08v2h-25.08zM1574.22 1086h25.08v1h-25.08zM1574.22 1092h25.08v1h-25.08zM1574.22 1095h25.08v1h-25.08zM1574.22 1097h25.08v1h-25.08zM1574.22 1101h25.08v2h-25.08zM1574.22 1114h25.08v1h-25.08zM1574.22 1116h25.08v2h-25.08zM1574.22 1122h25.08v1h-25.08zM1574.22 1126h25.08v1h-25.08zM1574.22 1130h25.08v1h-25.08zM1574.22 1138h25.08v1h-25.08zM1574.22 1140h25.08v2h-25.08zM1574.22 1148h25.08v1h-25.08zM1574.22 1157h25.08v1h-25.08zM1574.22 1165h25.08v1h-25.08zM1574.22 1167h25.08v3h-25.08zM1574.22 1175h25.08v2h-25.08zM1574.22 1188h25.08v1h-25.08zM1574.22 1192h25.08v1h-25.08zM1574.22 1196h25.08v1h-25.08zM1574.22 1203h25.08v3h-25.08z"/>
<path fill="#f2f2fa" d="M1257.12 940h29.68v1h-29.68zM1257.12 965h29.68v1h-29.68zM1257.12 976h29.68v1h-29.68zM1257.12 990h29.68v1h-29.68zM1257.12 993h29.68v1h-29.68zM1257.12 1025h29.68v2h-29.68zM1257.12 1040h29.68v2h-29.68zM1257.12 1045h29.68v1h-29.68zM1257.12 1051h29.68v1h-29.68zM1257.12 1205h29.68v1h-29.68zM1257.12 1213h29.68v1h-29.68zM1286.81 881h29.26v1h-29.26zM1286.81 887h29.26v3h-29.26zM1286.81 893h29.26v1h-29.26zM1286.81 912h29.26v1h-29.26zM1286.81 914h29.26v2h-29.26zM1286.81 925h29.26v1h-29.26zM1286.81 933h29.26v2h-29.26zM1286.81 946h29.26v1h-29.26zM1286.81 948h29.26v1h-29.26zM1286.81 969h29.26v1h-29.26zM1286.81 972h29.26v2h-29.26zM1286.81 977h29.26v2h-29.26zM1286.81 984h29.26v1h-29.26zM1286.81 996h29.26v1h-29.26zM1286.81 1011h29.26v1h-29.26zM1286.81 1014h29.26v3h-29.26zM1286.81 1028h29.26v1h-29.26zM1286.81 1032h29.26v1h-29.26zM1286.81 1041h29.26v2h-29.26zM1286.81 1046h29.26v1h-29.26zM1286.81 1050h29.26v1h-29.26zM1316.07 923h28.01v2h-28.01zM1316.07 934h28.01v1h-28.01zM1316.07 963h28.01v1h-28.01zM1316.07 965h28.01v1h-28.01zM1316.07 970h28.01v1h-28.01zM1316.07 974h28.01v1h-28.01zM1316.07 1011h28.01v1h-28.01zM1316.07 1043h28.01v1h-28.01zM1316.07 1050h28.01v1h-28.01zM1316.07 1091h28.01v2h-28.01zM1316.07 1100h28.01v2h-28.01zM1316.07 1133h28.01v1h-28.01zM1316.07 1138h28.01v1h-28.01zM1316.07 1148h28.01v1h-28.01zM1316.07 1156h28.01v1h-28.01zM1316.07 1162h28.01v1h-28.01zM1316.07 1165h28.01v1h-28.01zM1316.07 1187h28.01v1h-28.01zM1316.07 1200h28.01v1h-28.01zM1344.08 951h29.89v1h-29.89zM1344.08 954h29.89v1h-29.89zM1344.08 1026h29.89v1h-29.89zM1373.97 910h29.06v1h-29.06zM1403.03 964h26.13v1h-26.13zM1403.03 973h26.13v1h-26.13zM1403.03 1055h26.13v1h-26.13zM1403.03 1074h26.13v1h-26.13zM1403.03 1087h26.13v1h-26.13zM1429.16 877h28.64v1h-28.64zM1429.16 881h28.64v1h-28.64zM1429.16 888h28.64v1h-28.64zM1429.16 898h28.64v1h-28.64zM1429.16 911h28.64v1h-28.64zM1429.16 914h28.64v1h-28.64zM1429.16 922h28.64v1h-28.64zM1429.16 925h28.64v1h-28.64zM1429.16 931h28.64v3h-28.64zM1429.16 937h28.64v1h-28.64zM1429.16 949h28.64v1h-28.64zM1429.16 955h28.64v3h-28.64zM1429.16 966h28.64v2h-28.64zM1429.16 969h28.64v1h-28.64zM1429.16 974h28.64v2h-28.64zM1429.16 977h28.64v1h-28.64zM1429.16 990h28.64v1h-28.64zM1429.16 993h28.64v1h-28.64zM1429.16 1000h28.64v1h-28.64zM1429.16 1010h28.64v2h-28.64zM1429.16 1019h28.64v1h-28.64zM1429.16 1021h28.64v2h-28.64zM1429.16 1033h28.64v1h-28.64zM1429.16 1035h28.64v5h-28.64zM1429.16 1051h28.64v1h-28.64zM1429.16 1056h28.64v1h-28.64zM1429.16 1068h28.64v1h-28.64zM1429.16 1085h28.64v1h-28.64zM1429.16 1094h28.64v1h-28.64zM1457.79 878h29.68v1h-29.68zM1457.79 880h29.68v2h-29.68zM1457.79 885h29.68v1h-29.68zM1457.79 904h29.68v2h-29.68zM1457.79 914h29.68v1h-29.68zM1457.79 923h29.68v2h-29.68zM1457.79 928h29.68v1h-29.68zM1457.79 933h29.68v1h-29.68zM1457.79 947h29.68v2h-29.68zM1457.79 952h29.68v2h-29.68zM1457.79 959h29.68v1h-29.68zM1457.79 961h29.68v1h-29.68zM1457.79 967h29.68v1h-29.68zM1457.79 976h29.68v1h-29.68zM1457.79 984h29.68v1h-29.68zM1457.79 996h29.68v2h-29.68zM1457.79 1001h29.68v2h-29.68zM1457.79 1016h29.68v1h-29.68zM1457.79 1030h29.68v2h-29.68zM1457.79 1062h29.68v1h-29.68zM1457.79 1070h29.68v5h-29.68zM1457.79 1080h29.68v1h-29.68zM1457.79 1086h29.68v2h-29.68zM1457.79 1159h29.68v1h-29.68zM1487.47 895h28.64v2h-28.64zM1487.47 905h28.64v3h-28.64zM1487.47 912h28.64v1h-28.64zM1487.47 919h28.64v3h-28.64zM1487.47 923h28.64v1h-28.64zM1487.47 933h28.64v1h-28.64zM1487.47 947h28.64v1h-28.64zM1487.47 951h28.64v1h-28.64zM1487.47 954h28.64v1h-28.64zM1487.47 957h28.64v1h-28.64zM1487.47 964h28.64v1h-28.64zM1487.47 967h28.64v1h-28.64zM1487.47 980h28.64v1h-28.64zM1487.47 982h28.64v1h-28.64zM1487.47 984h28.64v1h-28.64zM1487.47 986h28.64v2h-28.64zM1487.47 990h28.64v2h-28.64zM1487.47 993h28.64v1h-28.64zM1487.47 997h28.64v2h-28.64zM1487.47 1000h28.64v1h-28.64zM1487.47 1002h28.64v1h-28.64zM1487.47 1008h28.64v1h-28.64zM1487.47 1011h28.64v1h-28.64zM1487.47 1014h28.64v1h-28.64zM1487.47 1020h28.64v2h-28.64zM1487.47 1025h28.64v1h-28.64zM1487.47 1027h28.64v1h-28.64zM1487.47 1029h28.64v1h-28.64zM1487.47 1035h28.64v1h-28.64zM1487.47 1038h28.64v1h-28.64zM1487.47 1043h28.64v1h-28.64zM1487.47 1045h28.64v1h-28.64zM1487.47 1067h28.64v3h-28.64zM1487.47 1071h28.64v1h-28.64zM1487.47 1077h28.64v2h-28.64zM1487.47 1089h28.64v1h-28.64zM1487.47 1119h28.64v1h-28.64zM1487.47 1126h28.64v1h-28.64zM1487.47 1128h28.64v1h-28.64zM1487.47 1147h28.64v1h-28.64zM1487.47 1166h28.64v2h-28.64zM1487.47 1201h28.64v1h-28.64zM1544.96 1089h29.26v1h-29.26zM1574.22 968h25.08v2h-25.08zM1574.22 973h25.08v1h-25.08zM1574.22 975h25.08v1h-25.08zM1574.22 1080h25.08v1h-25.08zM1574.22 1088h25.08v1h-25.08zM1574.22 1106h25.08v1h-25.08zM1574.22 1132h25.08v1h-25.08zM1574.22 1134h25.08v1h-25.08zM1574.22 1136h25.08v1h-25.08zM1574.22 1152h25.08v2h-25.08zM1574.22 1156h25.08v1h-25.08zM1574.22 1159h25.08v1h-25.08zM1574.22 1186h25.08v2h-25.08zM1574.22 1191h25.08v1h-25.08zM1574.22 1199h25.08v1h-25.08zM1574.22 1215h25.08v1h-25.08z"/>
<path fill="#fce4e2" d="M1257.12 966h29.68v1h-29.68zM1257.12 1048h29.68v2h-29.68zM1257.12 1053h29.68v1h-29.68zM1257.12 1055h29.68v3h-29.68zM1257.12 1062h29.68v1h-29.68zM1257.12 1067h29.68v1h-29.68zM1257.12 1069h29.68v1h-29.68zM1257.12 1073h29.68v1h-29.68zM1257.12 1087h29.68v2h-29.68zM1257.12 1095h29.68v2h-29.68zM1257.12 1130h29.68v2h-29.68zM1257.12 1135h29.68v3h-29.68zM1257.12 1140h29.68v1h-29.68zM1257.12 1146h29.68v1h-29.68zM1257.12 1148h29.68v1h-29.68zM1257.12 1155h29.68v2h-29.68zM1257.12 1164h29.68v1h-29.68zM1257.12 1167h29.68v1h-29.68zM1257.12 1177h29.68v1h-29.68zM1257.12 1179h29.68v1h-29.68zM1257.12 1188h29.68v1h-29.68zM1257.12 1191h29.68v1h-29.68zM1257.12 1194h29.68v2h-29.68zM1257.12 1199h29.68v1h-29.68zM1257.12 1203h29.68v1h-29.68zM1257.12 1211h29.68v1h-29.68zM1257.12 1216h29.68v1h-29.68zM1286.81 876h29.26v1h-29.26zM1286.81 878h29.26v1h-29.26zM1286.81 966h29.26v2h-29.26zM1286.81 976h29.26v1h-29.26zM1286.81 1048h29.26v2h-29.26zM1286.81 1054h29.26v1h-29.26zM1286.81 1060h29.26v2h-29.26zM1286.81 1064h29.26v1h-29.26zM1286.81 1072h29.26v1h-29.26zM1286.81 1082h29.26v1h-29.26zM1286.81 1088h29.26v2h-29.26zM1286.81 1100h29.26v1h-29.26zM1286.81 1104h29.26v1h-29.26zM1286.81 1141h29.26v1h-29.26zM1286.81 1145h29.26v1h-29.26zM1286.81 1167h29.26v2h-29.26zM1286.81 1172h29.26v2h-29.26zM1286.81 1177h29.26v1h-29.26zM1286.81 1179h29.26v1h-29.26zM1286.81 1181h29.26v1h-29.26zM1286.81 1183h29.26v1h-29.26zM1286.81 1187h29.26v2h-29.26zM1286.81 1192h29.26v1h-29.26zM1286.81 1197h29.26v3h-29.26zM1286.81 1209h29.26v3h-29.26zM1316.07 967h28.01v1h-28.01zM1316.07 973h28.01v1h-28.01zM1316.07 1051h28.01v1h-28.01zM1316.07 1059h28.01v2h-28.01zM1316.07 1064h28.01v1h-28.01zM1316.07 1069h28.01v1h-28.01zM1316.07 1071h28.01v1h-28.01zM1316.07 1073h28.01v1h-28.01zM1316.07 1076h28.01v1h-28.01zM1316.07 1079h28.01v1h-28.01zM1316.07 1089h28.01v1h-28.01zM1316.07 1097h28.01v1h-28.01zM1316.07 1112h28.01v2h-28.01zM1316.07 1116h28.01v2h-28.01zM1316.07 1121h28.01v1h-28.01zM1316.07 1124h28.01v1h-28.01zM1316.07 1126h28.01v2h-28.01zM1316.07 1130h28.01v1h-28.01zM1316.07 1142h28.01v1h-28.01zM1316.07 1150h28.01v3h-28.01zM1316.07 1157h28.01v1h-28.01zM1316.07 1169h28.01v3h-28.01zM1316.07 1174h28.01v1h-28.01zM1316.07 1176h28.01v1h-28.01zM1316.07 1178h28.01v1h-28.01zM1316.07 1183h28.01v1h-28.01zM1316.07 1186h28.01v1h-28.01zM1316.07 1188h28.01v2h-28.01zM1316.07 1201h28.01v1h-28.01zM1316.07 1204h28.01v1h-28.01zM1316.07 1206h28.01v1h-28.01zM1316.07 1212h28.01v1h-28.01zM1344.08 874h29.89v1h-29.89zM1344.08 881h29.89v1h-29.89zM1344.08 884h29.89v2h-29.89zM1344.08 888h29.89v1h-29.89zM1344.08 892h29.89v1h-29.89zM1344.08 897h29.89v1h-29.89zM1344.08 902h29.89v1h-29.89zM1344.08 905h29.89v3h-29.89zM1344.08 922h29.89v1h-29.89zM1344.08 925h29.89v1h-29.89zM1344.08 932h29.89v1h-29.89zM1344.08 940h29.89v1h-29.89zM1344.08 944h29.89v2h-29.89zM1344.08 955h29.89v3h-29.89zM1344.08 1022h29.89v1h-29.89zM1344.08 1027h29.89v1h-29.89zM1373.97 875h29.06v2h-29.06zM1373.97 878h29.06v2h-29.06zM1373.97 881h29.06v2h-29.06zM1373.97 890h29.06v2h-29.06zM1373.97 893h29.06v1h-29.06zM1373.97 897h29.06v1h-29.06zM1373.97 899h29.06v2h-29.06zM1373.97 907h29.06v3h-29.06zM1373.97 915h29.06v1h-29.06zM1373.97 964h29.06v1h-29.06zM1373.97 978h29.06v1h-29.06zM1373.97 1005h29.06v1h-29.06zM1373.97 1007h29.06v1h-29.06zM1403.03 880h26.13v1h-26.13zM1403.03 882h26.13v1h-26.13zM1403.03 918h26.13v2h-26.13zM1403.03 941h26.13v1h-26.13zM1403.03 951h26.13v1h-26.13zM1403.03 969h26.13v2h-26.13zM1403.03 975h26.13v1h-26.13zM1403.03 985h26.13v1h-26.13zM1403.03 1017h26.13v1h-26.13zM1403.03 1019h26.13v1h-26.13zM1403.03 1025h26.13v1h-26.13zM1403.03 1040h26.13v2h-26.13zM1403.03 1047h26.13v1h-26.13zM1403.03 1049h26.13v1h-26.13zM1403.03 1083h26.13v1h-26.13zM1403.03 1085h26.13v2h-26.13zM1429.16 883h28.64v2h-28.64zM1429.16 886h28.64v1h-28.64zM1429.16 889h28.64v1h-28.64zM1429.16 964h28.64v1h-28.64zM1429.16 1053h28.64v1h-28.64zM1429.16 1064h28.64v1h-28.64zM1429.16 1078h28.64v1h-28.64zM1429.16 1080h28.64v1h-28.64zM1429.16 1082h28.64v2h-28.64zM1429.16 1087h28.64v1h-28.64zM1429.16 1089h28.64v1h-28.64zM1429.16 1093h28.64v1h-28.64zM1429.16 1096h28.64v2h-28.64zM1429.16 1151h28.64v3h-28.64zM1429.16 1163h28.64v1h-28.64zM1429.16 1172h28.64v1h-28.64zM1429.16 1177h28.64v2h-28.64zM1429.16 1181h28.64v1h-28.64zM1429.16 1205h28.64v1h-28.64zM1429.16 1213h28.64v1h-28.64zM1429.16 1215h28.64v1h-28.64zM1457.79 945h29.68v1h-29.68zM1457.79 971h29.68v3h-29.68zM1457.79 986h29.68v1h-29.68zM1457.79 1042h29.68v2h-29.68zM1457.79 1065h29.68v1h-29.68zM1457.79 1075h29.68v1h-29.68zM1457.79 1077h29.68v1h-29.68zM1457.79 1097h29.68v1h-29.68zM1457.79 1126h29.68v1h-29.68zM1457.79 1129h29.68v1h-29.68zM1457.79 1146h29.68v1h-29.68zM1457.79 1149h29.68v1h-29.68zM1457.79 1152h29.68v1h-29.68zM1457.79 1156h29.68v1h-29.68zM1457.79 1161h29.68v1h-29.68zM1457.79 1163h29.68v1h-29.68zM1457.79 1165h29.68v1h-29.68zM1457.79 1169h29.68v1h-29.68zM1457.79 1176h29.68v1h-29.68zM1457.79 1185h29.68v1h-29.68zM1457.79 1191h29.68v1h-29.68zM1457.79 1197h29.68v1h-29.68zM1457.79 1208h29.68v1h-29.68zM1457.79 1216h29.68v1h-29.68zM1487.47 882h28.64v4h-28.64zM1487.47 899h28.64v1h-28.64zM1487.47 914h28.64v1h-28.64zM1487.47 916h28.64v2h-28.64zM1487.47 926h28.64v2h-28.64zM1487.47 1054h28.64v1h-28.64zM1487.47 1057h28.64v1h-28.64zM1487.47 1084h28.64v1h-28.64zM1487.47 1093h28.64v1h-28.64zM1487.47 1115h28.64v1h-28.64zM1487.47 1123h28.64v1h-28.64zM1487.47 1156h28.64v1h-28.64zM1487.47 1159h28.64v1h-28.64zM1487.47 1165h28.64v1h-28.64zM1487.47 1168h28.64v2h-28.64zM1487.47 1185h28.64v1h-28.64zM1487.47 1200h28.64v1h-28.64zM1487.47 1203h28.64v2h-28.64zM1516.11 964h28.85v1h-28.85zM1516.11 966h28.85v2h-28.85zM1516.11 975h28.85v1h-28.85zM1544.96 964h29.26v1h-29.26zM1544.96 970h29.26v1h-29.26zM1544.96 978h29.26v1h-29.26zM1544.96 1022h29.26v1h-29.26zM1544.96 1033h29.26v1h-29.26zM1574.22 958h25.08v1h-25.08zM1574.22 964h25.08v1h-25.08zM1574.22 989h25.08v1h-25.08zM1574.22 991h25.08v1h-25.08zM1574.22 1002h25.08v2h-25.08zM1574.22 1010h25.08v1h-25.08zM1574.22 1014h25.08v1h-25.08zM1574.22 1031h25.08v1h-25.08zM1574.22 1044h25.08v1h-25.08zM1574.22 1049h25.08v2h-25.08zM1574.22 1089h25.08v1h-25.08zM1574.22 1171h25.08v1h-25.08z"/>
<path fill="#fbd6d4" d="M1257.12 967h29.68v1h-29.68zM1257.12 1046h29.68v1h-29.68zM1257.12 1058h29.68v1h-29.68zM1257.12 1074h29.68v3h-29.68zM1257.12 1078h29.68v1h-29.68zM1257.12 1082h29.68v1h-29.68zM1257.12 1090h29.68v3h-29.68zM1257.12 1097h29.68v1h-29.68zM1257.12 1132h29.68v1h-29.68zM1257.12 1138h29.68v1h-29.68zM1257.12 1143h29.68v2h-29.68zM1257.12 1150h29.68v1h-29.68zM1257.12 1154h29.68v1h-29.68zM1257.12 1161h29.68v1h-29.68zM1257.12 1163h29.68v1h-29.68zM1257.12 1165h29.68v2h-29.68zM1257.12 1178h29.68v1h-29.68zM1257.12 1180h29.68v1h-29.68zM1257.12 1186h29.68v1h-29.68zM1257.12 1189h29.68v1h-29.68zM1257.12 1201h29.68v1h-29.68zM1286.81 1055h29.26v1h-29.26zM1286.81 1062h29.26v1h-29.26zM1286.81 1066h29.26v1h-29.26zM1286.81 1068h29.26v4h-29.26zM1286.81 1079h29.26v1h-29.26zM1286.81 1083h29.26v3h-29.26zM1286.81 1087h29.26v1h-29.26zM1286.81 1097h29.26v3h-29.26zM1286.81 1101h29.26v1h-29.26zM1286.81 1140h29.26v1h-29.26zM1286.81 1142h29.26v1h-29.26zM1286.81 1154h29.26v1h-29.26zM1286.81 1160h29.26v2h-29.26zM1286.81 1171h29.26v1h-29.26zM1286.81 1174h29.26v2h-29.26zM1286.81 1180h29.26v1h-29.26zM1286.81 1186h29.26v1h-29.26zM1286.81 1195h29.26v2h-29.26zM1286.81 1201h29.26v1h-29.26zM1286.81 1204h29.26v3h-29.26zM1286.81 1214h29.26v1h-29.26zM1286.81 1216h29.26v1h-29.26zM1316.07 1053h28.01v1h-28.01zM1316.07 1061h28.01v1h-28.01zM1316.07 1078h28.01v1h-28.01zM1316.07 1080h28.01v1h-28.01zM1316.07 1083h28.01v1h-28.01zM1316.07 1090h28.01v1h-28.01zM1316.07 1095h28.01v2h-28.01zM1316.07 1098h28.01v2h-28.01zM1316.07 1104h28.01v2h-28.01zM1316.07 1108h28.01v1h-28.01zM1316.07 1114h28.01v1h-28.01zM1316.07 1122h28.01v2h-28.01zM1316.07 1131h28.01v1h-28.01zM1316.07 1143h28.01v1h-28.01zM1316.07 1158h28.01v1h-28.01zM1316.07 1190h28.01v1h-28.01zM1344.08 872h29.89v1h-29.89zM1344.08 876h29.89v1h-29.89zM1344.08 880h29.89v1h-29.89zM1344.08 882h29.89v2h-29.89zM1344.08 886h29.89v1h-29.89zM1344.08 894h29.89v1h-29.89zM1344.08 896h29.89v1h-29.89zM1344.08 900h29.89v1h-29.89zM1344.08 903h29.89v2h-29.89zM1344.08 908h29.89v1h-29.89zM1344.08 910h29.89v3h-29.89zM1344.08 916h29.89v2h-29.89zM1344.08 923h29.89v2h-29.89zM1344.08 926h29.89v5h-29.89zM1344.08 933h29.89v1h-29.89zM1344.08 942h29.89v2h-29.89zM1344.08 968h29.89v1h-29.89zM1344.08 985h29.89v1h-29.89zM1373.97 873h29.06v2h-29.06zM1373.97 883h29.06v1h-29.06zM1373.97 886h29.06v2h-29.06zM1373.97 894h29.06v1h-29.06zM1373.97 896h29.06v1h-29.06zM1373.97 898h29.06v1h-29.06zM1373.97 906h29.06v1h-29.06zM1373.97 913h29.06v2h-29.06zM1373.97 925h29.06v1h-29.06zM1373.97 934h29.06v2h-29.06zM1373.97 965h29.06v2h-29.06zM1373.97 1006h29.06v1h-29.06zM1403.03 881h26.13v1h-26.13zM1403.03 883h26.13v2h-26.13zM1403.03 892h26.13v2h-26.13zM1403.03 895h26.13v1h-26.13zM1403.03 909h26.13v2h-26.13zM1403.03 912h26.13v1h-26.13zM1403.03 924h26.13v1h-26.13zM1403.03 939h26.13v1h-26.13zM1403.03 944h26.13v2h-26.13zM1403.03 960h26.13v1h-26.13zM1403.03 971h26.13v1h-26.13zM1403.03 978h26.13v2h-26.13zM1403.03 989h26.13v1h-26.13zM1403.03 995h26.13v1h-26.13zM1403.03 1001h26.13v1h-26.13zM1403.03 1015h26.13v1h-26.13zM1403.03 1018h26.13v1h-26.13zM1403.03 1031h26.13v2h-26.13zM1403.03 1039h26.13v1h-26.13zM1403.03 1046h26.13v1h-26.13zM1403.03 1048h26.13v1h-26.13zM1403.03 1050h26.13v1h-26.13zM1429.16 873h28.64v2h-28.64zM1429.16 890h28.64v2h-28.64zM1429.16 1052h28.64v1h-28.64zM1429.16 1054h28.64v1h-28.64zM1429.16 1060h28.64v1h-28.64zM1429.16 1062h28.64v1h-28.64zM1429.16 1065h28.64v1h-28.64zM1429.16 1073h28.64v1h-28.64zM1429.16 1077h28.64v1h-28.64zM1429.16 1088h28.64v1h-28.64zM1429.16 1098h28.64v1h-28.64zM1429.16 1126h28.64v1h-28.64zM1429.16 1146h28.64v1h-28.64zM1429.16 1149h28.64v1h-28.64zM1429.16 1158h28.64v4h-28.64zM1429.16 1169h28.64v1h-28.64zM1429.16 1174h28.64v2h-28.64zM1429.16 1179h28.64v1h-28.64zM1429.16 1183h28.64v1h-28.64zM1429.16 1206h28.64v1h-28.64zM1429.16 1208h28.64v2h-28.64zM1457.79 1040h29.68v2h-29.68zM1457.79 1049h29.68v1h-29.68zM1457.79 1064h29.68v1h-29.68zM1457.79 1098h29.68v1h-29.68zM1457.79 1101h29.68v1h-29.68zM1457.79 1110h29.68v1h-29.68zM1457.79 1122h29.68v1h-29.68zM1457.79 1151h29.68v1h-29.68zM1457.79 1157h29.68v2h-29.68zM1457.79 1166h29.68v2h-29.68zM1457.79 1175h29.68v1h-29.68zM1457.79 1183h29.68v1h-29.68zM1457.79 1192h29.68v1h-29.68zM1457.79 1202h29.68v1h-29.68zM1457.79 1204h29.68v1h-29.68zM1487.47 887h28.64v1h-28.64zM1487.47 911h28.64v1h-28.64zM1487.47 944h28.64v2h-28.64zM1487.47 955h28.64v2h-28.64zM1487.47 1055h28.64v1h-28.64zM1487.47 1063h28.64v2h-28.64zM1487.47 1121h28.64v1h-28.64zM1487.47 1136h28.64v1h-28.64zM1487.47 1145h28.64v1h-28.64zM1487.47 1158h28.64v1h-28.64zM1487.47 1162h28.64v1h-28.64zM1487.47 1192h28.64v2h-28.64zM1516.11 970h28.85v1h-28.85zM1516.11 1035h28.85v1h-28.85zM1516.11 1037h28.85v1h-28.85zM1516.11 1042h28.85v1h-28.85zM1516.11 1045h28.85v1h-28.85zM1516.11 1050h28.85v1h-28.85zM1544.96 947h29.26v1h-29.26zM1544.96 967h29.26v1h-29.26zM1544.96 1020h29.26v2h-29.26zM1544.96 1034h29.26v1h-29.26zM1544.96 1049h29.26v1h-29.26zM1574.22 879h25.08v1h-25.08zM1574.22 910h25.08v1h-25.08zM1574.22 912h25.08v2h-25.08zM1574.22 942h25.08v1h-25.08zM1574.22 954h25.08v2h-25.08zM1574.22 957h25.08v1h-25.08zM1574.22 981h25.08v2h-25.08zM1574.22 985h25.08v1h-25.08zM1574.22 988h25.08v1h-25.08zM1574.22 992h25.08v2h-25.08zM1574.22 997h25.08v1h-25.08zM1574.22 1000h25.08v2h-25.08zM1574.22 1011h25.08v3h-25.08zM1574.22 1015h25.08v2h-25.08zM1574.22 1018h25.08v1h-25.08zM1574.22 1022h25.08v6h-25.08zM1574.22 1035h25.08v1h-25.08zM1574.22 1047h25.08v2h-25.08zM1574.22 1170h25.08v1h-25.08zM1574.22 1172h25.08v1h-25.08z"/>
<path fill="#fef1f1" d="M1257.12 968h29.68v1h-29.68zM1257.12 1043h29.68v1h-29.68zM1257.12 1052h29.68v1h-29.68zM1257.12 1061h29.68v1h-29.68zM1257.12 1063h29.68v1h-29.68zM1257.12 1066h29.68v1h-29.68zM1257.12 1068h29.68v1h-29.68zM1257.12 1134h29.68v1h-29.68zM1257.12 1141h29.68v1h-29.68zM1257.12 1149h29.68v1h-29.68zM1257.12 1157h29.68v1h-29.68zM1257.12 1162h29.68v1h-29.68zM1257.12 1175h29.68v2h-29.68zM1257.12 1181h29.68v3h-29.68zM1257.12 1185h29.68v1h-29.68zM1257.12 1190h29.68v1h-29.68zM1257.12 1193h29.68v1h-29.68zM1257.12 1196h29.68v3h-29.68zM1257.12 1200h29.68v1h-29.68zM1257.12 1207h29.68v1h-29.68zM1257.12 1212h29.68v1h-29.68zM1257.12 1215h29.68v1h-29.68zM1286.81 874h29.26v2h-29.26zM1286.81 879h29.26v1h-29.26zM1286.81 897h29.26v1h-29.26zM1286.81 958h29.26v1h-29.26zM1286.81 968h29.26v1h-29.26zM1286.81 975h29.26v1h-29.26zM1286.81 1013h29.26v1h-29.26zM1286.81 1047h29.26v1h-29.26zM1286.81 1051h29.26v1h-29.26zM1286.81 1053h29.26v1h-29.26zM1286.81 1059h29.26v1h-29.26zM1286.81 1074h29.26v1h-29.26zM1286.81 1080h29.26v2h-29.26zM1286.81 1102h29.26v1h-29.26zM1286.81 1182h29.26v1h-29.26zM1286.81 1189h29.26v1h-29.26zM1286.81 1200h29.26v1h-29.26zM1286.81 1207h29.26v2h-29.26zM1316.07 964h28.01v1h-28.01zM1316.07 1012h28.01v1h-28.01zM1316.07 1047h28.01v1h-28.01zM1316.07 1070h28.01v1h-28.01zM1316.07 1074h28.01v2h-28.01zM1316.07 1087h28.01v2h-28.01zM1316.07 1102h28.01v1h-28.01zM1316.07 1109h28.01v3h-28.01zM1316.07 1118h28.01v1h-28.01zM1316.07 1120h28.01v1h-28.01zM1316.07 1125h28.01v1h-28.01zM1316.07 1132h28.01v1h-28.01zM1316.07 1137h28.01v1h-28.01zM1316.07 1140h28.01v2h-28.01zM1316.07 1144h28.01v1h-28.01zM1316.07 1146h28.01v1h-28.01zM1316.07 1153h28.01v1h-28.01zM1316.07 1160h28.01v2h-28.01zM1316.07 1166h28.01v1h-28.01zM1316.07 1168h28.01v1h-28.01zM1316.07 1172h28.01v1h-28.01zM1316.07 1175h28.01v1h-28.01zM1316.07 1180h28.01v3h-28.01zM1316.07 1184h28.01v1h-28.01zM1316.07 1191h28.01v5h-28.01zM1316.07 1197h28.01v2h-28.01zM1316.07 1202h28.01v1h-28.01zM1316.07 1205h28.01v1h-28.01zM1316.07 1209h28.01v3h-28.01zM1316.07 1213h28.01v1h-28.01zM1344.08 873h29.89v1h-29.89zM1344.08 889h29.89v1h-29.89zM1344.08 893h29.89v1h-29.89zM1344.08 901h29.89v1h-29.89zM1344.08 909h29.89v1h-29.89zM1344.08 921h29.89v1h-29.89zM1344.08 1020h29.89v2h-29.89zM1344.08 1023h29.89v1h-29.89zM1344.08 1025h29.89v1h-29.89zM1373.97 872h29.06v1h-29.06zM1373.97 880h29.06v1h-29.06zM1373.97 884h29.06v1h-29.06zM1373.97 889h29.06v1h-29.06zM1373.97 911h29.06v1h-29.06zM1373.97 918h29.06v2h-29.06zM1373.97 977h29.06v1h-29.06zM1403.03 959h26.13v1h-26.13zM1403.03 968h26.13v1h-26.13zM1403.03 1084h26.13v1h-26.13zM1403.03 1101h26.13v2h-26.13zM1429.16 875h28.64v1h-28.64zM1429.16 879h28.64v2h-28.64zM1429.16 945h28.64v1h-28.64zM1429.16 947h28.64v1h-28.64zM1429.16 965h28.64v1h-28.64zM1429.16 971h28.64v3h-28.64zM1429.16 979h28.64v1h-28.64zM1429.16 1067h28.64v1h-28.64zM1429.16 1072h28.64v1h-28.64zM1429.16 1079h28.64v1h-28.64zM1429.16 1090h28.64v2h-28.64zM1429.16 1095h28.64v1h-28.64zM1429.16 1128h28.64v1h-28.64zM1429.16 1148h28.64v1h-28.64zM1429.16 1154h28.64v1h-28.64zM1429.16 1164h28.64v2h-28.64zM1429.16 1170h28.64v2h-28.64zM1429.16 1176h28.64v1h-28.64zM1429.16 1180h28.64v1h-28.64zM1457.79 927h29.68v1h-29.68zM1457.79 970h29.68v1h-29.68zM1457.79 1012h29.68v1h-29.68zM1457.79 1020h29.68v1h-29.68zM1457.79 1054h29.68v1h-29.68zM1457.79 1081h29.68v4h-29.68zM1457.79 1109h29.68v1h-29.68zM1457.79 1145h29.68v1h-29.68zM1457.79 1147h29.68v2h-29.68zM1457.79 1150h29.68v1h-29.68zM1457.79 1153h29.68v1h-29.68zM1457.79 1160h29.68v1h-29.68zM1457.79 1162h29.68v1h-29.68zM1457.79 1164h29.68v1h-29.68zM1457.79 1168h29.68v1h-29.68zM1457.79 1173h29.68v2h-29.68zM1457.79 1177h29.68v1h-29.68zM1457.79 1193h29.68v1h-29.68zM1457.79 1198h29.68v2h-29.68zM1457.79 1201h29.68v1h-29.68zM1457.79 1209h29.68v1h-29.68zM1457.79 1212h29.68v1h-29.68zM1457.79 1214h29.68v2h-29.68zM1487.47 898h28.64v1h-28.64zM1487.47 900h28.64v1h-28.64zM1487.47 903h28.64v2h-28.64zM1487.47 908h28.64v1h-28.64zM1487.47 910h28.64v1h-28.64zM1487.47 925h28.64v1h-28.64zM1487.47 929h28.64v1h-28.64zM1487.47 934h28.64v4h-28.64zM1487.47 941h28.64v3h-28.64zM1487.47 950h28.64v1h-28.64zM1487.47 961h28.64v3h-28.64zM1487.47 972h28.64v2h-28.64zM1487.47 1001h28.64v1h-28.64zM1487.47 1007h28.64v1h-28.64zM1487.47 1009h28.64v1h-28.64zM1487.47 1051h28.64v2h-28.64zM1487.47 1056h28.64v1h-28.64zM1487.47 1062h28.64v1h-28.64zM1487.47 1066h28.64v1h-28.64zM1487.47 1072h28.64v3h-28.64zM1487.47 1076h28.64v1h-28.64zM1487.47 1082h28.64v2h-28.64zM1487.47 1091h28.64v2h-28.64zM1487.47 1098h28.64v1h-28.64zM1487.47 1102h28.64v1h-28.64zM1487.47 1105h28.64v1h-28.64zM1487.47 1107h28.64v2h-28.64zM1487.47 1110h28.64v1h-28.64zM1487.47 1113h28.64v1h-28.64zM1487.47 1116h28.64v1h-28.64zM1487.47 1122h28.64v1h-28.64zM1487.47 1124h28.64v1h-28.64zM1487.47 1146h28.64v1h-28.64zM1487.47 1150h28.64v1h-28.64zM1487.47 1153h28.64v3h-28.64zM1487.47 1157h28.64v1h-28.64zM1487.47 1163h28.64v2h-28.64zM1487.47 1202h28.64v1h-28.64zM1516.11 965h28.85v1h-28.85zM1516.11 969h28.85v1h-28.85zM1516.11 971h28.85v1h-28.85zM1516.11 973h28.85v2h-28.85zM1516.11 1044h28.85v1h-28.85zM1544.96 969h29.26v1h-29.26zM1544.96 971h29.26v2h-29.26zM1544.96 975h29.26v3h-29.26zM1574.22 965h25.08v1h-25.08zM1574.22 978h25.08v1h-25.08zM1574.22 1004h25.08v1h-25.08zM1574.22 1032h25.08v1h-25.08zM1574.22 1040h25.08v1h-25.08zM1574.22 1042h25.08v2h-25.08zM1574.22 1144h25.08v1h-25.08zM1574.22 1151h25.08v1h-25.08z"/>
<path fill="#f8bab8" d="M1257.12 1070h29.68v1h-29.68zM1257.12 1080h29.68v1h-29.68zM1257.12 1084h29.68v1h-29.68zM1257.12 1105h29.68v2h-29.68zM1257.12 1139h29.68v1h-29.68zM1257.12 1159h29.68v1h-29.68zM1257.12 1210h29.68v1h-29.68zM1286.81 1057h29.26v1h-29.26zM1286.81 1075h29.26v1h-29.26zM1286.81 1078h29.26v1h-29.26zM1286.81 1090h29.26v2h-29.26zM1286.81 1103h29.26v1h-29.26zM1286.81 1130h29.26v2h-29.26zM1286.81 1136h29.26v1h-29.26zM1286.81 1144h29.26v1h-29.26zM1286.81 1148h29.26v1h-29.26zM1286.81 1152h29.26v2h-29.26zM1286.81 1155h29.26v1h-29.26zM1286.81 1157h29.26v1h-29.26zM1286.81 1191h29.26v1h-29.26zM1286.81 1203h29.26v1h-29.26zM1316.07 1052h28.01v1h-28.01zM1316.07 1055h28.01v4h-28.01zM1316.07 1062h28.01v1h-28.01zM1316.07 1072h28.01v1h-28.01zM1316.07 1107h28.01v1h-28.01zM1344.08 877h29.89v2h-29.89zM1344.08 887h29.89v1h-29.89zM1344.08 890h29.89v1h-29.89zM1344.08 913h29.89v1h-29.89zM1344.08 936h29.89v2h-29.89zM1344.08 947h29.89v2h-29.89zM1344.08 960h29.89v1h-29.89zM1344.08 983h29.89v1h-29.89zM1344.08 986h29.89v1h-29.89zM1344.08 992h29.89v1h-29.89zM1344.08 1005h29.89v2h-29.89zM1344.08 1018h29.89v2h-29.89zM1373.97 923h29.06v2h-29.06zM1373.97 926h29.06v1h-29.06zM1373.97 930h29.06v1h-29.06zM1373.97 933h29.06v1h-29.06zM1373.97 939h29.06v1h-29.06zM1373.97 944h29.06v1h-29.06zM1373.97 953h29.06v1h-29.06zM1373.97 976h29.06v1h-29.06zM1373.97 981h29.06v1h-29.06zM1373.97 990h29.06v1h-29.06zM1373.97 1011h29.06v1h-29.06zM1373.97 1014h29.06v2h-29.06zM1373.97 1018h29.06v1h-29.06zM1373.97 1025h29.06v4h-29.06zM1373.97 1034h29.06v1h-29.06zM1403.03 876h26.13v1h-26.13zM1403.03 887h26.13v2h-26.13zM1403.03 896h26.13v1h-26.13zM1403.03 901h26.13v1h-26.13zM1403.03 908h26.13v1h-26.13zM1403.03 935h26.13v3h-26.13zM1403.03 943h26.13v1h-26.13zM1403.03 949h26.13v2h-26.13zM1403.03 976h26.13v1h-26.13zM1403.03 982h26.13v3h-26.13zM1403.03 993h26.13v2h-26.13zM1403.03 996h26.13v2h-26.13zM1403.03 1000h26.13v1h-26.13zM1403.03 1002h26.13v1h-26.13zM1403.03 1005h26.13v3h-26.13zM1403.03 1013h26.13v2h-26.13zM1403.03 1016h26.13v1h-26.13zM1403.03 1024h26.13v1h-26.13zM1403.03 1026h26.13v1h-26.13zM1403.03 1028h26.13v2h-26.13zM1403.03 1034h26.13v1h-26.13zM1403.03 1036h26.13v3h-26.13zM1403.03 1044h26.13v1h-26.13zM1429.16 892h28.64v1h-28.64zM1429.16 1055h28.64v1h-28.64zM1429.16 1061h28.64v1h-28.64zM1429.16 1075h28.64v1h-28.64zM1429.16 1110h28.64v1h-28.64zM1429.16 1115h28.64v2h-28.64zM1429.16 1122h28.64v1h-28.64zM1429.16 1124h28.64v1h-28.64zM1429.16 1156h28.64v1h-28.64zM1429.16 1167h28.64v1h-28.64zM1429.16 1182h28.64v1h-28.64zM1429.16 1202h28.64v2h-28.64zM1429.16 1207h28.64v1h-28.64zM1457.79 1100h29.68v1h-29.68zM1457.79 1102h29.68v1h-29.68zM1457.79 1107h29.68v2h-29.68zM1457.79 1114h29.68v1h-29.68zM1457.79 1120h29.68v1h-29.68zM1457.79 1182h29.68v1h-29.68zM1457.79 1195h29.68v2h-29.68zM1457.79 1205h29.68v1h-29.68zM1487.47 872h28.64v2h-28.64zM1487.47 875h28.64v4h-28.64zM1487.47 888h28.64v1h-28.64zM1487.47 1130h28.64v1h-28.64zM1487.47 1172h28.64v1h-28.64zM1487.47 1174h28.64v1h-28.64zM1487.47 1178h28.64v2h-28.64zM1487.47 1183h28.64v1h-28.64zM1487.47 1186h28.64v1h-28.64zM1487.47 1190h28.64v1h-28.64zM1487.47 1199h28.64v1h-28.64zM1516.11 876h28.85v1h-28.85zM1516.11 881h28.85v1h-28.85zM1516.11 912h28.85v1h-28.85zM1516.11 918h28.85v1h-28.85zM1516.11 929h28.85v1h-28.85zM1516.11 938h28.85v1h-28.85zM1516.11 976h28.85v2h-28.85zM1516.11 990h28.85v1h-28.85zM1516.11 994h28.85v1h-28.85zM1516.11 1010h28.85v1h-28.85zM1516.11 1017h28.85v1h-28.85zM1516.11 1030h28.85v1h-28.85zM1516.11 1039h28.85v1h-28.85zM1516.11 1048h28.85v2h-28.85zM1544.96 876h29.26v1h-29.26zM1544.96 879h29.26v2h-29.26zM1544.96 892h29.26v1h-29.26zM1544.96 945h29.26v1h-29.26zM1544.96 959h29.26v1h-29.26zM1544.96 982h29.26v2h-29.26zM1544.96 1000h29.26v1h-29.26zM1544.96 1011h29.26v2h-29.26zM1544.96 1019h29.26v1h-29.26zM1544.96 1032h29.26v1h-29.26zM1544.96 1035h29.26v1h-29.26zM1544.96 1037h29.26v1h-29.26zM1544.96 1047h29.26v1h-29.26zM1574.22 872h25.08v3h-25.08zM1574.22 880h25.08v1h-25.08zM1574.22 882h25.08v1h-25.08zM1574.22 885h25.08v1h-25.08zM1574.22 888h25.08v1h-25.08zM1574.22 895h25.08v1h-25.08zM1574.22 899h25.08v3h-25.08zM1574.22 908h25.08v1h-25.08zM1574.22 919h25.08v1h-25.08zM1574.22 922h25.08v2h-25.08zM1574.22 931h25.08v2h-25.08zM1574.22 934h25.08v1h-25.08zM1574.22 937h25.08v1h-25.08zM1574.22 940h25.08v1h-25.08zM1574.22 945h25.08v4h-25.08zM1574.22 950h25.08v4h-25.08zM1574.22 956h25.08v1h-25.08zM1574.22 961h25.08v1h-25.08zM1574.22 979h25.08v1h-25.08zM1574.22 987h25.08v1h-25.08zM1574.22 998h25.08v2h-25.08zM1574.22 1005h25.08v1h-25.08zM1574.22 1019h25.08v1h-25.08zM1574.22 1036h25.08v1h-25.08zM1574.22 1039h25.08v1h-25.08z"/>
<path fill="#f69e9c" d="M1257.12 1071h29.68v2h-29.68zM1257.12 1077h29.68v1h-29.68zM1257.12 1085h29.68v2h-29.68zM1257.12 1104h29.68v1h-29.68zM1257.12 1108h29.68v1h-29.68zM1257.12 1113h29.68v1h-29.68zM1257.12 1120h29.68v1h-29.68zM1257.12 1124h29.68v2h-29.68zM1286.81 1135h29.26v1h-29.26zM1286.81 1137h29.26v2h-29.26zM1286.81 1150h29.26v1h-29.26zM1286.81 1156h29.26v1h-29.26zM1286.81 1158h29.26v1h-29.26zM1286.81 1162h29.26v1h-29.26zM1344.08 920h29.89v1h-29.89zM1344.08 973h29.89v1h-29.89zM1344.08 977h29.89v1h-29.89zM1344.08 993h29.89v1h-29.89zM1344.08 1001h29.89v1h-29.89zM1344.08 1030h29.89v1h-29.89zM1344.08 1041h29.89v1h-29.89zM1373.97 942h29.06v1h-29.06zM1373.97 972h29.06v2h-29.06zM1373.97 999h29.06v1h-29.06zM1373.97 1001h29.06v1h-29.06zM1373.97 1010h29.06v1h-29.06zM1373.97 1032h29.06v2h-29.06zM1403.03 886h26.13v1h-26.13zM1403.03 890h26.13v1h-26.13zM1403.03 897h26.13v1h-26.13zM1403.03 914h26.13v2h-26.13zM1403.03 948h26.13v1h-26.13zM1403.03 954h26.13v2h-26.13zM1403.03 957h26.13v1h-26.13zM1403.03 961h26.13v2h-26.13zM1403.03 987h26.13v1h-26.13zM1403.03 1004h26.13v1h-26.13zM1403.03 1020h26.13v1h-26.13zM1403.03 1035h26.13v1h-26.13zM1429.16 1100h28.64v1h-28.64zM1429.16 1102h28.64v3h-28.64zM1429.16 1118h28.64v1h-28.64zM1429.16 1123h28.64v1h-28.64zM1429.16 1136h28.64v1h-28.64zM1429.16 1142h28.64v1h-28.64zM1429.16 1144h28.64v1h-28.64zM1429.16 1192h28.64v2h-28.64zM1429.16 1196h28.64v1h-28.64zM1457.79 1092h29.68v2h-29.68zM1457.79 1095h29.68v1h-29.68zM1457.79 1104h29.68v2h-29.68zM1457.79 1115h29.68v3h-29.68zM1457.79 1178h29.68v1h-29.68zM1457.79 1180h29.68v2h-29.68zM1457.79 1189h29.68v1h-29.68zM1487.47 879h28.64v1h-28.64zM1487.47 1131h28.64v1h-28.64zM1487.47 1141h28.64v1h-28.64zM1487.47 1144h28.64v1h-28.64zM1487.47 1173h28.64v1h-28.64zM1487.47 1182h28.64v1h-28.64zM1487.47 1187h28.64v1h-28.64zM1487.47 1196h28.64v1h-28.64zM1487.47 1209h28.64v1h-28.64zM1487.47 1211h28.64v1h-28.64zM1487.47 1215h28.64v1h-28.64zM1516.11 878h28.85v1h-28.85zM1516.11 882h28.85v1h-28.85zM1516.11 884h28.85v2h-28.85zM1516.11 891h28.85v4h-28.85zM1516.11 904h28.85v1h-28.85zM1516.11 910h28.85v2h-28.85zM1516.11 920h28.85v2h-28.85zM1516.11 925h28.85v1h-28.85zM1516.11 930h28.85v2h-28.85zM1516.11 937h28.85v1h-28.85zM1516.11 944h28.85v1h-28.85zM1516.11 952h28.85v1h-28.85zM1516.11 954h28.85v1h-28.85zM1516.11 958h28.85v3h-28.85zM1516.11 963h28.85v1h-28.85zM1516.11 979h28.85v2h-28.85zM1516.11 984h28.85v1h-28.85zM1516.11 987h28.85v2h-28.85zM1516.11 1003h28.85v1h-28.85zM1516.11 1008h28.85v2h-28.85zM1516.11 1032h28.85v1h-28.85zM1544.96 872h29.26v1h-29.26zM1544.96 878h29.26v1h-29.26zM1544.96 882h29.26v3h-29.26zM1544.96 887h29.26v1h-29.26zM1544.96 891h29.26v1h-29.26zM1544.96 950h29.26v1h-29.26zM1544.96 952h29.26v1h-29.26zM1544.96 960h29.26v1h-29.26zM1544.96 962h29.26v2h-29.26zM1544.96 990h29.26v1h-29.26zM1544.96 995h29.26v1h-29.26zM1544.96 1002h29.26v2h-29.26zM1544.96 1005h29.26v1h-29.26zM1544.96 1016h29.26v1h-29.26zM1544.96 1025h29.26v1h-29.26zM1544.96 1030h29.26v1h-29.26zM1544.96 1038h29.26v2h-29.26zM1544.96 1050h29.26v1h-29.26zM1574.22 876h25.08v1h-25.08zM1574.22 878h25.08v1h-25.08zM1574.22 889h25.08v1h-25.08zM1574.22 903h25.08v1h-25.08zM1574.22 927h25.08v1h-25.08zM1574.22 935h25.08v1h-25.08zM1574.22 1029h25.08v1h-25.08z"/>
<path fill="#fac8c6" d="M1257.12 1079h29.68v1h-29.68zM1257.12 1083h29.68v1h-29.68zM1257.12 1089h29.68v1h-29.68zM1257.12 1100h29.68v1h-29.68zM1257.12 1102h29.68v1h-29.68zM1257.12 1112h29.68v1h-29.68zM1257.12 1118h29.68v2h-29.68zM1257.12 1142h29.68v1h-29.68zM1257.12 1145h29.68v1h-29.68zM1257.12 1147h29.68v1h-29.68zM1257.12 1151h29.68v3h-29.68zM1257.12 1158h29.68v1h-29.68zM1257.12 1160h29.68v1h-29.68zM1257.12 1202h29.68v1h-29.68zM1257.12 1208h29.68v2h-29.68zM1286.81 1052h29.26v1h-29.26zM1286.81 1056h29.26v1h-29.26zM1286.81 1058h29.26v1h-29.26zM1286.81 1063h29.26v1h-29.26zM1286.81 1067h29.26v1h-29.26zM1286.81 1076h29.26v1h-29.26zM1286.81 1086h29.26v1h-29.26zM1286.81 1133h29.26v1h-29.26zM1286.81 1139h29.26v1h-29.26zM1286.81 1146h29.26v2h-29.26zM1286.81 1149h29.26v1h-29.26zM1286.81 1166h29.26v1h-29.26zM1286.81 1169h29.26v2h-29.26zM1286.81 1176h29.26v1h-29.26zM1286.81 1178h29.26v1h-29.26zM1286.81 1184h29.26v2h-29.26zM1286.81 1190h29.26v1h-29.26zM1286.81 1193h29.26v2h-29.26zM1286.81 1202h29.26v1h-29.26zM1286.81 1212h29.26v2h-29.26zM1286.81 1215h29.26v1h-29.26zM1316.07 1054h28.01v1h-28.01zM1316.07 1063h28.01v1h-28.01zM1316.07 1066h28.01v1h-28.01zM1316.07 1068h28.01v1h-28.01zM1316.07 1077h28.01v1h-28.01zM1316.07 1084h28.01v3h-28.01zM1316.07 1093h28.01v2h-28.01zM1316.07 1115h28.01v1h-28.01zM1316.07 1128h28.01v2h-28.01zM1316.07 1159h28.01v1h-28.01zM1316.07 1203h28.01v1h-28.01zM1344.08 879h29.89v1h-29.89zM1344.08 891h29.89v1h-29.89zM1344.08 895h29.89v1h-29.89zM1344.08 898h29.89v1h-29.89zM1344.08 914h29.89v2h-29.89zM1344.08 931h29.89v1h-29.89zM1344.08 934h29.89v2h-29.89zM1344.08 958h29.89v2h-29.89zM1344.08 972h29.89v1h-29.89zM1344.08 990h29.89v2h-29.89zM1344.08 995h29.89v1h-29.89zM1344.08 998h29.89v1h-29.89zM1344.08 1007h29.89v2h-29.89zM1344.08 1032h29.89v1h-29.89zM1344.08 1034h29.89v1h-29.89zM1373.97 877h29.06v1h-29.06zM1373.97 885h29.06v1h-29.06zM1373.97 895h29.06v1h-29.06zM1373.97 903h29.06v3h-29.06zM1373.97 917h29.06v1h-29.06zM1373.97 928h29.06v1h-29.06zM1373.97 932h29.06v1h-29.06zM1373.97 941h29.06v1h-29.06zM1373.97 943h29.06v1h-29.06zM1373.97 945h29.06v1h-29.06zM1373.97 952h29.06v1h-29.06zM1373.97 958h29.06v5h-29.06zM1373.97 967h29.06v1h-29.06zM1373.97 979h29.06v2h-29.06zM1373.97 994h29.06v2h-29.06zM1373.97 997h29.06v2h-29.06zM1373.97 1016h29.06v2h-29.06zM1403.03 874h26.13v1h-26.13zM1403.03 885h26.13v1h-26.13zM1403.03 889h26.13v1h-26.13zM1403.03 894h26.13v1h-26.13zM1403.03 902h26.13v1h-26.13zM1403.03 906h26.13v2h-26.13zM1403.03 911h26.13v1h-26.13zM1403.03 916h26.13v2h-26.13zM1403.03 921h26.13v3h-26.13zM1403.03 925h26.13v1h-26.13zM1403.03 927h26.13v2h-26.13zM1403.03 933h26.13v2h-26.13zM1403.03 938h26.13v1h-26.13zM1403.03 942h26.13v1h-26.13zM1403.03 952h26.13v1h-26.13zM1403.03 977h26.13v1h-26.13zM1403.03 981h26.13v1h-26.13zM1403.03 986h26.13v1h-26.13zM1403.03 990h26.13v2h-26.13zM1403.03 998h26.13v2h-26.13zM1403.03 1003h26.13v1h-26.13zM1403.03 1008h26.13v2h-26.13zM1403.03 1011h26.13v1h-26.13zM1403.03 1030h26.13v1h-26.13zM1403.03 1033h26.13v1h-26.13zM1403.03 1042h26.13v1h-26.13zM1403.03 1045h26.13v1h-26.13zM1429.16 893h28.64v2h-28.64zM1429.16 1063h28.64v1h-28.64zM1429.16 1076h28.64v1h-28.64zM1429.16 1099h28.64v1h-28.64zM1429.16 1109h28.64v1h-28.64zM1429.16 1111h28.64v2h-28.64zM1429.16 1114h28.64v1h-28.64zM1429.16 1125h28.64v1h-28.64zM1429.16 1127h28.64v1h-28.64zM1429.16 1145h28.64v1h-28.64zM1429.16 1150h28.64v1h-28.64zM1429.16 1157h28.64v1h-28.64zM1429.16 1162h28.64v1h-28.64zM1429.16 1166h28.64v1h-28.64zM1429.16 1173h28.64v1h-28.64zM1429.16 1184h28.64v2h-28.64zM1429.16 1197h28.64v1h-28.64zM1429.16 1201h28.64v1h-28.64zM1429.16 1210h28.64v1h-28.64zM1429.16 1214h28.64v1h-28.64zM1457.79 1055h29.68v1h-29.68zM1457.79 1063h29.68v1h-29.68zM1457.79 1076h29.68v1h-29.68zM1457.79 1094h29.68v1h-29.68zM1457.79 1096h29.68v1h-29.68zM1457.79 1099h29.68v1h-29.68zM1457.79 1111h29.68v2h-29.68zM1457.79 1118h29.68v1h-29.68zM1457.79 1121h29.68v1h-29.68zM1457.79 1123h29.68v3h-29.68zM1457.79 1127h29.68v2h-29.68zM1457.79 1155h29.68v1h-29.68zM1457.79 1179h29.68v1h-29.68zM1457.79 1184h29.68v1h-29.68zM1457.79 1190h29.68v1h-29.68zM1457.79 1200h29.68v1h-29.68zM1457.79 1203h29.68v1h-29.68zM1457.79 1206h29.68v2h-29.68zM1487.47 881h28.64v1h-28.64zM1487.47 892h28.64v1h-28.64zM1487.47 1075h28.64v1h-28.64zM1487.47 1135h28.64v1h-28.64zM1487.47 1137h28.64v2h-28.64zM1487.47 1170h28.64v2h-28.64zM1487.47 1175h28.64v3h-28.64zM1487.47 1184h28.64v1h-28.64zM1487.47 1191h28.64v1h-28.64zM1487.47 1194h28.64v1h-28.64zM1487.47 1197h28.64v1h-28.64zM1516.11 913h28.85v1h-28.85zM1516.11 919h28.85v1h-28.85zM1516.11 936h28.85v1h-28.85zM1516.11 989h28.85v1h-28.85zM1516.11 991h28.85v1h-28.85zM1516.11 1002h28.85v1h-28.85zM1516.11 1007h28.85v1h-28.85zM1516.11 1018h28.85v1h-28.85zM1516.11 1028h28.85v1h-28.85zM1516.11 1036h28.85v1h-28.85zM1516.11 1040h28.85v2h-28.85zM1516.11 1043h28.85v1h-28.85zM1516.11 1046h28.85v2h-28.85zM1544.96 881h29.26v1h-29.26zM1544.96 946h29.26v1h-29.26zM1544.96 948h29.26v1h-29.26zM1544.96 954h29.26v2h-29.26zM1544.96 981h29.26v1h-29.26zM1544.96 991h29.26v1h-29.26zM1544.96 1015h29.26v1h-29.26zM1544.96 1023h29.26v1h-29.26zM1544.96 1031h29.26v1h-29.26zM1544.96 1036h29.26v1h-29.26zM1544.96 1041h29.26v1h-29.26zM1544.96 1044h29.26v3h-29.26zM1544.96 1048h29.26v1h-29.26zM1574.22 881h25.08v1h-25.08zM1574.22 883h25.08v2h-25.08zM1574.22 891h25.08v2h-25.08zM1574.22 897h25.08v2h-25.08zM1574.22 909h25.08v1h-25.08zM1574.22 911h25.08v1h-25.08zM1574.22 914h25.08v1h-25.08zM1574.22 920h25.08v1h-25.08zM1574.22 924h25.08v2h-25.08zM1574.22 929h25.08v1h-25.08zM1574.22 933h25.08v1h-25.08zM1574.22 936h25.08v1h-25.08zM1574.22 938h25.08v2h-25.08zM1574.22 943h25.08v2h-25.08zM1574.22 959h25.08v2h-25.08zM1574.22 980h25.08v1h-25.08zM1574.22 983h25.08v2h-25.08zM1574.22 990h25.08v1h-25.08zM1574.22 994h25.08v3h-25.08zM1574.22 1017h25.08v1h-25.08zM1574.22 1020h25.08v2h-25.08zM1574.22 1028h25.08v1h-25.08zM1574.22 1030h25.08v1h-25.08zM1574.22 1033h25.08v2h-25.08zM1574.22 1037h25.08v1h-25.08zM1574.22 1045h25.08v2h-25.08z"/>
<path fill="#f7acaa" d="M1257.12 1081h29.68v1h-29.68zM1257.12 1099h29.68v1h-29.68zM1257.12 1101h29.68v1h-29.68zM1257.12 1109h29.68v2h-29.68zM1257.12 1121h29.68v1h-29.68zM1286.81 1077h29.26v1h-29.26zM1286.81 1106h29.26v1h-29.26zM1286.81 1134h29.26v1h-29.26zM1286.81 1143h29.26v1h-29.26zM1286.81 1151h29.26v1h-29.26zM1286.81 1159h29.26v1h-29.26zM1316.07 1067h28.01v1h-28.01zM1316.07 1103h28.01v1h-28.01zM1344.08 899h29.89v1h-29.89zM1344.08 946h29.89v1h-29.89zM1344.08 949h29.89v2h-29.89zM1344.08 961h29.89v1h-29.89zM1344.08 969h29.89v3h-29.89zM1344.08 975h29.89v1h-29.89zM1344.08 981h29.89v2h-29.89zM1344.08 984h29.89v1h-29.89zM1344.08 989h29.89v1h-29.89zM1344.08 994h29.89v1h-29.89zM1344.08 996h29.89v2h-29.89zM1344.08 999h29.89v1h-29.89zM1344.08 1004h29.89v1h-29.89zM1344.08 1016h29.89v2h-29.89zM1344.08 1028h29.89v1h-29.89zM1344.08 1031h29.89v1h-29.89zM1344.08 1033h29.89v1h-29.89zM1344.08 1039h29.89v2h-29.89zM1373.97 921h29.06v2h-29.06zM1373.97 927h29.06v1h-29.06zM1373.97 929h29.06v1h-29.06zM1373.97 931h29.06v1h-29.06zM1373.97 936h29.06v3h-29.06zM1373.97 946h29.06v2h-29.06zM1373.97 954h29.06v4h-29.06zM1373.97 963h29.06v1h-29.06zM1373.97 975h29.06v1h-29.06zM1373.97 986h29.06v1h-29.06zM1373.97 991h29.06v3h-29.06zM1373.97 996h29.06v1h-29.06zM1373.97 1000h29.06v1h-29.06zM1373.97 1008h29.06v2h-29.06zM1373.97 1013h29.06v1h-29.06zM1373.97 1019h29.06v2h-29.06zM1373.97 1024h29.06v1h-29.06zM1373.97 1029h29.06v3h-29.06zM1373.97 1039h29.06v1h-29.06zM1403.03 875h26.13v1h-26.13zM1403.03 891h26.13v1h-26.13zM1403.03 913h26.13v1h-26.13zM1403.03 920h26.13v1h-26.13zM1403.03 929h26.13v4h-26.13zM1403.03 940h26.13v1h-26.13zM1403.03 946h26.13v2h-26.13zM1403.03 953h26.13v1h-26.13zM1403.03 963h26.13v1h-26.13zM1403.03 980h26.13v1h-26.13zM1403.03 992h26.13v1h-26.13zM1403.03 1010h26.13v1h-26.13zM1403.03 1021h26.13v3h-26.13zM1403.03 1027h26.13v1h-26.13zM1403.03 1043h26.13v1h-26.13zM1429.16 1101h28.64v1h-28.64zM1429.16 1105h28.64v4h-28.64zM1429.16 1113h28.64v1h-28.64zM1429.16 1119h28.64v1h-28.64zM1429.16 1121h28.64v1h-28.64zM1429.16 1130h28.64v2h-28.64zM1429.16 1137h28.64v2h-28.64zM1429.16 1143h28.64v1h-28.64zM1429.16 1155h28.64v1h-28.64zM1429.16 1168h28.64v1h-28.64zM1429.16 1186h28.64v1h-28.64zM1429.16 1189h28.64v3h-28.64zM1429.16 1194h28.64v1h-28.64zM1429.16 1200h28.64v1h-28.64zM1429.16 1204h28.64v1h-28.64zM1429.16 1211h28.64v1h-28.64zM1429.16 1216h28.64v1h-28.64zM1457.79 1090h29.68v2h-29.68zM1457.79 1106h29.68v1h-29.68zM1457.79 1113h29.68v1h-29.68zM1457.79 1119h29.68v1h-29.68zM1457.79 1134h29.68v4h-29.68zM1457.79 1143h29.68v2h-29.68zM1487.47 874h28.64v1h-28.64zM1487.47 880h28.64v1h-28.64zM1487.47 886h28.64v1h-28.64zM1487.47 1132h28.64v3h-28.64zM1487.47 1140h28.64v1h-28.64zM1487.47 1143h28.64v1h-28.64zM1487.47 1180h28.64v2h-28.64zM1487.47 1189h28.64v1h-28.64zM1487.47 1195h28.64v1h-28.64zM1487.47 1208h28.64v1h-28.64zM1487.47 1213h28.64v1h-28.64zM1516.11 877h28.85v1h-28.85zM1516.11 883h28.85v1h-28.85zM1516.11 890h28.85v1h-28.85zM1516.11 896h28.85v2h-28.85zM1516.11 908h28.85v2h-28.85zM1516.11 927h28.85v2h-28.85zM1516.11 939h28.85v1h-28.85zM1516.11 946h28.85v3h-28.85zM1516.11 957h28.85v1h-28.85zM1516.11 961h28.85v2h-28.85zM1516.11 978h28.85v1h-28.85zM1516.11 982h28.85v2h-28.85zM1516.11 985h28.85v1h-28.85zM1516.11 992h28.85v2h-28.85zM1516.11 995h28.85v1h-28.85zM1516.11 1001h28.85v1h-28.85zM1516.11 1004h28.85v3h-28.85zM1516.11 1011h28.85v2h-28.85zM1516.11 1014h28.85v3h-28.85zM1516.11 1019h28.85v3h-28.85zM1516.11 1031h28.85v1h-28.85zM1516.11 1038h28.85v1h-28.85zM1544.96 875h29.26v1h-29.26zM1544.96 885h29.26v1h-29.26zM1544.96 889h29.26v2h-29.26zM1544.96 931h29.26v1h-29.26zM1544.96 949h29.26v1h-29.26zM1544.96 953h29.26v1h-29.26zM1544.96 956h29.26v3h-29.26zM1544.96 985h29.26v1h-29.26zM1544.96 999h29.26v1h-29.26zM1544.96 1004h29.26v1h-29.26zM1544.96 1010h29.26v1h-29.26zM1544.96 1013h29.26v1h-29.26zM1544.96 1024h29.26v1h-29.26zM1544.96 1040h29.26v1h-29.26zM1544.96 1042h29.26v2h-29.26zM1574.22 875h25.08v1h-25.08zM1574.22 886h25.08v1h-25.08zM1574.22 890h25.08v1h-25.08zM1574.22 893h25.08v2h-25.08zM1574.22 896h25.08v1h-25.08zM1574.22 904h25.08v1h-25.08zM1574.22 906h25.08v2h-25.08zM1574.22 921h25.08v1h-25.08zM1574.22 926h25.08v1h-25.08zM1574.22 928h25.08v1h-25.08zM1574.22 949h25.08v1h-25.08zM1574.22 986h25.08v1h-25.08zM1574.22 1006h25.08v4h-25.08zM1574.22 1038h25.08v1h-25.08z"/>
<path fill="#f4908e" d="M1257.12 1093h29.68v2h-29.68zM1257.12 1098h29.68v1h-29.68zM1257.12 1107h29.68v1h-29.68zM1257.12 1117h29.68v1h-29.68zM1257.12 1122h29.68v2h-29.68zM1257.12 1129h29.68v1h-29.68zM1286.81 1118h29.26v2h-29.26zM1286.81 1121h29.26v1h-29.26zM1286.81 1132h29.26v1h-29.26zM1286.81 1163h29.26v2h-29.26zM1344.08 978h29.89v1h-29.89zM1344.08 987h29.89v2h-29.89zM1344.08 1009h29.89v1h-29.89zM1344.08 1013h29.89v2h-29.89zM1344.08 1029h29.89v1h-29.89zM1344.08 1035h29.89v1h-29.89zM1344.08 1038h29.89v1h-29.89zM1344.08 1049h29.89v1h-29.89zM1373.97 920h29.06v1h-29.06zM1373.97 940h29.06v1h-29.06zM1373.97 951h29.06v1h-29.06zM1373.97 983h29.06v1h-29.06zM1373.97 985h29.06v1h-29.06zM1373.97 1003h29.06v1h-29.06zM1373.97 1021h29.06v3h-29.06zM1373.97 1036h29.06v2h-29.06zM1373.97 1050h29.06v1h-29.06zM1403.03 878h26.13v1h-26.13zM1403.03 899h26.13v2h-26.13zM1403.03 926h26.13v1h-26.13zM1403.03 956h26.13v1h-26.13zM1403.03 958h26.13v1h-26.13zM1403.03 988h26.13v1h-26.13zM1403.03 1012h26.13v1h-26.13zM1429.16 1117h28.64v1h-28.64zM1429.16 1120h28.64v1h-28.64zM1429.16 1188h28.64v1h-28.64zM1429.16 1195h28.64v1h-28.64zM1429.16 1212h28.64v1h-28.64zM1457.79 1103h29.68v1h-29.68zM1457.79 1130h29.68v1h-29.68zM1457.79 1132h29.68v2h-29.68zM1457.79 1138h29.68v1h-29.68zM1457.79 1140h29.68v1h-29.68zM1457.79 1142h29.68v1h-29.68zM1457.79 1186h29.68v1h-29.68zM1487.47 889h28.64v3h-28.64zM1487.47 1139h28.64v1h-28.64zM1487.47 1142h28.64v1h-28.64zM1487.47 1188h28.64v1h-28.64zM1487.47 1210h28.64v1h-28.64zM1487.47 1216h28.64v1h-28.64zM1516.11 873h28.85v2h-28.85zM1516.11 888h28.85v1h-28.85zM1516.11 895h28.85v1h-28.85zM1516.11 898h28.85v3h-28.85zM1516.11 903h28.85v1h-28.85zM1516.11 907h28.85v1h-28.85zM1516.11 926h28.85v1h-28.85zM1516.11 932h28.85v1h-28.85zM1516.11 935h28.85v1h-28.85zM1516.11 940h28.85v2h-28.85zM1516.11 945h28.85v1h-28.85zM1516.11 949h28.85v1h-28.85zM1516.11 953h28.85v1h-28.85zM1516.11 955h28.85v1h-28.85zM1516.11 981h28.85v1h-28.85zM1516.11 996h28.85v5h-28.85zM1516.11 1013h28.85v1h-28.85zM1516.11 1026h28.85v2h-28.85zM1516.11 1029h28.85v1h-28.85zM1516.11 1033h28.85v2h-28.85zM1544.96 873h29.26v1h-29.26zM1544.96 888h29.26v1h-29.26zM1544.96 893h29.26v2h-29.26zM1544.96 902h29.26v2h-29.26zM1544.96 910h29.26v1h-29.26zM1544.96 919h29.26v1h-29.26zM1544.96 922h29.26v1h-29.26zM1544.96 928h29.26v2h-29.26zM1544.96 932h29.26v1h-29.26zM1544.96 951h29.26v1h-29.26zM1544.96 961h29.26v1h-29.26zM1544.96 989h29.26v1h-29.26zM1544.96 992h29.26v3h-29.26zM1544.96 1001h29.26v1h-29.26zM1544.96 1007h29.26v3h-29.26zM1544.96 1014h29.26v1h-29.26zM1544.96 1017h29.26v2h-29.26zM1544.96 1026h29.26v4h-29.26zM1574.22 877h25.08v1h-25.08zM1574.22 887h25.08v1h-25.08zM1574.22 902h25.08v1h-25.08zM1574.22 905h25.08v1h-25.08zM1574.22 915h25.08v4h-25.08zM1574.22 941h25.08v1h-25.08zM1574.22 962h25.08v1h-25.08z"/>
<path fill="#f28381" d="M1257.12 1103h29.68v1h-29.68zM1257.12 1111h29.68v1h-29.68zM1257.12 1114h29.68v3h-29.68zM1257.12 1126h29.68v2h-29.68zM1286.81 1107h29.26v1h-29.26zM1286.81 1113h29.26v1h-29.26zM1286.81 1117h29.26v1h-29.26zM1286.81 1123h29.26v1h-29.26zM1286.81 1125h29.26v1h-29.26zM1286.81 1128h29.26v1h-29.26zM1344.08 974h29.89v1h-29.89zM1344.08 976h29.89v1h-29.89zM1344.08 980h29.89v1h-29.89zM1344.08 1000h29.89v1h-29.89zM1344.08 1002h29.89v2h-29.89zM1344.08 1011h29.89v1h-29.89zM1344.08 1015h29.89v1h-29.89zM1344.08 1036h29.89v2h-29.89zM1344.08 1045h29.89v1h-29.89zM1344.08 1047h29.89v1h-29.89zM1344.08 1050h29.89v1h-29.89zM1373.97 948h29.06v1h-29.06zM1373.97 950h29.06v1h-29.06zM1373.97 968h29.06v1h-29.06zM1373.97 982h29.06v1h-29.06zM1373.97 984h29.06v1h-29.06zM1373.97 989h29.06v1h-29.06zM1373.97 1002h29.06v1h-29.06zM1373.97 1004h29.06v1h-29.06zM1373.97 1038h29.06v1h-29.06zM1373.97 1040h29.06v1h-29.06zM1373.97 1049h29.06v1h-29.06zM1403.03 873h26.13v1h-26.13zM1403.03 879h26.13v1h-26.13zM1429.16 1134h28.64v1h-28.64zM1429.16 1139h28.64v2h-28.64zM1429.16 1198h28.64v2h-28.64zM1457.79 1131h29.68v1h-29.68zM1457.79 1139h29.68v1h-29.68zM1457.79 1141h29.68v1h-29.68zM1457.79 1187h29.68v2h-29.68zM1487.47 1198h28.64v1h-28.64zM1487.47 1205h28.64v2h-28.64zM1487.47 1212h28.64v1h-28.64zM1516.11 872h28.85v1h-28.85zM1516.11 875h28.85v1h-28.85zM1516.11 879h28.85v1h-28.85zM1516.11 886h28.85v1h-28.85zM1516.11 889h28.85v1h-28.85zM1516.11 901h28.85v2h-28.85zM1516.11 905h28.85v2h-28.85zM1516.11 933h28.85v1h-28.85zM1516.11 942h28.85v1h-28.85zM1516.11 950h28.85v2h-28.85zM1516.11 956h28.85v1h-28.85zM1544.96 886h29.26v1h-29.26zM1544.96 898h29.26v2h-29.26zM1544.96 908h29.26v2h-29.26zM1544.96 913h29.26v1h-29.26zM1544.96 917h29.26v2h-29.26zM1544.96 920h29.26v1h-29.26zM1544.96 923h29.26v1h-29.26zM1544.96 930h29.26v1h-29.26zM1544.96 939h29.26v1h-29.26zM1544.96 980h29.26v1h-29.26zM1544.96 984h29.26v1h-29.26zM1544.96 986h29.26v3h-29.26zM1544.96 996h29.26v1h-29.26zM1544.96 998h29.26v1h-29.26zM1544.96 1006h29.26v1h-29.26zM1574.22 930h25.08v1h-25.08zM1574.22 963h25.08v1h-25.08z"/>
<path fill="#f17674" d="M1257.12 1128h29.68v1h-29.68zM1286.81 1105h29.26v1h-29.26zM1286.81 1108h29.26v1h-29.26zM1286.81 1110h29.26v3h-29.26zM1286.81 1120h29.26v1h-29.26zM1286.81 1122h29.26v1h-29.26zM1286.81 1124h29.26v1h-29.26zM1286.81 1126h29.26v1h-29.26zM1286.81 1129h29.26v1h-29.26zM1344.08 979h29.89v1h-29.89zM1344.08 1042h29.89v1h-29.89zM1344.08 1048h29.89v1h-29.89zM1373.97 949h29.06v1h-29.06zM1373.97 987h29.06v1h-29.06zM1373.97 1012h29.06v1h-29.06zM1373.97 1045h29.06v3h-29.06zM1403.03 872h26.13v1h-26.13zM1403.03 877h26.13v1h-26.13zM1403.03 898h26.13v1h-26.13zM1403.03 905h26.13v1h-26.13zM1429.16 1132h28.64v2h-28.64zM1429.16 1135h28.64v1h-28.64zM1429.16 1141h28.64v1h-28.64zM1487.47 1207h28.64v1h-28.64zM1487.47 1214h28.64v1h-28.64zM1516.11 880h28.85v1h-28.85zM1516.11 887h28.85v1h-28.85zM1516.11 915h28.85v3h-28.85zM1516.11 922h28.85v2h-28.85zM1516.11 943h28.85v1h-28.85zM1544.96 874h29.26v1h-29.26zM1544.96 877h29.26v1h-29.26zM1544.96 895h29.26v1h-29.26zM1544.96 904h29.26v1h-29.26zM1544.96 906h29.26v2h-29.26zM1544.96 911h29.26v2h-29.26zM1544.96 914h29.26v1h-29.26zM1544.96 916h29.26v1h-29.26zM1544.96 921h29.26v1h-29.26zM1544.96 927h29.26v1h-29.26zM1544.96 944h29.26v1h-29.26zM1544.96 979h29.26v1h-29.26zM1544.96 997h29.26v1h-29.26z"/>
<path fill="#f06967" d="M1286.81 1092h29.26v1h-29.26zM1286.81 1109h29.26v1h-29.26zM1286.81 1116h29.26v1h-29.26zM1286.81 1127h29.26v1h-29.26zM1286.81 1165h29.26v1h-29.26zM1344.08 965h29.89v3h-29.89zM1344.08 1043h29.89v2h-29.89zM1344.08 1046h29.89v1h-29.89zM1373.97 969h29.06v3h-29.06zM1373.97 1041h29.06v1h-29.06zM1403.03 903h26.13v2h-26.13zM1429.16 1187h28.64v1h-28.64zM1516.11 914h28.85v1h-28.85zM1516.11 934h28.85v1h-28.85zM1516.11 986h28.85v1h-28.85zM1516.11 1022h28.85v4h-28.85zM1544.96 896h29.26v2h-29.26zM1544.96 900h29.26v1h-29.26zM1544.96 915h29.26v1h-29.26zM1544.96 936h29.26v1h-29.26z"/>
<path fill="#ee5c5a" d="M1286.81 1093h29.26v4h-29.26zM1286.81 1115h29.26v1h-29.26zM1344.08 964h29.89v1h-29.89zM1344.08 1010h29.89v1h-29.89zM1373.97 988h29.06v1h-29.06zM1373.97 1035h29.06v1h-29.06zM1373.97 1048h29.06v1h-29.06zM1516.11 924h28.85v1h-28.85zM1544.96 901h29.26v1h-29.26zM1544.96 905h29.26v1h-29.26zM1544.96 924h29.26v1h-29.26zM1544.96 926h29.26v1h-29.26zM1544.96 933h29.26v1h-29.26zM1544.96 938h29.26v1h-29.26zM1544.96 941h29.26v2h-29.26z"/>
<path fill="#ec4544" d="M1286.81 1114h29.26v1h-29.26zM1344.08 1012h29.89v1h-29.89zM1373.97 1043h29.06v1h-29.06zM1544.96 940h29.26v1h-29.26z"/>
<path fill="#e92e2e" d="M1344.08 962h29.89v1h-29.89zM1344.08 963h29.89v1h-29.89z"/>
<path fill="#7e82c7" d="M1344.08 1061h29.89v1h-29.89zM1344.08 1089h29.89v1h-29.89zM1344.08 1137h29.89v2h-29.89zM1344.08 1140h29.89v1h-29.89zM1373.97 1148h29.06v1h-29.06zM1373.97 1172h29.06v2h-29.06zM1403.03 1090h26.13v1h-26.13zM1457.79 955h29.68v1h-29.68zM1457.79 957h29.68v1h-29.68zM1544.96 1086h29.26v1h-29.26zM1544.96 1174h29.26v1h-29.26zM1544.96 1183h29.26v1h-29.26z"/>
<path fill="#5f64b5" d="M1344.08 1091h29.89v1h-29.89zM1516.11 1057h28.85v1h-28.85z"/>
<path fill="#7478c2" d="M1344.08 1159h29.89v1h-29.89zM1373.97 1062h29.06v1h-29.06zM1403.03 1089h26.13v1h-26.13zM1544.96 1184h29.26v2h-29.26z"/>
<path fill="#ed504f" d="M1373.97 974h29.06v1h-29.06zM1373.97 1042h29.06v1h-29.06zM1373.97 1044h29.06v1h-29.06zM1544.96 925h29.26v1h-29.26zM1544.96 934h29.26v1h-29.26zM1544.96 937h29.26v1h-29.26zM1544.96 943h29.26v1h-29.26z"/>
<path fill="#6a6ebc" d="M1373.97 1063h29.06v2h-29.06zM1516.11 1058h28.85v1h-28.85z"/>
<path fill="#ea3a39" d="M1544.96 935h29.26v1h-29.26z"/>
</g>
</g>
<g class="icon">
<g>
<ellipse cx="1099.86" cy="825.97" rx="29" ry="28" fill="#f3c93d"/>
<circle cx="1087.25" cy="801.62" r="8.2" fill="#f4cb3e"/>
<circle cx="1109.03" cy="799.9" r="8" fill="#f4cb3e"/>
<circle cx="1117.05" cy="807.35" r="9.5" fill="#f4cb3e"/>
<circle cx="1102.15" cy="811.36" r="12" fill="#f4cb3e"/>
<circle cx="1078.08" cy="813.65" r="9.5" fill="#f4cb3e"/>
<circle cx="1072.35" cy="821.1" r="8.5" fill="#f4cb3e"/>
<circle cx="1128.51" cy="815.37" r="6.5" fill="#f4cb3e"/>
<circle cx="1129.08" cy="833.71" r="6.5" fill="#f4cb3e"/>
<circle cx="1091.26" cy="826.26" r="10" fill="#f4cb3e"/>
<circle cx="1117.62" cy="828.55" r="11" fill="#f4cb3e"/>
<circle cx="1074.64" cy="836.58" r="8.5" fill="#f4cb3e"/>
<circle cx="1074.07" cy="848.61" r="8.5" fill="#f4cb3e"/>
<circle cx="1090.11" cy="845.17" r="10" fill="#f4cb3e"/>
<circle cx="1091.83" cy="852.05" r="6" fill="#f4cb3e"/>
<circle cx="1107.31" cy="848.04" r="11.5" fill="#f4cb3e"/>
<circle cx="1113.04" cy="839.44" r="11" fill="#f4cb3e"/>
<circle cx="1100.43" cy="830.85" r="10" fill="#f4cb3e"/>
<circle cx="1121.63" cy="821.68" r="9" fill="#f4cb3e"/>
<circle cx="1087.25" cy="801.62" r="8.2" fill="url(#wg)"/>
<circle cx="1109.03" cy="799.9" r="8" fill="url(#wg)"/>
<circle cx="1117.05" cy="807.35" r="9.5" fill="url(#wg)"/>
<circle cx="1102.15" cy="811.36" r="12" fill="url(#wg)"/>
<circle cx="1078.08" cy="813.65" r="9.5" fill="url(#wg)"/>
<circle cx="1072.35" cy="821.1" r="8.5" fill="url(#wg)"/>
<circle cx="1128.51" cy="815.37" r="6.5" fill="url(#wg)"/>
<circle cx="1129.08" cy="833.71" r="6.5" fill="url(#wg)"/>
<circle cx="1091.26" cy="826.26" r="10" fill="url(#wg)"/>
<circle cx="1117.62" cy="828.55" r="11" fill="url(#wg)"/>
<circle cx="1074.64" cy="836.58" r="8.5" fill="url(#wg)"/>
<circle cx="1074.07" cy="848.61" r="8.5" fill="url(#wg)"/>
<circle cx="1090.11" cy="845.17" r="10" fill="url(#wg)"/>
<circle cx="1091.83" cy="852.05" r="6" fill="url(#wg)"/>
<circle cx="1107.31" cy="848.04" r="11.5" fill="url(#wg)"/>
<circle cx="1113.04" cy="839.44" r="11" fill="url(#wg)"/>
<circle cx="1100.43" cy="830.85" r="10" fill="url(#wg)"/>
<circle cx="1121.63" cy="821.68" r="9" fill="url(#wg)"/>
<ellipse cx="1086.1" cy="799.33" rx="3.6" ry="2.6" fill="#a8841f" transform="rotate(-30 1086.1 799.33)"/>
<ellipse cx="1109.03" cy="796.46" rx="4.2" ry="3" fill="#a8841f" transform="rotate(10 1109.03 796.46)"/>
<ellipse cx="1103.01" cy="804.2" rx="4.2" ry="2.4" fill="#a8841f" transform="rotate(0 1103.01 804.2)"/>
<ellipse cx="1115.9" cy="801.91" rx="3.2" ry="2.2" fill="#a8841f" transform="rotate(10 1115.9 801.91)"/>
<ellipse cx="1079.51" cy="810.21" rx="2.8" ry="2" fill="#a8841f" transform="rotate(-40 1079.51 810.21)"/>
<ellipse cx="1070.63" cy="817.09" rx="4.3" ry="3" fill="#a8841f" transform="rotate(-30 1070.63 817.09)"/>
<ellipse cx="1129.66" cy="812.51" rx="3.2" ry="3" fill="#a8841f" transform="rotate(50 1129.66 812.51)"/>
<ellipse cx="1091.26" cy="823.4" rx="4.3" ry="2.6" fill="#a8841f" transform="rotate(10 1091.26 823.4)"/>
<ellipse cx="1117.34" cy="826.26" rx="4.2" ry="2.4" fill="#a8841f" transform="rotate(0 1117.34 826.26)"/>
<ellipse cx="1103.58" cy="827.41" rx="2.6" ry="3.2" fill="#a8841f" transform="rotate(0 1103.58 827.41)"/>
<ellipse cx="1081.81" cy="831.42" rx="3.2" ry="1.8" fill="#a8841f" transform="rotate(40 1081.81 831.42)"/>
<ellipse cx="1071.78" cy="835.43" rx="3.2" ry="4" fill="#a8841f" transform="rotate(-20 1071.78 835.43)"/>
<ellipse cx="1130.23" cy="833.14" rx="2.4" ry="3.8" fill="#a8841f" transform="rotate(0 1130.23 833.14)"/>
<ellipse cx="1099.28" cy="841.73" rx="2.6" ry="3" fill="#a8841f" transform="rotate(20 1099.28 841.73)"/>
<ellipse cx="1108.17" cy="844.03" rx="3.8" ry="3.2" fill="#a8841f" transform="rotate(40 1108.17 844.03)"/>
<ellipse cx="1086.68" cy="845.17" rx="2.8" ry="2.2" fill="#a8841f" transform="rotate(40 1086.68 845.17)"/>
<ellipse cx="1072.35" cy="850.33" rx="3.8" ry="3.2" fill="#a8841f" transform="rotate(30 1072.35 850.33)"/>
<ellipse cx="1091.55" cy="853.77" rx="3.4" ry="2" fill="#a8841f" transform="rotate(0 1091.55 853.77)"/>
<ellipse cx="1109.6" cy="854.34" rx="3.6" ry="3" fill="#a8841f" transform="rotate(-30 1109.6 854.34)"/>
</g>
</g>
<g class="colorbar">
<rect x="1147.3" y="915.4" width="25.9" height="268.6" fill="url(#cbg)"/>
<line x1="1181.2" y1="914.8" x2="1181.2" y2="1183" stroke="#000" stroke-width="2.9"/>
<line x1="1181.2" y1="916.2" x2="1188.7" y2="916.2" stroke="#000" stroke-width="2.8"/>
<line x1="1181.2" y1="983" x2="1188.7" y2="983" stroke="#000" stroke-width="2.8"/>
<line x1="1181.2" y1="1049.3" x2="1188.7" y2="1049.3" stroke="#000" stroke-width="2.8"/>
<line x1="1181.2" y1="1115.8" x2="1188.7" y2="1115.8" stroke="#000" stroke-width="2.8"/>
<line x1="1181.2" y1="1181.6" x2="1188.7" y2="1181.6" stroke="#000" stroke-width="2.8"/>
<text x="1201.8" y="928.8" font-size="34">4</text>
<text x="1201.8" y="1060.3" font-size="34">0</text>
<text x="1190.5" y="1192.2" font-size="34" textLength="36.5" lengthAdjust="spacing">−4</text>
<text x="1131.2" y="1190" font-size="32" font-weight="bold" transform="rotate(-90 1131.2 1190)" textLength="278.5" lengthAdjust="spacing" stroke="#000" stroke-width="0.4">Abundance [A.U.]</text>
</g>
<g class="groups">
<line x1="1262.1" y1="1223.5" x2="1335" y2="1223.5" stroke="#000" stroke-width="3"/>
<line x1="1350.1" y1="1223.5" x2="1422.7" y2="1223.5" stroke="#000" stroke-width="3"/>
<line x1="1433.2" y1="1223.5" x2="1505.9" y2="1223.5" stroke="#000" stroke-width="3"/>
<line x1="1520.2" y1="1223.5" x2="1593.5" y2="1223.5" stroke="#000" stroke-width="3"/>
<text x="1317" y="1247" font-size="42" text-anchor="end" transform="rotate(-45 1317 1247)">AL</text>
<text x="1408.4" y="1247" font-size="42" text-anchor="end" transform="rotate(-45 1408.4 1247)">DR</text>
<text x="1487" y="1247" font-size="42" text-anchor="end" transform="rotate(-45 1487 1247)">AL (5m)</text>
<text x="1583.2" y="1246.5" font-size="42" text-anchor="end" transform="rotate(-45 1583.2 1246.5)">ALDR (5m)</text>
</g>
<g class="title">
<text x="1155.5" y="842.9" font-size="42" font-weight="bold" textLength="511" lengthAdjust="spacing" stroke="#000" stroke-width="0.5">ALDR switch-resistant genes</text>
</g>
<g class="panel-label">
<text x="921.3" y="789.7" font-size="51" font-weight="bold">d</text>
</g>
</g>
</svg>
</figure>
</main>
</body>
</html>
